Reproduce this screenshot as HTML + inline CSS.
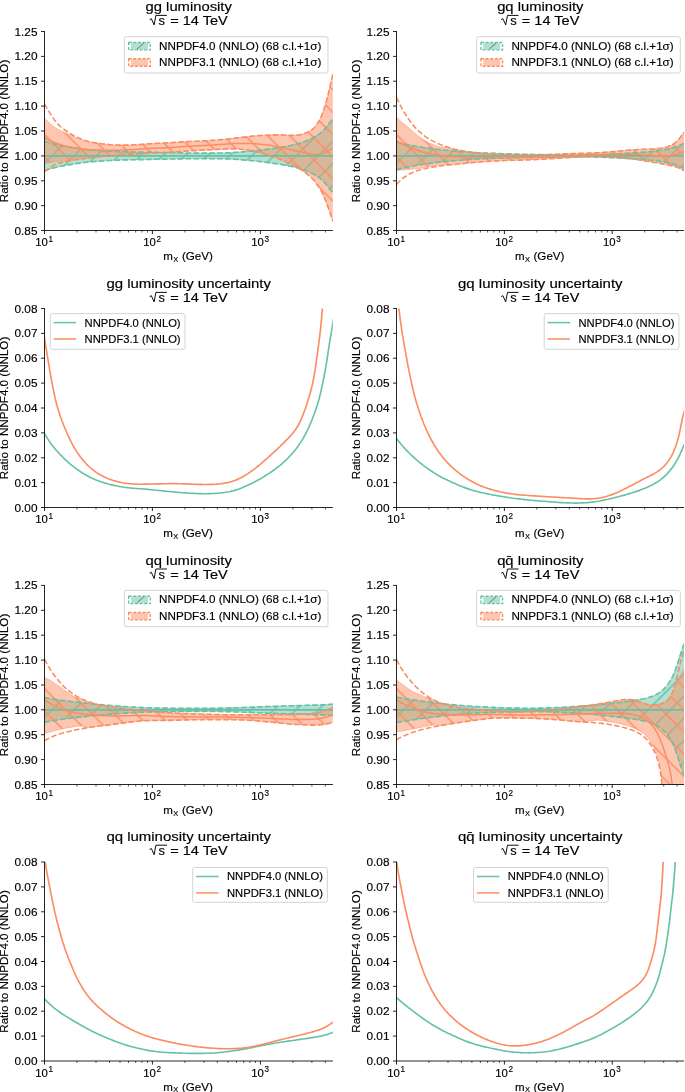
<!DOCTYPE html>
<html lang="en"><head><meta charset="utf-8"><title>PDF luminosities</title>
<style>html,body{margin:0;padding:0;background:#fff}svg{display:block;will-change:transform}</style></head>
<body>
<svg width="685" height="1092" viewBox="0 0 685 1092" font-family='"Liberation Sans", sans-serif' style="display:block;background:#fff">
<style>text{stroke:#000;stroke-width:0.16px;stroke-linejoin:round}</style>
<rect width="685" height="1092" fill="#fff"/>
<defs>
<pattern id="hg00" patternUnits="userSpaceOnUse" x="7.90" y="0" width="22.2" height="22.2"><path d="M-2,2 L2,-2 M-2,24.2 L24.2,-2 M20.2,24.2 L24.2,20.2" stroke="#66c2a5" stroke-width="1.45" fill="none"/></pattern>
<pattern id="ho00" patternUnits="userSpaceOnUse" x="0" y="1.40" width="22.2" height="22.2"><path d="M-2,20.2 L2,24.2 M-2,-2 L24.2,24.2 M20.2,-2 L24.2,2" stroke="#fc8d62" stroke-width="1.45" fill="none"/></pattern>
<pattern id="hg01" patternUnits="userSpaceOnUse" x="4.70" y="0" width="22.2" height="22.2"><path d="M-2,2 L2,-2 M-2,24.2 L24.2,-2 M20.2,24.2 L24.2,20.2" stroke="#66c2a5" stroke-width="1.45" fill="none"/></pattern>
<pattern id="ho01" patternUnits="userSpaceOnUse" x="0" y="4.60" width="22.2" height="22.2"><path d="M-2,20.2 L2,24.2 M-2,-2 L24.2,24.2 M20.2,-2 L24.2,2" stroke="#fc8d62" stroke-width="1.45" fill="none"/></pattern>
<pattern id="hg20" patternUnits="userSpaceOnUse" x="6.90" y="0" width="22.2" height="22.2"><path d="M-2,2 L2,-2 M-2,24.2 L24.2,-2 M20.2,24.2 L24.2,20.2" stroke="#66c2a5" stroke-width="1.45" fill="none"/></pattern>
<pattern id="ho20" patternUnits="userSpaceOnUse" x="0" y="0.40" width="22.2" height="22.2"><path d="M-2,20.2 L2,24.2 M-2,-2 L24.2,24.2 M20.2,-2 L24.2,2" stroke="#fc8d62" stroke-width="1.45" fill="none"/></pattern>
<pattern id="hg21" patternUnits="userSpaceOnUse" x="3.70" y="0" width="22.2" height="22.2"><path d="M-2,2 L2,-2 M-2,24.2 L24.2,-2 M20.2,24.2 L24.2,20.2" stroke="#66c2a5" stroke-width="1.45" fill="none"/></pattern>
<pattern id="ho21" patternUnits="userSpaceOnUse" x="0" y="3.60" width="22.2" height="22.2"><path d="M-2,20.2 L2,24.2 M-2,-2 L24.2,24.2 M20.2,-2 L24.2,2" stroke="#fc8d62" stroke-width="1.45" fill="none"/></pattern>
<clipPath id="cp00"><rect x="44.5" y="31.5" width="288.4" height="199.0"/></clipPath>
<clipPath id="cp01"><rect x="396.5" y="31.5" width="287.6" height="199.0"/></clipPath>
<clipPath id="cp10"><rect x="44.5" y="308.5" width="288.4" height="199.0"/></clipPath>
<clipPath id="cp11"><rect x="396.5" y="308.5" width="287.6" height="199.0"/></clipPath>
<clipPath id="cp20"><rect x="44.5" y="585.4" width="288.4" height="199.1"/></clipPath>
<clipPath id="cp21"><rect x="396.5" y="585.4" width="287.6" height="199.1"/></clipPath>
<clipPath id="cp30"><rect x="44.5" y="862.0" width="288.4" height="199.0"/></clipPath>
<clipPath id="cp31"><rect x="396.5" y="862.0" width="287.6" height="199.0"/></clipPath>
</defs>
<g clip-path="url(#cp10)" fill="none" stroke-width="1.65" stroke-linejoin="round">
<path d="M42.5,430.5 L43.3,431.8 L44.1,433.1 L44.9,434.4 L45.7,435.6 L46.5,436.9 L47.3,438.2 L48.1,439.4 L48.9,440.7 L49.8,441.9 L50.6,443.2 L51.5,444.4 L52.4,445.6 L53.3,446.7 L54.3,447.9 L55.2,449.0 L56.2,450.2 L57.2,451.3 L58.2,452.4 L59.2,453.5 L60.3,454.6 L61.3,455.7 L62.4,456.7 L63.4,457.8 L64.5,458.9 L65.6,459.9 L66.7,460.9 L67.8,461.9 L68.9,462.9 L70.0,463.9 L71.2,464.9 L72.4,465.8 L73.5,466.7 L74.7,467.6 L75.9,468.5 L77.1,469.4 L78.4,470.3 L79.6,471.1 L80.8,472.0 L82.1,472.8 L83.4,473.6 L84.7,474.3 L86.0,475.1 L87.3,475.8 L88.6,476.5 L89.9,477.2 L91.3,477.9 L92.6,478.5 L94.0,479.1 L95.4,479.7 L96.8,480.2 L98.2,480.7 L99.6,481.2 L101.0,481.7 L102.4,482.2 L103.9,482.7 L105.3,483.1 L106.7,483.5 L108.2,484.0 L109.6,484.4 L111.1,484.7 L112.5,485.1 L114.0,485.4 L115.4,485.7 L116.9,486.0 L118.4,486.3 L119.9,486.6 L121.3,486.8 L122.8,487.0 L124.3,487.3 L125.8,487.5 L127.3,487.6 L128.8,487.8 L130.3,488.0 L131.7,488.1 L133.2,488.2 L134.7,488.4 L136.2,488.5 L137.7,488.6 L139.2,488.7 L140.7,488.8 L142.2,488.9 L143.7,489.0 L145.2,489.1 L146.7,489.3 L148.2,489.4 L149.7,489.6 L151.2,489.7 L152.7,489.9 L154.2,490.0 L155.7,490.2 L157.1,490.3 L158.6,490.5 L160.1,490.6 L161.6,490.8 L163.1,490.9 L164.6,491.1 L166.1,491.2 L167.6,491.4 L169.1,491.5 L170.6,491.7 L172.1,491.8 L173.6,492.0 L175.1,492.1 L176.5,492.2 L178.0,492.4 L179.5,492.5 L181.0,492.6 L182.5,492.7 L184.0,492.8 L185.5,492.9 L187.0,493.0 L188.5,493.1 L190.0,493.2 L191.5,493.3 L193.0,493.4 L194.5,493.4 L196.0,493.5 L197.5,493.5 L199.0,493.6 L200.5,493.6 L202.0,493.6 L203.5,493.7 L205.0,493.7 L206.5,493.7 L208.0,493.6 L209.5,493.6 L211.0,493.6 L212.5,493.5 L214.0,493.5 L215.5,493.4 L217.0,493.3 L218.5,493.2 L220.0,493.0 L221.5,492.9 L223.0,492.7 L224.4,492.5 L225.9,492.3 L227.4,492.0 L228.9,491.8 L230.3,491.5 L231.8,491.1 L233.2,490.8 L234.7,490.4 L236.1,489.9 L237.5,489.5 L239.0,489.0 L240.4,488.4 L241.7,487.9 L243.1,487.3 L244.5,486.7 L245.9,486.1 L247.2,485.5 L248.6,484.8 L249.9,484.2 L251.3,483.5 L252.6,482.9 L254.0,482.2 L255.3,481.5 L256.7,480.8 L258.0,480.1 L259.3,479.4 L260.6,478.7 L261.9,477.9 L263.2,477.1 L264.4,476.3 L265.7,475.5 L267.0,474.7 L268.2,473.9 L269.5,473.1 L270.7,472.2 L272.0,471.4 L273.2,470.5 L274.4,469.7 L275.6,468.8 L276.8,467.9 L278.0,467.0 L279.2,466.1 L280.3,465.1 L281.5,464.1 L282.6,463.2 L283.7,462.2 L284.8,461.1 L285.9,460.1 L287.0,459.1 L288.1,458.0 L289.1,456.9 L290.1,455.8 L291.1,454.7 L292.1,453.6 L293.1,452.5 L294.1,451.3 L295.0,450.2 L296.0,449.0 L296.9,447.8 L297.7,446.6 L298.6,445.4 L299.5,444.1 L300.3,442.9 L301.1,441.6 L301.9,440.4 L302.7,439.1 L303.4,437.8 L304.2,436.5 L304.9,435.2 L305.6,433.8 L306.3,432.5 L306.9,431.2 L307.6,429.8 L308.2,428.5 L308.9,427.1 L309.5,425.7 L310.1,424.4 L310.7,423.0 L311.3,421.6 L311.8,420.2 L312.4,418.8 L312.9,417.4 L313.4,416.0 L314.0,414.6 L314.5,413.2 L315.0,411.8 L315.5,410.4 L316.0,408.9 L316.4,407.5 L316.9,406.1 L317.4,404.7 L317.8,403.2 L318.2,401.8 L318.7,400.4 L319.1,398.9 L319.4,397.5 L319.8,396.0 L320.2,394.6 L320.5,393.1 L320.9,391.6 L321.2,390.2 L321.5,388.7 L321.8,387.2 L322.1,385.8 L322.5,384.3 L322.8,382.8 L323.1,381.4 L323.4,379.9 L323.6,378.4 L323.9,377.0 L324.2,375.5 L324.5,374.0 L324.8,372.5 L325.1,371.1 L325.3,369.6 L325.6,368.1 L325.9,366.6 L326.1,365.2 L326.4,363.7 L326.6,362.2 L326.9,360.7 L327.1,359.2 L327.3,357.8 L327.5,356.3 L327.7,354.8 L328.0,353.3 L328.2,351.8 L328.4,350.3 L328.6,348.9 L328.8,347.4 L329.1,345.9 L329.3,344.4 L329.5,342.9 L329.8,341.4 L330.0,340.0 L330.3,338.5 L330.5,337.0 L330.8,335.5 L331.0,334.1 L331.3,332.6 L331.5,331.1 L331.8,329.6 L332.0,328.1 L332.3,326.7 L332.5,325.2 L332.8,323.7 L333.0,322.2 L333.2,320.7 L333.5,319.3 L333.7,317.8 L333.9,316.3 L334.2,314.8 L334.4,313.3 L334.6,311.8 L334.9,310.4" stroke="#66c2a5"/>
<path d="M43.0,327.2 L43.2,328.7 L43.4,330.2 L43.6,331.7 L43.9,333.2 L44.1,334.6 L44.3,336.1 L44.5,337.6 L44.7,339.1 L44.9,340.6 L45.1,342.1 L45.3,343.6 L45.6,345.0 L45.8,346.5 L46.0,348.0 L46.3,349.5 L46.5,351.0 L46.8,352.4 L47.0,353.9 L47.3,355.4 L47.5,356.9 L47.8,358.4 L48.0,359.8 L48.3,361.3 L48.5,362.8 L48.8,364.3 L49.0,365.8 L49.3,367.2 L49.5,368.7 L49.7,370.2 L50.0,371.7 L50.2,373.1 L50.5,374.6 L50.8,376.1 L51.0,377.6 L51.3,379.1 L51.6,380.5 L51.8,382.0 L52.1,383.5 L52.4,384.9 L52.7,386.4 L53.0,387.9 L53.3,389.4 L53.6,390.8 L53.9,392.3 L54.2,393.8 L54.5,395.2 L54.8,396.7 L55.1,398.2 L55.5,399.6 L55.8,401.1 L56.2,402.5 L56.6,404.0 L56.9,405.4 L57.4,406.9 L57.8,408.3 L58.2,409.8 L58.7,411.2 L59.1,412.6 L59.6,414.0 L60.0,415.5 L60.5,416.9 L61.0,418.3 L61.6,419.7 L62.1,421.1 L62.6,422.5 L63.2,423.9 L63.7,425.3 L64.3,426.7 L64.9,428.1 L65.5,429.4 L66.1,430.8 L66.6,432.2 L67.2,433.6 L67.8,435.0 L68.5,436.3 L69.1,437.7 L69.7,439.0 L70.4,440.4 L71.0,441.7 L71.7,443.1 L72.4,444.4 L73.1,445.7 L73.9,447.0 L74.6,448.3 L75.4,449.6 L76.2,450.9 L77.0,452.1 L77.8,453.4 L78.7,454.6 L79.6,455.8 L80.5,457.0 L81.4,458.2 L82.3,459.4 L83.3,460.5 L84.3,461.6 L85.3,462.8 L86.3,463.9 L87.3,464.9 L88.4,466.0 L89.5,467.0 L90.6,468.0 L91.7,469.0 L92.9,469.9 L94.1,470.8 L95.3,471.7 L96.5,472.6 L97.8,473.4 L99.1,474.2 L100.3,474.9 L101.7,475.6 L103.0,476.3 L104.3,477.0 L105.7,477.6 L107.0,478.2 L108.4,478.8 L109.8,479.3 L111.2,479.8 L112.7,480.3 L114.1,480.7 L115.5,481.1 L117.0,481.5 L118.4,481.9 L119.9,482.2 L121.4,482.5 L122.8,482.8 L124.3,483.1 L125.8,483.3 L127.3,483.5 L128.8,483.7 L130.2,483.8 L131.7,483.9 L133.2,484.0 L134.7,484.1 L136.2,484.1 L137.7,484.2 L139.2,484.2 L140.7,484.2 L142.2,484.2 L143.7,484.1 L145.2,484.1 L146.7,484.1 L148.2,484.1 L149.7,484.0 L151.2,484.0 L152.7,484.0 L154.2,483.9 L155.7,483.9 L157.2,483.9 L158.7,483.8 L160.2,483.8 L161.7,483.8 L163.2,483.7 L164.7,483.7 L166.2,483.7 L167.7,483.7 L169.2,483.6 L170.7,483.6 L172.2,483.6 L173.7,483.6 L175.2,483.6 L176.7,483.6 L178.2,483.7 L179.7,483.7 L181.2,483.7 L182.7,483.8 L184.2,483.8 L185.7,483.9 L187.2,483.9 L188.7,484.0 L190.2,484.1 L191.7,484.1 L193.2,484.2 L194.7,484.2 L196.2,484.3 L197.7,484.3 L199.2,484.4 L200.7,484.4 L202.2,484.4 L203.7,484.5 L205.2,484.5 L206.7,484.5 L208.2,484.4 L209.7,484.4 L211.2,484.4 L212.7,484.3 L214.2,484.3 L215.7,484.2 L217.2,484.1 L218.7,484.0 L220.2,483.8 L221.7,483.6 L223.1,483.4 L224.6,483.2 L226.1,482.9 L227.6,482.6 L229.0,482.3 L230.5,481.9 L231.9,481.5 L233.3,481.0 L234.7,480.5 L236.1,479.9 L237.5,479.4 L238.8,478.7 L240.2,478.1 L241.5,477.4 L242.8,476.7 L244.1,475.9 L245.4,475.2 L246.7,474.4 L247.9,473.6 L249.2,472.7 L250.4,471.9 L251.6,471.0 L252.9,470.1 L254.1,469.2 L255.3,468.3 L256.5,467.4 L257.6,466.5 L258.8,465.6 L260.0,464.6 L261.1,463.6 L262.2,462.7 L263.4,461.7 L264.5,460.7 L265.6,459.7 L266.8,458.7 L267.9,457.7 L269.0,456.7 L270.1,455.7 L271.2,454.7 L272.3,453.7 L273.4,452.7 L274.5,451.7 L275.6,450.6 L276.7,449.6 L277.8,448.6 L278.9,447.5 L280.0,446.5 L281.0,445.4 L282.1,444.4 L283.2,443.3 L284.2,442.3 L285.3,441.2 L286.3,440.1 L287.4,439.1 L288.4,438.0 L289.5,436.9 L290.5,435.8 L291.5,434.7 L292.4,433.5 L293.4,432.4 L294.3,431.2 L295.2,430.0 L296.1,428.8 L296.9,427.5 L297.7,426.3 L298.4,425.0 L299.1,423.7 L299.8,422.3 L300.5,421.0 L301.1,419.6 L301.6,418.2 L302.2,416.8 L302.8,415.4 L303.3,414.0 L303.8,412.6 L304.3,411.2 L304.9,409.8 L305.4,408.4 L305.9,407.0 L306.3,405.6 L306.8,404.2 L307.3,402.7 L307.7,401.3 L308.2,399.9 L308.6,398.4 L309.1,397.0 L309.5,395.6 L309.9,394.1 L310.3,392.7 L310.7,391.2 L311.1,389.8 L311.5,388.3 L311.8,386.9 L312.2,385.4 L312.5,384.0 L312.8,382.5 L313.1,381.0 L313.4,379.6 L313.7,378.1 L314.0,376.6 L314.2,375.1 L314.5,373.6 L314.7,372.2 L314.9,370.7 L315.2,369.2 L315.4,367.7 L315.6,366.2 L315.8,364.8 L316.0,363.3 L316.2,361.8 L316.4,360.3 L316.7,358.8 L316.9,357.3 L317.1,355.8 L317.3,354.4 L317.5,352.9 L317.7,351.4 L317.9,349.9 L318.1,348.4 L318.3,346.9 L318.5,345.4 L318.7,344.0 L318.9,342.5 L319.1,341.0 L319.3,339.5 L319.5,338.0 L319.7,336.5 L319.9,335.0 L320.0,333.5 L320.2,332.0 L320.4,330.6 L320.5,329.1 L320.7,327.6 L320.8,326.1 L321.0,324.6 L321.1,323.1 L321.2,321.6 L321.4,320.1 L321.5,318.6 L321.7,317.1 L321.8,315.6 L321.9,314.1 L322.0,312.6 L322.2,311.1 L322.3,309.6 L322.4,308.1 L322.5,306.7 L322.6,305.2 L322.8,303.7 L322.9,302.2 L323.0,300.7 L323.1,299.2 L323.3,297.7 L323.4,296.2 L323.5,294.7 L323.6,293.2 L323.7,291.7 L323.9,290.2 L324.0,288.7 L324.1,287.2 L324.2,285.7 L324.3,284.2 L324.4,282.7 L324.5,281.2 L324.7,279.7 L324.8,278.2 L324.9,276.7 L325.0,275.2 L325.1,273.8 L325.2,272.3 L325.3,270.8 L325.4,269.3 L325.5,267.8 L325.6,266.3 L325.7,264.8 L325.8,263.3 L325.9,261.8 L326.0,260.3 L326.1,258.8 L326.2,257.3 L326.3,255.8 L326.4,254.3 L326.5,252.8 L326.6,251.3 L326.7,249.8 L326.8,248.3 L326.8,246.8 L326.9,245.3 L327.0,243.8 L327.1,242.3 L327.2,240.8 L327.3,239.3 L327.4,237.8 L327.5,236.3 L327.6,234.8 L327.7,233.3 L327.7,231.8 L327.8,230.3 L327.9,228.8 L328.0,227.3 L328.1,225.8 L328.2,224.3 L328.3,222.9 L328.4,221.4 L328.4,219.9 L328.5,218.4 L328.6,216.9 L328.7,215.4 L328.8,213.9 L328.9,212.4 L329.0,210.9 L329.0,209.4 L329.1,207.9 L329.2,206.4 L329.3,204.9 L329.4,203.4 L329.5,201.9 L329.6,200.4 L329.6,198.9 L329.7,197.4 L329.8,195.9 L329.9,194.4 L330.0,192.9 L330.1,191.4 L330.1,189.9 L330.2,188.4 L330.3,186.9 L330.4,185.4 L330.5,183.9 L330.6,182.4 L330.6,180.9 L330.7,179.4 L330.8,177.9 L330.9,176.4 L331.0,174.9 L331.0,173.4 L331.1,171.9 L331.2,170.4 L331.3,168.9 L331.4,167.4 L331.4,165.9 L331.5,164.4 L331.6,162.9 L331.7,161.4 L331.8,159.9 L331.8,158.5 L331.9,157.0 L332.0,155.5 L332.1,154.0 L332.2,152.5 L332.2,151.0 L332.3,149.5 L332.4,148.0 L332.5,146.5 L332.5,145.0 L332.6,143.5 L332.7,142.0 L332.8,140.5 L332.9,139.0 L332.9,137.5 L333.0,136.0 L333.1,134.5 L333.2,133.0 L333.3,131.5 L333.3,130.0 L333.4,128.5 L333.5,127.0 L333.6,125.5 L333.7,124.0 L333.7,122.5 L333.8,121.0 L333.9,119.5 L334.0,118.0 L334.1,116.5" stroke="#fc8d62"/>
</g>
<g clip-path="url(#cp00)" stroke-linejoin="round">
<path d="M44.5,141.1 L46.0,141.6 L47.5,142.1 L49.0,142.5 L50.5,143.0 L52.0,143.4 L53.5,143.8 L55.0,144.1 L56.5,144.5 L58.0,144.8 L59.5,145.1 L61.0,145.4 L62.5,145.8 L64.0,146.0 L65.5,146.3 L67.0,146.6 L68.5,146.9 L70.0,147.1 L71.5,147.4 L73.0,147.6 L74.5,147.9 L76.0,148.1 L77.5,148.3 L79.0,148.5 L80.5,148.7 L82.0,148.9 L83.5,149.1 L85.0,149.3 L86.5,149.5 L88.0,149.6 L89.5,149.8 L91.0,149.9 L92.5,150.1 L94.0,150.2 L95.5,150.3 L97.0,150.4 L98.5,150.5 L100.0,150.7 L101.5,150.8 L103.0,150.9 L104.5,150.9 L106.0,151.0 L107.5,151.1 L109.0,151.2 L110.5,151.3 L112.0,151.4 L113.5,151.4 L115.0,151.5 L116.5,151.6 L118.0,151.6 L119.5,151.7 L121.0,151.7 L122.5,151.8 L124.0,151.8 L125.5,151.9 L127.0,151.9 L128.5,151.9 L130.0,152.0 L131.5,152.0 L133.0,152.0 L134.5,152.0 L136.0,152.1 L137.5,152.1 L139.0,152.1 L140.5,152.1 L142.0,152.1 L143.5,152.2 L145.0,152.2 L146.5,152.2 L148.0,152.3 L149.5,152.3 L151.0,152.3 L152.5,152.3 L154.0,152.4 L155.5,152.4 L157.0,152.4 L158.5,152.5 L160.0,152.5 L161.5,152.5 L163.0,152.6 L164.5,152.6 L166.0,152.6 L167.5,152.6 L169.0,152.7 L170.5,152.7 L172.0,152.7 L173.5,152.8 L175.0,152.8 L176.5,152.8 L178.0,152.8 L179.5,152.9 L181.0,152.9 L182.5,152.9 L184.0,152.9 L185.5,153.0 L187.0,153.0 L188.5,153.0 L190.0,153.0 L191.5,153.0 L193.0,153.0 L194.5,153.1 L196.0,153.1 L197.5,153.1 L199.0,153.1 L200.5,153.1 L202.0,153.1 L203.5,153.1 L205.0,153.1 L206.5,153.1 L208.0,153.1 L209.5,153.1 L211.0,153.1 L212.5,153.1 L214.0,153.1 L215.5,153.1 L217.0,153.0 L218.5,153.0 L220.0,153.0 L221.5,153.0 L223.0,152.9 L224.5,152.9 L226.0,152.8 L227.5,152.8 L229.0,152.7 L230.5,152.7 L232.0,152.6 L233.5,152.5 L235.0,152.4 L236.5,152.3 L238.0,152.2 L239.5,152.1 L241.0,152.0 L242.5,151.9 L244.0,151.8 L245.5,151.6 L247.0,151.5 L248.5,151.4 L250.0,151.2 L251.5,151.1 L253.0,150.9 L254.5,150.8 L256.0,150.6 L257.5,150.5 L259.0,150.3 L260.5,150.1 L262.0,149.9 L263.5,149.8 L265.0,149.6 L266.5,149.4 L268.0,149.2 L269.5,149.0 L271.0,148.8 L272.5,148.6 L274.0,148.4 L275.5,148.2 L277.0,147.9 L278.5,147.7 L280.0,147.5 L281.5,147.2 L283.0,146.9 L284.5,146.7 L286.0,146.4 L287.5,146.1 L289.0,145.8 L290.5,145.5 L292.0,145.1 L293.5,144.8 L295.0,144.4 L296.5,144.0 L298.0,143.6 L299.5,143.2 L301.0,142.7 L302.5,142.3 L304.0,141.7 L305.5,141.2 L307.0,140.6 L308.5,140.0 L310.0,139.3 L311.5,138.6 L313.0,137.8 L314.5,137.0 L316.0,136.1 L317.5,135.2 L319.0,134.2 L320.5,133.0 L322.0,131.7 L323.5,130.2 L325.0,128.7 L326.5,127.0 L328.0,125.0 L329.5,123.0 L331.0,121.2 L332.9,118.9 L332.9,192.8 L331.0,190.5 L329.5,188.8 L328.0,186.8 L326.5,184.8 L325.0,183.1 L323.5,181.5 L322.0,180.1 L320.5,178.7 L319.0,177.5 L317.5,176.5 L316.0,175.6 L314.5,174.7 L313.0,173.9 L311.5,173.2 L310.0,172.5 L308.5,171.8 L307.0,171.2 L305.5,170.6 L304.0,170.0 L302.5,169.5 L301.0,169.0 L299.5,168.6 L298.0,168.1 L296.5,167.7 L295.0,167.3 L293.5,167.0 L292.0,166.6 L290.5,166.3 L289.0,166.0 L287.5,165.7 L286.0,165.4 L284.5,165.1 L283.0,164.8 L281.5,164.5 L280.0,164.3 L278.5,164.1 L277.0,163.8 L275.5,163.6 L274.0,163.4 L272.5,163.2 L271.0,163.0 L269.5,162.8 L268.0,162.6 L266.5,162.4 L265.0,162.2 L263.5,162.0 L262.0,161.8 L260.5,161.6 L259.0,161.5 L257.5,161.3 L256.0,161.1 L254.5,161.0 L253.0,160.8 L251.5,160.7 L250.0,160.5 L248.5,160.4 L247.0,160.3 L245.5,160.1 L244.0,160.0 L242.5,159.9 L241.0,159.7 L239.5,159.6 L238.0,159.5 L236.5,159.4 L235.0,159.3 L233.5,159.2 L232.0,159.2 L230.5,159.1 L229.0,159.0 L227.5,159.0 L226.0,158.9 L224.5,158.9 L223.0,158.8 L221.5,158.8 L220.0,158.8 L218.5,158.7 L217.0,158.7 L215.5,158.7 L214.0,158.7 L212.5,158.7 L211.0,158.7 L209.5,158.7 L208.0,158.6 L206.5,158.6 L205.0,158.6 L203.5,158.6 L202.0,158.6 L200.5,158.7 L199.0,158.7 L197.5,158.7 L196.0,158.7 L194.5,158.7 L193.0,158.7 L191.5,158.7 L190.0,158.7 L188.5,158.8 L187.0,158.8 L185.5,158.8 L184.0,158.8 L182.5,158.8 L181.0,158.9 L179.5,158.9 L178.0,158.9 L176.5,158.9 L175.0,159.0 L173.5,159.0 L172.0,159.0 L170.5,159.0 L169.0,159.1 L167.5,159.1 L166.0,159.1 L164.5,159.2 L163.0,159.2 L161.5,159.2 L160.0,159.3 L158.5,159.3 L157.0,159.3 L155.5,159.3 L154.0,159.4 L152.5,159.4 L151.0,159.4 L149.5,159.5 L148.0,159.5 L146.5,159.5 L145.0,159.6 L143.5,159.6 L142.0,159.6 L140.5,159.6 L139.0,159.6 L137.5,159.7 L136.0,159.7 L134.5,159.7 L133.0,159.7 L131.5,159.8 L130.0,159.8 L128.5,159.8 L127.0,159.9 L125.5,159.9 L124.0,159.9 L122.5,160.0 L121.0,160.0 L119.5,160.1 L118.0,160.1 L116.5,160.2 L115.0,160.2 L113.5,160.3 L112.0,160.4 L110.5,160.5 L109.0,160.5 L107.5,160.6 L106.0,160.7 L104.5,160.8 L103.0,160.9 L101.5,161.0 L100.0,161.1 L98.5,161.2 L97.0,161.3 L95.5,161.4 L94.0,161.6 L92.5,161.7 L91.0,161.8 L89.5,162.0 L88.0,162.1 L86.5,162.3 L85.0,162.5 L83.5,162.6 L82.0,162.8 L80.5,163.0 L79.0,163.2 L77.5,163.4 L76.0,163.7 L74.5,163.9 L73.0,164.1 L71.5,164.4 L70.0,164.6 L68.5,164.9 L67.0,165.1 L65.5,165.4 L64.0,165.7 L62.5,166.0 L61.0,166.3 L59.5,166.6 L58.0,166.9 L56.5,167.3 L55.0,167.6 L53.5,168.0 L52.0,168.4 L50.5,168.8 L49.0,169.2 L47.5,169.7 L46.0,170.2 L44.5,170.6Z" fill="#66c2a5" fill-opacity="0.5" stroke="none"/>
<path d="M44.5,141.1 L46.0,141.6 L47.5,142.1 L49.0,142.5 L50.5,143.0 L52.0,143.4 L53.5,143.8 L55.0,144.1 L56.5,144.5 L58.0,144.8 L59.5,145.1 L61.0,145.4 L62.5,145.8 L64.0,146.0 L65.5,146.3 L67.0,146.6 L68.5,146.9 L70.0,147.1 L71.5,147.4 L73.0,147.6 L74.5,147.9 L76.0,148.1 L77.5,148.3 L79.0,148.5 L80.5,148.7 L82.0,148.9 L83.5,149.1 L85.0,149.3 L86.5,149.5 L88.0,149.6 L89.5,149.8 L91.0,149.9 L92.5,150.1 L94.0,150.2 L95.5,150.3 L97.0,150.4 L98.5,150.5 L100.0,150.7 L101.5,150.8 L103.0,150.9 L104.5,150.9 L106.0,151.0 L107.5,151.1 L109.0,151.2 L110.5,151.3 L112.0,151.4 L113.5,151.4 L115.0,151.5 L116.5,151.6 L118.0,151.6 L119.5,151.7 L121.0,151.7 L122.5,151.8 L124.0,151.8 L125.5,151.9 L127.0,151.9 L128.5,151.9 L130.0,152.0 L131.5,152.0 L133.0,152.0 L134.5,152.0 L136.0,152.1 L137.5,152.1 L139.0,152.1 L140.5,152.1 L142.0,152.1 L143.5,152.2 L145.0,152.2 L146.5,152.2 L148.0,152.3 L149.5,152.3 L151.0,152.3 L152.5,152.3 L154.0,152.4 L155.5,152.4 L157.0,152.4 L158.5,152.5 L160.0,152.5 L161.5,152.5 L163.0,152.6 L164.5,152.6 L166.0,152.6 L167.5,152.6 L169.0,152.7 L170.5,152.7 L172.0,152.7 L173.5,152.8 L175.0,152.8 L176.5,152.8 L178.0,152.8 L179.5,152.9 L181.0,152.9 L182.5,152.9 L184.0,152.9 L185.5,153.0 L187.0,153.0 L188.5,153.0 L190.0,153.0 L191.5,153.0 L193.0,153.0 L194.5,153.1 L196.0,153.1 L197.5,153.1 L199.0,153.1 L200.5,153.1 L202.0,153.1 L203.5,153.1 L205.0,153.1 L206.5,153.1 L208.0,153.1 L209.5,153.1 L211.0,153.1 L212.5,153.1 L214.0,153.1 L215.5,153.1 L217.0,153.0 L218.5,153.0 L220.0,153.0 L221.5,153.0 L223.0,152.9 L224.5,152.9 L226.0,152.8 L227.5,152.8 L229.0,152.7 L230.5,152.7 L232.0,152.6 L233.5,152.5 L235.0,152.4 L236.5,152.3 L238.0,152.2 L239.5,152.1 L241.0,152.0 L242.5,151.9 L244.0,151.8 L245.5,151.6 L247.0,151.5 L248.5,151.4 L250.0,151.2 L251.5,151.1 L253.0,150.9 L254.5,150.8 L256.0,150.6 L257.5,150.5 L259.0,150.3 L260.5,150.1 L262.0,149.9 L263.5,149.8 L265.0,149.6 L266.5,149.4 L268.0,149.2 L269.5,149.0 L271.0,148.8 L272.5,148.6 L274.0,148.4 L275.5,148.2 L277.0,147.9 L278.5,147.7 L280.0,147.5 L281.5,147.2 L283.0,146.9 L284.5,146.7 L286.0,146.4 L287.5,146.1 L289.0,145.8 L290.5,145.5 L292.0,145.1 L293.5,144.8 L295.0,144.4 L296.5,144.0 L298.0,143.6 L299.5,143.2 L301.0,142.7 L302.5,142.3 L304.0,141.7 L305.5,141.2 L307.0,140.6 L308.5,140.0 L310.0,139.3 L311.5,138.6 L313.0,137.8 L314.5,137.0 L316.0,136.1 L317.5,135.2 L319.0,134.2 L320.5,133.0 L322.0,131.7 L323.5,130.2 L325.0,128.7 L326.5,127.0 L328.0,125.0 L329.5,123.0 L331.0,121.2 L332.9,118.9 L332.9,192.8 L331.0,190.5 L329.5,188.8 L328.0,186.8 L326.5,184.8 L325.0,183.1 L323.5,181.5 L322.0,180.1 L320.5,178.7 L319.0,177.5 L317.5,176.5 L316.0,175.6 L314.5,174.7 L313.0,173.9 L311.5,173.2 L310.0,172.5 L308.5,171.8 L307.0,171.2 L305.5,170.6 L304.0,170.0 L302.5,169.5 L301.0,169.0 L299.5,168.6 L298.0,168.1 L296.5,167.7 L295.0,167.3 L293.5,167.0 L292.0,166.6 L290.5,166.3 L289.0,166.0 L287.5,165.7 L286.0,165.4 L284.5,165.1 L283.0,164.8 L281.5,164.5 L280.0,164.3 L278.5,164.1 L277.0,163.8 L275.5,163.6 L274.0,163.4 L272.5,163.2 L271.0,163.0 L269.5,162.8 L268.0,162.6 L266.5,162.4 L265.0,162.2 L263.5,162.0 L262.0,161.8 L260.5,161.6 L259.0,161.5 L257.5,161.3 L256.0,161.1 L254.5,161.0 L253.0,160.8 L251.5,160.7 L250.0,160.5 L248.5,160.4 L247.0,160.3 L245.5,160.1 L244.0,160.0 L242.5,159.9 L241.0,159.7 L239.5,159.6 L238.0,159.5 L236.5,159.4 L235.0,159.3 L233.5,159.2 L232.0,159.2 L230.5,159.1 L229.0,159.0 L227.5,159.0 L226.0,158.9 L224.5,158.9 L223.0,158.8 L221.5,158.8 L220.0,158.8 L218.5,158.7 L217.0,158.7 L215.5,158.7 L214.0,158.7 L212.5,158.7 L211.0,158.7 L209.5,158.7 L208.0,158.6 L206.5,158.6 L205.0,158.6 L203.5,158.6 L202.0,158.6 L200.5,158.7 L199.0,158.7 L197.5,158.7 L196.0,158.7 L194.5,158.7 L193.0,158.7 L191.5,158.7 L190.0,158.7 L188.5,158.8 L187.0,158.8 L185.5,158.8 L184.0,158.8 L182.5,158.8 L181.0,158.9 L179.5,158.9 L178.0,158.9 L176.5,158.9 L175.0,159.0 L173.5,159.0 L172.0,159.0 L170.5,159.0 L169.0,159.1 L167.5,159.1 L166.0,159.1 L164.5,159.2 L163.0,159.2 L161.5,159.2 L160.0,159.3 L158.5,159.3 L157.0,159.3 L155.5,159.3 L154.0,159.4 L152.5,159.4 L151.0,159.4 L149.5,159.5 L148.0,159.5 L146.5,159.5 L145.0,159.6 L143.5,159.6 L142.0,159.6 L140.5,159.6 L139.0,159.6 L137.5,159.7 L136.0,159.7 L134.5,159.7 L133.0,159.7 L131.5,159.8 L130.0,159.8 L128.5,159.8 L127.0,159.9 L125.5,159.9 L124.0,159.9 L122.5,160.0 L121.0,160.0 L119.5,160.1 L118.0,160.1 L116.5,160.2 L115.0,160.2 L113.5,160.3 L112.0,160.4 L110.5,160.5 L109.0,160.5 L107.5,160.6 L106.0,160.7 L104.5,160.8 L103.0,160.9 L101.5,161.0 L100.0,161.1 L98.5,161.2 L97.0,161.3 L95.5,161.4 L94.0,161.6 L92.5,161.7 L91.0,161.8 L89.5,162.0 L88.0,162.1 L86.5,162.3 L85.0,162.5 L83.5,162.6 L82.0,162.8 L80.5,163.0 L79.0,163.2 L77.5,163.4 L76.0,163.7 L74.5,163.9 L73.0,164.1 L71.5,164.4 L70.0,164.6 L68.5,164.9 L67.0,165.1 L65.5,165.4 L64.0,165.7 L62.5,166.0 L61.0,166.3 L59.5,166.6 L58.0,166.9 L56.5,167.3 L55.0,167.6 L53.5,168.0 L52.0,168.4 L50.5,168.8 L49.0,169.2 L47.5,169.7 L46.0,170.2 L44.5,170.6Z" fill="url(#hg00)" stroke="none"/>
<path d="M44.5,141.1 L46.0,141.6 L47.5,142.1 L49.0,142.5 L50.5,143.0 L52.0,143.4 L53.5,143.8 L55.0,144.1 L56.5,144.5 L58.0,144.8 L59.5,145.1 L61.0,145.4 L62.5,145.8 L64.0,146.0 L65.5,146.3 L67.0,146.6 L68.5,146.9 L70.0,147.1 L71.5,147.4 L73.0,147.6 L74.5,147.9 L76.0,148.1 L77.5,148.3 L79.0,148.5 L80.5,148.7 L82.0,148.9 L83.5,149.1 L85.0,149.3 L86.5,149.5 L88.0,149.6 L89.5,149.8 L91.0,149.9 L92.5,150.1 L94.0,150.2 L95.5,150.3 L97.0,150.4 L98.5,150.5 L100.0,150.7 L101.5,150.8 L103.0,150.9 L104.5,150.9 L106.0,151.0 L107.5,151.1 L109.0,151.2 L110.5,151.3 L112.0,151.4 L113.5,151.4 L115.0,151.5 L116.5,151.6 L118.0,151.6 L119.5,151.7 L121.0,151.7 L122.5,151.8 L124.0,151.8 L125.5,151.9 L127.0,151.9 L128.5,151.9 L130.0,152.0 L131.5,152.0 L133.0,152.0 L134.5,152.0 L136.0,152.1 L137.5,152.1 L139.0,152.1 L140.5,152.1 L142.0,152.1 L143.5,152.2 L145.0,152.2 L146.5,152.2 L148.0,152.3 L149.5,152.3 L151.0,152.3 L152.5,152.3 L154.0,152.4 L155.5,152.4 L157.0,152.4 L158.5,152.5 L160.0,152.5 L161.5,152.5 L163.0,152.6 L164.5,152.6 L166.0,152.6 L167.5,152.6 L169.0,152.7 L170.5,152.7 L172.0,152.7 L173.5,152.8 L175.0,152.8 L176.5,152.8 L178.0,152.8 L179.5,152.9 L181.0,152.9 L182.5,152.9 L184.0,152.9 L185.5,153.0 L187.0,153.0 L188.5,153.0 L190.0,153.0 L191.5,153.0 L193.0,153.0 L194.5,153.1 L196.0,153.1 L197.5,153.1 L199.0,153.1 L200.5,153.1 L202.0,153.1 L203.5,153.1 L205.0,153.1 L206.5,153.1 L208.0,153.1 L209.5,153.1 L211.0,153.1 L212.5,153.1 L214.0,153.1 L215.5,153.1 L217.0,153.0 L218.5,153.0 L220.0,153.0 L221.5,153.0 L223.0,152.9 L224.5,152.9 L226.0,152.8 L227.5,152.8 L229.0,152.7 L230.5,152.7 L232.0,152.6 L233.5,152.5 L235.0,152.4 L236.5,152.3 L238.0,152.2 L239.5,152.1 L241.0,152.0 L242.5,151.9 L244.0,151.8 L245.5,151.6 L247.0,151.5 L248.5,151.4 L250.0,151.2 L251.5,151.1 L253.0,150.9 L254.5,150.8 L256.0,150.6 L257.5,150.5 L259.0,150.3 L260.5,150.1 L262.0,149.9 L263.5,149.8 L265.0,149.6 L266.5,149.4 L268.0,149.2 L269.5,149.0 L271.0,148.8 L272.5,148.6 L274.0,148.4 L275.5,148.2 L277.0,147.9 L278.5,147.7 L280.0,147.5 L281.5,147.2 L283.0,146.9 L284.5,146.7 L286.0,146.4 L287.5,146.1 L289.0,145.8 L290.5,145.5 L292.0,145.1 L293.5,144.8 L295.0,144.4 L296.5,144.0 L298.0,143.6 L299.5,143.2 L301.0,142.7 L302.5,142.3 L304.0,141.7 L305.5,141.2 L307.0,140.6 L308.5,140.0 L310.0,139.3 L311.5,138.6 L313.0,137.8 L314.5,137.0 L316.0,136.1 L317.5,135.2 L319.0,134.2 L320.5,133.0 L322.0,131.7 L323.5,130.2 L325.0,128.7 L326.5,127.0 L328.0,125.0 L329.5,123.0 L331.0,121.2 L332.9,118.9 M44.5,170.6 L46.0,170.2 L47.5,169.7 L49.0,169.2 L50.5,168.8 L52.0,168.4 L53.5,168.0 L55.0,167.6 L56.5,167.3 L58.0,166.9 L59.5,166.6 L61.0,166.3 L62.5,166.0 L64.0,165.7 L65.5,165.4 L67.0,165.1 L68.5,164.9 L70.0,164.6 L71.5,164.4 L73.0,164.1 L74.5,163.9 L76.0,163.7 L77.5,163.4 L79.0,163.2 L80.5,163.0 L82.0,162.8 L83.5,162.6 L85.0,162.5 L86.5,162.3 L88.0,162.1 L89.5,162.0 L91.0,161.8 L92.5,161.7 L94.0,161.6 L95.5,161.4 L97.0,161.3 L98.5,161.2 L100.0,161.1 L101.5,161.0 L103.0,160.9 L104.5,160.8 L106.0,160.7 L107.5,160.6 L109.0,160.5 L110.5,160.5 L112.0,160.4 L113.5,160.3 L115.0,160.2 L116.5,160.2 L118.0,160.1 L119.5,160.1 L121.0,160.0 L122.5,160.0 L124.0,159.9 L125.5,159.9 L127.0,159.9 L128.5,159.8 L130.0,159.8 L131.5,159.8 L133.0,159.7 L134.5,159.7 L136.0,159.7 L137.5,159.7 L139.0,159.6 L140.5,159.6 L142.0,159.6 L143.5,159.6 L145.0,159.6 L146.5,159.5 L148.0,159.5 L149.5,159.5 L151.0,159.4 L152.5,159.4 L154.0,159.4 L155.5,159.3 L157.0,159.3 L158.5,159.3 L160.0,159.3 L161.5,159.2 L163.0,159.2 L164.5,159.2 L166.0,159.1 L167.5,159.1 L169.0,159.1 L170.5,159.0 L172.0,159.0 L173.5,159.0 L175.0,159.0 L176.5,158.9 L178.0,158.9 L179.5,158.9 L181.0,158.9 L182.5,158.8 L184.0,158.8 L185.5,158.8 L187.0,158.8 L188.5,158.8 L190.0,158.7 L191.5,158.7 L193.0,158.7 L194.5,158.7 L196.0,158.7 L197.5,158.7 L199.0,158.7 L200.5,158.7 L202.0,158.6 L203.5,158.6 L205.0,158.6 L206.5,158.6 L208.0,158.6 L209.5,158.7 L211.0,158.7 L212.5,158.7 L214.0,158.7 L215.5,158.7 L217.0,158.7 L218.5,158.7 L220.0,158.8 L221.5,158.8 L223.0,158.8 L224.5,158.9 L226.0,158.9 L227.5,159.0 L229.0,159.0 L230.5,159.1 L232.0,159.2 L233.5,159.2 L235.0,159.3 L236.5,159.4 L238.0,159.5 L239.5,159.6 L241.0,159.7 L242.5,159.9 L244.0,160.0 L245.5,160.1 L247.0,160.3 L248.5,160.4 L250.0,160.5 L251.5,160.7 L253.0,160.8 L254.5,161.0 L256.0,161.1 L257.5,161.3 L259.0,161.5 L260.5,161.6 L262.0,161.8 L263.5,162.0 L265.0,162.2 L266.5,162.4 L268.0,162.6 L269.5,162.8 L271.0,163.0 L272.5,163.2 L274.0,163.4 L275.5,163.6 L277.0,163.8 L278.5,164.1 L280.0,164.3 L281.5,164.5 L283.0,164.8 L284.5,165.1 L286.0,165.4 L287.5,165.7 L289.0,166.0 L290.5,166.3 L292.0,166.6 L293.5,167.0 L295.0,167.3 L296.5,167.7 L298.0,168.1 L299.5,168.6 L301.0,169.0 L302.5,169.5 L304.0,170.0 L305.5,170.6 L307.0,171.2 L308.5,171.8 L310.0,172.5 L311.5,173.2 L313.0,173.9 L314.5,174.7 L316.0,175.6 L317.5,176.5 L319.0,177.5 L320.5,178.7 L322.0,180.1 L323.5,181.5 L325.0,183.1 L326.5,184.8 L328.0,186.8 L329.5,188.8 L331.0,190.5 L332.9,192.8" fill="none" stroke="#66c2a5" stroke-opacity="0.6" stroke-width="0.8"/>
<path d="M44.5,118.2 L46.0,119.7 L47.5,121.2 L49.0,122.6 L50.5,124.0 L52.0,125.2 L53.5,126.3 L55.0,127.4 L56.5,128.3 L58.0,129.2 L59.5,130.0 L61.0,130.8 L62.5,131.5 L64.0,132.2 L65.5,132.9 L67.0,133.5 L68.5,134.2 L70.0,134.9 L71.5,135.5 L73.0,136.2 L74.5,136.9 L76.0,137.5 L77.5,138.1 L79.0,138.7 L80.5,139.3 L82.0,139.8 L83.5,140.2 L85.0,140.6 L86.5,141.0 L88.0,141.4 L89.5,141.7 L91.0,142.1 L92.5,142.4 L94.0,142.7 L95.5,142.9 L97.0,143.1 L98.5,143.4 L100.0,143.6 L101.5,143.8 L103.0,144.0 L104.5,144.1 L106.0,144.3 L107.5,144.4 L109.0,144.6 L110.5,144.7 L112.0,144.8 L113.5,144.9 L115.0,145.0 L116.5,145.0 L118.0,145.1 L119.5,145.1 L121.0,145.1 L122.5,145.1 L124.0,145.1 L125.5,145.1 L127.0,145.1 L128.5,145.1 L130.0,145.0 L131.5,145.0 L133.0,144.9 L134.5,144.8 L136.0,144.7 L137.5,144.6 L139.0,144.5 L140.5,144.4 L142.0,144.3 L143.5,144.2 L145.0,144.1 L146.5,144.0 L148.0,143.9 L149.5,143.8 L151.0,143.7 L152.5,143.6 L154.0,143.5 L155.5,143.4 L157.0,143.4 L158.5,143.3 L160.0,143.2 L161.5,143.2 L163.0,143.1 L164.5,143.0 L166.0,143.0 L167.5,142.9 L169.0,142.8 L170.5,142.7 L172.0,142.6 L173.5,142.5 L175.0,142.4 L176.5,142.3 L178.0,142.2 L179.5,142.1 L181.0,141.9 L182.5,141.9 L184.0,141.8 L185.5,141.7 L187.0,141.6 L188.5,141.6 L190.0,141.5 L191.5,141.4 L193.0,141.4 L194.5,141.3 L196.0,141.3 L197.5,141.2 L199.0,141.1 L200.5,141.1 L202.0,141.0 L203.5,140.9 L205.0,140.8 L206.5,140.8 L208.0,140.7 L209.5,140.6 L211.0,140.5 L212.5,140.4 L214.0,140.3 L215.5,140.2 L217.0,140.1 L218.5,139.9 L220.0,139.8 L221.5,139.6 L223.0,139.5 L224.5,139.3 L226.0,139.2 L227.5,139.0 L229.0,138.9 L230.5,138.7 L232.0,138.5 L233.5,138.3 L235.0,138.1 L236.5,137.9 L238.0,137.8 L239.5,137.6 L241.0,137.4 L242.5,137.3 L244.0,137.1 L245.5,136.9 L247.0,136.7 L248.5,136.5 L250.0,136.4 L251.5,136.2 L253.0,136.0 L254.5,135.9 L256.0,135.8 L257.5,135.7 L259.0,135.6 L260.5,135.5 L262.0,135.4 L263.5,135.3 L265.0,135.3 L266.5,135.2 L268.0,135.1 L269.5,135.0 L271.0,135.0 L272.5,134.9 L274.0,134.9 L275.5,134.9 L277.0,134.9 L278.5,134.9 L280.0,134.9 L281.5,134.9 L283.0,135.0 L284.5,135.0 L286.0,135.1 L287.5,135.2 L289.0,135.3 L290.5,135.3 L292.0,135.4 L293.5,135.4 L295.0,135.3 L296.5,135.2 L298.0,135.1 L299.5,134.9 L301.0,134.5 L302.5,134.1 L304.0,133.6 L305.5,133.1 L307.0,132.4 L308.5,131.8 L310.0,131.0 L311.5,130.1 L313.0,129.0 L314.5,127.5 L316.0,125.5 L317.5,123.4 L319.0,121.0 L320.5,118.2 L322.0,114.6 L323.5,110.5 L325.0,106.0 L326.5,100.8 L328.0,95.0 L329.5,88.9 L331.0,82.3 L332.9,73.7 L332.9,221.4 L331.0,215.7 L329.5,211.3 L328.0,207.0 L326.5,202.8 L325.0,199.0 L323.5,195.6 L322.0,192.4 L320.5,189.6 L319.0,187.3 L317.5,185.2 L316.0,183.1 L314.5,181.1 L313.0,179.3 L311.5,177.8 L310.0,176.4 L308.5,175.2 L307.0,174.0 L305.5,172.9 L304.0,171.7 L302.5,170.7 L301.0,169.6 L299.5,168.7 L298.0,167.8 L296.5,167.0 L295.0,166.2 L293.5,165.5 L292.0,164.7 L290.5,164.0 L289.0,163.3 L287.5,162.6 L286.0,161.9 L284.5,161.2 L283.0,160.6 L281.5,159.9 L280.0,159.3 L278.5,158.7 L277.0,158.1 L275.5,157.6 L274.0,157.0 L272.5,156.5 L271.0,156.0 L269.5,155.5 L268.0,155.0 L266.5,154.6 L265.0,154.1 L263.5,153.7 L262.0,153.3 L260.5,152.9 L259.0,152.5 L257.5,152.1 L256.0,151.7 L254.5,151.3 L253.0,151.0 L251.5,150.8 L250.0,150.5 L248.5,150.3 L247.0,150.1 L245.5,149.9 L244.0,149.7 L242.5,149.5 L241.0,149.4 L239.5,149.2 L238.0,149.1 L236.5,149.0 L235.0,148.9 L233.5,148.9 L232.0,148.9 L230.5,148.9 L229.0,148.9 L227.5,149.0 L226.0,149.0 L224.5,149.1 L223.0,149.1 L221.5,149.2 L220.0,149.3 L218.5,149.3 L217.0,149.4 L215.5,149.5 L214.0,149.6 L212.5,149.7 L211.0,149.7 L209.5,149.8 L208.0,149.9 L206.5,150.0 L205.0,150.1 L203.5,150.1 L202.0,150.2 L200.5,150.3 L199.0,150.4 L197.5,150.5 L196.0,150.6 L194.5,150.6 L193.0,150.7 L191.5,150.8 L190.0,150.9 L188.5,151.0 L187.0,151.0 L185.5,151.1 L184.0,151.2 L182.5,151.3 L181.0,151.5 L179.5,151.6 L178.0,151.7 L176.5,151.8 L175.0,152.0 L173.5,152.1 L172.0,152.2 L170.5,152.3 L169.0,152.4 L167.5,152.4 L166.0,152.5 L164.5,152.6 L163.0,152.6 L161.5,152.7 L160.0,152.7 L158.5,152.8 L157.0,152.8 L155.5,152.9 L154.0,153.0 L152.5,153.0 L151.0,153.1 L149.5,153.2 L148.0,153.3 L146.5,153.4 L145.0,153.5 L143.5,153.5 L142.0,153.6 L140.5,153.7 L139.0,153.8 L137.5,153.9 L136.0,154.1 L134.5,154.2 L133.0,154.3 L131.5,154.4 L130.0,154.5 L128.5,154.6 L127.0,154.7 L125.5,154.8 L124.0,154.9 L122.5,155.0 L121.0,155.2 L119.5,155.3 L118.0,155.4 L116.5,155.5 L115.0,155.6 L113.5,155.7 L112.0,155.8 L110.5,155.9 L109.0,156.0 L107.5,156.1 L106.0,156.2 L104.5,156.3 L103.0,156.4 L101.5,156.5 L100.0,156.7 L98.5,156.8 L97.0,157.0 L95.5,157.2 L94.0,157.4 L92.5,157.5 L91.0,157.7 L89.5,157.9 L88.0,158.1 L86.5,158.3 L85.0,158.5 L83.5,158.6 L82.0,158.8 L80.5,159.0 L79.0,159.2 L77.5,159.4 L76.0,159.6 L74.5,159.8 L73.0,160.1 L71.5,160.5 L70.0,160.8 L68.5,161.1 L67.0,161.1 L65.5,161.1 L64.0,161.1 L62.5,161.1 L61.0,161.1 L59.5,161.2 L58.0,161.4 L56.5,161.5 L55.0,161.8 L53.5,162.0 L52.0,162.2 L50.5,162.5 L49.0,162.7 L47.5,163.0 L46.0,163.3 L44.5,163.6Z" fill="#fc8d62" fill-opacity="0.5" stroke="none"/>
<path d="M44.5,118.2 L46.0,119.7 L47.5,121.2 L49.0,122.6 L50.5,124.0 L52.0,125.2 L53.5,126.3 L55.0,127.4 L56.5,128.3 L58.0,129.2 L59.5,130.0 L61.0,130.8 L62.5,131.5 L64.0,132.2 L65.5,132.9 L67.0,133.5 L68.5,134.2 L70.0,134.9 L71.5,135.5 L73.0,136.2 L74.5,136.9 L76.0,137.5 L77.5,138.1 L79.0,138.7 L80.5,139.3 L82.0,139.8 L83.5,140.2 L85.0,140.6 L86.5,141.0 L88.0,141.4 L89.5,141.7 L91.0,142.1 L92.5,142.4 L94.0,142.7 L95.5,142.9 L97.0,143.1 L98.5,143.4 L100.0,143.6 L101.5,143.8 L103.0,144.0 L104.5,144.1 L106.0,144.3 L107.5,144.4 L109.0,144.6 L110.5,144.7 L112.0,144.8 L113.5,144.9 L115.0,145.0 L116.5,145.0 L118.0,145.1 L119.5,145.1 L121.0,145.1 L122.5,145.1 L124.0,145.1 L125.5,145.1 L127.0,145.1 L128.5,145.1 L130.0,145.0 L131.5,145.0 L133.0,144.9 L134.5,144.8 L136.0,144.7 L137.5,144.6 L139.0,144.5 L140.5,144.4 L142.0,144.3 L143.5,144.2 L145.0,144.1 L146.5,144.0 L148.0,143.9 L149.5,143.8 L151.0,143.7 L152.5,143.6 L154.0,143.5 L155.5,143.4 L157.0,143.4 L158.5,143.3 L160.0,143.2 L161.5,143.2 L163.0,143.1 L164.5,143.0 L166.0,143.0 L167.5,142.9 L169.0,142.8 L170.5,142.7 L172.0,142.6 L173.5,142.5 L175.0,142.4 L176.5,142.3 L178.0,142.2 L179.5,142.1 L181.0,141.9 L182.5,141.9 L184.0,141.8 L185.5,141.7 L187.0,141.6 L188.5,141.6 L190.0,141.5 L191.5,141.4 L193.0,141.4 L194.5,141.3 L196.0,141.3 L197.5,141.2 L199.0,141.1 L200.5,141.1 L202.0,141.0 L203.5,140.9 L205.0,140.8 L206.5,140.8 L208.0,140.7 L209.5,140.6 L211.0,140.5 L212.5,140.4 L214.0,140.3 L215.5,140.2 L217.0,140.1 L218.5,139.9 L220.0,139.8 L221.5,139.6 L223.0,139.5 L224.5,139.3 L226.0,139.2 L227.5,139.0 L229.0,138.9 L230.5,138.7 L232.0,138.5 L233.5,138.3 L235.0,138.1 L236.5,137.9 L238.0,137.8 L239.5,137.6 L241.0,137.4 L242.5,137.3 L244.0,137.1 L245.5,136.9 L247.0,136.7 L248.5,136.5 L250.0,136.4 L251.5,136.2 L253.0,136.0 L254.5,135.9 L256.0,135.8 L257.5,135.7 L259.0,135.6 L260.5,135.5 L262.0,135.4 L263.5,135.3 L265.0,135.3 L266.5,135.2 L268.0,135.1 L269.5,135.0 L271.0,135.0 L272.5,134.9 L274.0,134.9 L275.5,134.9 L277.0,134.9 L278.5,134.9 L280.0,134.9 L281.5,134.9 L283.0,135.0 L284.5,135.0 L286.0,135.1 L287.5,135.2 L289.0,135.3 L290.5,135.3 L292.0,135.4 L293.5,135.4 L295.0,135.3 L296.5,135.2 L298.0,135.1 L299.5,134.9 L301.0,134.5 L302.5,134.1 L304.0,133.6 L305.5,133.1 L307.0,132.4 L308.5,131.8 L310.0,131.0 L311.5,130.1 L313.0,129.0 L314.5,127.5 L316.0,125.5 L317.5,123.4 L319.0,121.0 L320.5,118.2 L322.0,114.6 L323.5,110.5 L325.0,106.0 L326.5,100.8 L328.0,95.0 L329.5,88.9 L331.0,82.3 L332.9,73.7 L332.9,221.4 L331.0,215.7 L329.5,211.3 L328.0,207.0 L326.5,202.8 L325.0,199.0 L323.5,195.6 L322.0,192.4 L320.5,189.6 L319.0,187.3 L317.5,185.2 L316.0,183.1 L314.5,181.1 L313.0,179.3 L311.5,177.8 L310.0,176.4 L308.5,175.2 L307.0,174.0 L305.5,172.9 L304.0,171.7 L302.5,170.7 L301.0,169.6 L299.5,168.7 L298.0,167.8 L296.5,167.0 L295.0,166.2 L293.5,165.5 L292.0,164.7 L290.5,164.0 L289.0,163.3 L287.5,162.6 L286.0,161.9 L284.5,161.2 L283.0,160.6 L281.5,159.9 L280.0,159.3 L278.5,158.7 L277.0,158.1 L275.5,157.6 L274.0,157.0 L272.5,156.5 L271.0,156.0 L269.5,155.5 L268.0,155.0 L266.5,154.6 L265.0,154.1 L263.5,153.7 L262.0,153.3 L260.5,152.9 L259.0,152.5 L257.5,152.1 L256.0,151.7 L254.5,151.3 L253.0,151.0 L251.5,150.8 L250.0,150.5 L248.5,150.3 L247.0,150.1 L245.5,149.9 L244.0,149.7 L242.5,149.5 L241.0,149.4 L239.5,149.2 L238.0,149.1 L236.5,149.0 L235.0,148.9 L233.5,148.9 L232.0,148.9 L230.5,148.9 L229.0,148.9 L227.5,149.0 L226.0,149.0 L224.5,149.1 L223.0,149.1 L221.5,149.2 L220.0,149.3 L218.5,149.3 L217.0,149.4 L215.5,149.5 L214.0,149.6 L212.5,149.7 L211.0,149.7 L209.5,149.8 L208.0,149.9 L206.5,150.0 L205.0,150.1 L203.5,150.1 L202.0,150.2 L200.5,150.3 L199.0,150.4 L197.5,150.5 L196.0,150.6 L194.5,150.6 L193.0,150.7 L191.5,150.8 L190.0,150.9 L188.5,151.0 L187.0,151.0 L185.5,151.1 L184.0,151.2 L182.5,151.3 L181.0,151.5 L179.5,151.6 L178.0,151.7 L176.5,151.8 L175.0,152.0 L173.5,152.1 L172.0,152.2 L170.5,152.3 L169.0,152.4 L167.5,152.4 L166.0,152.5 L164.5,152.6 L163.0,152.6 L161.5,152.7 L160.0,152.7 L158.5,152.8 L157.0,152.8 L155.5,152.9 L154.0,153.0 L152.5,153.0 L151.0,153.1 L149.5,153.2 L148.0,153.3 L146.5,153.4 L145.0,153.5 L143.5,153.5 L142.0,153.6 L140.5,153.7 L139.0,153.8 L137.5,153.9 L136.0,154.1 L134.5,154.2 L133.0,154.3 L131.5,154.4 L130.0,154.5 L128.5,154.6 L127.0,154.7 L125.5,154.8 L124.0,154.9 L122.5,155.0 L121.0,155.2 L119.5,155.3 L118.0,155.4 L116.5,155.5 L115.0,155.6 L113.5,155.7 L112.0,155.8 L110.5,155.9 L109.0,156.0 L107.5,156.1 L106.0,156.2 L104.5,156.3 L103.0,156.4 L101.5,156.5 L100.0,156.7 L98.5,156.8 L97.0,157.0 L95.5,157.2 L94.0,157.4 L92.5,157.5 L91.0,157.7 L89.5,157.9 L88.0,158.1 L86.5,158.3 L85.0,158.5 L83.5,158.6 L82.0,158.8 L80.5,159.0 L79.0,159.2 L77.5,159.4 L76.0,159.6 L74.5,159.8 L73.0,160.1 L71.5,160.5 L70.0,160.8 L68.5,161.1 L67.0,161.1 L65.5,161.1 L64.0,161.1 L62.5,161.1 L61.0,161.1 L59.5,161.2 L58.0,161.4 L56.5,161.5 L55.0,161.8 L53.5,162.0 L52.0,162.2 L50.5,162.5 L49.0,162.7 L47.5,163.0 L46.0,163.3 L44.5,163.6Z" fill="url(#ho00)" stroke="none"/>
<path d="M44.5,118.2 L46.0,119.7 L47.5,121.2 L49.0,122.6 L50.5,124.0 L52.0,125.2 L53.5,126.3 L55.0,127.4 L56.5,128.3 L58.0,129.2 L59.5,130.0 L61.0,130.8 L62.5,131.5 L64.0,132.2 L65.5,132.9 L67.0,133.5 L68.5,134.2 L70.0,134.9 L71.5,135.5 L73.0,136.2 L74.5,136.9 L76.0,137.5 L77.5,138.1 L79.0,138.7 L80.5,139.3 L82.0,139.8 L83.5,140.2 L85.0,140.6 L86.5,141.0 L88.0,141.4 L89.5,141.7 L91.0,142.1 L92.5,142.4 L94.0,142.7 L95.5,142.9 L97.0,143.1 L98.5,143.4 L100.0,143.6 L101.5,143.8 L103.0,144.0 L104.5,144.1 L106.0,144.3 L107.5,144.4 L109.0,144.6 L110.5,144.7 L112.0,144.8 L113.5,144.9 L115.0,145.0 L116.5,145.0 L118.0,145.1 L119.5,145.1 L121.0,145.1 L122.5,145.1 L124.0,145.1 L125.5,145.1 L127.0,145.1 L128.5,145.1 L130.0,145.0 L131.5,145.0 L133.0,144.9 L134.5,144.8 L136.0,144.7 L137.5,144.6 L139.0,144.5 L140.5,144.4 L142.0,144.3 L143.5,144.2 L145.0,144.1 L146.5,144.0 L148.0,143.9 L149.5,143.8 L151.0,143.7 L152.5,143.6 L154.0,143.5 L155.5,143.4 L157.0,143.4 L158.5,143.3 L160.0,143.2 L161.5,143.2 L163.0,143.1 L164.5,143.0 L166.0,143.0 L167.5,142.9 L169.0,142.8 L170.5,142.7 L172.0,142.6 L173.5,142.5 L175.0,142.4 L176.5,142.3 L178.0,142.2 L179.5,142.1 L181.0,141.9 L182.5,141.9 L184.0,141.8 L185.5,141.7 L187.0,141.6 L188.5,141.6 L190.0,141.5 L191.5,141.4 L193.0,141.4 L194.5,141.3 L196.0,141.3 L197.5,141.2 L199.0,141.1 L200.5,141.1 L202.0,141.0 L203.5,140.9 L205.0,140.8 L206.5,140.8 L208.0,140.7 L209.5,140.6 L211.0,140.5 L212.5,140.4 L214.0,140.3 L215.5,140.2 L217.0,140.1 L218.5,139.9 L220.0,139.8 L221.5,139.6 L223.0,139.5 L224.5,139.3 L226.0,139.2 L227.5,139.0 L229.0,138.9 L230.5,138.7 L232.0,138.5 L233.5,138.3 L235.0,138.1 L236.5,137.9 L238.0,137.8 L239.5,137.6 L241.0,137.4 L242.5,137.3 L244.0,137.1 L245.5,136.9 L247.0,136.7 L248.5,136.5 L250.0,136.4 L251.5,136.2 L253.0,136.0 L254.5,135.9 L256.0,135.8 L257.5,135.7 L259.0,135.6 L260.5,135.5 L262.0,135.4 L263.5,135.3 L265.0,135.3 L266.5,135.2 L268.0,135.1 L269.5,135.0 L271.0,135.0 L272.5,134.9 L274.0,134.9 L275.5,134.9 L277.0,134.9 L278.5,134.9 L280.0,134.9 L281.5,134.9 L283.0,135.0 L284.5,135.0 L286.0,135.1 L287.5,135.2 L289.0,135.3 L290.5,135.3 L292.0,135.4 L293.5,135.4 L295.0,135.3 L296.5,135.2 L298.0,135.1 L299.5,134.9 L301.0,134.5 L302.5,134.1 L304.0,133.6 L305.5,133.1 L307.0,132.4 L308.5,131.8 L310.0,131.0 L311.5,130.1 L313.0,129.0 L314.5,127.5 L316.0,125.5 L317.5,123.4 L319.0,121.0 L320.5,118.2 L322.0,114.6 L323.5,110.5 L325.0,106.0 L326.5,100.8 L328.0,95.0 L329.5,88.9 L331.0,82.3 L332.9,73.7 M44.5,163.6 L46.0,163.3 L47.5,163.0 L49.0,162.7 L50.5,162.5 L52.0,162.2 L53.5,162.0 L55.0,161.8 L56.5,161.5 L58.0,161.4 L59.5,161.2 L61.0,161.1 L62.5,161.1 L64.0,161.1 L65.5,161.1 L67.0,161.1 L68.5,161.1 L70.0,160.8 L71.5,160.5 L73.0,160.1 L74.5,159.8 L76.0,159.6 L77.5,159.4 L79.0,159.2 L80.5,159.0 L82.0,158.8 L83.5,158.6 L85.0,158.5 L86.5,158.3 L88.0,158.1 L89.5,157.9 L91.0,157.7 L92.5,157.5 L94.0,157.4 L95.5,157.2 L97.0,157.0 L98.5,156.8 L100.0,156.7 L101.5,156.5 L103.0,156.4 L104.5,156.3 L106.0,156.2 L107.5,156.1 L109.0,156.0 L110.5,155.9 L112.0,155.8 L113.5,155.7 L115.0,155.6 L116.5,155.5 L118.0,155.4 L119.5,155.3 L121.0,155.2 L122.5,155.0 L124.0,154.9 L125.5,154.8 L127.0,154.7 L128.5,154.6 L130.0,154.5 L131.5,154.4 L133.0,154.3 L134.5,154.2 L136.0,154.1 L137.5,153.9 L139.0,153.8 L140.5,153.7 L142.0,153.6 L143.5,153.5 L145.0,153.5 L146.5,153.4 L148.0,153.3 L149.5,153.2 L151.0,153.1 L152.5,153.0 L154.0,153.0 L155.5,152.9 L157.0,152.8 L158.5,152.8 L160.0,152.7 L161.5,152.7 L163.0,152.6 L164.5,152.6 L166.0,152.5 L167.5,152.4 L169.0,152.4 L170.5,152.3 L172.0,152.2 L173.5,152.1 L175.0,152.0 L176.5,151.8 L178.0,151.7 L179.5,151.6 L181.0,151.5 L182.5,151.3 L184.0,151.2 L185.5,151.1 L187.0,151.0 L188.5,151.0 L190.0,150.9 L191.5,150.8 L193.0,150.7 L194.5,150.6 L196.0,150.6 L197.5,150.5 L199.0,150.4 L200.5,150.3 L202.0,150.2 L203.5,150.1 L205.0,150.1 L206.5,150.0 L208.0,149.9 L209.5,149.8 L211.0,149.7 L212.5,149.7 L214.0,149.6 L215.5,149.5 L217.0,149.4 L218.5,149.3 L220.0,149.3 L221.5,149.2 L223.0,149.1 L224.5,149.1 L226.0,149.0 L227.5,149.0 L229.0,148.9 L230.5,148.9 L232.0,148.9 L233.5,148.9 L235.0,148.9 L236.5,149.0 L238.0,149.1 L239.5,149.2 L241.0,149.4 L242.5,149.5 L244.0,149.7 L245.5,149.9 L247.0,150.1 L248.5,150.3 L250.0,150.5 L251.5,150.8 L253.0,151.0 L254.5,151.3 L256.0,151.7 L257.5,152.1 L259.0,152.5 L260.5,152.9 L262.0,153.3 L263.5,153.7 L265.0,154.1 L266.5,154.6 L268.0,155.0 L269.5,155.5 L271.0,156.0 L272.5,156.5 L274.0,157.0 L275.5,157.6 L277.0,158.1 L278.5,158.7 L280.0,159.3 L281.5,159.9 L283.0,160.6 L284.5,161.2 L286.0,161.9 L287.5,162.6 L289.0,163.3 L290.5,164.0 L292.0,164.7 L293.5,165.5 L295.0,166.2 L296.5,167.0 L298.0,167.8 L299.5,168.7 L301.0,169.6 L302.5,170.7 L304.0,171.7 L305.5,172.9 L307.0,174.0 L308.5,175.2 L310.0,176.4 L311.5,177.8 L313.0,179.3 L314.5,181.1 L316.0,183.1 L317.5,185.2 L319.0,187.3 L320.5,189.6 L322.0,192.4 L323.5,195.6 L325.0,199.0 L326.5,202.8 L328.0,207.0 L329.5,211.3 L331.0,215.7 L332.9,221.4" fill="none" stroke="#fc8d62" stroke-opacity="0.6" stroke-width="0.8"/>
<path d="M44.5,155.9 L332.9,155.9" stroke="#66c2a5" stroke-width="1.8" fill="none"/>
<path d="M44.5,141.1 L46.0,141.6 L47.5,142.1 L49.0,142.5 L50.5,143.0 L52.0,143.4 L53.5,143.8 L55.0,144.1 L56.5,144.5 L58.0,144.8 L59.5,145.1 L61.0,145.4 L62.5,145.8 L64.0,146.0 L65.5,146.3 L67.0,146.6 L68.5,146.9 L70.0,147.1 L71.5,147.4 L73.0,147.6 L74.5,147.9 L76.0,148.1 L77.5,148.3 L79.0,148.5 L80.5,148.7 L82.0,148.9 L83.5,149.1 L85.0,149.3 L86.5,149.5 L88.0,149.6 L89.5,149.8 L91.0,149.9 L92.5,150.1 L94.0,150.2 L95.5,150.3 L97.0,150.4 L98.5,150.5 L100.0,150.7 L101.5,150.8 L103.0,150.9 L104.5,150.9 L106.0,151.0 L107.5,151.1 L109.0,151.2 L110.5,151.3 L112.0,151.4 L113.5,151.4 L115.0,151.5 L116.5,151.6 L118.0,151.6 L119.5,151.7 L121.0,151.7 L122.5,151.8 L124.0,151.8 L125.5,151.9 L127.0,151.9 L128.5,151.9 L130.0,152.0 L131.5,152.0 L133.0,152.0 L134.5,152.0 L136.0,152.1 L137.5,152.1 L139.0,152.1 L140.5,152.1 L142.0,152.1 L143.5,152.2 L145.0,152.2 L146.5,152.2 L148.0,152.3 L149.5,152.3 L151.0,152.3 L152.5,152.3 L154.0,152.4 L155.5,152.4 L157.0,152.4 L158.5,152.5 L160.0,152.5 L161.5,152.5 L163.0,152.6 L164.5,152.6 L166.0,152.6 L167.5,152.6 L169.0,152.7 L170.5,152.7 L172.0,152.7 L173.5,152.8 L175.0,152.8 L176.5,152.8 L178.0,152.8 L179.5,152.9 L181.0,152.9 L182.5,152.9 L184.0,152.9 L185.5,153.0 L187.0,153.0 L188.5,153.0 L190.0,153.0 L191.5,153.0 L193.0,153.0 L194.5,153.1 L196.0,153.1 L197.5,153.1 L199.0,153.1 L200.5,153.1 L202.0,153.1 L203.5,153.1 L205.0,153.1 L206.5,153.1 L208.0,153.1 L209.5,153.1 L211.0,153.1 L212.5,153.1 L214.0,153.1 L215.5,153.1 L217.0,153.0 L218.5,153.0 L220.0,153.0 L221.5,153.0 L223.0,152.9 L224.5,152.9 L226.0,152.8 L227.5,152.8 L229.0,152.7 L230.5,152.7 L232.0,152.6 L233.5,152.5 L235.0,152.4 L236.5,152.3 L238.0,152.2 L239.5,152.1 L241.0,152.0 L242.5,151.9 L244.0,151.8 L245.5,151.6 L247.0,151.5 L248.5,151.4 L250.0,151.2 L251.5,151.1 L253.0,150.9 L254.5,150.8 L256.0,150.6 L257.5,150.5 L259.0,150.3 L260.5,150.1 L262.0,149.9 L263.5,149.8 L265.0,149.6 L266.5,149.4 L268.0,149.2 L269.5,149.0 L271.0,148.8 L272.5,148.6 L274.0,148.4 L275.5,148.2 L277.0,147.9 L278.5,147.7 L280.0,147.5 L281.5,147.2 L283.0,146.9 L284.5,146.7 L286.0,146.4 L287.5,146.1 L289.0,145.8 L290.5,145.5 L292.0,145.1 L293.5,144.8 L295.0,144.4 L296.5,144.0 L298.0,143.6 L299.5,143.2 L301.0,142.7 L302.5,142.3 L304.0,141.7 L305.5,141.2 L307.0,140.6 L308.5,140.0 L310.0,139.3 L311.5,138.6 L313.0,137.8 L314.5,137.0 L316.0,136.1 L317.5,135.2 L319.0,134.2 L320.5,133.0 L322.0,131.7 L323.5,130.2 L325.0,128.7 L326.5,127.0 L328.0,125.0 L329.5,123.0 L331.0,121.2 L332.9,118.9 M44.5,170.6 L46.0,170.2 L47.5,169.7 L49.0,169.2 L50.5,168.8 L52.0,168.4 L53.5,168.0 L55.0,167.6 L56.5,167.3 L58.0,166.9 L59.5,166.6 L61.0,166.3 L62.5,166.0 L64.0,165.7 L65.5,165.4 L67.0,165.1 L68.5,164.9 L70.0,164.6 L71.5,164.4 L73.0,164.1 L74.5,163.9 L76.0,163.7 L77.5,163.4 L79.0,163.2 L80.5,163.0 L82.0,162.8 L83.5,162.6 L85.0,162.5 L86.5,162.3 L88.0,162.1 L89.5,162.0 L91.0,161.8 L92.5,161.7 L94.0,161.6 L95.5,161.4 L97.0,161.3 L98.5,161.2 L100.0,161.1 L101.5,161.0 L103.0,160.9 L104.5,160.8 L106.0,160.7 L107.5,160.6 L109.0,160.5 L110.5,160.5 L112.0,160.4 L113.5,160.3 L115.0,160.2 L116.5,160.2 L118.0,160.1 L119.5,160.1 L121.0,160.0 L122.5,160.0 L124.0,159.9 L125.5,159.9 L127.0,159.9 L128.5,159.8 L130.0,159.8 L131.5,159.8 L133.0,159.7 L134.5,159.7 L136.0,159.7 L137.5,159.7 L139.0,159.6 L140.5,159.6 L142.0,159.6 L143.5,159.6 L145.0,159.6 L146.5,159.5 L148.0,159.5 L149.5,159.5 L151.0,159.4 L152.5,159.4 L154.0,159.4 L155.5,159.3 L157.0,159.3 L158.5,159.3 L160.0,159.3 L161.5,159.2 L163.0,159.2 L164.5,159.2 L166.0,159.1 L167.5,159.1 L169.0,159.1 L170.5,159.0 L172.0,159.0 L173.5,159.0 L175.0,159.0 L176.5,158.9 L178.0,158.9 L179.5,158.9 L181.0,158.9 L182.5,158.8 L184.0,158.8 L185.5,158.8 L187.0,158.8 L188.5,158.8 L190.0,158.7 L191.5,158.7 L193.0,158.7 L194.5,158.7 L196.0,158.7 L197.5,158.7 L199.0,158.7 L200.5,158.7 L202.0,158.6 L203.5,158.6 L205.0,158.6 L206.5,158.6 L208.0,158.6 L209.5,158.7 L211.0,158.7 L212.5,158.7 L214.0,158.7 L215.5,158.7 L217.0,158.7 L218.5,158.7 L220.0,158.8 L221.5,158.8 L223.0,158.8 L224.5,158.9 L226.0,158.9 L227.5,159.0 L229.0,159.0 L230.5,159.1 L232.0,159.2 L233.5,159.2 L235.0,159.3 L236.5,159.4 L238.0,159.5 L239.5,159.6 L241.0,159.7 L242.5,159.9 L244.0,160.0 L245.5,160.1 L247.0,160.3 L248.5,160.4 L250.0,160.5 L251.5,160.7 L253.0,160.8 L254.5,161.0 L256.0,161.1 L257.5,161.3 L259.0,161.5 L260.5,161.6 L262.0,161.8 L263.5,162.0 L265.0,162.2 L266.5,162.4 L268.0,162.6 L269.5,162.8 L271.0,163.0 L272.5,163.2 L274.0,163.4 L275.5,163.6 L277.0,163.8 L278.5,164.1 L280.0,164.3 L281.5,164.5 L283.0,164.8 L284.5,165.1 L286.0,165.4 L287.5,165.7 L289.0,166.0 L290.5,166.3 L292.0,166.6 L293.5,167.0 L295.0,167.3 L296.5,167.7 L298.0,168.1 L299.5,168.6 L301.0,169.0 L302.5,169.5 L304.0,170.0 L305.5,170.6 L307.0,171.2 L308.5,171.8 L310.0,172.5 L311.5,173.2 L313.0,173.9 L314.5,174.7 L316.0,175.6 L317.5,176.5 L319.0,177.5 L320.5,178.7 L322.0,180.1 L323.5,181.5 L325.0,183.1 L326.5,184.8 L328.0,186.8 L329.5,188.8 L331.0,190.5 L332.9,192.8" fill="none" stroke="#66c2a5" stroke-width="1.6" stroke-dasharray="5.5 2.4"/>
<path d="M44.5,137.8 L46.0,138.6 L47.5,139.3 L49.0,140.0 L50.5,140.7 L52.0,141.4 L53.5,142.0 L55.0,142.6 L56.5,143.2 L58.0,143.8 L59.5,144.3 L61.0,144.8 L62.5,145.3 L64.0,145.7 L65.5,146.1 L67.0,146.4 L68.5,146.7 L70.0,147.1 L71.5,147.4 L73.0,147.6 L74.5,147.9 L76.0,148.2 L77.5,148.5 L79.0,148.7 L80.5,148.9 L82.0,149.1 L83.5,149.3 L85.0,149.5 L86.5,149.6 L88.0,149.7 L89.5,149.8 L91.0,149.9 L92.5,150.0 L94.0,150.0 L95.5,150.0 L97.0,150.1 L98.5,150.1 L100.0,150.1 L101.5,150.2 L103.0,150.2 L104.5,150.2 L106.0,150.2 L107.5,150.3 L109.0,150.3 L110.5,150.3 L112.0,150.3 L113.5,150.3 L115.0,150.3 L116.5,150.3 L118.0,150.2 L119.5,150.2 L121.0,150.1 L122.5,150.1 L124.0,150.0 L125.5,150.0 L127.0,149.9 L128.5,149.8 L130.0,149.8 L131.5,149.7 L133.0,149.6 L134.5,149.5 L136.0,149.4 L137.5,149.3 L139.0,149.2 L140.5,149.1 L142.0,149.0 L143.5,148.9 L145.0,148.8 L146.5,148.7 L148.0,148.6 L149.5,148.5 L151.0,148.4 L152.5,148.3 L154.0,148.2 L155.5,148.2 L157.0,148.1 L158.5,148.0 L160.0,148.0 L161.5,147.9 L163.0,147.9 L164.5,147.8 L166.0,147.7 L167.5,147.7 L169.0,147.6 L170.5,147.5 L172.0,147.4 L173.5,147.3 L175.0,147.2 L176.5,147.1 L178.0,146.9 L179.5,146.8 L181.0,146.7 L182.5,146.6 L184.0,146.5 L185.5,146.4 L187.0,146.3 L188.5,146.3 L190.0,146.2 L191.5,146.1 L193.0,146.1 L194.5,146.0 L196.0,145.9 L197.5,145.8 L199.0,145.8 L200.5,145.7 L202.0,145.6 L203.5,145.5 L205.0,145.5 L206.5,145.4 L208.0,145.3 L209.5,145.2 L211.0,145.1 L212.5,145.0 L214.0,144.9 L215.5,144.8 L217.0,144.7 L218.5,144.6 L220.0,144.5 L221.5,144.4 L223.0,144.3 L224.5,144.2 L226.0,144.1 L227.5,144.0 L229.0,143.9 L230.5,143.8 L232.0,143.7 L233.5,143.6 L235.0,143.5 L236.5,143.5 L238.0,143.4 L239.5,143.4 L241.0,143.4 L242.5,143.4 L244.0,143.4 L245.5,143.4 L247.0,143.4 L248.5,143.4 L250.0,143.4 L251.5,143.5 L253.0,143.5 L254.5,143.6 L256.0,143.7 L257.5,143.9 L259.0,144.0 L260.5,144.2 L262.0,144.4 L263.5,144.5 L265.0,144.7 L266.5,144.9 L268.0,145.1 L269.5,145.3 L271.0,145.5 L272.5,145.7 L274.0,146.0 L275.5,146.2 L277.0,146.5 L278.5,146.8 L280.0,147.1 L281.5,147.4 L283.0,147.8 L284.5,148.1 L286.0,148.5 L287.5,148.9 L289.0,149.3 L290.5,149.7 L292.0,150.1 L293.5,150.4 L295.0,150.8 L296.5,151.1 L298.0,151.4 L299.5,151.8 L301.0,152.1 L302.5,152.4 L304.0,152.7 L305.5,153.0 L307.0,153.2 L308.5,153.5 L310.0,153.7 L311.5,153.9 L313.0,154.1 L314.5,154.3 L316.0,154.3 L317.5,154.3 L319.0,154.2 L320.5,153.9 L322.0,153.5 L323.5,153.1 L325.0,152.5 L326.5,151.8 L328.0,151.0 L329.5,150.1 L331.0,149.0 L332.9,147.5" stroke="#fc8d62" stroke-width="1.5" fill="none"/>
<path d="M44.5,103.9 L46.0,106.7 L47.5,109.2 L49.0,111.7 L50.5,114.1 L52.0,116.4 L53.5,118.6 L55.0,120.7 L56.5,122.5 L58.0,124.1 L59.5,125.6 L61.0,127.0 L62.5,128.2 L64.0,129.4 L65.5,130.5 L67.0,131.5 L68.5,132.5 L70.0,133.5 L71.5,134.4 L73.0,135.3 L74.5,136.1 L76.0,136.8 L77.5,137.5 L79.0,138.2 L80.5,138.8 L82.0,139.4 L83.5,140.0 L85.0,140.5 L86.5,140.9 L88.0,141.4 L89.5,141.7 L91.0,142.1 L92.5,142.4 L94.0,142.7 L95.5,142.9 L97.0,143.1 L98.5,143.4 L100.0,143.6 L101.5,143.8 L103.0,144.0 L104.5,144.1 L106.0,144.3 L107.5,144.4 L109.0,144.6 L110.5,144.7 L112.0,144.8 L113.5,144.9 L115.0,145.0 L116.5,145.0 L118.0,145.1 L119.5,145.1 L121.0,145.1 L122.5,145.1 L124.0,145.1 L125.5,145.1 L127.0,145.1 L128.5,145.1 L130.0,145.0 L131.5,145.0 L133.0,144.9 L134.5,144.8 L136.0,144.7 L137.5,144.6 L139.0,144.5 L140.5,144.4 L142.0,144.3 L143.5,144.2 L145.0,144.1 L146.5,144.0 L148.0,143.9 L149.5,143.8 L151.0,143.7 L152.5,143.6 L154.0,143.5 L155.5,143.4 L157.0,143.4 L158.5,143.3 L160.0,143.2 L161.5,143.2 L163.0,143.1 L164.5,143.0 L166.0,143.0 L167.5,142.9 L169.0,142.8 L170.5,142.7 L172.0,142.6 L173.5,142.5 L175.0,142.4 L176.5,142.3 L178.0,142.2 L179.5,142.1 L181.0,141.9 L182.5,141.9 L184.0,141.8 L185.5,141.7 L187.0,141.6 L188.5,141.6 L190.0,141.5 L191.5,141.4 L193.0,141.4 L194.5,141.3 L196.0,141.3 L197.5,141.2 L199.0,141.1 L200.5,141.1 L202.0,141.0 L203.5,140.9 L205.0,140.8 L206.5,140.8 L208.0,140.7 L209.5,140.6 L211.0,140.5 L212.5,140.4 L214.0,140.3 L215.5,140.2 L217.0,140.1 L218.5,139.9 L220.0,139.8 L221.5,139.6 L223.0,139.5 L224.5,139.3 L226.0,139.2 L227.5,139.0 L229.0,138.9 L230.5,138.7 L232.0,138.5 L233.5,138.3 L235.0,138.1 L236.5,137.9 L238.0,137.8 L239.5,137.6 L241.0,137.4 L242.5,137.3 L244.0,137.1 L245.5,136.9 L247.0,136.7 L248.5,136.5 L250.0,136.4 L251.5,136.2 L253.0,136.0 L254.5,135.9 L256.0,135.8 L257.5,135.7 L259.0,135.6 L260.5,135.5 L262.0,135.4 L263.5,135.3 L265.0,135.3 L266.5,135.2 L268.0,135.1 L269.5,135.0 L271.0,135.0 L272.5,134.9 L274.0,134.9 L275.5,134.9 L277.0,134.9 L278.5,134.9 L280.0,134.9 L281.5,134.9 L283.0,135.0 L284.5,135.0 L286.0,135.1 L287.5,135.2 L289.0,135.3 L290.5,135.3 L292.0,135.4 L293.5,135.4 L295.0,135.3 L296.5,135.2 L298.0,135.1 L299.5,134.9 L301.0,134.5 L302.5,134.1 L304.0,133.6 L305.5,133.1 L307.0,132.4 L308.5,131.8 L310.0,131.0 L311.5,130.1 L313.0,129.0 L314.5,127.5 L316.0,125.5 L317.5,123.4 L319.0,121.0 L320.5,118.2 L322.0,114.6 L323.5,110.5 L325.0,106.0 L326.5,100.8 L328.0,95.0 L329.5,88.9 L331.0,82.3 L332.9,73.7 M44.5,171.8 L46.0,170.5 L47.5,169.5 L49.0,168.4 L50.5,167.3 L52.0,166.3 L53.5,165.4 L55.0,164.6 L56.5,164.0 L58.0,163.5 L59.5,163.1 L61.0,162.7 L62.5,162.4 L64.0,162.0 L65.5,161.7 L67.0,161.3 L68.5,161.0 L70.0,160.6 L71.5,160.3 L73.0,160.0 L74.5,159.8 L76.0,159.6 L77.5,159.4 L79.0,159.2 L80.5,159.0 L82.0,158.8 L83.5,158.6 L85.0,158.5 L86.5,158.3 L88.0,158.1 L89.5,157.9 L91.0,157.7 L92.5,157.5 L94.0,157.4 L95.5,157.2 L97.0,157.0 L98.5,156.8 L100.0,156.7 L101.5,156.5 L103.0,156.4 L104.5,156.3 L106.0,156.2 L107.5,156.1 L109.0,156.0 L110.5,155.9 L112.0,155.8 L113.5,155.7 L115.0,155.6 L116.5,155.5 L118.0,155.4 L119.5,155.3 L121.0,155.2 L122.5,155.0 L124.0,154.9 L125.5,154.8 L127.0,154.7 L128.5,154.6 L130.0,154.5 L131.5,154.4 L133.0,154.3 L134.5,154.2 L136.0,154.1 L137.5,153.9 L139.0,153.8 L140.5,153.7 L142.0,153.6 L143.5,153.5 L145.0,153.5 L146.5,153.4 L148.0,153.3 L149.5,153.2 L151.0,153.1 L152.5,153.0 L154.0,153.0 L155.5,152.9 L157.0,152.8 L158.5,152.8 L160.0,152.7 L161.5,152.7 L163.0,152.6 L164.5,152.6 L166.0,152.5 L167.5,152.4 L169.0,152.4 L170.5,152.3 L172.0,152.2 L173.5,152.1 L175.0,152.0 L176.5,151.8 L178.0,151.7 L179.5,151.6 L181.0,151.5 L182.5,151.3 L184.0,151.2 L185.5,151.1 L187.0,151.0 L188.5,151.0 L190.0,150.9 L191.5,150.8 L193.0,150.7 L194.5,150.6 L196.0,150.6 L197.5,150.5 L199.0,150.4 L200.5,150.3 L202.0,150.2 L203.5,150.1 L205.0,150.1 L206.5,150.0 L208.0,149.9 L209.5,149.8 L211.0,149.7 L212.5,149.7 L214.0,149.6 L215.5,149.5 L217.0,149.4 L218.5,149.3 L220.0,149.3 L221.5,149.2 L223.0,149.1 L224.5,149.1 L226.0,149.0 L227.5,149.0 L229.0,148.9 L230.5,148.9 L232.0,148.9 L233.5,148.9 L235.0,148.9 L236.5,149.0 L238.0,149.1 L239.5,149.2 L241.0,149.4 L242.5,149.5 L244.0,149.7 L245.5,149.9 L247.0,150.1 L248.5,150.3 L250.0,150.5 L251.5,150.8 L253.0,151.0 L254.5,151.3 L256.0,151.7 L257.5,152.1 L259.0,152.5 L260.5,152.9 L262.0,153.3 L263.5,153.7 L265.0,154.1 L266.5,154.6 L268.0,155.0 L269.5,155.5 L271.0,156.0 L272.5,156.5 L274.0,157.0 L275.5,157.6 L277.0,158.1 L278.5,158.7 L280.0,159.3 L281.5,159.9 L283.0,160.6 L284.5,161.2 L286.0,161.9 L287.5,162.6 L289.0,163.3 L290.5,164.0 L292.0,164.7 L293.5,165.5 L295.0,166.2 L296.5,167.0 L298.0,167.8 L299.5,168.7 L301.0,169.6 L302.5,170.7 L304.0,171.7 L305.5,172.9 L307.0,174.0 L308.5,175.2 L310.0,176.4 L311.5,177.8 L313.0,179.3 L314.5,181.1 L316.0,183.1 L317.5,185.2 L319.0,187.3 L320.5,189.6 L322.0,192.4 L323.5,195.6 L325.0,199.0 L326.5,202.8 L328.0,207.0 L329.5,211.3 L331.0,215.7 L332.9,221.4" fill="none" stroke="#fc8d62" stroke-width="1.6" stroke-dasharray="5.5 2.4"/>
</g>
<path d="M44.5,31.1 L44.5,230.5 M44.1,230.5 L332.9,230.5" stroke="#000" stroke-width="0.85" fill="none"/>
<text x="37.5" y="234.6" font-size="11.5" text-anchor="end" textLength="23.0" lengthAdjust="spacingAndGlyphs" fill="#000">0.85</text>
<text x="37.5" y="209.7" font-size="11.5" text-anchor="end" textLength="23.0" lengthAdjust="spacingAndGlyphs" fill="#000">0.90</text>
<text x="37.5" y="184.8" font-size="11.5" text-anchor="end" textLength="23.0" lengthAdjust="spacingAndGlyphs" fill="#000">0.95</text>
<text x="37.5" y="159.9" font-size="11.5" text-anchor="end" textLength="23.0" lengthAdjust="spacingAndGlyphs" fill="#000">1.00</text>
<text x="37.5" y="135.1" font-size="11.5" text-anchor="end" textLength="23.0" lengthAdjust="spacingAndGlyphs" fill="#000">1.05</text>
<text x="37.5" y="110.2" font-size="11.5" text-anchor="end" textLength="23.0" lengthAdjust="spacingAndGlyphs" fill="#000">1.10</text>
<text x="37.5" y="85.3" font-size="11.5" text-anchor="end" textLength="23.0" lengthAdjust="spacingAndGlyphs" fill="#000">1.15</text>
<text x="37.5" y="60.4" font-size="11.5" text-anchor="end" textLength="23.0" lengthAdjust="spacingAndGlyphs" fill="#000">1.20</text>
<text x="37.5" y="35.5" font-size="11.5" text-anchor="end" textLength="23.0" lengthAdjust="spacingAndGlyphs" fill="#000">1.25</text>
<path d="M41.0,230.5 L44.5,230.5 M41.0,205.6 L44.5,205.6 M41.0,180.8 L44.5,180.8 M41.0,155.9 L44.5,155.9 M41.0,131.0 L44.5,131.0 M41.0,106.1 L44.5,106.1 M41.0,81.2 L44.5,81.2 M41.0,56.4 L44.5,56.4 M41.0,31.5 L44.5,31.5" stroke="#000" stroke-width="0.85" fill="none"/>
<text x="35.3" y="246.3" font-size="11.5" fill="#000" textLength="12.6" lengthAdjust="spacingAndGlyphs">10</text>
<text x="48.6" y="241.5" font-size="8.6" fill="#000" textLength="4.5" lengthAdjust="spacingAndGlyphs">1</text>
<text x="143.2" y="246.3" font-size="11.5" fill="#000" textLength="12.6" lengthAdjust="spacingAndGlyphs">10</text>
<text x="156.5" y="241.5" font-size="8.6" fill="#000" textLength="4.5" lengthAdjust="spacingAndGlyphs">2</text>
<text x="251.2" y="246.3" font-size="11.5" fill="#000" textLength="12.6" lengthAdjust="spacingAndGlyphs">10</text>
<text x="264.5" y="241.5" font-size="8.6" fill="#000" textLength="4.5" lengthAdjust="spacingAndGlyphs">3</text>
<path d="M44.5,230.5 L44.5,234.0 M152.4,230.5 L152.4,234.0 M260.4,230.5 L260.4,234.0" stroke="#000" stroke-width="0.85" fill="none"/>
<path d="M77.0,230.5 L77.0,232.5 M96.0,230.5 L96.0,232.5 M109.5,230.5 L109.5,232.5 M120.0,230.5 L120.0,232.5 M128.5,230.5 L128.5,232.5 M135.7,230.5 L135.7,232.5 M142.0,230.5 L142.0,232.5 M147.5,230.5 L147.5,232.5 M184.9,230.5 L184.9,232.5 M204.0,230.5 L204.0,232.5 M217.4,230.5 L217.4,232.5 M227.9,230.5 L227.9,232.5 M236.5,230.5 L236.5,232.5 M243.7,230.5 L243.7,232.5 M249.9,230.5 L249.9,232.5 M255.5,230.5 L255.5,232.5 M292.9,230.5 L292.9,232.5 M311.9,230.5 L311.9,232.5 M325.4,230.5 L325.4,232.5" stroke="#000" stroke-width="0.65" fill="none"/>
<text x="163.3" y="260.0" font-size="11.0" fill="#000" textLength="9.6" lengthAdjust="spacingAndGlyphs">m</text>
<text x="173.3" y="261.8" font-size="7.7" fill="#000" textLength="5.0" lengthAdjust="spacingAndGlyphs">X</text>
<text x="181.9" y="260.0" font-size="11.0" fill="#000" textLength="31.0" lengthAdjust="spacingAndGlyphs">(GeV)</text>
<text transform="translate(7.5,131.0) rotate(-90)" font-size="11.0" text-anchor="middle" fill="#000" textLength="142.5" lengthAdjust="spacingAndGlyphs">Ratio to NNPDF4.0 (NNLO)</text>
<path d="M44.5,308.1 L44.5,507.5 M44.1,507.5 L332.9,507.5" stroke="#000" stroke-width="0.85" fill="none"/>
<text x="37.5" y="511.6" font-size="11.5" text-anchor="end" textLength="23.0" lengthAdjust="spacingAndGlyphs" fill="#000">0.00</text>
<text x="37.5" y="486.7" font-size="11.5" text-anchor="end" textLength="23.0" lengthAdjust="spacingAndGlyphs" fill="#000">0.01</text>
<text x="37.5" y="461.8" font-size="11.5" text-anchor="end" textLength="23.0" lengthAdjust="spacingAndGlyphs" fill="#000">0.02</text>
<text x="37.5" y="436.9" font-size="11.5" text-anchor="end" textLength="23.0" lengthAdjust="spacingAndGlyphs" fill="#000">0.03</text>
<text x="37.5" y="412.1" font-size="11.5" text-anchor="end" textLength="23.0" lengthAdjust="spacingAndGlyphs" fill="#000">0.04</text>
<text x="37.5" y="387.2" font-size="11.5" text-anchor="end" textLength="23.0" lengthAdjust="spacingAndGlyphs" fill="#000">0.05</text>
<text x="37.5" y="362.3" font-size="11.5" text-anchor="end" textLength="23.0" lengthAdjust="spacingAndGlyphs" fill="#000">0.06</text>
<text x="37.5" y="337.4" font-size="11.5" text-anchor="end" textLength="23.0" lengthAdjust="spacingAndGlyphs" fill="#000">0.07</text>
<text x="37.5" y="312.6" font-size="11.5" text-anchor="end" textLength="23.0" lengthAdjust="spacingAndGlyphs" fill="#000">0.08</text>
<path d="M41.0,507.5 L44.5,507.5 M41.0,482.6 L44.5,482.6 M41.0,457.8 L44.5,457.8 M41.0,432.9 L44.5,432.9 M41.0,408.0 L44.5,408.0 M41.0,383.1 L44.5,383.1 M41.0,358.2 L44.5,358.2 M41.0,333.4 L44.5,333.4 M41.0,308.5 L44.5,308.5" stroke="#000" stroke-width="0.85" fill="none"/>
<text x="35.3" y="523.3" font-size="11.5" fill="#000" textLength="12.6" lengthAdjust="spacingAndGlyphs">10</text>
<text x="48.6" y="518.5" font-size="8.6" fill="#000" textLength="4.5" lengthAdjust="spacingAndGlyphs">1</text>
<text x="143.2" y="523.3" font-size="11.5" fill="#000" textLength="12.6" lengthAdjust="spacingAndGlyphs">10</text>
<text x="156.5" y="518.5" font-size="8.6" fill="#000" textLength="4.5" lengthAdjust="spacingAndGlyphs">2</text>
<text x="251.2" y="523.3" font-size="11.5" fill="#000" textLength="12.6" lengthAdjust="spacingAndGlyphs">10</text>
<text x="264.5" y="518.5" font-size="8.6" fill="#000" textLength="4.5" lengthAdjust="spacingAndGlyphs">3</text>
<path d="M44.5,507.5 L44.5,511.0 M152.4,507.5 L152.4,511.0 M260.4,507.5 L260.4,511.0" stroke="#000" stroke-width="0.85" fill="none"/>
<path d="M77.0,507.5 L77.0,509.5 M96.0,507.5 L96.0,509.5 M109.5,507.5 L109.5,509.5 M120.0,507.5 L120.0,509.5 M128.5,507.5 L128.5,509.5 M135.7,507.5 L135.7,509.5 M142.0,507.5 L142.0,509.5 M147.5,507.5 L147.5,509.5 M184.9,507.5 L184.9,509.5 M204.0,507.5 L204.0,509.5 M217.4,507.5 L217.4,509.5 M227.9,507.5 L227.9,509.5 M236.5,507.5 L236.5,509.5 M243.7,507.5 L243.7,509.5 M249.9,507.5 L249.9,509.5 M255.5,507.5 L255.5,509.5 M292.9,507.5 L292.9,509.5 M311.9,507.5 L311.9,509.5 M325.4,507.5 L325.4,509.5" stroke="#000" stroke-width="0.65" fill="none"/>
<text x="163.3" y="537.0" font-size="11.0" fill="#000" textLength="9.6" lengthAdjust="spacingAndGlyphs">m</text>
<text x="173.3" y="538.8" font-size="7.7" fill="#000" textLength="5.0" lengthAdjust="spacingAndGlyphs">X</text>
<text x="181.9" y="537.0" font-size="11.0" fill="#000" textLength="31.0" lengthAdjust="spacingAndGlyphs">(GeV)</text>
<text transform="translate(7.5,408.0) rotate(-90)" font-size="11.0" text-anchor="middle" fill="#000" textLength="142.5" lengthAdjust="spacingAndGlyphs">Ratio to NNPDF4.0 (NNLO)</text>
<text x="188.7" y="10.9" font-size="13.2" text-anchor="middle" fill="#000" textLength="86.3" lengthAdjust="spacingAndGlyphs">gg luminosity</text>
<path d="M149.6,19.6 l1.7,-0.9 l2.8,6.2 l1.8,-9.5 h11.0" stroke="#000" stroke-width="0.95" fill="none" stroke-linejoin="miter"/>
<text x="158.6" y="25.0" font-size="13.2" fill="#000" textLength="6.4" lengthAdjust="spacingAndGlyphs">s</text>
<text x="170.2" y="25.0" font-size="13.2" fill="#000" textLength="57.6" lengthAdjust="spacingAndGlyphs">= 14 TeV</text>
<text x="188.7" y="287.9" font-size="13.2" text-anchor="middle" fill="#000" textLength="164.5" lengthAdjust="spacingAndGlyphs">gg luminosity uncertainty</text>
<path d="M149.6,296.6 l1.7,-0.9 l2.8,6.2 l1.8,-9.5 h11.0" stroke="#000" stroke-width="0.95" fill="none" stroke-linejoin="miter"/>
<text x="158.6" y="302.0" font-size="13.2" fill="#000" textLength="6.4" lengthAdjust="spacingAndGlyphs">s</text>
<text x="170.2" y="302.0" font-size="13.2" fill="#000" textLength="57.6" lengthAdjust="spacingAndGlyphs">= 14 TeV</text>
<rect x="124.3" y="36.7" width="203.7" height="36.3" rx="2" ry="2" fill="#fff" fill-opacity="0.8" stroke="#ccc" stroke-width="0.85"/>
<rect x="131.0" y="42.7" width="17.0" height="7.0" fill="#66c2a5" fill-opacity="0.5"/>
<rect x="128.7" y="42.5" width="21.6" height="7.4" fill="none" stroke="#66c2a5" stroke-width="1.4" stroke-dasharray="3.0 1.6"/>
<path d="M137.0,49.0 l6.6,-5.7" stroke="#666" stroke-width="0.9"/>
<text x="159.1" y="49.7" font-size="11.0" text-anchor="start" textLength="162.3" lengthAdjust="spacingAndGlyphs" fill="#000">NNPDF4.0 (NNLO) (68 c.l.+1σ)</text>
<rect x="131.0" y="59.0" width="17.0" height="7.0" fill="#fc8d62" fill-opacity="0.5"/>
<rect x="128.7" y="58.8" width="21.6" height="7.4" fill="none" stroke="#fc8d62" stroke-width="1.4" stroke-dasharray="3.0 1.6"/>
<text x="159.1" y="66.0" font-size="11.0" text-anchor="start" textLength="162.3" lengthAdjust="spacingAndGlyphs" fill="#000">NNPDF3.1 (NNLO) (68 c.l.+1σ)</text>
<rect x="50.3" y="313.6" width="134.7" height="35.7" rx="2" ry="2" fill="#fff" fill-opacity="0.8" stroke="#ccc" stroke-width="0.85"/>
<path d="M53.7,322.6 h22.5" stroke="#66c2a5" stroke-width="1.5" fill="none"/>
<text x="84.6" y="326.5" font-size="11.0" text-anchor="start" textLength="96.0" lengthAdjust="spacingAndGlyphs" fill="#000">NNPDF4.0 (NNLO)</text>
<path d="M53.7,339.0 h22.5" stroke="#fc8d62" stroke-width="1.5" fill="none"/>
<text x="84.6" y="342.9" font-size="11.0" text-anchor="start" textLength="96.0" lengthAdjust="spacingAndGlyphs" fill="#000">NNPDF3.1 (NNLO)</text>
<g clip-path="url(#cp11)" fill="none" stroke-width="1.65" stroke-linejoin="round">
<path d="M394.5,436.0 L395.4,437.2 L396.4,438.3 L397.3,439.5 L398.2,440.7 L399.2,441.9 L400.1,443.0 L401.0,444.2 L402.0,445.3 L403.0,446.5 L404.0,447.6 L405.0,448.7 L406.0,449.8 L407.1,450.9 L408.1,451.9 L409.2,453.0 L410.2,454.0 L411.3,455.1 L412.4,456.1 L413.5,457.1 L414.6,458.1 L415.7,459.1 L416.9,460.1 L418.0,461.1 L419.2,462.1 L420.3,463.0 L421.5,463.9 L422.7,464.9 L423.9,465.8 L425.1,466.7 L426.3,467.6 L427.5,468.4 L428.7,469.3 L430.0,470.1 L431.2,471.0 L432.5,471.8 L433.7,472.6 L435.0,473.4 L436.3,474.2 L437.5,475.0 L438.8,475.7 L440.2,476.5 L441.5,477.2 L442.8,477.9 L444.1,478.5 L445.5,479.2 L446.8,479.8 L448.2,480.5 L449.6,481.1 L450.9,481.7 L452.3,482.4 L453.6,483.0 L455.0,483.6 L456.4,484.2 L457.8,484.8 L459.1,485.4 L460.5,486.0 L461.9,486.5 L463.3,487.1 L464.7,487.6 L466.1,488.1 L467.5,488.6 L468.9,489.1 L470.4,489.6 L471.8,490.0 L473.2,490.5 L474.7,490.9 L476.1,491.3 L477.6,491.6 L479.0,492.0 L480.5,492.4 L481.9,492.7 L483.4,493.0 L484.9,493.3 L486.3,493.7 L487.8,493.9 L489.3,494.2 L490.8,494.5 L492.2,494.8 L493.7,495.1 L495.2,495.3 L496.7,495.6 L498.1,495.8 L499.6,496.1 L501.1,496.3 L502.6,496.6 L504.1,496.8 L505.5,497.1 L507.0,497.3 L508.5,497.5 L510.0,497.7 L511.5,498.0 L513.0,498.2 L514.4,498.4 L515.9,498.5 L517.4,498.7 L518.9,498.9 L520.4,499.1 L521.9,499.2 L523.4,499.4 L524.9,499.6 L526.4,499.7 L527.9,499.9 L529.3,500.0 L530.8,500.2 L532.3,500.3 L533.8,500.5 L535.3,500.6 L536.8,500.7 L538.3,500.9 L539.8,501.0 L541.3,501.1 L542.8,501.2 L544.3,501.3 L545.8,501.4 L547.3,501.5 L548.8,501.7 L550.3,501.8 L551.8,501.9 L553.3,502.0 L554.8,502.1 L556.3,502.3 L557.7,502.4 L559.2,502.5 L560.7,502.6 L562.2,502.6 L563.7,502.7 L565.2,502.8 L566.7,502.9 L568.2,502.9 L569.7,503.0 L571.2,503.0 L572.7,503.0 L574.2,503.1 L575.7,503.1 L577.2,503.1 L578.7,503.0 L580.2,503.0 L581.7,502.9 L583.2,502.9 L584.7,502.8 L586.2,502.7 L587.7,502.6 L589.2,502.4 L590.7,502.3 L592.2,502.1 L593.7,501.9 L595.1,501.7 L596.6,501.5 L598.1,501.2 L599.6,501.0 L601.1,500.7 L602.5,500.4 L604.0,500.1 L605.5,499.8 L606.9,499.5 L608.4,499.2 L609.9,498.8 L611.3,498.5 L612.8,498.1 L614.2,497.8 L615.7,497.4 L617.1,497.0 L618.6,496.7 L620.0,496.3 L621.5,495.9 L622.9,495.5 L624.4,495.1 L625.8,494.7 L627.3,494.3 L628.7,493.9 L630.1,493.4 L631.6,493.0 L633.0,492.5 L634.4,492.0 L635.8,491.6 L637.3,491.1 L638.7,490.6 L640.1,490.1 L641.5,489.5 L642.9,489.0 L644.3,488.5 L645.7,487.9 L647.1,487.3 L648.4,486.7 L649.8,486.1 L651.1,485.4 L652.5,484.8 L653.8,484.1 L655.1,483.3 L656.4,482.6 L657.7,481.8 L658.9,480.9 L660.1,480.1 L661.3,479.2 L662.5,478.2 L663.6,477.2 L664.7,476.2 L665.8,475.2 L666.8,474.1 L667.8,473.0 L668.8,471.9 L669.8,470.8 L670.7,469.6 L671.7,468.4 L672.6,467.2 L673.4,466.0 L674.3,464.8 L675.1,463.5 L675.9,462.2 L676.6,460.9 L677.3,459.6 L678.0,458.3 L678.7,457.0 L679.3,455.6 L680.0,454.3 L680.6,452.9 L681.2,451.5 L681.8,450.1 L682.4,448.8 L683.0,447.4 L683.6,446.0 L684.3,444.7 L684.9,443.4 L685.6,442.0" stroke="#66c2a5"/>
<path d="M395.0,278.4 L395.2,279.9 L395.3,281.4 L395.5,282.9 L395.7,284.3 L395.9,285.8 L396.1,287.3 L396.3,288.8 L396.5,290.3 L396.7,291.8 L396.9,293.3 L397.1,294.8 L397.3,296.3 L397.5,297.7 L397.7,299.2 L397.8,300.7 L398.0,302.2 L398.2,303.7 L398.4,305.2 L398.6,306.7 L398.8,308.2 L399.0,309.6 L399.2,311.1 L399.4,312.6 L399.6,314.1 L399.8,315.6 L399.9,317.1 L400.1,318.6 L400.3,320.1 L400.5,321.5 L400.8,323.0 L401.0,324.5 L401.2,326.0 L401.4,327.5 L401.6,329.0 L401.8,330.4 L402.1,331.9 L402.3,333.4 L402.5,334.9 L402.8,336.4 L403.0,337.9 L403.3,339.3 L403.5,340.8 L403.8,342.3 L404.0,343.8 L404.3,345.2 L404.5,346.7 L404.8,348.2 L405.1,349.7 L405.3,351.2 L405.6,352.6 L405.9,354.1 L406.1,355.6 L406.4,357.1 L406.7,358.5 L406.9,360.0 L407.2,361.5 L407.5,363.0 L407.7,364.4 L408.0,365.9 L408.3,367.4 L408.6,368.9 L408.9,370.3 L409.2,371.8 L409.5,373.3 L409.8,374.7 L410.1,376.2 L410.4,377.7 L410.7,379.1 L411.0,380.6 L411.3,382.1 L411.7,383.5 L412.0,385.0 L412.3,386.5 L412.6,387.9 L413.0,389.4 L413.3,390.8 L413.7,392.3 L414.0,393.8 L414.4,395.2 L414.8,396.7 L415.2,398.1 L415.6,399.5 L416.0,401.0 L416.4,402.4 L416.9,403.9 L417.3,405.3 L417.8,406.7 L418.2,408.2 L418.7,409.6 L419.2,411.0 L419.6,412.4 L420.1,413.8 L420.6,415.3 L421.1,416.7 L421.7,418.1 L422.2,419.5 L422.7,420.9 L423.3,422.3 L423.8,423.7 L424.4,425.1 L425.0,426.4 L425.6,427.8 L426.2,429.2 L426.8,430.6 L427.4,431.9 L428.0,433.3 L428.7,434.6 L429.3,436.0 L430.0,437.3 L430.7,438.7 L431.4,440.0 L432.1,441.3 L432.9,442.6 L433.6,443.9 L434.4,445.2 L435.2,446.5 L435.9,447.7 L436.8,449.0 L437.6,450.3 L438.4,451.5 L439.3,452.7 L440.2,453.9 L441.1,455.1 L442.0,456.3 L442.9,457.5 L443.9,458.6 L444.9,459.8 L445.9,460.9 L446.9,462.0 L447.9,463.1 L448.9,464.2 L450.0,465.2 L451.1,466.3 L452.2,467.3 L453.3,468.3 L454.4,469.3 L455.5,470.3 L456.7,471.2 L457.9,472.2 L459.0,473.1 L460.2,474.0 L461.4,474.9 L462.7,475.8 L463.9,476.6 L465.1,477.4 L466.4,478.3 L467.7,479.1 L468.9,479.8 L470.2,480.6 L471.5,481.3 L472.9,482.0 L474.2,482.7 L475.5,483.4 L476.9,484.0 L478.2,484.7 L479.6,485.3 L481.0,485.9 L482.4,486.4 L483.8,487.0 L485.2,487.5 L486.6,488.0 L488.0,488.5 L489.4,488.9 L490.9,489.4 L492.3,489.8 L493.7,490.2 L495.2,490.6 L496.7,490.9 L498.1,491.3 L499.6,491.6 L501.0,492.0 L502.5,492.3 L504.0,492.6 L505.4,492.9 L506.9,493.1 L508.4,493.4 L509.9,493.6 L511.4,493.8 L512.8,494.0 L514.3,494.2 L515.8,494.4 L517.3,494.6 L518.8,494.7 L520.3,494.9 L521.8,495.0 L523.3,495.1 L524.8,495.2 L526.3,495.3 L527.8,495.5 L529.3,495.6 L530.8,495.7 L532.3,495.8 L533.8,495.9 L535.2,495.9 L536.7,496.0 L538.2,496.1 L539.7,496.2 L541.2,496.3 L542.7,496.4 L544.2,496.5 L545.7,496.6 L547.2,496.7 L548.7,496.8 L550.2,496.9 L551.7,497.0 L553.2,497.0 L554.7,497.1 L556.2,497.2 L557.7,497.3 L559.2,497.4 L560.7,497.5 L562.2,497.6 L563.7,497.6 L565.2,497.7 L566.7,497.8 L568.2,497.9 L569.7,498.0 L571.2,498.1 L572.7,498.2 L574.2,498.3 L575.7,498.4 L577.2,498.5 L578.7,498.5 L580.2,498.6 L581.7,498.7 L583.2,498.7 L584.7,498.8 L586.2,498.8 L587.7,498.9 L589.2,498.9 L590.7,498.8 L592.2,498.8 L593.6,498.7 L595.1,498.6 L596.6,498.4 L598.1,498.2 L599.6,498.0 L601.0,497.7 L602.5,497.4 L604.0,497.0 L605.4,496.7 L606.9,496.3 L608.3,495.8 L609.7,495.4 L611.1,494.9 L612.5,494.4 L613.9,493.9 L615.3,493.3 L616.7,492.7 L618.1,492.1 L619.4,491.5 L620.8,490.8 L622.1,490.2 L623.5,489.5 L624.8,488.8 L626.2,488.2 L627.5,487.5 L628.8,486.8 L630.2,486.1 L631.5,485.4 L632.8,484.7 L634.1,484.0 L635.5,483.3 L636.8,482.6 L638.1,481.9 L639.4,481.2 L640.8,480.5 L642.1,479.8 L643.4,479.1 L644.8,478.5 L646.1,477.8 L647.5,477.1 L648.8,476.5 L650.2,475.8 L651.5,475.1 L652.8,474.4 L654.1,473.7 L655.4,472.9 L656.7,472.1 L657.9,471.3 L659.2,470.5 L660.4,469.6 L661.5,468.6 L662.6,467.6 L663.7,466.6 L664.7,465.5 L665.7,464.4 L666.7,463.3 L667.6,462.1 L668.4,460.9 L669.3,459.6 L670.1,458.4 L670.9,457.1 L671.6,455.8 L672.3,454.5 L673.0,453.2 L673.6,451.8 L674.1,450.4 L674.7,449.0 L675.2,447.6 L675.7,446.2 L676.2,444.8 L676.6,443.4 L677.1,441.9 L677.5,440.5 L678.0,439.1 L678.4,437.6 L678.7,436.2 L679.1,434.7 L679.4,433.3 L679.7,431.8 L680.0,430.3 L680.3,428.8 L680.6,427.4 L680.9,425.9 L681.2,424.4 L681.5,423.0 L681.8,421.5 L682.1,420.0 L682.4,418.6 L682.7,417.1 L683.1,415.6 L683.4,414.2 L683.9,412.8 L684.3,411.3 L684.8,409.9 L685.3,408.5 L685.8,407.1" stroke="#fc8d62"/>
</g>
<g clip-path="url(#cp01)" stroke-linejoin="round">
<path d="M396.5,142.1 L398.0,142.5 L399.5,142.8 L401.0,143.2 L402.5,143.6 L404.0,143.9 L405.5,144.2 L407.0,144.5 L408.5,144.8 L410.0,145.1 L411.5,145.4 L413.0,145.7 L414.5,146.0 L416.0,146.2 L417.5,146.5 L419.0,146.8 L420.5,147.0 L422.0,147.2 L423.5,147.5 L425.0,147.7 L426.5,147.9 L428.0,148.1 L429.5,148.3 L431.0,148.5 L432.5,148.7 L434.0,148.9 L435.5,149.1 L437.0,149.3 L438.5,149.5 L440.0,149.6 L441.5,149.8 L443.0,150.0 L444.5,150.1 L446.0,150.3 L447.5,150.4 L449.0,150.5 L450.5,150.7 L452.0,150.8 L453.5,151.0 L455.0,151.1 L456.5,151.2 L458.0,151.4 L459.5,151.5 L461.0,151.6 L462.5,151.7 L464.0,151.8 L465.5,152.0 L467.0,152.1 L468.5,152.2 L470.0,152.3 L471.5,152.4 L473.0,152.5 L474.5,152.5 L476.0,152.6 L477.5,152.7 L479.0,152.8 L480.5,152.8 L482.0,152.9 L483.5,153.0 L485.0,153.0 L486.5,153.1 L488.0,153.2 L489.5,153.2 L491.0,153.3 L492.5,153.3 L494.0,153.4 L495.5,153.4 L497.0,153.5 L498.5,153.6 L500.0,153.6 L501.5,153.7 L503.0,153.7 L504.5,153.8 L506.0,153.8 L507.5,153.9 L509.0,153.9 L510.5,153.9 L512.0,154.0 L513.5,154.0 L515.0,154.1 L516.5,154.1 L518.0,154.1 L519.5,154.2 L521.0,154.2 L522.5,154.2 L524.0,154.3 L525.5,154.3 L527.0,154.3 L528.5,154.4 L530.0,154.4 L531.5,154.4 L533.0,154.5 L534.5,154.5 L536.0,154.5 L537.5,154.5 L539.0,154.6 L540.5,154.6 L542.0,154.6 L543.5,154.6 L545.0,154.6 L546.5,154.7 L548.0,154.7 L549.5,154.7 L551.0,154.7 L552.5,154.8 L554.0,154.8 L555.5,154.8 L557.0,154.8 L558.5,154.9 L560.0,154.9 L561.5,154.9 L563.0,154.9 L564.5,154.9 L566.0,154.9 L567.5,155.0 L569.0,155.0 L570.5,155.0 L572.0,155.0 L573.5,155.0 L575.0,155.0 L576.5,155.0 L578.0,155.0 L579.5,155.0 L581.0,155.0 L582.5,155.0 L584.0,154.9 L585.5,154.9 L587.0,154.9 L588.5,154.9 L590.0,154.8 L591.5,154.8 L593.0,154.8 L594.5,154.7 L596.0,154.7 L597.5,154.6 L599.0,154.6 L600.5,154.5 L602.0,154.5 L603.5,154.4 L605.0,154.4 L606.5,154.3 L608.0,154.2 L609.5,154.2 L611.0,154.1 L612.5,154.0 L614.0,153.9 L615.5,153.9 L617.0,153.8 L618.5,153.7 L620.0,153.6 L621.5,153.6 L623.0,153.5 L624.5,153.4 L626.0,153.3 L627.5,153.2 L629.0,153.1 L630.5,153.0 L632.0,152.9 L633.5,152.8 L635.0,152.7 L636.5,152.6 L638.0,152.5 L639.5,152.4 L641.0,152.3 L642.5,152.2 L644.0,152.1 L645.5,152.0 L647.0,151.8 L648.5,151.7 L650.0,151.6 L651.5,151.4 L653.0,151.3 L654.5,151.1 L656.0,150.9 L657.5,150.7 L659.0,150.5 L660.5,150.3 L662.0,150.1 L663.5,149.8 L665.0,149.6 L666.5,149.3 L668.0,148.9 L669.5,148.6 L671.0,148.2 L672.5,147.8 L674.0,147.4 L675.5,146.9 L677.0,146.4 L678.5,145.9 L680.0,145.2 L681.5,144.5 L684.1,143.4 L684.1,168.4 L681.5,167.2 L680.0,166.5 L678.5,165.9 L677.0,165.3 L675.5,164.8 L674.0,164.3 L672.5,163.9 L671.0,163.5 L669.5,163.1 L668.0,162.8 L666.5,162.5 L665.0,162.2 L663.5,161.9 L662.0,161.7 L660.5,161.4 L659.0,161.2 L657.5,161.0 L656.0,160.8 L654.5,160.6 L653.0,160.5 L651.5,160.3 L650.0,160.2 L648.5,160.0 L647.0,159.9 L645.5,159.8 L644.0,159.7 L642.5,159.5 L641.0,159.4 L639.5,159.3 L638.0,159.2 L636.5,159.1 L635.0,159.0 L633.5,158.9 L632.0,158.8 L630.5,158.7 L629.0,158.6 L627.5,158.5 L626.0,158.4 L624.5,158.4 L623.0,158.3 L621.5,158.2 L620.0,158.1 L618.5,158.0 L617.0,158.0 L615.5,157.9 L614.0,157.8 L612.5,157.7 L611.0,157.7 L609.5,157.6 L608.0,157.5 L606.5,157.5 L605.0,157.4 L603.5,157.3 L602.0,157.3 L600.5,157.2 L599.0,157.2 L597.5,157.1 L596.0,157.1 L594.5,157.0 L593.0,157.0 L591.5,156.9 L590.0,156.9 L588.5,156.9 L587.0,156.8 L585.5,156.8 L584.0,156.8 L582.5,156.8 L581.0,156.8 L579.5,156.8 L578.0,156.8 L576.5,156.8 L575.0,156.8 L573.5,156.8 L572.0,156.8 L570.5,156.8 L569.0,156.8 L567.5,156.8 L566.0,156.8 L564.5,156.8 L563.0,156.8 L561.5,156.9 L560.0,156.9 L558.5,156.9 L557.0,156.9 L555.5,156.9 L554.0,157.0 L552.5,157.0 L551.0,157.0 L549.5,157.0 L548.0,157.1 L546.5,157.1 L545.0,157.1 L543.5,157.1 L542.0,157.1 L540.5,157.2 L539.0,157.2 L537.5,157.2 L536.0,157.2 L534.5,157.3 L533.0,157.3 L531.5,157.3 L530.0,157.4 L528.5,157.4 L527.0,157.4 L525.5,157.5 L524.0,157.5 L522.5,157.5 L521.0,157.5 L519.5,157.6 L518.0,157.6 L516.5,157.7 L515.0,157.7 L513.5,157.7 L512.0,157.8 L510.5,157.8 L509.0,157.9 L507.5,157.9 L506.0,157.9 L504.5,158.0 L503.0,158.0 L501.5,158.1 L500.0,158.1 L498.5,158.2 L497.0,158.2 L495.5,158.3 L494.0,158.4 L492.5,158.4 L491.0,158.5 L489.5,158.5 L488.0,158.6 L486.5,158.6 L485.0,158.7 L483.5,158.8 L482.0,158.8 L480.5,158.9 L479.0,159.0 L477.5,159.0 L476.0,159.1 L474.5,159.2 L473.0,159.3 L471.5,159.4 L470.0,159.5 L468.5,159.6 L467.0,159.7 L465.5,159.8 L464.0,159.9 L462.5,160.0 L461.0,160.1 L459.5,160.3 L458.0,160.4 L456.5,160.5 L455.0,160.7 L453.5,160.8 L452.0,160.9 L450.5,161.1 L449.0,161.2 L447.5,161.3 L446.0,161.5 L444.5,161.6 L443.0,161.8 L441.5,161.9 L440.0,162.1 L438.5,162.3 L437.0,162.4 L435.5,162.6 L434.0,162.8 L432.5,163.0 L431.0,163.2 L429.5,163.4 L428.0,163.6 L426.5,163.8 L425.0,164.1 L423.5,164.3 L422.0,164.5 L420.5,164.7 L419.0,165.0 L417.5,165.2 L416.0,165.5 L414.5,165.8 L413.0,166.0 L411.5,166.3 L410.0,166.6 L408.5,166.9 L407.0,167.2 L405.5,167.5 L404.0,167.9 L402.5,168.2 L401.0,168.5 L399.5,168.9 L398.0,169.3 L396.5,169.7Z" fill="#66c2a5" fill-opacity="0.5" stroke="none"/>
<path d="M396.5,142.1 L398.0,142.5 L399.5,142.8 L401.0,143.2 L402.5,143.6 L404.0,143.9 L405.5,144.2 L407.0,144.5 L408.5,144.8 L410.0,145.1 L411.5,145.4 L413.0,145.7 L414.5,146.0 L416.0,146.2 L417.5,146.5 L419.0,146.8 L420.5,147.0 L422.0,147.2 L423.5,147.5 L425.0,147.7 L426.5,147.9 L428.0,148.1 L429.5,148.3 L431.0,148.5 L432.5,148.7 L434.0,148.9 L435.5,149.1 L437.0,149.3 L438.5,149.5 L440.0,149.6 L441.5,149.8 L443.0,150.0 L444.5,150.1 L446.0,150.3 L447.5,150.4 L449.0,150.5 L450.5,150.7 L452.0,150.8 L453.5,151.0 L455.0,151.1 L456.5,151.2 L458.0,151.4 L459.5,151.5 L461.0,151.6 L462.5,151.7 L464.0,151.8 L465.5,152.0 L467.0,152.1 L468.5,152.2 L470.0,152.3 L471.5,152.4 L473.0,152.5 L474.5,152.5 L476.0,152.6 L477.5,152.7 L479.0,152.8 L480.5,152.8 L482.0,152.9 L483.5,153.0 L485.0,153.0 L486.5,153.1 L488.0,153.2 L489.5,153.2 L491.0,153.3 L492.5,153.3 L494.0,153.4 L495.5,153.4 L497.0,153.5 L498.5,153.6 L500.0,153.6 L501.5,153.7 L503.0,153.7 L504.5,153.8 L506.0,153.8 L507.5,153.9 L509.0,153.9 L510.5,153.9 L512.0,154.0 L513.5,154.0 L515.0,154.1 L516.5,154.1 L518.0,154.1 L519.5,154.2 L521.0,154.2 L522.5,154.2 L524.0,154.3 L525.5,154.3 L527.0,154.3 L528.5,154.4 L530.0,154.4 L531.5,154.4 L533.0,154.5 L534.5,154.5 L536.0,154.5 L537.5,154.5 L539.0,154.6 L540.5,154.6 L542.0,154.6 L543.5,154.6 L545.0,154.6 L546.5,154.7 L548.0,154.7 L549.5,154.7 L551.0,154.7 L552.5,154.8 L554.0,154.8 L555.5,154.8 L557.0,154.8 L558.5,154.9 L560.0,154.9 L561.5,154.9 L563.0,154.9 L564.5,154.9 L566.0,154.9 L567.5,155.0 L569.0,155.0 L570.5,155.0 L572.0,155.0 L573.5,155.0 L575.0,155.0 L576.5,155.0 L578.0,155.0 L579.5,155.0 L581.0,155.0 L582.5,155.0 L584.0,154.9 L585.5,154.9 L587.0,154.9 L588.5,154.9 L590.0,154.8 L591.5,154.8 L593.0,154.8 L594.5,154.7 L596.0,154.7 L597.5,154.6 L599.0,154.6 L600.5,154.5 L602.0,154.5 L603.5,154.4 L605.0,154.4 L606.5,154.3 L608.0,154.2 L609.5,154.2 L611.0,154.1 L612.5,154.0 L614.0,153.9 L615.5,153.9 L617.0,153.8 L618.5,153.7 L620.0,153.6 L621.5,153.6 L623.0,153.5 L624.5,153.4 L626.0,153.3 L627.5,153.2 L629.0,153.1 L630.5,153.0 L632.0,152.9 L633.5,152.8 L635.0,152.7 L636.5,152.6 L638.0,152.5 L639.5,152.4 L641.0,152.3 L642.5,152.2 L644.0,152.1 L645.5,152.0 L647.0,151.8 L648.5,151.7 L650.0,151.6 L651.5,151.4 L653.0,151.3 L654.5,151.1 L656.0,150.9 L657.5,150.7 L659.0,150.5 L660.5,150.3 L662.0,150.1 L663.5,149.8 L665.0,149.6 L666.5,149.3 L668.0,148.9 L669.5,148.6 L671.0,148.2 L672.5,147.8 L674.0,147.4 L675.5,146.9 L677.0,146.4 L678.5,145.9 L680.0,145.2 L681.5,144.5 L684.1,143.4 L684.1,168.4 L681.5,167.2 L680.0,166.5 L678.5,165.9 L677.0,165.3 L675.5,164.8 L674.0,164.3 L672.5,163.9 L671.0,163.5 L669.5,163.1 L668.0,162.8 L666.5,162.5 L665.0,162.2 L663.5,161.9 L662.0,161.7 L660.5,161.4 L659.0,161.2 L657.5,161.0 L656.0,160.8 L654.5,160.6 L653.0,160.5 L651.5,160.3 L650.0,160.2 L648.5,160.0 L647.0,159.9 L645.5,159.8 L644.0,159.7 L642.5,159.5 L641.0,159.4 L639.5,159.3 L638.0,159.2 L636.5,159.1 L635.0,159.0 L633.5,158.9 L632.0,158.8 L630.5,158.7 L629.0,158.6 L627.5,158.5 L626.0,158.4 L624.5,158.4 L623.0,158.3 L621.5,158.2 L620.0,158.1 L618.5,158.0 L617.0,158.0 L615.5,157.9 L614.0,157.8 L612.5,157.7 L611.0,157.7 L609.5,157.6 L608.0,157.5 L606.5,157.5 L605.0,157.4 L603.5,157.3 L602.0,157.3 L600.5,157.2 L599.0,157.2 L597.5,157.1 L596.0,157.1 L594.5,157.0 L593.0,157.0 L591.5,156.9 L590.0,156.9 L588.5,156.9 L587.0,156.8 L585.5,156.8 L584.0,156.8 L582.5,156.8 L581.0,156.8 L579.5,156.8 L578.0,156.8 L576.5,156.8 L575.0,156.8 L573.5,156.8 L572.0,156.8 L570.5,156.8 L569.0,156.8 L567.5,156.8 L566.0,156.8 L564.5,156.8 L563.0,156.8 L561.5,156.9 L560.0,156.9 L558.5,156.9 L557.0,156.9 L555.5,156.9 L554.0,157.0 L552.5,157.0 L551.0,157.0 L549.5,157.0 L548.0,157.1 L546.5,157.1 L545.0,157.1 L543.5,157.1 L542.0,157.1 L540.5,157.2 L539.0,157.2 L537.5,157.2 L536.0,157.2 L534.5,157.3 L533.0,157.3 L531.5,157.3 L530.0,157.4 L528.5,157.4 L527.0,157.4 L525.5,157.5 L524.0,157.5 L522.5,157.5 L521.0,157.5 L519.5,157.6 L518.0,157.6 L516.5,157.7 L515.0,157.7 L513.5,157.7 L512.0,157.8 L510.5,157.8 L509.0,157.9 L507.5,157.9 L506.0,157.9 L504.5,158.0 L503.0,158.0 L501.5,158.1 L500.0,158.1 L498.5,158.2 L497.0,158.2 L495.5,158.3 L494.0,158.4 L492.5,158.4 L491.0,158.5 L489.5,158.5 L488.0,158.6 L486.5,158.6 L485.0,158.7 L483.5,158.8 L482.0,158.8 L480.5,158.9 L479.0,159.0 L477.5,159.0 L476.0,159.1 L474.5,159.2 L473.0,159.3 L471.5,159.4 L470.0,159.5 L468.5,159.6 L467.0,159.7 L465.5,159.8 L464.0,159.9 L462.5,160.0 L461.0,160.1 L459.5,160.3 L458.0,160.4 L456.5,160.5 L455.0,160.7 L453.5,160.8 L452.0,160.9 L450.5,161.1 L449.0,161.2 L447.5,161.3 L446.0,161.5 L444.5,161.6 L443.0,161.8 L441.5,161.9 L440.0,162.1 L438.5,162.3 L437.0,162.4 L435.5,162.6 L434.0,162.8 L432.5,163.0 L431.0,163.2 L429.5,163.4 L428.0,163.6 L426.5,163.8 L425.0,164.1 L423.5,164.3 L422.0,164.5 L420.5,164.7 L419.0,165.0 L417.5,165.2 L416.0,165.5 L414.5,165.8 L413.0,166.0 L411.5,166.3 L410.0,166.6 L408.5,166.9 L407.0,167.2 L405.5,167.5 L404.0,167.9 L402.5,168.2 L401.0,168.5 L399.5,168.9 L398.0,169.3 L396.5,169.7Z" fill="url(#hg01)" stroke="none"/>
<path d="M396.5,142.1 L398.0,142.5 L399.5,142.8 L401.0,143.2 L402.5,143.6 L404.0,143.9 L405.5,144.2 L407.0,144.5 L408.5,144.8 L410.0,145.1 L411.5,145.4 L413.0,145.7 L414.5,146.0 L416.0,146.2 L417.5,146.5 L419.0,146.8 L420.5,147.0 L422.0,147.2 L423.5,147.5 L425.0,147.7 L426.5,147.9 L428.0,148.1 L429.5,148.3 L431.0,148.5 L432.5,148.7 L434.0,148.9 L435.5,149.1 L437.0,149.3 L438.5,149.5 L440.0,149.6 L441.5,149.8 L443.0,150.0 L444.5,150.1 L446.0,150.3 L447.5,150.4 L449.0,150.5 L450.5,150.7 L452.0,150.8 L453.5,151.0 L455.0,151.1 L456.5,151.2 L458.0,151.4 L459.5,151.5 L461.0,151.6 L462.5,151.7 L464.0,151.8 L465.5,152.0 L467.0,152.1 L468.5,152.2 L470.0,152.3 L471.5,152.4 L473.0,152.5 L474.5,152.5 L476.0,152.6 L477.5,152.7 L479.0,152.8 L480.5,152.8 L482.0,152.9 L483.5,153.0 L485.0,153.0 L486.5,153.1 L488.0,153.2 L489.5,153.2 L491.0,153.3 L492.5,153.3 L494.0,153.4 L495.5,153.4 L497.0,153.5 L498.5,153.6 L500.0,153.6 L501.5,153.7 L503.0,153.7 L504.5,153.8 L506.0,153.8 L507.5,153.9 L509.0,153.9 L510.5,153.9 L512.0,154.0 L513.5,154.0 L515.0,154.1 L516.5,154.1 L518.0,154.1 L519.5,154.2 L521.0,154.2 L522.5,154.2 L524.0,154.3 L525.5,154.3 L527.0,154.3 L528.5,154.4 L530.0,154.4 L531.5,154.4 L533.0,154.5 L534.5,154.5 L536.0,154.5 L537.5,154.5 L539.0,154.6 L540.5,154.6 L542.0,154.6 L543.5,154.6 L545.0,154.6 L546.5,154.7 L548.0,154.7 L549.5,154.7 L551.0,154.7 L552.5,154.8 L554.0,154.8 L555.5,154.8 L557.0,154.8 L558.5,154.9 L560.0,154.9 L561.5,154.9 L563.0,154.9 L564.5,154.9 L566.0,154.9 L567.5,155.0 L569.0,155.0 L570.5,155.0 L572.0,155.0 L573.5,155.0 L575.0,155.0 L576.5,155.0 L578.0,155.0 L579.5,155.0 L581.0,155.0 L582.5,155.0 L584.0,154.9 L585.5,154.9 L587.0,154.9 L588.5,154.9 L590.0,154.8 L591.5,154.8 L593.0,154.8 L594.5,154.7 L596.0,154.7 L597.5,154.6 L599.0,154.6 L600.5,154.5 L602.0,154.5 L603.5,154.4 L605.0,154.4 L606.5,154.3 L608.0,154.2 L609.5,154.2 L611.0,154.1 L612.5,154.0 L614.0,153.9 L615.5,153.9 L617.0,153.8 L618.5,153.7 L620.0,153.6 L621.5,153.6 L623.0,153.5 L624.5,153.4 L626.0,153.3 L627.5,153.2 L629.0,153.1 L630.5,153.0 L632.0,152.9 L633.5,152.8 L635.0,152.7 L636.5,152.6 L638.0,152.5 L639.5,152.4 L641.0,152.3 L642.5,152.2 L644.0,152.1 L645.5,152.0 L647.0,151.8 L648.5,151.7 L650.0,151.6 L651.5,151.4 L653.0,151.3 L654.5,151.1 L656.0,150.9 L657.5,150.7 L659.0,150.5 L660.5,150.3 L662.0,150.1 L663.5,149.8 L665.0,149.6 L666.5,149.3 L668.0,148.9 L669.5,148.6 L671.0,148.2 L672.5,147.8 L674.0,147.4 L675.5,146.9 L677.0,146.4 L678.5,145.9 L680.0,145.2 L681.5,144.5 L684.1,143.4 M396.5,169.7 L398.0,169.3 L399.5,168.9 L401.0,168.5 L402.5,168.2 L404.0,167.9 L405.5,167.5 L407.0,167.2 L408.5,166.9 L410.0,166.6 L411.5,166.3 L413.0,166.0 L414.5,165.8 L416.0,165.5 L417.5,165.2 L419.0,165.0 L420.5,164.7 L422.0,164.5 L423.5,164.3 L425.0,164.1 L426.5,163.8 L428.0,163.6 L429.5,163.4 L431.0,163.2 L432.5,163.0 L434.0,162.8 L435.5,162.6 L437.0,162.4 L438.5,162.3 L440.0,162.1 L441.5,161.9 L443.0,161.8 L444.5,161.6 L446.0,161.5 L447.5,161.3 L449.0,161.2 L450.5,161.1 L452.0,160.9 L453.5,160.8 L455.0,160.7 L456.5,160.5 L458.0,160.4 L459.5,160.3 L461.0,160.1 L462.5,160.0 L464.0,159.9 L465.5,159.8 L467.0,159.7 L468.5,159.6 L470.0,159.5 L471.5,159.4 L473.0,159.3 L474.5,159.2 L476.0,159.1 L477.5,159.0 L479.0,159.0 L480.5,158.9 L482.0,158.8 L483.5,158.8 L485.0,158.7 L486.5,158.6 L488.0,158.6 L489.5,158.5 L491.0,158.5 L492.5,158.4 L494.0,158.4 L495.5,158.3 L497.0,158.2 L498.5,158.2 L500.0,158.1 L501.5,158.1 L503.0,158.0 L504.5,158.0 L506.0,157.9 L507.5,157.9 L509.0,157.9 L510.5,157.8 L512.0,157.8 L513.5,157.7 L515.0,157.7 L516.5,157.7 L518.0,157.6 L519.5,157.6 L521.0,157.5 L522.5,157.5 L524.0,157.5 L525.5,157.5 L527.0,157.4 L528.5,157.4 L530.0,157.4 L531.5,157.3 L533.0,157.3 L534.5,157.3 L536.0,157.2 L537.5,157.2 L539.0,157.2 L540.5,157.2 L542.0,157.1 L543.5,157.1 L545.0,157.1 L546.5,157.1 L548.0,157.1 L549.5,157.0 L551.0,157.0 L552.5,157.0 L554.0,157.0 L555.5,156.9 L557.0,156.9 L558.5,156.9 L560.0,156.9 L561.5,156.9 L563.0,156.8 L564.5,156.8 L566.0,156.8 L567.5,156.8 L569.0,156.8 L570.5,156.8 L572.0,156.8 L573.5,156.8 L575.0,156.8 L576.5,156.8 L578.0,156.8 L579.5,156.8 L581.0,156.8 L582.5,156.8 L584.0,156.8 L585.5,156.8 L587.0,156.8 L588.5,156.9 L590.0,156.9 L591.5,156.9 L593.0,157.0 L594.5,157.0 L596.0,157.1 L597.5,157.1 L599.0,157.2 L600.5,157.2 L602.0,157.3 L603.5,157.3 L605.0,157.4 L606.5,157.5 L608.0,157.5 L609.5,157.6 L611.0,157.7 L612.5,157.7 L614.0,157.8 L615.5,157.9 L617.0,158.0 L618.5,158.0 L620.0,158.1 L621.5,158.2 L623.0,158.3 L624.5,158.4 L626.0,158.4 L627.5,158.5 L629.0,158.6 L630.5,158.7 L632.0,158.8 L633.5,158.9 L635.0,159.0 L636.5,159.1 L638.0,159.2 L639.5,159.3 L641.0,159.4 L642.5,159.5 L644.0,159.7 L645.5,159.8 L647.0,159.9 L648.5,160.0 L650.0,160.2 L651.5,160.3 L653.0,160.5 L654.5,160.6 L656.0,160.8 L657.5,161.0 L659.0,161.2 L660.5,161.4 L662.0,161.7 L663.5,161.9 L665.0,162.2 L666.5,162.5 L668.0,162.8 L669.5,163.1 L671.0,163.5 L672.5,163.9 L674.0,164.3 L675.5,164.8 L677.0,165.3 L678.5,165.9 L680.0,166.5 L681.5,167.2 L684.1,168.4" fill="none" stroke="#66c2a5" stroke-opacity="0.6" stroke-width="0.8"/>
<path d="M396.5,117.0 L398.0,118.6 L399.5,120.2 L401.0,121.6 L402.5,122.8 L404.0,124.0 L405.5,125.1 L407.0,126.3 L408.5,127.6 L410.0,128.9 L411.5,130.3 L413.0,131.6 L414.5,132.9 L416.0,134.2 L417.5,135.4 L419.0,136.6 L420.5,137.7 L422.0,138.8 L423.5,139.8 L425.0,140.7 L426.5,141.5 L428.0,142.3 L429.5,143.1 L431.0,143.7 L432.5,144.3 L434.0,144.9 L435.5,145.5 L437.0,146.0 L438.5,146.6 L440.0,147.0 L441.5,147.2 L443.0,147.1 L444.5,147.0 L446.0,147.1 L447.5,147.3 L449.0,147.6 L450.5,148.1 L452.0,148.5 L453.5,148.9 L455.0,149.3 L456.5,149.6 L458.0,150.0 L459.5,150.3 L461.0,150.5 L462.5,150.8 L464.0,151.1 L465.5,151.3 L467.0,151.5 L468.5,151.8 L470.0,152.0 L471.5,152.2 L473.0,152.4 L474.5,152.6 L476.0,152.7 L477.5,152.9 L479.0,153.0 L480.5,153.2 L482.0,153.3 L483.5,153.4 L485.0,153.5 L486.5,153.6 L488.0,153.7 L489.5,153.8 L491.0,153.9 L492.5,154.0 L494.0,154.1 L495.5,154.2 L497.0,154.3 L498.5,154.3 L500.0,154.4 L501.5,154.5 L503.0,154.5 L504.5,154.6 L506.0,154.7 L507.5,154.7 L509.0,154.8 L510.5,154.8 L512.0,154.9 L513.5,154.9 L515.0,155.0 L516.5,155.0 L518.0,155.0 L519.5,155.1 L521.0,155.1 L522.5,155.1 L524.0,155.1 L525.5,155.1 L527.0,155.1 L528.5,155.1 L530.0,155.0 L531.5,155.0 L533.0,155.0 L534.5,154.9 L536.0,154.9 L537.5,154.9 L539.0,154.8 L540.5,154.8 L542.0,154.7 L543.5,154.7 L545.0,154.6 L546.5,154.6 L548.0,154.5 L549.5,154.5 L551.0,154.4 L552.5,154.4 L554.0,154.3 L555.5,154.3 L557.0,154.2 L558.5,154.2 L560.0,154.1 L561.5,154.0 L563.0,154.0 L564.5,153.9 L566.0,153.9 L567.5,153.8 L569.0,153.7 L570.5,153.7 L572.0,153.6 L573.5,153.6 L575.0,153.5 L576.5,153.5 L578.0,153.4 L579.5,153.4 L581.0,153.3 L582.5,153.3 L584.0,153.3 L585.5,153.2 L587.0,153.2 L588.5,153.1 L590.0,153.1 L591.5,153.0 L593.0,153.0 L594.5,152.9 L596.0,152.8 L597.5,152.7 L599.0,152.7 L600.5,152.6 L602.0,152.5 L603.5,152.4 L605.0,152.2 L606.5,152.1 L608.0,152.0 L609.5,151.9 L611.0,151.8 L612.5,151.6 L614.0,151.5 L615.5,151.4 L617.0,151.2 L618.5,151.1 L620.0,151.0 L621.5,150.8 L623.0,150.7 L624.5,150.5 L626.0,150.4 L627.5,150.2 L629.0,150.1 L630.5,150.0 L632.0,149.8 L633.5,149.7 L635.0,149.7 L636.5,149.6 L638.0,149.5 L639.5,149.4 L641.0,149.4 L642.5,149.3 L644.0,149.3 L645.5,149.2 L647.0,149.2 L648.5,149.1 L650.0,149.1 L651.5,149.0 L653.0,149.0 L654.5,148.9 L656.0,148.8 L657.5,148.6 L659.0,148.5 L660.5,148.3 L662.0,148.1 L663.5,147.8 L665.0,147.5 L666.5,147.1 L668.0,146.6 L669.5,146.0 L671.0,145.4 L672.5,144.5 L674.0,143.6 L675.5,142.4 L677.0,141.1 L678.5,139.6 L680.0,137.7 L681.5,135.6 L684.1,132.3 L684.1,170.5 L681.5,169.5 L680.0,168.6 L678.5,167.8 L677.0,167.2 L675.5,166.7 L674.0,166.3 L672.5,165.9 L671.0,165.6 L669.5,165.3 L668.0,165.0 L666.5,164.7 L665.0,164.4 L663.5,164.1 L662.0,163.8 L660.5,163.5 L659.0,163.2 L657.5,163.0 L656.0,162.7 L654.5,162.5 L653.0,162.2 L651.5,162.0 L650.0,161.7 L648.5,161.5 L647.0,161.2 L645.5,161.0 L644.0,160.7 L642.5,160.5 L641.0,160.2 L639.5,160.0 L638.0,159.7 L636.5,159.5 L635.0,159.2 L633.5,159.0 L632.0,158.8 L630.5,158.6 L629.0,158.4 L627.5,158.2 L626.0,158.1 L624.5,157.9 L623.0,157.8 L621.5,157.6 L620.0,157.5 L618.5,157.4 L617.0,157.2 L615.5,157.1 L614.0,157.0 L612.5,156.9 L611.0,156.8 L609.5,156.7 L608.0,156.6 L606.5,156.6 L605.0,156.5 L603.5,156.5 L602.0,156.5 L600.5,156.4 L599.0,156.4 L597.5,156.4 L596.0,156.4 L594.5,156.4 L593.0,156.5 L591.5,156.5 L590.0,156.5 L588.5,156.6 L587.0,156.6 L585.5,156.7 L584.0,156.7 L582.5,156.8 L581.0,156.9 L579.5,157.0 L578.0,157.0 L576.5,157.1 L575.0,157.2 L573.5,157.3 L572.0,157.4 L570.5,157.5 L569.0,157.6 L567.5,157.6 L566.0,157.7 L564.5,157.8 L563.0,157.9 L561.5,158.0 L560.0,158.1 L558.5,158.2 L557.0,158.3 L555.5,158.4 L554.0,158.5 L552.5,158.6 L551.0,158.7 L549.5,158.8 L548.0,158.8 L546.5,158.9 L545.0,159.0 L543.5,159.1 L542.0,159.2 L540.5,159.3 L539.0,159.3 L537.5,159.4 L536.0,159.5 L534.5,159.6 L533.0,159.7 L531.5,159.7 L530.0,159.8 L528.5,159.9 L527.0,159.9 L525.5,160.0 L524.0,160.0 L522.5,160.1 L521.0,160.1 L519.5,160.1 L518.0,160.2 L516.5,160.2 L515.0,160.2 L513.5,160.3 L512.0,160.3 L510.5,160.3 L509.0,160.4 L507.5,160.4 L506.0,160.5 L504.5,160.5 L503.0,160.6 L501.5,160.7 L500.0,160.7 L498.5,160.8 L497.0,160.9 L495.5,160.9 L494.0,161.0 L492.5,161.1 L491.0,161.2 L489.5,161.3 L488.0,161.4 L486.5,161.5 L485.0,161.6 L483.5,161.7 L482.0,161.8 L480.5,161.9 L479.0,162.0 L477.5,162.2 L476.0,162.3 L474.5,162.4 L473.0,162.5 L471.5,162.7 L470.0,162.8 L468.5,162.9 L467.0,163.1 L465.5,163.2 L464.0,163.4 L462.5,163.6 L461.0,163.7 L459.5,163.9 L458.0,164.0 L456.5,164.2 L455.0,164.4 L453.5,164.5 L452.0,164.7 L450.5,164.8 L449.0,164.9 L447.5,165.0 L446.0,165.0 L444.5,165.0 L443.0,164.9 L441.5,164.8 L440.0,165.0 L438.5,165.2 L437.0,165.5 L435.5,165.7 L434.0,166.0 L432.5,166.2 L431.0,166.4 L429.5,166.6 L428.0,166.9 L426.5,167.2 L425.0,167.5 L423.5,167.8 L422.0,168.0 L420.5,168.2 L419.0,168.4 L417.5,168.6 L416.0,168.7 L414.5,168.9 L413.0,169.0 L411.5,169.2 L410.0,169.3 L408.5,169.5 L407.0,169.6 L405.5,169.7 L404.0,169.9 L402.5,170.0 L401.0,170.1 L399.5,170.2 L398.0,170.3 L396.5,170.4Z" fill="#fc8d62" fill-opacity="0.5" stroke="none"/>
<path d="M396.5,117.0 L398.0,118.6 L399.5,120.2 L401.0,121.6 L402.5,122.8 L404.0,124.0 L405.5,125.1 L407.0,126.3 L408.5,127.6 L410.0,128.9 L411.5,130.3 L413.0,131.6 L414.5,132.9 L416.0,134.2 L417.5,135.4 L419.0,136.6 L420.5,137.7 L422.0,138.8 L423.5,139.8 L425.0,140.7 L426.5,141.5 L428.0,142.3 L429.5,143.1 L431.0,143.7 L432.5,144.3 L434.0,144.9 L435.5,145.5 L437.0,146.0 L438.5,146.6 L440.0,147.0 L441.5,147.2 L443.0,147.1 L444.5,147.0 L446.0,147.1 L447.5,147.3 L449.0,147.6 L450.5,148.1 L452.0,148.5 L453.5,148.9 L455.0,149.3 L456.5,149.6 L458.0,150.0 L459.5,150.3 L461.0,150.5 L462.5,150.8 L464.0,151.1 L465.5,151.3 L467.0,151.5 L468.5,151.8 L470.0,152.0 L471.5,152.2 L473.0,152.4 L474.5,152.6 L476.0,152.7 L477.5,152.9 L479.0,153.0 L480.5,153.2 L482.0,153.3 L483.5,153.4 L485.0,153.5 L486.5,153.6 L488.0,153.7 L489.5,153.8 L491.0,153.9 L492.5,154.0 L494.0,154.1 L495.5,154.2 L497.0,154.3 L498.5,154.3 L500.0,154.4 L501.5,154.5 L503.0,154.5 L504.5,154.6 L506.0,154.7 L507.5,154.7 L509.0,154.8 L510.5,154.8 L512.0,154.9 L513.5,154.9 L515.0,155.0 L516.5,155.0 L518.0,155.0 L519.5,155.1 L521.0,155.1 L522.5,155.1 L524.0,155.1 L525.5,155.1 L527.0,155.1 L528.5,155.1 L530.0,155.0 L531.5,155.0 L533.0,155.0 L534.5,154.9 L536.0,154.9 L537.5,154.9 L539.0,154.8 L540.5,154.8 L542.0,154.7 L543.5,154.7 L545.0,154.6 L546.5,154.6 L548.0,154.5 L549.5,154.5 L551.0,154.4 L552.5,154.4 L554.0,154.3 L555.5,154.3 L557.0,154.2 L558.5,154.2 L560.0,154.1 L561.5,154.0 L563.0,154.0 L564.5,153.9 L566.0,153.9 L567.5,153.8 L569.0,153.7 L570.5,153.7 L572.0,153.6 L573.5,153.6 L575.0,153.5 L576.5,153.5 L578.0,153.4 L579.5,153.4 L581.0,153.3 L582.5,153.3 L584.0,153.3 L585.5,153.2 L587.0,153.2 L588.5,153.1 L590.0,153.1 L591.5,153.0 L593.0,153.0 L594.5,152.9 L596.0,152.8 L597.5,152.7 L599.0,152.7 L600.5,152.6 L602.0,152.5 L603.5,152.4 L605.0,152.2 L606.5,152.1 L608.0,152.0 L609.5,151.9 L611.0,151.8 L612.5,151.6 L614.0,151.5 L615.5,151.4 L617.0,151.2 L618.5,151.1 L620.0,151.0 L621.5,150.8 L623.0,150.7 L624.5,150.5 L626.0,150.4 L627.5,150.2 L629.0,150.1 L630.5,150.0 L632.0,149.8 L633.5,149.7 L635.0,149.7 L636.5,149.6 L638.0,149.5 L639.5,149.4 L641.0,149.4 L642.5,149.3 L644.0,149.3 L645.5,149.2 L647.0,149.2 L648.5,149.1 L650.0,149.1 L651.5,149.0 L653.0,149.0 L654.5,148.9 L656.0,148.8 L657.5,148.6 L659.0,148.5 L660.5,148.3 L662.0,148.1 L663.5,147.8 L665.0,147.5 L666.5,147.1 L668.0,146.6 L669.5,146.0 L671.0,145.4 L672.5,144.5 L674.0,143.6 L675.5,142.4 L677.0,141.1 L678.5,139.6 L680.0,137.7 L681.5,135.6 L684.1,132.3 L684.1,170.5 L681.5,169.5 L680.0,168.6 L678.5,167.8 L677.0,167.2 L675.5,166.7 L674.0,166.3 L672.5,165.9 L671.0,165.6 L669.5,165.3 L668.0,165.0 L666.5,164.7 L665.0,164.4 L663.5,164.1 L662.0,163.8 L660.5,163.5 L659.0,163.2 L657.5,163.0 L656.0,162.7 L654.5,162.5 L653.0,162.2 L651.5,162.0 L650.0,161.7 L648.5,161.5 L647.0,161.2 L645.5,161.0 L644.0,160.7 L642.5,160.5 L641.0,160.2 L639.5,160.0 L638.0,159.7 L636.5,159.5 L635.0,159.2 L633.5,159.0 L632.0,158.8 L630.5,158.6 L629.0,158.4 L627.5,158.2 L626.0,158.1 L624.5,157.9 L623.0,157.8 L621.5,157.6 L620.0,157.5 L618.5,157.4 L617.0,157.2 L615.5,157.1 L614.0,157.0 L612.5,156.9 L611.0,156.8 L609.5,156.7 L608.0,156.6 L606.5,156.6 L605.0,156.5 L603.5,156.5 L602.0,156.5 L600.5,156.4 L599.0,156.4 L597.5,156.4 L596.0,156.4 L594.5,156.4 L593.0,156.5 L591.5,156.5 L590.0,156.5 L588.5,156.6 L587.0,156.6 L585.5,156.7 L584.0,156.7 L582.5,156.8 L581.0,156.9 L579.5,157.0 L578.0,157.0 L576.5,157.1 L575.0,157.2 L573.5,157.3 L572.0,157.4 L570.5,157.5 L569.0,157.6 L567.5,157.6 L566.0,157.7 L564.5,157.8 L563.0,157.9 L561.5,158.0 L560.0,158.1 L558.5,158.2 L557.0,158.3 L555.5,158.4 L554.0,158.5 L552.5,158.6 L551.0,158.7 L549.5,158.8 L548.0,158.8 L546.5,158.9 L545.0,159.0 L543.5,159.1 L542.0,159.2 L540.5,159.3 L539.0,159.3 L537.5,159.4 L536.0,159.5 L534.5,159.6 L533.0,159.7 L531.5,159.7 L530.0,159.8 L528.5,159.9 L527.0,159.9 L525.5,160.0 L524.0,160.0 L522.5,160.1 L521.0,160.1 L519.5,160.1 L518.0,160.2 L516.5,160.2 L515.0,160.2 L513.5,160.3 L512.0,160.3 L510.5,160.3 L509.0,160.4 L507.5,160.4 L506.0,160.5 L504.5,160.5 L503.0,160.6 L501.5,160.7 L500.0,160.7 L498.5,160.8 L497.0,160.9 L495.5,160.9 L494.0,161.0 L492.5,161.1 L491.0,161.2 L489.5,161.3 L488.0,161.4 L486.5,161.5 L485.0,161.6 L483.5,161.7 L482.0,161.8 L480.5,161.9 L479.0,162.0 L477.5,162.2 L476.0,162.3 L474.5,162.4 L473.0,162.5 L471.5,162.7 L470.0,162.8 L468.5,162.9 L467.0,163.1 L465.5,163.2 L464.0,163.4 L462.5,163.6 L461.0,163.7 L459.5,163.9 L458.0,164.0 L456.5,164.2 L455.0,164.4 L453.5,164.5 L452.0,164.7 L450.5,164.8 L449.0,164.9 L447.5,165.0 L446.0,165.0 L444.5,165.0 L443.0,164.9 L441.5,164.8 L440.0,165.0 L438.5,165.2 L437.0,165.5 L435.5,165.7 L434.0,166.0 L432.5,166.2 L431.0,166.4 L429.5,166.6 L428.0,166.9 L426.5,167.2 L425.0,167.5 L423.5,167.8 L422.0,168.0 L420.5,168.2 L419.0,168.4 L417.5,168.6 L416.0,168.7 L414.5,168.9 L413.0,169.0 L411.5,169.2 L410.0,169.3 L408.5,169.5 L407.0,169.6 L405.5,169.7 L404.0,169.9 L402.5,170.0 L401.0,170.1 L399.5,170.2 L398.0,170.3 L396.5,170.4Z" fill="url(#ho01)" stroke="none"/>
<path d="M396.5,117.0 L398.0,118.6 L399.5,120.2 L401.0,121.6 L402.5,122.8 L404.0,124.0 L405.5,125.1 L407.0,126.3 L408.5,127.6 L410.0,128.9 L411.5,130.3 L413.0,131.6 L414.5,132.9 L416.0,134.2 L417.5,135.4 L419.0,136.6 L420.5,137.7 L422.0,138.8 L423.5,139.8 L425.0,140.7 L426.5,141.5 L428.0,142.3 L429.5,143.1 L431.0,143.7 L432.5,144.3 L434.0,144.9 L435.5,145.5 L437.0,146.0 L438.5,146.6 L440.0,147.0 L441.5,147.2 L443.0,147.1 L444.5,147.0 L446.0,147.1 L447.5,147.3 L449.0,147.6 L450.5,148.1 L452.0,148.5 L453.5,148.9 L455.0,149.3 L456.5,149.6 L458.0,150.0 L459.5,150.3 L461.0,150.5 L462.5,150.8 L464.0,151.1 L465.5,151.3 L467.0,151.5 L468.5,151.8 L470.0,152.0 L471.5,152.2 L473.0,152.4 L474.5,152.6 L476.0,152.7 L477.5,152.9 L479.0,153.0 L480.5,153.2 L482.0,153.3 L483.5,153.4 L485.0,153.5 L486.5,153.6 L488.0,153.7 L489.5,153.8 L491.0,153.9 L492.5,154.0 L494.0,154.1 L495.5,154.2 L497.0,154.3 L498.5,154.3 L500.0,154.4 L501.5,154.5 L503.0,154.5 L504.5,154.6 L506.0,154.7 L507.5,154.7 L509.0,154.8 L510.5,154.8 L512.0,154.9 L513.5,154.9 L515.0,155.0 L516.5,155.0 L518.0,155.0 L519.5,155.1 L521.0,155.1 L522.5,155.1 L524.0,155.1 L525.5,155.1 L527.0,155.1 L528.5,155.1 L530.0,155.0 L531.5,155.0 L533.0,155.0 L534.5,154.9 L536.0,154.9 L537.5,154.9 L539.0,154.8 L540.5,154.8 L542.0,154.7 L543.5,154.7 L545.0,154.6 L546.5,154.6 L548.0,154.5 L549.5,154.5 L551.0,154.4 L552.5,154.4 L554.0,154.3 L555.5,154.3 L557.0,154.2 L558.5,154.2 L560.0,154.1 L561.5,154.0 L563.0,154.0 L564.5,153.9 L566.0,153.9 L567.5,153.8 L569.0,153.7 L570.5,153.7 L572.0,153.6 L573.5,153.6 L575.0,153.5 L576.5,153.5 L578.0,153.4 L579.5,153.4 L581.0,153.3 L582.5,153.3 L584.0,153.3 L585.5,153.2 L587.0,153.2 L588.5,153.1 L590.0,153.1 L591.5,153.0 L593.0,153.0 L594.5,152.9 L596.0,152.8 L597.5,152.7 L599.0,152.7 L600.5,152.6 L602.0,152.5 L603.5,152.4 L605.0,152.2 L606.5,152.1 L608.0,152.0 L609.5,151.9 L611.0,151.8 L612.5,151.6 L614.0,151.5 L615.5,151.4 L617.0,151.2 L618.5,151.1 L620.0,151.0 L621.5,150.8 L623.0,150.7 L624.5,150.5 L626.0,150.4 L627.5,150.2 L629.0,150.1 L630.5,150.0 L632.0,149.8 L633.5,149.7 L635.0,149.7 L636.5,149.6 L638.0,149.5 L639.5,149.4 L641.0,149.4 L642.5,149.3 L644.0,149.3 L645.5,149.2 L647.0,149.2 L648.5,149.1 L650.0,149.1 L651.5,149.0 L653.0,149.0 L654.5,148.9 L656.0,148.8 L657.5,148.6 L659.0,148.5 L660.5,148.3 L662.0,148.1 L663.5,147.8 L665.0,147.5 L666.5,147.1 L668.0,146.6 L669.5,146.0 L671.0,145.4 L672.5,144.5 L674.0,143.6 L675.5,142.4 L677.0,141.1 L678.5,139.6 L680.0,137.7 L681.5,135.6 L684.1,132.3 M396.5,170.4 L398.0,170.3 L399.5,170.2 L401.0,170.1 L402.5,170.0 L404.0,169.9 L405.5,169.7 L407.0,169.6 L408.5,169.5 L410.0,169.3 L411.5,169.2 L413.0,169.0 L414.5,168.9 L416.0,168.7 L417.5,168.6 L419.0,168.4 L420.5,168.2 L422.0,168.0 L423.5,167.8 L425.0,167.5 L426.5,167.2 L428.0,166.9 L429.5,166.6 L431.0,166.4 L432.5,166.2 L434.0,166.0 L435.5,165.7 L437.0,165.5 L438.5,165.2 L440.0,165.0 L441.5,164.8 L443.0,164.9 L444.5,165.0 L446.0,165.0 L447.5,165.0 L449.0,164.9 L450.5,164.8 L452.0,164.7 L453.5,164.5 L455.0,164.4 L456.5,164.2 L458.0,164.0 L459.5,163.9 L461.0,163.7 L462.5,163.6 L464.0,163.4 L465.5,163.2 L467.0,163.1 L468.5,162.9 L470.0,162.8 L471.5,162.7 L473.0,162.5 L474.5,162.4 L476.0,162.3 L477.5,162.2 L479.0,162.0 L480.5,161.9 L482.0,161.8 L483.5,161.7 L485.0,161.6 L486.5,161.5 L488.0,161.4 L489.5,161.3 L491.0,161.2 L492.5,161.1 L494.0,161.0 L495.5,160.9 L497.0,160.9 L498.5,160.8 L500.0,160.7 L501.5,160.7 L503.0,160.6 L504.5,160.5 L506.0,160.5 L507.5,160.4 L509.0,160.4 L510.5,160.3 L512.0,160.3 L513.5,160.3 L515.0,160.2 L516.5,160.2 L518.0,160.2 L519.5,160.1 L521.0,160.1 L522.5,160.1 L524.0,160.0 L525.5,160.0 L527.0,159.9 L528.5,159.9 L530.0,159.8 L531.5,159.7 L533.0,159.7 L534.5,159.6 L536.0,159.5 L537.5,159.4 L539.0,159.3 L540.5,159.3 L542.0,159.2 L543.5,159.1 L545.0,159.0 L546.5,158.9 L548.0,158.8 L549.5,158.8 L551.0,158.7 L552.5,158.6 L554.0,158.5 L555.5,158.4 L557.0,158.3 L558.5,158.2 L560.0,158.1 L561.5,158.0 L563.0,157.9 L564.5,157.8 L566.0,157.7 L567.5,157.6 L569.0,157.6 L570.5,157.5 L572.0,157.4 L573.5,157.3 L575.0,157.2 L576.5,157.1 L578.0,157.0 L579.5,157.0 L581.0,156.9 L582.5,156.8 L584.0,156.7 L585.5,156.7 L587.0,156.6 L588.5,156.6 L590.0,156.5 L591.5,156.5 L593.0,156.5 L594.5,156.4 L596.0,156.4 L597.5,156.4 L599.0,156.4 L600.5,156.4 L602.0,156.5 L603.5,156.5 L605.0,156.5 L606.5,156.6 L608.0,156.6 L609.5,156.7 L611.0,156.8 L612.5,156.9 L614.0,157.0 L615.5,157.1 L617.0,157.2 L618.5,157.4 L620.0,157.5 L621.5,157.6 L623.0,157.8 L624.5,157.9 L626.0,158.1 L627.5,158.2 L629.0,158.4 L630.5,158.6 L632.0,158.8 L633.5,159.0 L635.0,159.2 L636.5,159.5 L638.0,159.7 L639.5,160.0 L641.0,160.2 L642.5,160.5 L644.0,160.7 L645.5,161.0 L647.0,161.2 L648.5,161.5 L650.0,161.7 L651.5,162.0 L653.0,162.2 L654.5,162.5 L656.0,162.7 L657.5,163.0 L659.0,163.2 L660.5,163.5 L662.0,163.8 L663.5,164.1 L665.0,164.4 L666.5,164.7 L668.0,165.0 L669.5,165.3 L671.0,165.6 L672.5,165.9 L674.0,166.3 L675.5,166.7 L677.0,167.2 L678.5,167.8 L680.0,168.6 L681.5,169.5 L684.1,170.5" fill="none" stroke="#fc8d62" stroke-opacity="0.6" stroke-width="0.8"/>
<path d="M396.5,155.9 L684.1,155.9" stroke="#66c2a5" stroke-width="1.8" fill="none"/>
<path d="M396.5,142.1 L398.0,142.5 L399.5,142.8 L401.0,143.2 L402.5,143.6 L404.0,143.9 L405.5,144.2 L407.0,144.5 L408.5,144.8 L410.0,145.1 L411.5,145.4 L413.0,145.7 L414.5,146.0 L416.0,146.2 L417.5,146.5 L419.0,146.8 L420.5,147.0 L422.0,147.2 L423.5,147.5 L425.0,147.7 L426.5,147.9 L428.0,148.1 L429.5,148.3 L431.0,148.5 L432.5,148.7 L434.0,148.9 L435.5,149.1 L437.0,149.3 L438.5,149.5 L440.0,149.6 L441.5,149.8 L443.0,150.0 L444.5,150.1 L446.0,150.3 L447.5,150.4 L449.0,150.5 L450.5,150.7 L452.0,150.8 L453.5,151.0 L455.0,151.1 L456.5,151.2 L458.0,151.4 L459.5,151.5 L461.0,151.6 L462.5,151.7 L464.0,151.8 L465.5,152.0 L467.0,152.1 L468.5,152.2 L470.0,152.3 L471.5,152.4 L473.0,152.5 L474.5,152.5 L476.0,152.6 L477.5,152.7 L479.0,152.8 L480.5,152.8 L482.0,152.9 L483.5,153.0 L485.0,153.0 L486.5,153.1 L488.0,153.2 L489.5,153.2 L491.0,153.3 L492.5,153.3 L494.0,153.4 L495.5,153.4 L497.0,153.5 L498.5,153.6 L500.0,153.6 L501.5,153.7 L503.0,153.7 L504.5,153.8 L506.0,153.8 L507.5,153.9 L509.0,153.9 L510.5,153.9 L512.0,154.0 L513.5,154.0 L515.0,154.1 L516.5,154.1 L518.0,154.1 L519.5,154.2 L521.0,154.2 L522.5,154.2 L524.0,154.3 L525.5,154.3 L527.0,154.3 L528.5,154.4 L530.0,154.4 L531.5,154.4 L533.0,154.5 L534.5,154.5 L536.0,154.5 L537.5,154.5 L539.0,154.6 L540.5,154.6 L542.0,154.6 L543.5,154.6 L545.0,154.6 L546.5,154.7 L548.0,154.7 L549.5,154.7 L551.0,154.7 L552.5,154.8 L554.0,154.8 L555.5,154.8 L557.0,154.8 L558.5,154.9 L560.0,154.9 L561.5,154.9 L563.0,154.9 L564.5,154.9 L566.0,154.9 L567.5,155.0 L569.0,155.0 L570.5,155.0 L572.0,155.0 L573.5,155.0 L575.0,155.0 L576.5,155.0 L578.0,155.0 L579.5,155.0 L581.0,155.0 L582.5,155.0 L584.0,154.9 L585.5,154.9 L587.0,154.9 L588.5,154.9 L590.0,154.8 L591.5,154.8 L593.0,154.8 L594.5,154.7 L596.0,154.7 L597.5,154.6 L599.0,154.6 L600.5,154.5 L602.0,154.5 L603.5,154.4 L605.0,154.4 L606.5,154.3 L608.0,154.2 L609.5,154.2 L611.0,154.1 L612.5,154.0 L614.0,153.9 L615.5,153.9 L617.0,153.8 L618.5,153.7 L620.0,153.6 L621.5,153.6 L623.0,153.5 L624.5,153.4 L626.0,153.3 L627.5,153.2 L629.0,153.1 L630.5,153.0 L632.0,152.9 L633.5,152.8 L635.0,152.7 L636.5,152.6 L638.0,152.5 L639.5,152.4 L641.0,152.3 L642.5,152.2 L644.0,152.1 L645.5,152.0 L647.0,151.8 L648.5,151.7 L650.0,151.6 L651.5,151.4 L653.0,151.3 L654.5,151.1 L656.0,150.9 L657.5,150.7 L659.0,150.5 L660.5,150.3 L662.0,150.1 L663.5,149.8 L665.0,149.6 L666.5,149.3 L668.0,148.9 L669.5,148.6 L671.0,148.2 L672.5,147.8 L674.0,147.4 L675.5,146.9 L677.0,146.4 L678.5,145.9 L680.0,145.2 L681.5,144.5 L684.1,143.4 M396.5,169.7 L398.0,169.3 L399.5,168.9 L401.0,168.5 L402.5,168.2 L404.0,167.9 L405.5,167.5 L407.0,167.2 L408.5,166.9 L410.0,166.6 L411.5,166.3 L413.0,166.0 L414.5,165.8 L416.0,165.5 L417.5,165.2 L419.0,165.0 L420.5,164.7 L422.0,164.5 L423.5,164.3 L425.0,164.1 L426.5,163.8 L428.0,163.6 L429.5,163.4 L431.0,163.2 L432.5,163.0 L434.0,162.8 L435.5,162.6 L437.0,162.4 L438.5,162.3 L440.0,162.1 L441.5,161.9 L443.0,161.8 L444.5,161.6 L446.0,161.5 L447.5,161.3 L449.0,161.2 L450.5,161.1 L452.0,160.9 L453.5,160.8 L455.0,160.7 L456.5,160.5 L458.0,160.4 L459.5,160.3 L461.0,160.1 L462.5,160.0 L464.0,159.9 L465.5,159.8 L467.0,159.7 L468.5,159.6 L470.0,159.5 L471.5,159.4 L473.0,159.3 L474.5,159.2 L476.0,159.1 L477.5,159.0 L479.0,159.0 L480.5,158.9 L482.0,158.8 L483.5,158.8 L485.0,158.7 L486.5,158.6 L488.0,158.6 L489.5,158.5 L491.0,158.5 L492.5,158.4 L494.0,158.4 L495.5,158.3 L497.0,158.2 L498.5,158.2 L500.0,158.1 L501.5,158.1 L503.0,158.0 L504.5,158.0 L506.0,157.9 L507.5,157.9 L509.0,157.9 L510.5,157.8 L512.0,157.8 L513.5,157.7 L515.0,157.7 L516.5,157.7 L518.0,157.6 L519.5,157.6 L521.0,157.5 L522.5,157.5 L524.0,157.5 L525.5,157.5 L527.0,157.4 L528.5,157.4 L530.0,157.4 L531.5,157.3 L533.0,157.3 L534.5,157.3 L536.0,157.2 L537.5,157.2 L539.0,157.2 L540.5,157.2 L542.0,157.1 L543.5,157.1 L545.0,157.1 L546.5,157.1 L548.0,157.1 L549.5,157.0 L551.0,157.0 L552.5,157.0 L554.0,157.0 L555.5,156.9 L557.0,156.9 L558.5,156.9 L560.0,156.9 L561.5,156.9 L563.0,156.8 L564.5,156.8 L566.0,156.8 L567.5,156.8 L569.0,156.8 L570.5,156.8 L572.0,156.8 L573.5,156.8 L575.0,156.8 L576.5,156.8 L578.0,156.8 L579.5,156.8 L581.0,156.8 L582.5,156.8 L584.0,156.8 L585.5,156.8 L587.0,156.8 L588.5,156.9 L590.0,156.9 L591.5,156.9 L593.0,157.0 L594.5,157.0 L596.0,157.1 L597.5,157.1 L599.0,157.2 L600.5,157.2 L602.0,157.3 L603.5,157.3 L605.0,157.4 L606.5,157.5 L608.0,157.5 L609.5,157.6 L611.0,157.7 L612.5,157.7 L614.0,157.8 L615.5,157.9 L617.0,158.0 L618.5,158.0 L620.0,158.1 L621.5,158.2 L623.0,158.3 L624.5,158.4 L626.0,158.4 L627.5,158.5 L629.0,158.6 L630.5,158.7 L632.0,158.8 L633.5,158.9 L635.0,159.0 L636.5,159.1 L638.0,159.2 L639.5,159.3 L641.0,159.4 L642.5,159.5 L644.0,159.7 L645.5,159.8 L647.0,159.9 L648.5,160.0 L650.0,160.2 L651.5,160.3 L653.0,160.5 L654.5,160.6 L656.0,160.8 L657.5,161.0 L659.0,161.2 L660.5,161.4 L662.0,161.7 L663.5,161.9 L665.0,162.2 L666.5,162.5 L668.0,162.8 L669.5,163.1 L671.0,163.5 L672.5,163.9 L674.0,164.3 L675.5,164.8 L677.0,165.3 L678.5,165.9 L680.0,166.5 L681.5,167.2 L684.1,168.4" fill="none" stroke="#66c2a5" stroke-width="1.6" stroke-dasharray="5.5 2.4"/>
<path d="M396.5,140.9 L398.0,141.7 L399.5,142.5 L401.0,143.3 L402.5,144.0 L404.0,144.8 L405.5,145.5 L407.0,146.2 L408.5,146.8 L410.0,147.5 L411.5,148.1 L413.0,148.7 L414.5,149.2 L416.0,149.8 L417.5,150.3 L419.0,150.8 L420.5,151.2 L422.0,151.7 L423.5,152.1 L425.0,152.5 L426.5,152.8 L428.0,153.2 L429.5,153.5 L431.0,153.7 L432.5,154.0 L434.0,154.2 L435.5,154.5 L437.0,154.7 L438.5,154.9 L440.0,155.1 L441.5,155.3 L443.0,155.5 L444.5,155.7 L446.0,155.9 L447.5,156.1 L449.0,156.3 L450.5,156.5 L452.0,156.6 L453.5,156.7 L455.0,156.8 L456.5,156.9 L458.0,157.0 L459.5,157.1 L461.0,157.1 L462.5,157.2 L464.0,157.2 L465.5,157.3 L467.0,157.3 L468.5,157.4 L470.0,157.4 L471.5,157.4 L473.0,157.5 L474.5,157.5 L476.0,157.5 L477.5,157.5 L479.0,157.5 L480.5,157.6 L482.0,157.6 L483.5,157.6 L485.0,157.6 L486.5,157.6 L488.0,157.6 L489.5,157.6 L491.0,157.6 L492.5,157.6 L494.0,157.6 L495.5,157.6 L497.0,157.6 L498.5,157.6 L500.0,157.6 L501.5,157.6 L503.0,157.6 L504.5,157.6 L506.0,157.6 L507.5,157.6 L509.0,157.6 L510.5,157.6 L512.0,157.6 L513.5,157.6 L515.0,157.6 L516.5,157.6 L518.0,157.6 L519.5,157.6 L521.0,157.6 L522.5,157.6 L524.0,157.6 L525.5,157.5 L527.0,157.5 L528.5,157.5 L530.0,157.4 L531.5,157.4 L533.0,157.3 L534.5,157.3 L536.0,157.2 L537.5,157.1 L539.0,157.1 L540.5,157.0 L542.0,156.9 L543.5,156.9 L545.0,156.8 L546.5,156.8 L548.0,156.7 L549.5,156.6 L551.0,156.6 L552.5,156.5 L554.0,156.4 L555.5,156.3 L557.0,156.3 L558.5,156.2 L560.0,156.1 L561.5,156.0 L563.0,156.0 L564.5,155.9 L566.0,155.8 L567.5,155.7 L569.0,155.6 L570.5,155.6 L572.0,155.5 L573.5,155.4 L575.0,155.4 L576.5,155.3 L578.0,155.2 L579.5,155.2 L581.0,155.1 L582.5,155.1 L584.0,155.0 L585.5,154.9 L587.0,154.9 L588.5,154.8 L590.0,154.8 L591.5,154.8 L593.0,154.7 L594.5,154.7 L596.0,154.6 L597.5,154.6 L599.0,154.5 L600.5,154.5 L602.0,154.5 L603.5,154.4 L605.0,154.4 L606.5,154.4 L608.0,154.3 L609.5,154.3 L611.0,154.3 L612.5,154.3 L614.0,154.2 L615.5,154.2 L617.0,154.2 L618.5,154.2 L620.0,154.2 L621.5,154.2 L623.0,154.2 L624.5,154.2 L626.0,154.2 L627.5,154.2 L629.0,154.3 L630.5,154.3 L632.0,154.3 L633.5,154.4 L635.0,154.5 L636.5,154.5 L638.0,154.6 L639.5,154.7 L641.0,154.8 L642.5,154.9 L644.0,155.0 L645.5,155.1 L647.0,155.2 L648.5,155.3 L650.0,155.4 L651.5,155.5 L653.0,155.6 L654.5,155.7 L656.0,155.7 L657.5,155.8 L659.0,155.9 L660.5,155.9 L662.0,155.9 L663.5,155.9 L665.0,155.9 L666.5,155.9 L668.0,155.8 L669.5,155.7 L671.0,155.5 L672.5,155.2 L674.0,154.9 L675.5,154.6 L677.0,154.2 L678.5,153.7 L680.0,153.1 L681.5,152.5 L684.1,151.4" stroke="#fc8d62" stroke-width="1.5" fill="none"/>
<path d="M396.5,97.5 L398.0,100.6 L399.5,103.7 L401.0,106.7 L402.5,109.5 L404.0,112.0 L405.5,114.4 L407.0,116.7 L408.5,119.0 L410.0,121.1 L411.5,123.1 L413.0,125.1 L414.5,126.8 L416.0,128.4 L417.5,130.0 L419.0,131.4 L420.5,132.7 L422.0,134.0 L423.5,135.1 L425.0,136.3 L426.5,137.3 L428.0,138.3 L429.5,139.2 L431.0,140.1 L432.5,140.9 L434.0,141.6 L435.5,142.4 L437.0,143.1 L438.5,143.7 L440.0,144.4 L441.5,145.0 L443.0,145.5 L444.5,146.1 L446.0,146.6 L447.5,147.1 L449.0,147.6 L450.5,148.1 L452.0,148.5 L453.5,148.9 L455.0,149.3 L456.5,149.6 L458.0,150.0 L459.5,150.3 L461.0,150.5 L462.5,150.8 L464.0,151.1 L465.5,151.3 L467.0,151.5 L468.5,151.8 L470.0,152.0 L471.5,152.2 L473.0,152.4 L474.5,152.6 L476.0,152.7 L477.5,152.9 L479.0,153.0 L480.5,153.2 L482.0,153.3 L483.5,153.4 L485.0,153.5 L486.5,153.6 L488.0,153.7 L489.5,153.8 L491.0,153.9 L492.5,154.0 L494.0,154.1 L495.5,154.2 L497.0,154.3 L498.5,154.3 L500.0,154.4 L501.5,154.5 L503.0,154.5 L504.5,154.6 L506.0,154.7 L507.5,154.7 L509.0,154.8 L510.5,154.8 L512.0,154.9 L513.5,154.9 L515.0,155.0 L516.5,155.0 L518.0,155.0 L519.5,155.1 L521.0,155.1 L522.5,155.1 L524.0,155.1 L525.5,155.1 L527.0,155.1 L528.5,155.1 L530.0,155.0 L531.5,155.0 L533.0,155.0 L534.5,154.9 L536.0,154.9 L537.5,154.9 L539.0,154.8 L540.5,154.8 L542.0,154.7 L543.5,154.7 L545.0,154.6 L546.5,154.6 L548.0,154.5 L549.5,154.5 L551.0,154.4 L552.5,154.4 L554.0,154.3 L555.5,154.3 L557.0,154.2 L558.5,154.2 L560.0,154.1 L561.5,154.0 L563.0,154.0 L564.5,153.9 L566.0,153.9 L567.5,153.8 L569.0,153.7 L570.5,153.7 L572.0,153.6 L573.5,153.6 L575.0,153.5 L576.5,153.5 L578.0,153.4 L579.5,153.4 L581.0,153.3 L582.5,153.3 L584.0,153.3 L585.5,153.2 L587.0,153.2 L588.5,153.1 L590.0,153.1 L591.5,153.0 L593.0,153.0 L594.5,152.9 L596.0,152.8 L597.5,152.7 L599.0,152.7 L600.5,152.6 L602.0,152.5 L603.5,152.4 L605.0,152.2 L606.5,152.1 L608.0,152.0 L609.5,151.9 L611.0,151.8 L612.5,151.6 L614.0,151.5 L615.5,151.4 L617.0,151.2 L618.5,151.1 L620.0,151.0 L621.5,150.8 L623.0,150.7 L624.5,150.5 L626.0,150.4 L627.5,150.2 L629.0,150.1 L630.5,150.0 L632.0,149.8 L633.5,149.7 L635.0,149.7 L636.5,149.6 L638.0,149.5 L639.5,149.4 L641.0,149.4 L642.5,149.3 L644.0,149.3 L645.5,149.2 L647.0,149.2 L648.5,149.1 L650.0,149.1 L651.5,149.0 L653.0,149.0 L654.5,148.9 L656.0,148.8 L657.5,148.6 L659.0,148.5 L660.5,148.3 L662.0,148.1 L663.5,147.8 L665.0,147.5 L666.5,147.1 L668.0,146.6 L669.5,146.0 L671.0,145.4 L672.5,144.5 L674.0,143.6 L675.5,142.4 L677.0,141.1 L678.5,139.6 L680.0,137.7 L681.5,135.6 L684.1,132.3 M396.5,184.4 L398.0,182.8 L399.5,181.3 L401.0,179.8 L402.5,178.6 L404.0,177.5 L405.5,176.5 L407.0,175.6 L408.5,174.6 L410.0,173.8 L411.5,173.0 L413.0,172.3 L414.5,171.6 L416.0,171.1 L417.5,170.6 L419.0,170.2 L420.5,169.7 L422.0,169.4 L423.5,169.0 L425.0,168.7 L426.5,168.3 L428.0,168.0 L429.5,167.7 L431.0,167.4 L432.5,167.1 L434.0,166.8 L435.5,166.6 L437.0,166.3 L438.5,166.1 L440.0,165.9 L441.5,165.7 L443.0,165.5 L444.5,165.4 L446.0,165.2 L447.5,165.1 L449.0,164.9 L450.5,164.8 L452.0,164.7 L453.5,164.5 L455.0,164.4 L456.5,164.2 L458.0,164.0 L459.5,163.9 L461.0,163.7 L462.5,163.6 L464.0,163.4 L465.5,163.2 L467.0,163.1 L468.5,162.9 L470.0,162.8 L471.5,162.7 L473.0,162.5 L474.5,162.4 L476.0,162.3 L477.5,162.2 L479.0,162.0 L480.5,161.9 L482.0,161.8 L483.5,161.7 L485.0,161.6 L486.5,161.5 L488.0,161.4 L489.5,161.3 L491.0,161.2 L492.5,161.1 L494.0,161.0 L495.5,160.9 L497.0,160.9 L498.5,160.8 L500.0,160.7 L501.5,160.7 L503.0,160.6 L504.5,160.5 L506.0,160.5 L507.5,160.4 L509.0,160.4 L510.5,160.3 L512.0,160.3 L513.5,160.3 L515.0,160.2 L516.5,160.2 L518.0,160.2 L519.5,160.1 L521.0,160.1 L522.5,160.1 L524.0,160.0 L525.5,160.0 L527.0,159.9 L528.5,159.9 L530.0,159.8 L531.5,159.7 L533.0,159.7 L534.5,159.6 L536.0,159.5 L537.5,159.4 L539.0,159.3 L540.5,159.3 L542.0,159.2 L543.5,159.1 L545.0,159.0 L546.5,158.9 L548.0,158.8 L549.5,158.8 L551.0,158.7 L552.5,158.6 L554.0,158.5 L555.5,158.4 L557.0,158.3 L558.5,158.2 L560.0,158.1 L561.5,158.0 L563.0,157.9 L564.5,157.8 L566.0,157.7 L567.5,157.6 L569.0,157.6 L570.5,157.5 L572.0,157.4 L573.5,157.3 L575.0,157.2 L576.5,157.1 L578.0,157.0 L579.5,157.0 L581.0,156.9 L582.5,156.8 L584.0,156.7 L585.5,156.7 L587.0,156.6 L588.5,156.6 L590.0,156.5 L591.5,156.5 L593.0,156.5 L594.5,156.4 L596.0,156.4 L597.5,156.4 L599.0,156.4 L600.5,156.4 L602.0,156.5 L603.5,156.5 L605.0,156.5 L606.5,156.6 L608.0,156.6 L609.5,156.7 L611.0,156.8 L612.5,156.9 L614.0,157.0 L615.5,157.1 L617.0,157.2 L618.5,157.4 L620.0,157.5 L621.5,157.6 L623.0,157.8 L624.5,157.9 L626.0,158.1 L627.5,158.2 L629.0,158.4 L630.5,158.6 L632.0,158.8 L633.5,159.0 L635.0,159.2 L636.5,159.5 L638.0,159.7 L639.5,160.0 L641.0,160.2 L642.5,160.5 L644.0,160.7 L645.5,161.0 L647.0,161.2 L648.5,161.5 L650.0,161.7 L651.5,162.0 L653.0,162.2 L654.5,162.5 L656.0,162.7 L657.5,163.0 L659.0,163.2 L660.5,163.5 L662.0,163.8 L663.5,164.1 L665.0,164.4 L666.5,164.7 L668.0,165.0 L669.5,165.3 L671.0,165.6 L672.5,165.9 L674.0,166.3 L675.5,166.7 L677.0,167.2 L678.5,167.8 L680.0,168.6 L681.5,169.5 L684.1,170.5" fill="none" stroke="#fc8d62" stroke-width="1.6" stroke-dasharray="5.5 2.4"/>
</g>
<path d="M396.5,31.1 L396.5,230.5 M396.1,230.5 L684.1,230.5" stroke="#000" stroke-width="0.85" fill="none"/>
<text x="389.5" y="234.6" font-size="11.5" text-anchor="end" textLength="23.0" lengthAdjust="spacingAndGlyphs" fill="#000">0.85</text>
<text x="389.5" y="209.7" font-size="11.5" text-anchor="end" textLength="23.0" lengthAdjust="spacingAndGlyphs" fill="#000">0.90</text>
<text x="389.5" y="184.8" font-size="11.5" text-anchor="end" textLength="23.0" lengthAdjust="spacingAndGlyphs" fill="#000">0.95</text>
<text x="389.5" y="159.9" font-size="11.5" text-anchor="end" textLength="23.0" lengthAdjust="spacingAndGlyphs" fill="#000">1.00</text>
<text x="389.5" y="135.1" font-size="11.5" text-anchor="end" textLength="23.0" lengthAdjust="spacingAndGlyphs" fill="#000">1.05</text>
<text x="389.5" y="110.2" font-size="11.5" text-anchor="end" textLength="23.0" lengthAdjust="spacingAndGlyphs" fill="#000">1.10</text>
<text x="389.5" y="85.3" font-size="11.5" text-anchor="end" textLength="23.0" lengthAdjust="spacingAndGlyphs" fill="#000">1.15</text>
<text x="389.5" y="60.4" font-size="11.5" text-anchor="end" textLength="23.0" lengthAdjust="spacingAndGlyphs" fill="#000">1.20</text>
<text x="389.5" y="35.5" font-size="11.5" text-anchor="end" textLength="23.0" lengthAdjust="spacingAndGlyphs" fill="#000">1.25</text>
<path d="M393.0,230.5 L396.5,230.5 M393.0,205.6 L396.5,205.6 M393.0,180.8 L396.5,180.8 M393.0,155.9 L396.5,155.9 M393.0,131.0 L396.5,131.0 M393.0,106.1 L396.5,106.1 M393.0,81.2 L396.5,81.2 M393.0,56.4 L396.5,56.4 M393.0,31.5 L396.5,31.5" stroke="#000" stroke-width="0.85" fill="none"/>
<text x="387.3" y="246.3" font-size="11.5" fill="#000" textLength="12.6" lengthAdjust="spacingAndGlyphs">10</text>
<text x="400.6" y="241.5" font-size="8.6" fill="#000" textLength="4.5" lengthAdjust="spacingAndGlyphs">1</text>
<text x="495.2" y="246.3" font-size="11.5" fill="#000" textLength="12.6" lengthAdjust="spacingAndGlyphs">10</text>
<text x="508.5" y="241.5" font-size="8.6" fill="#000" textLength="4.5" lengthAdjust="spacingAndGlyphs">2</text>
<text x="603.0" y="246.3" font-size="11.5" fill="#000" textLength="12.6" lengthAdjust="spacingAndGlyphs">10</text>
<text x="616.3" y="241.5" font-size="8.6" fill="#000" textLength="4.5" lengthAdjust="spacingAndGlyphs">3</text>
<path d="M396.5,230.5 L396.5,234.0 M504.4,230.5 L504.4,234.0 M612.2,230.5 L612.2,234.0" stroke="#000" stroke-width="0.85" fill="none"/>
<path d="M429.0,230.5 L429.0,232.5 M448.0,230.5 L448.0,232.5 M461.4,230.5 L461.4,232.5 M471.9,230.5 L471.9,232.5 M480.4,230.5 L480.4,232.5 M487.6,230.5 L487.6,232.5 M493.9,230.5 L493.9,232.5 M499.4,230.5 L499.4,232.5 M536.8,230.5 L536.8,232.5 M555.8,230.5 L555.8,232.5 M569.3,230.5 L569.3,232.5 M579.7,230.5 L579.7,232.5 M588.3,230.5 L588.3,232.5 M595.5,230.5 L595.5,232.5 M601.7,230.5 L601.7,232.5 M607.3,230.5 L607.3,232.5 M644.7,230.5 L644.7,232.5 M663.7,230.5 L663.7,232.5 M677.1,230.5 L677.1,232.5" stroke="#000" stroke-width="0.65" fill="none"/>
<text x="514.9" y="260.0" font-size="11.0" fill="#000" textLength="9.6" lengthAdjust="spacingAndGlyphs">m</text>
<text x="524.9" y="261.8" font-size="7.7" fill="#000" textLength="5.0" lengthAdjust="spacingAndGlyphs">X</text>
<text x="533.5" y="260.0" font-size="11.0" fill="#000" textLength="31.0" lengthAdjust="spacingAndGlyphs">(GeV)</text>
<text transform="translate(359.5,131.0) rotate(-90)" font-size="11.0" text-anchor="middle" fill="#000" textLength="142.5" lengthAdjust="spacingAndGlyphs">Ratio to NNPDF4.0 (NNLO)</text>
<path d="M396.5,308.1 L396.5,507.5 M396.1,507.5 L684.1,507.5" stroke="#000" stroke-width="0.85" fill="none"/>
<text x="389.5" y="511.6" font-size="11.5" text-anchor="end" textLength="23.0" lengthAdjust="spacingAndGlyphs" fill="#000">0.00</text>
<text x="389.5" y="486.7" font-size="11.5" text-anchor="end" textLength="23.0" lengthAdjust="spacingAndGlyphs" fill="#000">0.01</text>
<text x="389.5" y="461.8" font-size="11.5" text-anchor="end" textLength="23.0" lengthAdjust="spacingAndGlyphs" fill="#000">0.02</text>
<text x="389.5" y="436.9" font-size="11.5" text-anchor="end" textLength="23.0" lengthAdjust="spacingAndGlyphs" fill="#000">0.03</text>
<text x="389.5" y="412.1" font-size="11.5" text-anchor="end" textLength="23.0" lengthAdjust="spacingAndGlyphs" fill="#000">0.04</text>
<text x="389.5" y="387.2" font-size="11.5" text-anchor="end" textLength="23.0" lengthAdjust="spacingAndGlyphs" fill="#000">0.05</text>
<text x="389.5" y="362.3" font-size="11.5" text-anchor="end" textLength="23.0" lengthAdjust="spacingAndGlyphs" fill="#000">0.06</text>
<text x="389.5" y="337.4" font-size="11.5" text-anchor="end" textLength="23.0" lengthAdjust="spacingAndGlyphs" fill="#000">0.07</text>
<text x="389.5" y="312.6" font-size="11.5" text-anchor="end" textLength="23.0" lengthAdjust="spacingAndGlyphs" fill="#000">0.08</text>
<path d="M393.0,507.5 L396.5,507.5 M393.0,482.6 L396.5,482.6 M393.0,457.8 L396.5,457.8 M393.0,432.9 L396.5,432.9 M393.0,408.0 L396.5,408.0 M393.0,383.1 L396.5,383.1 M393.0,358.2 L396.5,358.2 M393.0,333.4 L396.5,333.4 M393.0,308.5 L396.5,308.5" stroke="#000" stroke-width="0.85" fill="none"/>
<text x="387.3" y="523.3" font-size="11.5" fill="#000" textLength="12.6" lengthAdjust="spacingAndGlyphs">10</text>
<text x="400.6" y="518.5" font-size="8.6" fill="#000" textLength="4.5" lengthAdjust="spacingAndGlyphs">1</text>
<text x="495.2" y="523.3" font-size="11.5" fill="#000" textLength="12.6" lengthAdjust="spacingAndGlyphs">10</text>
<text x="508.5" y="518.5" font-size="8.6" fill="#000" textLength="4.5" lengthAdjust="spacingAndGlyphs">2</text>
<text x="603.0" y="523.3" font-size="11.5" fill="#000" textLength="12.6" lengthAdjust="spacingAndGlyphs">10</text>
<text x="616.3" y="518.5" font-size="8.6" fill="#000" textLength="4.5" lengthAdjust="spacingAndGlyphs">3</text>
<path d="M396.5,507.5 L396.5,511.0 M504.4,507.5 L504.4,511.0 M612.2,507.5 L612.2,511.0" stroke="#000" stroke-width="0.85" fill="none"/>
<path d="M429.0,507.5 L429.0,509.5 M448.0,507.5 L448.0,509.5 M461.4,507.5 L461.4,509.5 M471.9,507.5 L471.9,509.5 M480.4,507.5 L480.4,509.5 M487.6,507.5 L487.6,509.5 M493.9,507.5 L493.9,509.5 M499.4,507.5 L499.4,509.5 M536.8,507.5 L536.8,509.5 M555.8,507.5 L555.8,509.5 M569.3,507.5 L569.3,509.5 M579.7,507.5 L579.7,509.5 M588.3,507.5 L588.3,509.5 M595.5,507.5 L595.5,509.5 M601.7,507.5 L601.7,509.5 M607.3,507.5 L607.3,509.5 M644.7,507.5 L644.7,509.5 M663.7,507.5 L663.7,509.5 M677.1,507.5 L677.1,509.5" stroke="#000" stroke-width="0.65" fill="none"/>
<text x="514.9" y="537.0" font-size="11.0" fill="#000" textLength="9.6" lengthAdjust="spacingAndGlyphs">m</text>
<text x="524.9" y="538.8" font-size="7.7" fill="#000" textLength="5.0" lengthAdjust="spacingAndGlyphs">X</text>
<text x="533.5" y="537.0" font-size="11.0" fill="#000" textLength="31.0" lengthAdjust="spacingAndGlyphs">(GeV)</text>
<text transform="translate(359.5,408.0) rotate(-90)" font-size="11.0" text-anchor="middle" fill="#000" textLength="142.5" lengthAdjust="spacingAndGlyphs">Ratio to NNPDF4.0 (NNLO)</text>
<text x="540.3" y="10.9" font-size="13.2" text-anchor="middle" fill="#000" textLength="86.3" lengthAdjust="spacingAndGlyphs">gq luminosity</text>
<path d="M501.2,19.6 l1.7,-0.9 l2.8,6.2 l1.8,-9.5 h11.0" stroke="#000" stroke-width="0.95" fill="none" stroke-linejoin="miter"/>
<text x="510.2" y="25.0" font-size="13.2" fill="#000" textLength="6.4" lengthAdjust="spacingAndGlyphs">s</text>
<text x="521.8" y="25.0" font-size="13.2" fill="#000" textLength="57.6" lengthAdjust="spacingAndGlyphs">= 14 TeV</text>
<text x="540.3" y="287.9" font-size="13.2" text-anchor="middle" fill="#000" textLength="164.5" lengthAdjust="spacingAndGlyphs">gq luminosity uncertainty</text>
<path d="M501.2,296.6 l1.7,-0.9 l2.8,6.2 l1.8,-9.5 h11.0" stroke="#000" stroke-width="0.95" fill="none" stroke-linejoin="miter"/>
<text x="510.2" y="302.0" font-size="13.2" fill="#000" textLength="6.4" lengthAdjust="spacingAndGlyphs">s</text>
<text x="521.8" y="302.0" font-size="13.2" fill="#000" textLength="57.6" lengthAdjust="spacingAndGlyphs">= 14 TeV</text>
<rect x="476.6" y="36.7" width="203.7" height="36.3" rx="2" ry="2" fill="#fff" fill-opacity="0.8" stroke="#ccc" stroke-width="0.85"/>
<rect x="483.3" y="42.7" width="17.0" height="7.0" fill="#66c2a5" fill-opacity="0.5"/>
<rect x="481.0" y="42.5" width="21.6" height="7.4" fill="none" stroke="#66c2a5" stroke-width="1.4" stroke-dasharray="3.0 1.6"/>
<path d="M489.3,49.0 l6.6,-5.7" stroke="#666" stroke-width="0.9"/>
<text x="511.4" y="49.7" font-size="11.0" text-anchor="start" textLength="162.3" lengthAdjust="spacingAndGlyphs" fill="#000">NNPDF4.0 (NNLO) (68 c.l.+1σ)</text>
<rect x="483.3" y="59.0" width="17.0" height="7.0" fill="#fc8d62" fill-opacity="0.5"/>
<rect x="481.0" y="58.8" width="21.6" height="7.4" fill="none" stroke="#fc8d62" stroke-width="1.4" stroke-dasharray="3.0 1.6"/>
<text x="511.4" y="66.0" font-size="11.0" text-anchor="start" textLength="162.3" lengthAdjust="spacingAndGlyphs" fill="#000">NNPDF3.1 (NNLO) (68 c.l.+1σ)</text>
<rect x="544.2" y="313.6" width="134.7" height="35.7" rx="2" ry="2" fill="#fff" fill-opacity="0.8" stroke="#ccc" stroke-width="0.85"/>
<path d="M547.6,322.6 h22.5" stroke="#66c2a5" stroke-width="1.5" fill="none"/>
<text x="578.5" y="326.5" font-size="11.0" text-anchor="start" textLength="96.0" lengthAdjust="spacingAndGlyphs" fill="#000">NNPDF4.0 (NNLO)</text>
<path d="M547.6,339.0 h22.5" stroke="#fc8d62" stroke-width="1.5" fill="none"/>
<text x="578.5" y="342.9" font-size="11.0" text-anchor="start" textLength="96.0" lengthAdjust="spacingAndGlyphs" fill="#000">NNPDF3.1 (NNLO)</text>
<g clip-path="url(#cp30)" fill="none" stroke-width="1.65" stroke-linejoin="round">
<path d="M42.5,997.1 L43.6,998.2 L44.7,999.2 L45.8,1000.3 L46.9,1001.3 L47.9,1002.3 L49.0,1003.3 L50.1,1004.4 L51.2,1005.4 L52.4,1006.4 L53.5,1007.4 L54.6,1008.3 L55.8,1009.3 L57.0,1010.2 L58.2,1011.1 L59.4,1012.0 L60.6,1012.8 L61.9,1013.7 L63.1,1014.5 L64.4,1015.3 L65.6,1016.1 L66.9,1016.9 L68.2,1017.6 L69.5,1018.4 L70.8,1019.2 L72.1,1020.0 L73.3,1020.7 L74.6,1021.5 L75.9,1022.3 L77.2,1023.0 L78.5,1023.8 L79.8,1024.5 L81.1,1025.3 L82.4,1026.0 L83.7,1026.7 L85.1,1027.5 L86.4,1028.2 L87.7,1028.9 L89.0,1029.6 L90.3,1030.3 L91.7,1031.0 L93.0,1031.7 L94.4,1032.3 L95.7,1033.0 L97.1,1033.6 L98.4,1034.3 L99.8,1034.9 L101.2,1035.5 L102.5,1036.1 L103.9,1036.7 L105.3,1037.3 L106.7,1037.8 L108.1,1038.4 L109.4,1039.0 L110.8,1039.5 L112.2,1040.1 L113.6,1040.6 L115.0,1041.2 L116.4,1041.7 L117.8,1042.2 L119.3,1042.7 L120.7,1043.2 L122.1,1043.7 L123.5,1044.2 L124.9,1044.7 L126.4,1045.1 L127.8,1045.6 L129.2,1046.0 L130.7,1046.4 L132.1,1046.8 L133.6,1047.1 L135.0,1047.5 L136.5,1047.9 L137.9,1048.2 L139.4,1048.5 L140.9,1048.9 L142.3,1049.2 L143.8,1049.5 L145.3,1049.8 L146.7,1050.1 L148.2,1050.4 L149.7,1050.7 L151.2,1050.9 L152.6,1051.1 L154.1,1051.3 L155.6,1051.5 L157.1,1051.7 L158.6,1051.9 L160.1,1052.0 L161.6,1052.2 L163.1,1052.3 L164.6,1052.4 L166.1,1052.5 L167.6,1052.5 L169.1,1052.6 L170.6,1052.7 L172.1,1052.8 L173.6,1052.8 L175.0,1052.9 L176.5,1053.0 L178.0,1053.0 L179.5,1053.1 L181.0,1053.1 L182.5,1053.2 L184.0,1053.2 L185.5,1053.2 L187.0,1053.2 L188.5,1053.3 L190.0,1053.3 L191.5,1053.3 L193.0,1053.3 L194.5,1053.3 L196.0,1053.3 L197.5,1053.3 L199.0,1053.3 L200.5,1053.3 L202.0,1053.3 L203.5,1053.3 L205.0,1053.2 L206.5,1053.2 L208.0,1053.2 L209.5,1053.2 L211.0,1053.1 L212.5,1053.0 L214.0,1053.0 L215.5,1052.9 L217.0,1052.7 L218.5,1052.6 L220.0,1052.5 L221.5,1052.3 L223.0,1052.2 L224.5,1052.0 L226.0,1051.8 L227.5,1051.6 L228.9,1051.4 L230.4,1051.2 L231.9,1051.0 L233.4,1050.8 L234.9,1050.6 L236.4,1050.4 L237.9,1050.2 L239.3,1049.9 L240.8,1049.7 L242.3,1049.4 L243.8,1049.2 L245.2,1048.9 L246.7,1048.6 L248.2,1048.3 L249.7,1048.0 L251.1,1047.7 L252.6,1047.4 L254.1,1047.1 L255.5,1046.8 L257.0,1046.5 L258.5,1046.2 L259.9,1045.9 L261.4,1045.6 L262.9,1045.3 L264.4,1045.1 L265.8,1044.8 L267.3,1044.5 L268.8,1044.2 L270.3,1044.0 L271.7,1043.7 L273.2,1043.4 L274.7,1043.2 L276.2,1043.0 L277.7,1042.7 L279.1,1042.5 L280.6,1042.2 L282.1,1042.0 L283.6,1041.8 L285.1,1041.6 L286.5,1041.3 L288.0,1041.1 L289.5,1040.9 L291.0,1040.7 L292.5,1040.5 L294.0,1040.3 L295.5,1040.1 L296.9,1039.8 L298.4,1039.6 L299.9,1039.4 L301.4,1039.2 L302.9,1039.0 L304.4,1038.8 L305.9,1038.6 L307.3,1038.4 L308.8,1038.1 L310.3,1037.9 L311.8,1037.7 L313.3,1037.4 L314.7,1037.2 L316.2,1036.9 L317.7,1036.7 L319.2,1036.4 L320.6,1036.1 L322.1,1035.7 L323.6,1035.4 L325.0,1035.0 L326.4,1034.6 L327.9,1034.2 L329.3,1033.7 L330.7,1033.2 L332.1,1032.7 L333.5,1032.2" stroke="#66c2a5"/>
<path d="M43.0,844.6 L43.2,846.1 L43.4,847.6 L43.6,849.1 L43.7,850.5 L43.9,852.0 L44.1,853.5 L44.3,855.0 L44.5,856.5 L44.7,858.0 L44.9,859.5 L45.1,861.0 L45.3,862.4 L45.5,863.9 L45.8,865.4 L46.0,866.9 L46.2,868.4 L46.5,869.8 L46.7,871.3 L47.0,872.8 L47.3,874.3 L47.5,875.8 L47.8,877.2 L48.1,878.7 L48.4,880.2 L48.6,881.7 L48.9,883.1 L49.2,884.6 L49.5,886.1 L49.8,887.5 L50.1,889.0 L50.3,890.5 L50.6,892.0 L50.9,893.4 L51.2,894.9 L51.5,896.4 L51.8,897.8 L52.1,899.3 L52.4,900.8 L52.7,902.3 L53.0,903.7 L53.3,905.2 L53.6,906.7 L53.9,908.1 L54.3,909.6 L54.6,911.1 L54.9,912.5 L55.3,914.0 L55.6,915.4 L56.0,916.9 L56.3,918.4 L56.7,919.8 L57.0,921.3 L57.4,922.7 L57.8,924.2 L58.2,925.6 L58.5,927.1 L58.9,928.5 L59.3,930.0 L59.7,931.4 L60.1,932.9 L60.5,934.3 L60.9,935.8 L61.3,937.2 L61.8,938.6 L62.2,940.1 L62.6,941.5 L63.1,942.9 L63.5,944.4 L64.0,945.8 L64.4,947.2 L64.9,948.6 L65.4,950.1 L65.9,951.5 L66.4,952.9 L66.9,954.3 L67.5,955.7 L68.0,957.1 L68.5,958.5 L69.1,959.9 L69.7,961.3 L70.2,962.7 L70.8,964.0 L71.4,965.4 L72.0,966.8 L72.5,968.2 L73.1,969.6 L73.7,971.0 L74.3,972.3 L74.9,973.7 L75.5,975.1 L76.2,976.4 L76.8,977.8 L77.5,979.1 L78.2,980.5 L78.9,981.8 L79.6,983.1 L80.4,984.4 L81.1,985.7 L81.9,987.0 L82.7,988.2 L83.5,989.5 L84.3,990.8 L85.1,992.0 L86.0,993.2 L86.9,994.5 L87.8,995.7 L88.7,996.8 L89.6,998.0 L90.6,999.2 L91.6,1000.3 L92.6,1001.4 L93.6,1002.5 L94.7,1003.5 L95.7,1004.6 L96.8,1005.6 L97.9,1006.6 L99.0,1007.6 L100.2,1008.6 L101.3,1009.6 L102.4,1010.6 L103.6,1011.6 L104.7,1012.5 L105.9,1013.5 L107.1,1014.4 L108.2,1015.3 L109.4,1016.2 L110.6,1017.1 L111.8,1018.0 L113.0,1018.9 L114.3,1019.7 L115.5,1020.6 L116.8,1021.4 L118.0,1022.2 L119.3,1023.0 L120.6,1023.8 L121.9,1024.5 L123.2,1025.2 L124.5,1026.0 L125.8,1026.7 L127.2,1027.4 L128.5,1028.1 L129.8,1028.8 L131.2,1029.5 L132.5,1030.1 L133.9,1030.8 L135.2,1031.4 L136.6,1032.0 L138.0,1032.6 L139.3,1033.2 L140.7,1033.7 L142.1,1034.3 L143.5,1034.8 L144.9,1035.4 L146.3,1035.9 L147.8,1036.3 L149.2,1036.8 L150.6,1037.3 L152.1,1037.7 L153.5,1038.1 L154.9,1038.5 L156.4,1038.9 L157.8,1039.2 L159.3,1039.6 L160.8,1039.9 L162.2,1040.3 L163.7,1040.6 L165.2,1040.9 L166.6,1041.2 L168.1,1041.6 L169.5,1041.9 L171.0,1042.2 L172.5,1042.6 L173.9,1042.9 L175.4,1043.2 L176.9,1043.5 L178.3,1043.8 L179.8,1044.1 L181.3,1044.4 L182.7,1044.6 L184.2,1044.8 L185.7,1045.1 L187.2,1045.3 L188.7,1045.5 L190.2,1045.8 L191.6,1046.0 L193.1,1046.2 L194.6,1046.4 L196.1,1046.6 L197.6,1046.8 L199.1,1047.0 L200.6,1047.1 L202.1,1047.3 L203.5,1047.5 L205.0,1047.6 L206.5,1047.8 L208.0,1047.9 L209.5,1048.0 L211.0,1048.1 L212.5,1048.2 L214.0,1048.3 L215.5,1048.4 L217.0,1048.5 L218.5,1048.6 L220.0,1048.6 L221.5,1048.7 L223.0,1048.7 L224.5,1048.7 L226.0,1048.7 L227.5,1048.7 L229.0,1048.7 L230.5,1048.7 L232.0,1048.7 L233.5,1048.6 L235.0,1048.6 L236.5,1048.5 L238.0,1048.4 L239.5,1048.3 L241.0,1048.2 L242.5,1048.1 L244.0,1047.9 L245.4,1047.7 L246.9,1047.5 L248.4,1047.3 L249.9,1047.0 L251.4,1046.8 L252.8,1046.5 L254.3,1046.2 L255.8,1045.9 L257.2,1045.5 L258.7,1045.2 L260.2,1044.9 L261.6,1044.5 L263.1,1044.2 L264.5,1043.8 L266.0,1043.5 L267.4,1043.1 L268.9,1042.7 L270.3,1042.4 L271.8,1042.0 L273.3,1041.6 L274.7,1041.2 L276.2,1040.9 L277.6,1040.5 L279.1,1040.1 L280.5,1039.7 L282.0,1039.4 L283.4,1039.0 L284.9,1038.7 L286.3,1038.3 L287.8,1038.0 L289.3,1037.6 L290.7,1037.3 L292.2,1036.9 L293.6,1036.6 L295.1,1036.2 L296.6,1035.9 L298.0,1035.5 L299.5,1035.2 L300.9,1034.8 L302.4,1034.5 L303.8,1034.1 L305.3,1033.8 L306.8,1033.4 L308.2,1033.0 L309.7,1032.7 L311.1,1032.3 L312.6,1031.9 L314.0,1031.4 L315.4,1031.0 L316.9,1030.5 L318.3,1030.1 L319.7,1029.6 L321.1,1029.0 L322.5,1028.4 L323.8,1027.8 L325.2,1027.2 L326.5,1026.5 L327.8,1025.7 L329.0,1024.9 L330.3,1024.1 L331.5,1023.3 L332.8,1022.4 L334.0,1021.6" stroke="#fc8d62"/>
</g>
<g clip-path="url(#cp20)" stroke-linejoin="round">
<path d="M44.5,697.4 L46.0,697.7 L47.5,698.0 L49.0,698.3 L50.5,698.6 L52.0,698.8 L53.5,699.1 L55.0,699.4 L56.5,699.6 L58.0,699.8 L59.5,700.1 L61.0,700.3 L62.5,700.5 L64.0,700.6 L65.5,700.8 L67.0,701.0 L68.5,701.2 L70.0,701.4 L71.5,701.6 L73.0,701.7 L74.5,701.9 L76.0,702.1 L77.5,702.3 L79.0,702.4 L80.5,702.6 L82.0,702.8 L83.5,703.0 L85.0,703.1 L86.5,703.3 L88.0,703.4 L89.5,703.6 L91.0,703.8 L92.5,703.9 L94.0,704.1 L95.5,704.2 L97.0,704.4 L98.5,704.5 L100.0,704.6 L101.5,704.8 L103.0,704.9 L104.5,705.0 L106.0,705.1 L107.5,705.3 L109.0,705.4 L110.5,705.5 L112.0,705.6 L113.5,705.8 L115.0,705.9 L116.5,706.0 L118.0,706.1 L119.5,706.2 L121.0,706.3 L122.5,706.4 L124.0,706.5 L125.5,706.6 L127.0,706.7 L128.5,706.8 L130.0,706.9 L131.5,707.0 L133.0,707.0 L134.5,707.1 L136.0,707.2 L137.5,707.3 L139.0,707.3 L140.5,707.4 L142.0,707.5 L143.5,707.5 L145.0,707.6 L146.5,707.7 L148.0,707.7 L149.5,707.8 L151.0,707.8 L152.5,707.9 L154.0,707.9 L155.5,707.9 L157.0,708.0 L158.5,708.0 L160.0,708.0 L161.5,708.1 L163.0,708.1 L164.5,708.1 L166.0,708.1 L167.5,708.1 L169.0,708.2 L170.5,708.2 L172.0,708.2 L173.5,708.2 L175.0,708.2 L176.5,708.2 L178.0,708.2 L179.5,708.3 L181.0,708.3 L182.5,708.3 L184.0,708.3 L185.5,708.3 L187.0,708.3 L188.5,708.3 L190.0,708.3 L191.5,708.3 L193.0,708.3 L194.5,708.3 L196.0,708.3 L197.5,708.3 L199.0,708.3 L200.5,708.3 L202.0,708.3 L203.5,708.3 L205.0,708.3 L206.5,708.3 L208.0,708.3 L209.5,708.3 L211.0,708.3 L212.5,708.2 L214.0,708.2 L215.5,708.2 L217.0,708.2 L218.5,708.2 L220.0,708.1 L221.5,708.1 L223.0,708.1 L224.5,708.0 L226.0,708.0 L227.5,708.0 L229.0,707.9 L230.5,707.9 L232.0,707.8 L233.5,707.8 L235.0,707.8 L236.5,707.7 L238.0,707.7 L239.5,707.6 L241.0,707.6 L242.5,707.5 L244.0,707.5 L245.5,707.4 L247.0,707.3 L248.5,707.3 L250.0,707.2 L251.5,707.2 L253.0,707.1 L254.5,707.0 L256.0,707.0 L257.5,706.9 L259.0,706.9 L260.5,706.8 L262.0,706.7 L263.5,706.7 L265.0,706.6 L266.5,706.6 L268.0,706.5 L269.5,706.5 L271.0,706.4 L272.5,706.3 L274.0,706.3 L275.5,706.2 L277.0,706.2 L278.5,706.2 L280.0,706.1 L281.5,706.1 L283.0,706.0 L284.5,706.0 L286.0,705.9 L287.5,705.9 L289.0,705.8 L290.5,705.8 L292.0,705.7 L293.5,705.7 L295.0,705.7 L296.5,705.6 L298.0,705.6 L299.5,705.5 L301.0,705.5 L302.5,705.5 L304.0,705.4 L305.5,705.4 L307.0,705.3 L308.5,705.3 L310.0,705.2 L311.5,705.2 L313.0,705.1 L314.5,705.1 L316.0,705.0 L317.5,705.0 L319.0,704.9 L320.5,704.9 L322.0,704.8 L323.5,704.7 L325.0,704.6 L326.5,704.6 L328.0,704.5 L329.5,704.4 L331.0,704.3 L332.9,704.1 L332.9,715.5 L331.0,715.4 L329.5,715.3 L328.0,715.2 L326.5,715.1 L325.0,715.0 L323.5,715.0 L322.0,714.9 L320.5,714.8 L319.0,714.8 L317.5,714.7 L316.0,714.6 L314.5,714.6 L313.0,714.5 L311.5,714.5 L310.0,714.4 L308.5,714.4 L307.0,714.4 L305.5,714.3 L304.0,714.3 L302.5,714.2 L301.0,714.2 L299.5,714.1 L298.0,714.1 L296.5,714.1 L295.0,714.0 L293.5,714.0 L292.0,713.9 L290.5,713.9 L289.0,713.8 L287.5,713.8 L286.0,713.8 L284.5,713.7 L283.0,713.7 L281.5,713.6 L280.0,713.6 L278.5,713.5 L277.0,713.5 L275.5,713.4 L274.0,713.4 L272.5,713.3 L271.0,713.3 L269.5,713.2 L268.0,713.2 L266.5,713.1 L265.0,713.1 L263.5,713.0 L262.0,712.9 L260.5,712.9 L259.0,712.8 L257.5,712.8 L256.0,712.7 L254.5,712.6 L253.0,712.6 L251.5,712.5 L250.0,712.5 L248.5,712.4 L247.0,712.3 L245.5,712.3 L244.0,712.2 L242.5,712.2 L241.0,712.1 L239.5,712.1 L238.0,712.0 L236.5,712.0 L235.0,711.9 L233.5,711.9 L232.0,711.8 L230.5,711.8 L229.0,711.8 L227.5,711.7 L226.0,711.7 L224.5,711.6 L223.0,711.6 L221.5,711.6 L220.0,711.5 L218.5,711.5 L217.0,711.5 L215.5,711.5 L214.0,711.4 L212.5,711.4 L211.0,711.4 L209.5,711.4 L208.0,711.4 L206.5,711.4 L205.0,711.4 L203.5,711.4 L202.0,711.4 L200.5,711.4 L199.0,711.4 L197.5,711.4 L196.0,711.4 L194.5,711.4 L193.0,711.4 L191.5,711.4 L190.0,711.4 L188.5,711.4 L187.0,711.4 L185.5,711.4 L184.0,711.4 L182.5,711.4 L181.0,711.4 L179.5,711.4 L178.0,711.4 L176.5,711.4 L175.0,711.5 L173.5,711.5 L172.0,711.5 L170.5,711.5 L169.0,711.5 L167.5,711.5 L166.0,711.5 L164.5,711.6 L163.0,711.6 L161.5,711.6 L160.0,711.6 L158.5,711.7 L157.0,711.7 L155.5,711.7 L154.0,711.8 L152.5,711.8 L151.0,711.9 L149.5,711.9 L148.0,712.0 L146.5,712.0 L145.0,712.1 L143.5,712.1 L142.0,712.2 L140.5,712.3 L139.0,712.3 L137.5,712.4 L136.0,712.5 L134.5,712.6 L133.0,712.6 L131.5,712.7 L130.0,712.8 L128.5,712.9 L127.0,713.0 L125.5,713.1 L124.0,713.2 L122.5,713.3 L121.0,713.4 L119.5,713.5 L118.0,713.6 L116.5,713.7 L115.0,713.8 L113.5,713.9 L112.0,714.0 L110.5,714.2 L109.0,714.3 L107.5,714.4 L106.0,714.5 L104.5,714.7 L103.0,714.8 L101.5,714.9 L100.0,715.0 L98.5,715.2 L97.0,715.3 L95.5,715.5 L94.0,715.6 L92.5,715.8 L91.0,715.9 L89.5,716.1 L88.0,716.2 L86.5,716.4 L85.0,716.6 L83.5,716.7 L82.0,716.9 L80.5,717.1 L79.0,717.2 L77.5,717.4 L76.0,717.6 L74.5,717.8 L73.0,717.9 L71.5,718.1 L70.0,718.3 L68.5,718.5 L67.0,718.7 L65.5,718.8 L64.0,719.0 L62.5,719.2 L61.0,719.4 L59.5,719.6 L58.0,719.8 L56.5,720.1 L55.0,720.3 L53.5,720.6 L52.0,720.8 L50.5,721.1 L49.0,721.4 L47.5,721.7 L46.0,721.9 L44.5,722.2Z" fill="#66c2a5" fill-opacity="0.5" stroke="none"/>
<path d="M44.5,697.4 L46.0,697.7 L47.5,698.0 L49.0,698.3 L50.5,698.6 L52.0,698.8 L53.5,699.1 L55.0,699.4 L56.5,699.6 L58.0,699.8 L59.5,700.1 L61.0,700.3 L62.5,700.5 L64.0,700.6 L65.5,700.8 L67.0,701.0 L68.5,701.2 L70.0,701.4 L71.5,701.6 L73.0,701.7 L74.5,701.9 L76.0,702.1 L77.5,702.3 L79.0,702.4 L80.5,702.6 L82.0,702.8 L83.5,703.0 L85.0,703.1 L86.5,703.3 L88.0,703.4 L89.5,703.6 L91.0,703.8 L92.5,703.9 L94.0,704.1 L95.5,704.2 L97.0,704.4 L98.5,704.5 L100.0,704.6 L101.5,704.8 L103.0,704.9 L104.5,705.0 L106.0,705.1 L107.5,705.3 L109.0,705.4 L110.5,705.5 L112.0,705.6 L113.5,705.8 L115.0,705.9 L116.5,706.0 L118.0,706.1 L119.5,706.2 L121.0,706.3 L122.5,706.4 L124.0,706.5 L125.5,706.6 L127.0,706.7 L128.5,706.8 L130.0,706.9 L131.5,707.0 L133.0,707.0 L134.5,707.1 L136.0,707.2 L137.5,707.3 L139.0,707.3 L140.5,707.4 L142.0,707.5 L143.5,707.5 L145.0,707.6 L146.5,707.7 L148.0,707.7 L149.5,707.8 L151.0,707.8 L152.5,707.9 L154.0,707.9 L155.5,707.9 L157.0,708.0 L158.5,708.0 L160.0,708.0 L161.5,708.1 L163.0,708.1 L164.5,708.1 L166.0,708.1 L167.5,708.1 L169.0,708.2 L170.5,708.2 L172.0,708.2 L173.5,708.2 L175.0,708.2 L176.5,708.2 L178.0,708.2 L179.5,708.3 L181.0,708.3 L182.5,708.3 L184.0,708.3 L185.5,708.3 L187.0,708.3 L188.5,708.3 L190.0,708.3 L191.5,708.3 L193.0,708.3 L194.5,708.3 L196.0,708.3 L197.5,708.3 L199.0,708.3 L200.5,708.3 L202.0,708.3 L203.5,708.3 L205.0,708.3 L206.5,708.3 L208.0,708.3 L209.5,708.3 L211.0,708.3 L212.5,708.2 L214.0,708.2 L215.5,708.2 L217.0,708.2 L218.5,708.2 L220.0,708.1 L221.5,708.1 L223.0,708.1 L224.5,708.0 L226.0,708.0 L227.5,708.0 L229.0,707.9 L230.5,707.9 L232.0,707.8 L233.5,707.8 L235.0,707.8 L236.5,707.7 L238.0,707.7 L239.5,707.6 L241.0,707.6 L242.5,707.5 L244.0,707.5 L245.5,707.4 L247.0,707.3 L248.5,707.3 L250.0,707.2 L251.5,707.2 L253.0,707.1 L254.5,707.0 L256.0,707.0 L257.5,706.9 L259.0,706.9 L260.5,706.8 L262.0,706.7 L263.5,706.7 L265.0,706.6 L266.5,706.6 L268.0,706.5 L269.5,706.5 L271.0,706.4 L272.5,706.3 L274.0,706.3 L275.5,706.2 L277.0,706.2 L278.5,706.2 L280.0,706.1 L281.5,706.1 L283.0,706.0 L284.5,706.0 L286.0,705.9 L287.5,705.9 L289.0,705.8 L290.5,705.8 L292.0,705.7 L293.5,705.7 L295.0,705.7 L296.5,705.6 L298.0,705.6 L299.5,705.5 L301.0,705.5 L302.5,705.5 L304.0,705.4 L305.5,705.4 L307.0,705.3 L308.5,705.3 L310.0,705.2 L311.5,705.2 L313.0,705.1 L314.5,705.1 L316.0,705.0 L317.5,705.0 L319.0,704.9 L320.5,704.9 L322.0,704.8 L323.5,704.7 L325.0,704.6 L326.5,704.6 L328.0,704.5 L329.5,704.4 L331.0,704.3 L332.9,704.1 L332.9,715.5 L331.0,715.4 L329.5,715.3 L328.0,715.2 L326.5,715.1 L325.0,715.0 L323.5,715.0 L322.0,714.9 L320.5,714.8 L319.0,714.8 L317.5,714.7 L316.0,714.6 L314.5,714.6 L313.0,714.5 L311.5,714.5 L310.0,714.4 L308.5,714.4 L307.0,714.4 L305.5,714.3 L304.0,714.3 L302.5,714.2 L301.0,714.2 L299.5,714.1 L298.0,714.1 L296.5,714.1 L295.0,714.0 L293.5,714.0 L292.0,713.9 L290.5,713.9 L289.0,713.8 L287.5,713.8 L286.0,713.8 L284.5,713.7 L283.0,713.7 L281.5,713.6 L280.0,713.6 L278.5,713.5 L277.0,713.5 L275.5,713.4 L274.0,713.4 L272.5,713.3 L271.0,713.3 L269.5,713.2 L268.0,713.2 L266.5,713.1 L265.0,713.1 L263.5,713.0 L262.0,712.9 L260.5,712.9 L259.0,712.8 L257.5,712.8 L256.0,712.7 L254.5,712.6 L253.0,712.6 L251.5,712.5 L250.0,712.5 L248.5,712.4 L247.0,712.3 L245.5,712.3 L244.0,712.2 L242.5,712.2 L241.0,712.1 L239.5,712.1 L238.0,712.0 L236.5,712.0 L235.0,711.9 L233.5,711.9 L232.0,711.8 L230.5,711.8 L229.0,711.8 L227.5,711.7 L226.0,711.7 L224.5,711.6 L223.0,711.6 L221.5,711.6 L220.0,711.5 L218.5,711.5 L217.0,711.5 L215.5,711.5 L214.0,711.4 L212.5,711.4 L211.0,711.4 L209.5,711.4 L208.0,711.4 L206.5,711.4 L205.0,711.4 L203.5,711.4 L202.0,711.4 L200.5,711.4 L199.0,711.4 L197.5,711.4 L196.0,711.4 L194.5,711.4 L193.0,711.4 L191.5,711.4 L190.0,711.4 L188.5,711.4 L187.0,711.4 L185.5,711.4 L184.0,711.4 L182.5,711.4 L181.0,711.4 L179.5,711.4 L178.0,711.4 L176.5,711.4 L175.0,711.5 L173.5,711.5 L172.0,711.5 L170.5,711.5 L169.0,711.5 L167.5,711.5 L166.0,711.5 L164.5,711.6 L163.0,711.6 L161.5,711.6 L160.0,711.6 L158.5,711.7 L157.0,711.7 L155.5,711.7 L154.0,711.8 L152.5,711.8 L151.0,711.9 L149.5,711.9 L148.0,712.0 L146.5,712.0 L145.0,712.1 L143.5,712.1 L142.0,712.2 L140.5,712.3 L139.0,712.3 L137.5,712.4 L136.0,712.5 L134.5,712.6 L133.0,712.6 L131.5,712.7 L130.0,712.8 L128.5,712.9 L127.0,713.0 L125.5,713.1 L124.0,713.2 L122.5,713.3 L121.0,713.4 L119.5,713.5 L118.0,713.6 L116.5,713.7 L115.0,713.8 L113.5,713.9 L112.0,714.0 L110.5,714.2 L109.0,714.3 L107.5,714.4 L106.0,714.5 L104.5,714.7 L103.0,714.8 L101.5,714.9 L100.0,715.0 L98.5,715.2 L97.0,715.3 L95.5,715.5 L94.0,715.6 L92.5,715.8 L91.0,715.9 L89.5,716.1 L88.0,716.2 L86.5,716.4 L85.0,716.6 L83.5,716.7 L82.0,716.9 L80.5,717.1 L79.0,717.2 L77.5,717.4 L76.0,717.6 L74.5,717.8 L73.0,717.9 L71.5,718.1 L70.0,718.3 L68.5,718.5 L67.0,718.7 L65.5,718.8 L64.0,719.0 L62.5,719.2 L61.0,719.4 L59.5,719.6 L58.0,719.8 L56.5,720.1 L55.0,720.3 L53.5,720.6 L52.0,720.8 L50.5,721.1 L49.0,721.4 L47.5,721.7 L46.0,721.9 L44.5,722.2Z" fill="url(#hg20)" stroke="none"/>
<path d="M44.5,697.4 L46.0,697.7 L47.5,698.0 L49.0,698.3 L50.5,698.6 L52.0,698.8 L53.5,699.1 L55.0,699.4 L56.5,699.6 L58.0,699.8 L59.5,700.1 L61.0,700.3 L62.5,700.5 L64.0,700.6 L65.5,700.8 L67.0,701.0 L68.5,701.2 L70.0,701.4 L71.5,701.6 L73.0,701.7 L74.5,701.9 L76.0,702.1 L77.5,702.3 L79.0,702.4 L80.5,702.6 L82.0,702.8 L83.5,703.0 L85.0,703.1 L86.5,703.3 L88.0,703.4 L89.5,703.6 L91.0,703.8 L92.5,703.9 L94.0,704.1 L95.5,704.2 L97.0,704.4 L98.5,704.5 L100.0,704.6 L101.5,704.8 L103.0,704.9 L104.5,705.0 L106.0,705.1 L107.5,705.3 L109.0,705.4 L110.5,705.5 L112.0,705.6 L113.5,705.8 L115.0,705.9 L116.5,706.0 L118.0,706.1 L119.5,706.2 L121.0,706.3 L122.5,706.4 L124.0,706.5 L125.5,706.6 L127.0,706.7 L128.5,706.8 L130.0,706.9 L131.5,707.0 L133.0,707.0 L134.5,707.1 L136.0,707.2 L137.5,707.3 L139.0,707.3 L140.5,707.4 L142.0,707.5 L143.5,707.5 L145.0,707.6 L146.5,707.7 L148.0,707.7 L149.5,707.8 L151.0,707.8 L152.5,707.9 L154.0,707.9 L155.5,707.9 L157.0,708.0 L158.5,708.0 L160.0,708.0 L161.5,708.1 L163.0,708.1 L164.5,708.1 L166.0,708.1 L167.5,708.1 L169.0,708.2 L170.5,708.2 L172.0,708.2 L173.5,708.2 L175.0,708.2 L176.5,708.2 L178.0,708.2 L179.5,708.3 L181.0,708.3 L182.5,708.3 L184.0,708.3 L185.5,708.3 L187.0,708.3 L188.5,708.3 L190.0,708.3 L191.5,708.3 L193.0,708.3 L194.5,708.3 L196.0,708.3 L197.5,708.3 L199.0,708.3 L200.5,708.3 L202.0,708.3 L203.5,708.3 L205.0,708.3 L206.5,708.3 L208.0,708.3 L209.5,708.3 L211.0,708.3 L212.5,708.2 L214.0,708.2 L215.5,708.2 L217.0,708.2 L218.5,708.2 L220.0,708.1 L221.5,708.1 L223.0,708.1 L224.5,708.0 L226.0,708.0 L227.5,708.0 L229.0,707.9 L230.5,707.9 L232.0,707.8 L233.5,707.8 L235.0,707.8 L236.5,707.7 L238.0,707.7 L239.5,707.6 L241.0,707.6 L242.5,707.5 L244.0,707.5 L245.5,707.4 L247.0,707.3 L248.5,707.3 L250.0,707.2 L251.5,707.2 L253.0,707.1 L254.5,707.0 L256.0,707.0 L257.5,706.9 L259.0,706.9 L260.5,706.8 L262.0,706.7 L263.5,706.7 L265.0,706.6 L266.5,706.6 L268.0,706.5 L269.5,706.5 L271.0,706.4 L272.5,706.3 L274.0,706.3 L275.5,706.2 L277.0,706.2 L278.5,706.2 L280.0,706.1 L281.5,706.1 L283.0,706.0 L284.5,706.0 L286.0,705.9 L287.5,705.9 L289.0,705.8 L290.5,705.8 L292.0,705.7 L293.5,705.7 L295.0,705.7 L296.5,705.6 L298.0,705.6 L299.5,705.5 L301.0,705.5 L302.5,705.5 L304.0,705.4 L305.5,705.4 L307.0,705.3 L308.5,705.3 L310.0,705.2 L311.5,705.2 L313.0,705.1 L314.5,705.1 L316.0,705.0 L317.5,705.0 L319.0,704.9 L320.5,704.9 L322.0,704.8 L323.5,704.7 L325.0,704.6 L326.5,704.6 L328.0,704.5 L329.5,704.4 L331.0,704.3 L332.9,704.1 M44.5,722.2 L46.0,721.9 L47.5,721.7 L49.0,721.4 L50.5,721.1 L52.0,720.8 L53.5,720.6 L55.0,720.3 L56.5,720.1 L58.0,719.8 L59.5,719.6 L61.0,719.4 L62.5,719.2 L64.0,719.0 L65.5,718.8 L67.0,718.7 L68.5,718.5 L70.0,718.3 L71.5,718.1 L73.0,717.9 L74.5,717.8 L76.0,717.6 L77.5,717.4 L79.0,717.2 L80.5,717.1 L82.0,716.9 L83.5,716.7 L85.0,716.6 L86.5,716.4 L88.0,716.2 L89.5,716.1 L91.0,715.9 L92.5,715.8 L94.0,715.6 L95.5,715.5 L97.0,715.3 L98.5,715.2 L100.0,715.0 L101.5,714.9 L103.0,714.8 L104.5,714.7 L106.0,714.5 L107.5,714.4 L109.0,714.3 L110.5,714.2 L112.0,714.0 L113.5,713.9 L115.0,713.8 L116.5,713.7 L118.0,713.6 L119.5,713.5 L121.0,713.4 L122.5,713.3 L124.0,713.2 L125.5,713.1 L127.0,713.0 L128.5,712.9 L130.0,712.8 L131.5,712.7 L133.0,712.6 L134.5,712.6 L136.0,712.5 L137.5,712.4 L139.0,712.3 L140.5,712.3 L142.0,712.2 L143.5,712.1 L145.0,712.1 L146.5,712.0 L148.0,712.0 L149.5,711.9 L151.0,711.9 L152.5,711.8 L154.0,711.8 L155.5,711.7 L157.0,711.7 L158.5,711.7 L160.0,711.6 L161.5,711.6 L163.0,711.6 L164.5,711.6 L166.0,711.5 L167.5,711.5 L169.0,711.5 L170.5,711.5 L172.0,711.5 L173.5,711.5 L175.0,711.5 L176.5,711.4 L178.0,711.4 L179.5,711.4 L181.0,711.4 L182.5,711.4 L184.0,711.4 L185.5,711.4 L187.0,711.4 L188.5,711.4 L190.0,711.4 L191.5,711.4 L193.0,711.4 L194.5,711.4 L196.0,711.4 L197.5,711.4 L199.0,711.4 L200.5,711.4 L202.0,711.4 L203.5,711.4 L205.0,711.4 L206.5,711.4 L208.0,711.4 L209.5,711.4 L211.0,711.4 L212.5,711.4 L214.0,711.4 L215.5,711.5 L217.0,711.5 L218.5,711.5 L220.0,711.5 L221.5,711.6 L223.0,711.6 L224.5,711.6 L226.0,711.7 L227.5,711.7 L229.0,711.8 L230.5,711.8 L232.0,711.8 L233.5,711.9 L235.0,711.9 L236.5,712.0 L238.0,712.0 L239.5,712.1 L241.0,712.1 L242.5,712.2 L244.0,712.2 L245.5,712.3 L247.0,712.3 L248.5,712.4 L250.0,712.5 L251.5,712.5 L253.0,712.6 L254.5,712.6 L256.0,712.7 L257.5,712.8 L259.0,712.8 L260.5,712.9 L262.0,712.9 L263.5,713.0 L265.0,713.1 L266.5,713.1 L268.0,713.2 L269.5,713.2 L271.0,713.3 L272.5,713.3 L274.0,713.4 L275.5,713.4 L277.0,713.5 L278.5,713.5 L280.0,713.6 L281.5,713.6 L283.0,713.7 L284.5,713.7 L286.0,713.8 L287.5,713.8 L289.0,713.8 L290.5,713.9 L292.0,713.9 L293.5,714.0 L295.0,714.0 L296.5,714.1 L298.0,714.1 L299.5,714.1 L301.0,714.2 L302.5,714.2 L304.0,714.3 L305.5,714.3 L307.0,714.4 L308.5,714.4 L310.0,714.4 L311.5,714.5 L313.0,714.5 L314.5,714.6 L316.0,714.6 L317.5,714.7 L319.0,714.8 L320.5,714.8 L322.0,714.9 L323.5,715.0 L325.0,715.0 L326.5,715.1 L328.0,715.2 L329.5,715.3 L331.0,715.4 L332.9,715.5" fill="none" stroke="#66c2a5" stroke-opacity="0.6" stroke-width="0.8"/>
<path d="M44.5,677.6 L46.0,678.2 L47.5,678.9 L49.0,679.6 L50.5,680.5 L52.0,681.4 L53.5,682.4 L55.0,683.4 L56.5,684.4 L58.0,685.4 L59.5,686.5 L61.0,687.5 L62.5,688.6 L64.0,689.7 L65.5,690.7 L67.0,691.8 L68.5,692.8 L70.0,693.9 L71.5,695.0 L73.0,696.0 L74.5,696.9 L76.0,697.3 L77.5,697.7 L79.0,698.1 L80.5,698.6 L82.0,699.1 L83.5,699.8 L85.0,700.4 L86.5,701.0 L88.0,701.6 L89.5,702.1 L91.0,702.6 L92.5,703.1 L94.0,703.5 L95.5,703.9 L97.0,704.3 L98.5,704.7 L100.0,705.0 L101.5,705.4 L103.0,705.7 L104.5,706.0 L106.0,706.3 L107.5,706.6 L109.0,706.8 L110.5,707.1 L112.0,707.3 L113.5,707.5 L115.0,707.7 L116.5,707.9 L118.0,708.1 L119.5,708.3 L121.0,708.5 L122.5,708.6 L124.0,708.8 L125.5,708.9 L127.0,709.0 L128.5,709.2 L130.0,709.3 L131.5,709.4 L133.0,709.5 L134.5,709.6 L136.0,709.7 L137.5,709.8 L139.0,709.9 L140.5,710.0 L142.0,710.2 L143.5,710.3 L145.0,710.4 L146.5,710.6 L148.0,710.7 L149.5,710.9 L151.0,711.1 L152.5,711.2 L154.0,711.4 L155.5,711.5 L157.0,711.7 L158.5,711.8 L160.0,712.0 L161.5,712.1 L163.0,712.3 L164.5,712.4 L166.0,712.5 L167.5,712.6 L169.0,712.7 L170.5,712.8 L172.0,712.9 L173.5,713.0 L175.0,713.1 L176.5,713.2 L178.0,713.3 L179.5,713.3 L181.0,713.4 L182.5,713.5 L184.0,713.5 L185.5,713.6 L187.0,713.6 L188.5,713.7 L190.0,713.8 L191.5,713.8 L193.0,713.9 L194.5,713.9 L196.0,714.0 L197.5,714.0 L199.0,714.1 L200.5,714.1 L202.0,714.2 L203.5,714.2 L205.0,714.3 L206.5,714.3 L208.0,714.4 L209.5,714.4 L211.0,714.4 L212.5,714.5 L214.0,714.5 L215.5,714.5 L217.0,714.6 L218.5,714.6 L220.0,714.6 L221.5,714.6 L223.0,714.7 L224.5,714.7 L226.0,714.7 L227.5,714.7 L229.0,714.7 L230.5,714.7 L232.0,714.7 L233.5,714.8 L235.0,714.8 L236.5,714.8 L238.0,714.8 L239.5,714.8 L241.0,714.8 L242.5,714.8 L244.0,714.8 L245.5,714.8 L247.0,714.8 L248.5,714.8 L250.0,714.8 L251.5,714.8 L253.0,714.8 L254.5,714.7 L256.0,714.7 L257.5,714.7 L259.0,714.7 L260.5,714.7 L262.0,714.7 L263.5,714.7 L265.0,714.7 L266.5,714.7 L268.0,714.7 L269.5,714.7 L271.0,714.6 L272.5,714.6 L274.0,714.6 L275.5,714.6 L277.0,714.6 L278.5,714.6 L280.0,714.6 L281.5,714.6 L283.0,714.6 L284.5,714.6 L286.0,714.6 L287.5,714.6 L289.0,714.6 L290.5,714.6 L292.0,714.6 L293.5,714.5 L295.0,714.5 L296.5,714.4 L298.0,714.3 L299.5,714.3 L301.0,714.2 L302.5,714.1 L304.0,714.1 L305.5,714.0 L307.0,713.9 L308.5,713.8 L310.0,713.7 L311.5,713.6 L313.0,713.4 L314.5,713.2 L316.0,713.0 L317.5,712.7 L319.0,712.4 L320.5,712.0 L322.0,711.6 L323.5,711.2 L325.0,710.7 L326.5,710.1 L328.0,709.5 L329.5,708.8 L331.0,708.0 L332.9,706.9 L332.9,722.4 L331.0,722.9 L329.5,723.3 L328.0,723.6 L326.5,723.9 L325.0,724.2 L323.5,724.4 L322.0,724.6 L320.5,724.7 L319.0,724.9 L317.5,725.0 L316.0,725.1 L314.5,725.1 L313.0,725.1 L311.5,725.1 L310.0,725.1 L308.5,725.0 L307.0,725.0 L305.5,724.9 L304.0,724.8 L302.5,724.8 L301.0,724.7 L299.5,724.6 L298.0,724.5 L296.5,724.5 L295.0,724.4 L293.5,724.3 L292.0,724.2 L290.5,724.1 L289.0,724.0 L287.5,723.8 L286.0,723.7 L284.5,723.5 L283.0,723.3 L281.5,723.2 L280.0,723.0 L278.5,722.9 L277.0,722.7 L275.5,722.6 L274.0,722.4 L272.5,722.3 L271.0,722.2 L269.5,722.0 L268.0,721.9 L266.5,721.8 L265.0,721.6 L263.5,721.5 L262.0,721.3 L260.5,721.2 L259.0,721.1 L257.5,720.9 L256.0,720.8 L254.5,720.7 L253.0,720.6 L251.5,720.5 L250.0,720.4 L248.5,720.3 L247.0,720.2 L245.5,720.1 L244.0,720.0 L242.5,720.0 L241.0,719.9 L239.5,719.9 L238.0,719.8 L236.5,719.8 L235.0,719.7 L233.5,719.7 L232.0,719.7 L230.5,719.7 L229.0,719.6 L227.5,719.6 L226.0,719.6 L224.5,719.6 L223.0,719.6 L221.5,719.6 L220.0,719.6 L218.5,719.6 L217.0,719.6 L215.5,719.6 L214.0,719.6 L212.5,719.6 L211.0,719.6 L209.5,719.6 L208.0,719.6 L206.5,719.6 L205.0,719.6 L203.5,719.6 L202.0,719.7 L200.5,719.7 L199.0,719.7 L197.5,719.7 L196.0,719.7 L194.5,719.8 L193.0,719.8 L191.5,719.8 L190.0,719.9 L188.5,719.9 L187.0,719.9 L185.5,720.0 L184.0,720.0 L182.5,720.0 L181.0,720.1 L179.5,720.1 L178.0,720.1 L176.5,720.2 L175.0,720.2 L173.5,720.3 L172.0,720.3 L170.5,720.4 L169.0,720.4 L167.5,720.4 L166.0,720.5 L164.5,720.5 L163.0,720.5 L161.5,720.5 L160.0,720.5 L158.5,720.5 L157.0,720.5 L155.5,720.5 L154.0,720.5 L152.5,720.5 L151.0,720.5 L149.5,720.5 L148.0,720.6 L146.5,720.6 L145.0,720.7 L143.5,720.8 L142.0,720.9 L140.5,721.0 L139.0,721.1 L137.5,721.2 L136.0,721.4 L134.5,721.6 L133.0,721.8 L131.5,721.9 L130.0,722.1 L128.5,722.3 L127.0,722.5 L125.5,722.7 L124.0,722.9 L122.5,723.1 L121.0,723.3 L119.5,723.5 L118.0,723.6 L116.5,723.9 L115.0,724.1 L113.5,724.3 L112.0,724.5 L110.5,724.7 L109.0,724.9 L107.5,725.1 L106.0,725.3 L104.5,725.5 L103.0,725.7 L101.5,725.8 L100.0,726.0 L98.5,726.2 L97.0,726.4 L95.5,726.6 L94.0,726.8 L92.5,727.0 L91.0,727.2 L89.5,727.4 L88.0,727.4 L86.5,727.2 L85.0,726.9 L83.5,726.4 L82.0,726.0 L80.5,726.0 L79.0,726.1 L77.5,726.3 L76.0,726.5 L74.5,726.7 L73.0,727.0 L71.5,727.2 L70.0,727.5 L68.5,727.7 L67.0,728.0 L65.5,728.3 L64.0,728.6 L62.5,728.9 L61.0,729.3 L59.5,729.6 L58.0,730.0 L56.5,730.3 L55.0,730.7 L53.5,731.1 L52.0,731.4 L50.5,731.8 L49.0,732.2 L47.5,732.6 L46.0,733.0 L44.5,733.5Z" fill="#fc8d62" fill-opacity="0.5" stroke="none"/>
<path d="M44.5,677.6 L46.0,678.2 L47.5,678.9 L49.0,679.6 L50.5,680.5 L52.0,681.4 L53.5,682.4 L55.0,683.4 L56.5,684.4 L58.0,685.4 L59.5,686.5 L61.0,687.5 L62.5,688.6 L64.0,689.7 L65.5,690.7 L67.0,691.8 L68.5,692.8 L70.0,693.9 L71.5,695.0 L73.0,696.0 L74.5,696.9 L76.0,697.3 L77.5,697.7 L79.0,698.1 L80.5,698.6 L82.0,699.1 L83.5,699.8 L85.0,700.4 L86.5,701.0 L88.0,701.6 L89.5,702.1 L91.0,702.6 L92.5,703.1 L94.0,703.5 L95.5,703.9 L97.0,704.3 L98.5,704.7 L100.0,705.0 L101.5,705.4 L103.0,705.7 L104.5,706.0 L106.0,706.3 L107.5,706.6 L109.0,706.8 L110.5,707.1 L112.0,707.3 L113.5,707.5 L115.0,707.7 L116.5,707.9 L118.0,708.1 L119.5,708.3 L121.0,708.5 L122.5,708.6 L124.0,708.8 L125.5,708.9 L127.0,709.0 L128.5,709.2 L130.0,709.3 L131.5,709.4 L133.0,709.5 L134.5,709.6 L136.0,709.7 L137.5,709.8 L139.0,709.9 L140.5,710.0 L142.0,710.2 L143.5,710.3 L145.0,710.4 L146.5,710.6 L148.0,710.7 L149.5,710.9 L151.0,711.1 L152.5,711.2 L154.0,711.4 L155.5,711.5 L157.0,711.7 L158.5,711.8 L160.0,712.0 L161.5,712.1 L163.0,712.3 L164.5,712.4 L166.0,712.5 L167.5,712.6 L169.0,712.7 L170.5,712.8 L172.0,712.9 L173.5,713.0 L175.0,713.1 L176.5,713.2 L178.0,713.3 L179.5,713.3 L181.0,713.4 L182.5,713.5 L184.0,713.5 L185.5,713.6 L187.0,713.6 L188.5,713.7 L190.0,713.8 L191.5,713.8 L193.0,713.9 L194.5,713.9 L196.0,714.0 L197.5,714.0 L199.0,714.1 L200.5,714.1 L202.0,714.2 L203.5,714.2 L205.0,714.3 L206.5,714.3 L208.0,714.4 L209.5,714.4 L211.0,714.4 L212.5,714.5 L214.0,714.5 L215.5,714.5 L217.0,714.6 L218.5,714.6 L220.0,714.6 L221.5,714.6 L223.0,714.7 L224.5,714.7 L226.0,714.7 L227.5,714.7 L229.0,714.7 L230.5,714.7 L232.0,714.7 L233.5,714.8 L235.0,714.8 L236.5,714.8 L238.0,714.8 L239.5,714.8 L241.0,714.8 L242.5,714.8 L244.0,714.8 L245.5,714.8 L247.0,714.8 L248.5,714.8 L250.0,714.8 L251.5,714.8 L253.0,714.8 L254.5,714.7 L256.0,714.7 L257.5,714.7 L259.0,714.7 L260.5,714.7 L262.0,714.7 L263.5,714.7 L265.0,714.7 L266.5,714.7 L268.0,714.7 L269.5,714.7 L271.0,714.6 L272.5,714.6 L274.0,714.6 L275.5,714.6 L277.0,714.6 L278.5,714.6 L280.0,714.6 L281.5,714.6 L283.0,714.6 L284.5,714.6 L286.0,714.6 L287.5,714.6 L289.0,714.6 L290.5,714.6 L292.0,714.6 L293.5,714.5 L295.0,714.5 L296.5,714.4 L298.0,714.3 L299.5,714.3 L301.0,714.2 L302.5,714.1 L304.0,714.1 L305.5,714.0 L307.0,713.9 L308.5,713.8 L310.0,713.7 L311.5,713.6 L313.0,713.4 L314.5,713.2 L316.0,713.0 L317.5,712.7 L319.0,712.4 L320.5,712.0 L322.0,711.6 L323.5,711.2 L325.0,710.7 L326.5,710.1 L328.0,709.5 L329.5,708.8 L331.0,708.0 L332.9,706.9 L332.9,722.4 L331.0,722.9 L329.5,723.3 L328.0,723.6 L326.5,723.9 L325.0,724.2 L323.5,724.4 L322.0,724.6 L320.5,724.7 L319.0,724.9 L317.5,725.0 L316.0,725.1 L314.5,725.1 L313.0,725.1 L311.5,725.1 L310.0,725.1 L308.5,725.0 L307.0,725.0 L305.5,724.9 L304.0,724.8 L302.5,724.8 L301.0,724.7 L299.5,724.6 L298.0,724.5 L296.5,724.5 L295.0,724.4 L293.5,724.3 L292.0,724.2 L290.5,724.1 L289.0,724.0 L287.5,723.8 L286.0,723.7 L284.5,723.5 L283.0,723.3 L281.5,723.2 L280.0,723.0 L278.5,722.9 L277.0,722.7 L275.5,722.6 L274.0,722.4 L272.5,722.3 L271.0,722.2 L269.5,722.0 L268.0,721.9 L266.5,721.8 L265.0,721.6 L263.5,721.5 L262.0,721.3 L260.5,721.2 L259.0,721.1 L257.5,720.9 L256.0,720.8 L254.5,720.7 L253.0,720.6 L251.5,720.5 L250.0,720.4 L248.5,720.3 L247.0,720.2 L245.5,720.1 L244.0,720.0 L242.5,720.0 L241.0,719.9 L239.5,719.9 L238.0,719.8 L236.5,719.8 L235.0,719.7 L233.5,719.7 L232.0,719.7 L230.5,719.7 L229.0,719.6 L227.5,719.6 L226.0,719.6 L224.5,719.6 L223.0,719.6 L221.5,719.6 L220.0,719.6 L218.5,719.6 L217.0,719.6 L215.5,719.6 L214.0,719.6 L212.5,719.6 L211.0,719.6 L209.5,719.6 L208.0,719.6 L206.5,719.6 L205.0,719.6 L203.5,719.6 L202.0,719.7 L200.5,719.7 L199.0,719.7 L197.5,719.7 L196.0,719.7 L194.5,719.8 L193.0,719.8 L191.5,719.8 L190.0,719.9 L188.5,719.9 L187.0,719.9 L185.5,720.0 L184.0,720.0 L182.5,720.0 L181.0,720.1 L179.5,720.1 L178.0,720.1 L176.5,720.2 L175.0,720.2 L173.5,720.3 L172.0,720.3 L170.5,720.4 L169.0,720.4 L167.5,720.4 L166.0,720.5 L164.5,720.5 L163.0,720.5 L161.5,720.5 L160.0,720.5 L158.5,720.5 L157.0,720.5 L155.5,720.5 L154.0,720.5 L152.5,720.5 L151.0,720.5 L149.5,720.5 L148.0,720.6 L146.5,720.6 L145.0,720.7 L143.5,720.8 L142.0,720.9 L140.5,721.0 L139.0,721.1 L137.5,721.2 L136.0,721.4 L134.5,721.6 L133.0,721.8 L131.5,721.9 L130.0,722.1 L128.5,722.3 L127.0,722.5 L125.5,722.7 L124.0,722.9 L122.5,723.1 L121.0,723.3 L119.5,723.5 L118.0,723.6 L116.5,723.9 L115.0,724.1 L113.5,724.3 L112.0,724.5 L110.5,724.7 L109.0,724.9 L107.5,725.1 L106.0,725.3 L104.5,725.5 L103.0,725.7 L101.5,725.8 L100.0,726.0 L98.5,726.2 L97.0,726.4 L95.5,726.6 L94.0,726.8 L92.5,727.0 L91.0,727.2 L89.5,727.4 L88.0,727.4 L86.5,727.2 L85.0,726.9 L83.5,726.4 L82.0,726.0 L80.5,726.0 L79.0,726.1 L77.5,726.3 L76.0,726.5 L74.5,726.7 L73.0,727.0 L71.5,727.2 L70.0,727.5 L68.5,727.7 L67.0,728.0 L65.5,728.3 L64.0,728.6 L62.5,728.9 L61.0,729.3 L59.5,729.6 L58.0,730.0 L56.5,730.3 L55.0,730.7 L53.5,731.1 L52.0,731.4 L50.5,731.8 L49.0,732.2 L47.5,732.6 L46.0,733.0 L44.5,733.5Z" fill="url(#ho20)" stroke="none"/>
<path d="M44.5,677.6 L46.0,678.2 L47.5,678.9 L49.0,679.6 L50.5,680.5 L52.0,681.4 L53.5,682.4 L55.0,683.4 L56.5,684.4 L58.0,685.4 L59.5,686.5 L61.0,687.5 L62.5,688.6 L64.0,689.7 L65.5,690.7 L67.0,691.8 L68.5,692.8 L70.0,693.9 L71.5,695.0 L73.0,696.0 L74.5,696.9 L76.0,697.3 L77.5,697.7 L79.0,698.1 L80.5,698.6 L82.0,699.1 L83.5,699.8 L85.0,700.4 L86.5,701.0 L88.0,701.6 L89.5,702.1 L91.0,702.6 L92.5,703.1 L94.0,703.5 L95.5,703.9 L97.0,704.3 L98.5,704.7 L100.0,705.0 L101.5,705.4 L103.0,705.7 L104.5,706.0 L106.0,706.3 L107.5,706.6 L109.0,706.8 L110.5,707.1 L112.0,707.3 L113.5,707.5 L115.0,707.7 L116.5,707.9 L118.0,708.1 L119.5,708.3 L121.0,708.5 L122.5,708.6 L124.0,708.8 L125.5,708.9 L127.0,709.0 L128.5,709.2 L130.0,709.3 L131.5,709.4 L133.0,709.5 L134.5,709.6 L136.0,709.7 L137.5,709.8 L139.0,709.9 L140.5,710.0 L142.0,710.2 L143.5,710.3 L145.0,710.4 L146.5,710.6 L148.0,710.7 L149.5,710.9 L151.0,711.1 L152.5,711.2 L154.0,711.4 L155.5,711.5 L157.0,711.7 L158.5,711.8 L160.0,712.0 L161.5,712.1 L163.0,712.3 L164.5,712.4 L166.0,712.5 L167.5,712.6 L169.0,712.7 L170.5,712.8 L172.0,712.9 L173.5,713.0 L175.0,713.1 L176.5,713.2 L178.0,713.3 L179.5,713.3 L181.0,713.4 L182.5,713.5 L184.0,713.5 L185.5,713.6 L187.0,713.6 L188.5,713.7 L190.0,713.8 L191.5,713.8 L193.0,713.9 L194.5,713.9 L196.0,714.0 L197.5,714.0 L199.0,714.1 L200.5,714.1 L202.0,714.2 L203.5,714.2 L205.0,714.3 L206.5,714.3 L208.0,714.4 L209.5,714.4 L211.0,714.4 L212.5,714.5 L214.0,714.5 L215.5,714.5 L217.0,714.6 L218.5,714.6 L220.0,714.6 L221.5,714.6 L223.0,714.7 L224.5,714.7 L226.0,714.7 L227.5,714.7 L229.0,714.7 L230.5,714.7 L232.0,714.7 L233.5,714.8 L235.0,714.8 L236.5,714.8 L238.0,714.8 L239.5,714.8 L241.0,714.8 L242.5,714.8 L244.0,714.8 L245.5,714.8 L247.0,714.8 L248.5,714.8 L250.0,714.8 L251.5,714.8 L253.0,714.8 L254.5,714.7 L256.0,714.7 L257.5,714.7 L259.0,714.7 L260.5,714.7 L262.0,714.7 L263.5,714.7 L265.0,714.7 L266.5,714.7 L268.0,714.7 L269.5,714.7 L271.0,714.6 L272.5,714.6 L274.0,714.6 L275.5,714.6 L277.0,714.6 L278.5,714.6 L280.0,714.6 L281.5,714.6 L283.0,714.6 L284.5,714.6 L286.0,714.6 L287.5,714.6 L289.0,714.6 L290.5,714.6 L292.0,714.6 L293.5,714.5 L295.0,714.5 L296.5,714.4 L298.0,714.3 L299.5,714.3 L301.0,714.2 L302.5,714.1 L304.0,714.1 L305.5,714.0 L307.0,713.9 L308.5,713.8 L310.0,713.7 L311.5,713.6 L313.0,713.4 L314.5,713.2 L316.0,713.0 L317.5,712.7 L319.0,712.4 L320.5,712.0 L322.0,711.6 L323.5,711.2 L325.0,710.7 L326.5,710.1 L328.0,709.5 L329.5,708.8 L331.0,708.0 L332.9,706.9 M44.5,733.5 L46.0,733.0 L47.5,732.6 L49.0,732.2 L50.5,731.8 L52.0,731.4 L53.5,731.1 L55.0,730.7 L56.5,730.3 L58.0,730.0 L59.5,729.6 L61.0,729.3 L62.5,728.9 L64.0,728.6 L65.5,728.3 L67.0,728.0 L68.5,727.7 L70.0,727.5 L71.5,727.2 L73.0,727.0 L74.5,726.7 L76.0,726.5 L77.5,726.3 L79.0,726.1 L80.5,726.0 L82.0,726.0 L83.5,726.4 L85.0,726.9 L86.5,727.2 L88.0,727.4 L89.5,727.4 L91.0,727.2 L92.5,727.0 L94.0,726.8 L95.5,726.6 L97.0,726.4 L98.5,726.2 L100.0,726.0 L101.5,725.8 L103.0,725.7 L104.5,725.5 L106.0,725.3 L107.5,725.1 L109.0,724.9 L110.5,724.7 L112.0,724.5 L113.5,724.3 L115.0,724.1 L116.5,723.9 L118.0,723.6 L119.5,723.5 L121.0,723.3 L122.5,723.1 L124.0,722.9 L125.5,722.7 L127.0,722.5 L128.5,722.3 L130.0,722.1 L131.5,721.9 L133.0,721.8 L134.5,721.6 L136.0,721.4 L137.5,721.2 L139.0,721.1 L140.5,721.0 L142.0,720.9 L143.5,720.8 L145.0,720.7 L146.5,720.6 L148.0,720.6 L149.5,720.5 L151.0,720.5 L152.5,720.5 L154.0,720.5 L155.5,720.5 L157.0,720.5 L158.5,720.5 L160.0,720.5 L161.5,720.5 L163.0,720.5 L164.5,720.5 L166.0,720.5 L167.5,720.4 L169.0,720.4 L170.5,720.4 L172.0,720.3 L173.5,720.3 L175.0,720.2 L176.5,720.2 L178.0,720.1 L179.5,720.1 L181.0,720.1 L182.5,720.0 L184.0,720.0 L185.5,720.0 L187.0,719.9 L188.5,719.9 L190.0,719.9 L191.5,719.8 L193.0,719.8 L194.5,719.8 L196.0,719.7 L197.5,719.7 L199.0,719.7 L200.5,719.7 L202.0,719.7 L203.5,719.6 L205.0,719.6 L206.5,719.6 L208.0,719.6 L209.5,719.6 L211.0,719.6 L212.5,719.6 L214.0,719.6 L215.5,719.6 L217.0,719.6 L218.5,719.6 L220.0,719.6 L221.5,719.6 L223.0,719.6 L224.5,719.6 L226.0,719.6 L227.5,719.6 L229.0,719.6 L230.5,719.7 L232.0,719.7 L233.5,719.7 L235.0,719.7 L236.5,719.8 L238.0,719.8 L239.5,719.9 L241.0,719.9 L242.5,720.0 L244.0,720.0 L245.5,720.1 L247.0,720.2 L248.5,720.3 L250.0,720.4 L251.5,720.5 L253.0,720.6 L254.5,720.7 L256.0,720.8 L257.5,720.9 L259.0,721.1 L260.5,721.2 L262.0,721.3 L263.5,721.5 L265.0,721.6 L266.5,721.8 L268.0,721.9 L269.5,722.0 L271.0,722.2 L272.5,722.3 L274.0,722.4 L275.5,722.6 L277.0,722.7 L278.5,722.9 L280.0,723.0 L281.5,723.2 L283.0,723.3 L284.5,723.5 L286.0,723.7 L287.5,723.8 L289.0,724.0 L290.5,724.1 L292.0,724.2 L293.5,724.3 L295.0,724.4 L296.5,724.5 L298.0,724.5 L299.5,724.6 L301.0,724.7 L302.5,724.8 L304.0,724.8 L305.5,724.9 L307.0,725.0 L308.5,725.0 L310.0,725.1 L311.5,725.1 L313.0,725.1 L314.5,725.1 L316.0,725.1 L317.5,725.0 L319.0,724.9 L320.5,724.7 L322.0,724.6 L323.5,724.4 L325.0,724.2 L326.5,723.9 L328.0,723.6 L329.5,723.3 L331.0,722.9 L332.9,722.4" fill="none" stroke="#fc8d62" stroke-opacity="0.6" stroke-width="0.8"/>
<path d="M44.5,709.8 L332.9,709.8" stroke="#66c2a5" stroke-width="1.8" fill="none"/>
<path d="M44.5,697.4 L46.0,697.7 L47.5,698.0 L49.0,698.3 L50.5,698.6 L52.0,698.8 L53.5,699.1 L55.0,699.4 L56.5,699.6 L58.0,699.8 L59.5,700.1 L61.0,700.3 L62.5,700.5 L64.0,700.6 L65.5,700.8 L67.0,701.0 L68.5,701.2 L70.0,701.4 L71.5,701.6 L73.0,701.7 L74.5,701.9 L76.0,702.1 L77.5,702.3 L79.0,702.4 L80.5,702.6 L82.0,702.8 L83.5,703.0 L85.0,703.1 L86.5,703.3 L88.0,703.4 L89.5,703.6 L91.0,703.8 L92.5,703.9 L94.0,704.1 L95.5,704.2 L97.0,704.4 L98.5,704.5 L100.0,704.6 L101.5,704.8 L103.0,704.9 L104.5,705.0 L106.0,705.1 L107.5,705.3 L109.0,705.4 L110.5,705.5 L112.0,705.6 L113.5,705.8 L115.0,705.9 L116.5,706.0 L118.0,706.1 L119.5,706.2 L121.0,706.3 L122.5,706.4 L124.0,706.5 L125.5,706.6 L127.0,706.7 L128.5,706.8 L130.0,706.9 L131.5,707.0 L133.0,707.0 L134.5,707.1 L136.0,707.2 L137.5,707.3 L139.0,707.3 L140.5,707.4 L142.0,707.5 L143.5,707.5 L145.0,707.6 L146.5,707.7 L148.0,707.7 L149.5,707.8 L151.0,707.8 L152.5,707.9 L154.0,707.9 L155.5,707.9 L157.0,708.0 L158.5,708.0 L160.0,708.0 L161.5,708.1 L163.0,708.1 L164.5,708.1 L166.0,708.1 L167.5,708.1 L169.0,708.2 L170.5,708.2 L172.0,708.2 L173.5,708.2 L175.0,708.2 L176.5,708.2 L178.0,708.2 L179.5,708.3 L181.0,708.3 L182.5,708.3 L184.0,708.3 L185.5,708.3 L187.0,708.3 L188.5,708.3 L190.0,708.3 L191.5,708.3 L193.0,708.3 L194.5,708.3 L196.0,708.3 L197.5,708.3 L199.0,708.3 L200.5,708.3 L202.0,708.3 L203.5,708.3 L205.0,708.3 L206.5,708.3 L208.0,708.3 L209.5,708.3 L211.0,708.3 L212.5,708.2 L214.0,708.2 L215.5,708.2 L217.0,708.2 L218.5,708.2 L220.0,708.1 L221.5,708.1 L223.0,708.1 L224.5,708.0 L226.0,708.0 L227.5,708.0 L229.0,707.9 L230.5,707.9 L232.0,707.8 L233.5,707.8 L235.0,707.8 L236.5,707.7 L238.0,707.7 L239.5,707.6 L241.0,707.6 L242.5,707.5 L244.0,707.5 L245.5,707.4 L247.0,707.3 L248.5,707.3 L250.0,707.2 L251.5,707.2 L253.0,707.1 L254.5,707.0 L256.0,707.0 L257.5,706.9 L259.0,706.9 L260.5,706.8 L262.0,706.7 L263.5,706.7 L265.0,706.6 L266.5,706.6 L268.0,706.5 L269.5,706.5 L271.0,706.4 L272.5,706.3 L274.0,706.3 L275.5,706.2 L277.0,706.2 L278.5,706.2 L280.0,706.1 L281.5,706.1 L283.0,706.0 L284.5,706.0 L286.0,705.9 L287.5,705.9 L289.0,705.8 L290.5,705.8 L292.0,705.7 L293.5,705.7 L295.0,705.7 L296.5,705.6 L298.0,705.6 L299.5,705.5 L301.0,705.5 L302.5,705.5 L304.0,705.4 L305.5,705.4 L307.0,705.3 L308.5,705.3 L310.0,705.2 L311.5,705.2 L313.0,705.1 L314.5,705.1 L316.0,705.0 L317.5,705.0 L319.0,704.9 L320.5,704.9 L322.0,704.8 L323.5,704.7 L325.0,704.6 L326.5,704.6 L328.0,704.5 L329.5,704.4 L331.0,704.3 L332.9,704.1 M44.5,722.2 L46.0,721.9 L47.5,721.7 L49.0,721.4 L50.5,721.1 L52.0,720.8 L53.5,720.6 L55.0,720.3 L56.5,720.1 L58.0,719.8 L59.5,719.6 L61.0,719.4 L62.5,719.2 L64.0,719.0 L65.5,718.8 L67.0,718.7 L68.5,718.5 L70.0,718.3 L71.5,718.1 L73.0,717.9 L74.5,717.8 L76.0,717.6 L77.5,717.4 L79.0,717.2 L80.5,717.1 L82.0,716.9 L83.5,716.7 L85.0,716.6 L86.5,716.4 L88.0,716.2 L89.5,716.1 L91.0,715.9 L92.5,715.8 L94.0,715.6 L95.5,715.5 L97.0,715.3 L98.5,715.2 L100.0,715.0 L101.5,714.9 L103.0,714.8 L104.5,714.7 L106.0,714.5 L107.5,714.4 L109.0,714.3 L110.5,714.2 L112.0,714.0 L113.5,713.9 L115.0,713.8 L116.5,713.7 L118.0,713.6 L119.5,713.5 L121.0,713.4 L122.5,713.3 L124.0,713.2 L125.5,713.1 L127.0,713.0 L128.5,712.9 L130.0,712.8 L131.5,712.7 L133.0,712.6 L134.5,712.6 L136.0,712.5 L137.5,712.4 L139.0,712.3 L140.5,712.3 L142.0,712.2 L143.5,712.1 L145.0,712.1 L146.5,712.0 L148.0,712.0 L149.5,711.9 L151.0,711.9 L152.5,711.8 L154.0,711.8 L155.5,711.7 L157.0,711.7 L158.5,711.7 L160.0,711.6 L161.5,711.6 L163.0,711.6 L164.5,711.6 L166.0,711.5 L167.5,711.5 L169.0,711.5 L170.5,711.5 L172.0,711.5 L173.5,711.5 L175.0,711.5 L176.5,711.4 L178.0,711.4 L179.5,711.4 L181.0,711.4 L182.5,711.4 L184.0,711.4 L185.5,711.4 L187.0,711.4 L188.5,711.4 L190.0,711.4 L191.5,711.4 L193.0,711.4 L194.5,711.4 L196.0,711.4 L197.5,711.4 L199.0,711.4 L200.5,711.4 L202.0,711.4 L203.5,711.4 L205.0,711.4 L206.5,711.4 L208.0,711.4 L209.5,711.4 L211.0,711.4 L212.5,711.4 L214.0,711.4 L215.5,711.5 L217.0,711.5 L218.5,711.5 L220.0,711.5 L221.5,711.6 L223.0,711.6 L224.5,711.6 L226.0,711.7 L227.5,711.7 L229.0,711.8 L230.5,711.8 L232.0,711.8 L233.5,711.9 L235.0,711.9 L236.5,712.0 L238.0,712.0 L239.5,712.1 L241.0,712.1 L242.5,712.2 L244.0,712.2 L245.5,712.3 L247.0,712.3 L248.5,712.4 L250.0,712.5 L251.5,712.5 L253.0,712.6 L254.5,712.6 L256.0,712.7 L257.5,712.8 L259.0,712.8 L260.5,712.9 L262.0,712.9 L263.5,713.0 L265.0,713.1 L266.5,713.1 L268.0,713.2 L269.5,713.2 L271.0,713.3 L272.5,713.3 L274.0,713.4 L275.5,713.4 L277.0,713.5 L278.5,713.5 L280.0,713.6 L281.5,713.6 L283.0,713.7 L284.5,713.7 L286.0,713.8 L287.5,713.8 L289.0,713.8 L290.5,713.9 L292.0,713.9 L293.5,714.0 L295.0,714.0 L296.5,714.1 L298.0,714.1 L299.5,714.1 L301.0,714.2 L302.5,714.2 L304.0,714.3 L305.5,714.3 L307.0,714.4 L308.5,714.4 L310.0,714.4 L311.5,714.5 L313.0,714.5 L314.5,714.6 L316.0,714.6 L317.5,714.7 L319.0,714.8 L320.5,714.8 L322.0,714.9 L323.5,715.0 L325.0,715.0 L326.5,715.1 L328.0,715.2 L329.5,715.3 L331.0,715.4 L332.9,715.5" fill="none" stroke="#66c2a5" stroke-width="1.6" stroke-dasharray="5.5 2.4"/>
<path d="M44.5,700.1 L46.0,701.0 L47.5,702.0 L49.0,702.8 L50.5,703.7 L52.0,704.4 L53.5,705.2 L55.0,705.9 L56.5,706.6 L58.0,707.2 L59.5,707.9 L61.0,708.5 L62.5,709.1 L64.0,709.6 L65.5,710.1 L67.0,710.6 L68.5,711.0 L70.0,711.4 L71.5,711.8 L73.0,712.2 L74.5,712.5 L76.0,712.9 L77.5,713.2 L79.0,713.4 L80.5,713.7 L82.0,713.9 L83.5,714.1 L85.0,714.3 L86.5,714.4 L88.0,714.6 L89.5,714.7 L91.0,714.9 L92.5,715.0 L94.0,715.1 L95.5,715.3 L97.0,715.4 L98.5,715.5 L100.0,715.5 L101.5,715.6 L103.0,715.7 L104.5,715.7 L106.0,715.8 L107.5,715.8 L109.0,715.8 L110.5,715.9 L112.0,715.9 L113.5,715.9 L115.0,715.9 L116.5,715.9 L118.0,715.9 L119.5,715.9 L121.0,715.9 L122.5,715.8 L124.0,715.8 L125.5,715.8 L127.0,715.8 L128.5,715.7 L130.0,715.7 L131.5,715.7 L133.0,715.6 L134.5,715.6 L136.0,715.5 L137.5,715.5 L139.0,715.5 L140.5,715.5 L142.0,715.5 L143.5,715.5 L145.0,715.6 L146.5,715.6 L148.0,715.7 L149.5,715.7 L151.0,715.8 L152.5,715.9 L154.0,715.9 L155.5,716.0 L157.0,716.1 L158.5,716.2 L160.0,716.2 L161.5,716.3 L163.0,716.4 L164.5,716.4 L166.0,716.5 L167.5,716.5 L169.0,716.6 L170.5,716.6 L172.0,716.6 L173.5,716.6 L175.0,716.7 L176.5,716.7 L178.0,716.7 L179.5,716.7 L181.0,716.7 L182.5,716.7 L184.0,716.8 L185.5,716.8 L187.0,716.8 L188.5,716.8 L190.0,716.8 L191.5,716.8 L193.0,716.8 L194.5,716.9 L196.0,716.9 L197.5,716.9 L199.0,716.9 L200.5,716.9 L202.0,716.9 L203.5,716.9 L205.0,716.9 L206.5,717.0 L208.0,717.0 L209.5,717.0 L211.0,717.0 L212.5,717.0 L214.0,717.0 L215.5,717.0 L217.0,717.1 L218.5,717.1 L220.0,717.1 L221.5,717.1 L223.0,717.1 L224.5,717.1 L226.0,717.1 L227.5,717.2 L229.0,717.2 L230.5,717.2 L232.0,717.2 L233.5,717.2 L235.0,717.3 L236.5,717.3 L238.0,717.3 L239.5,717.3 L241.0,717.4 L242.5,717.4 L244.0,717.4 L245.5,717.4 L247.0,717.5 L248.5,717.5 L250.0,717.6 L251.5,717.6 L253.0,717.7 L254.5,717.7 L256.0,717.8 L257.5,717.8 L259.0,717.9 L260.5,718.0 L262.0,718.0 L263.5,718.1 L265.0,718.2 L266.5,718.2 L268.0,718.3 L269.5,718.3 L271.0,718.4 L272.5,718.5 L274.0,718.5 L275.5,718.6 L277.0,718.6 L278.5,718.7 L280.0,718.8 L281.5,718.9 L283.0,719.0 L284.5,719.1 L286.0,719.1 L287.5,719.2 L289.0,719.3 L290.5,719.4 L292.0,719.4 L293.5,719.4 L295.0,719.4 L296.5,719.4 L298.0,719.4 L299.5,719.4 L301.0,719.4 L302.5,719.4 L304.0,719.4 L305.5,719.4 L307.0,719.4 L308.5,719.4 L310.0,719.4 L311.5,719.3 L313.0,719.3 L314.5,719.1 L316.0,719.0 L317.5,718.9 L319.0,718.6 L320.5,718.4 L322.0,718.1 L323.5,717.8 L325.0,717.4 L326.5,717.0 L328.0,716.6 L329.5,716.0 L331.0,715.4 L332.9,714.6" stroke="#fc8d62" stroke-width="1.5" fill="none"/>
<path d="M44.5,659.2 L46.0,662.2 L47.5,664.9 L49.0,667.4 L50.5,669.7 L52.0,672.0 L53.5,674.2 L55.0,676.2 L56.5,678.2 L58.0,680.0 L59.5,681.8 L61.0,683.5 L62.5,685.1 L64.0,686.6 L65.5,688.0 L67.0,689.3 L68.5,690.5 L70.0,691.6 L71.5,692.8 L73.0,693.9 L74.5,694.9 L76.0,695.9 L77.5,696.8 L79.0,697.6 L80.5,698.4 L82.0,699.1 L83.5,699.8 L85.0,700.4 L86.5,701.0 L88.0,701.6 L89.5,702.1 L91.0,702.6 L92.5,703.1 L94.0,703.5 L95.5,703.9 L97.0,704.3 L98.5,704.7 L100.0,705.0 L101.5,705.4 L103.0,705.7 L104.5,706.0 L106.0,706.3 L107.5,706.6 L109.0,706.8 L110.5,707.1 L112.0,707.3 L113.5,707.5 L115.0,707.7 L116.5,707.9 L118.0,708.1 L119.5,708.3 L121.0,708.5 L122.5,708.6 L124.0,708.8 L125.5,708.9 L127.0,709.0 L128.5,709.2 L130.0,709.3 L131.5,709.4 L133.0,709.5 L134.5,709.6 L136.0,709.7 L137.5,709.8 L139.0,709.9 L140.5,710.0 L142.0,710.2 L143.5,710.3 L145.0,710.4 L146.5,710.6 L148.0,710.7 L149.5,710.9 L151.0,711.1 L152.5,711.2 L154.0,711.4 L155.5,711.5 L157.0,711.7 L158.5,711.8 L160.0,712.0 L161.5,712.1 L163.0,712.3 L164.5,712.4 L166.0,712.5 L167.5,712.6 L169.0,712.7 L170.5,712.8 L172.0,712.9 L173.5,713.0 L175.0,713.1 L176.5,713.2 L178.0,713.3 L179.5,713.3 L181.0,713.4 L182.5,713.5 L184.0,713.5 L185.5,713.6 L187.0,713.6 L188.5,713.7 L190.0,713.8 L191.5,713.8 L193.0,713.9 L194.5,713.9 L196.0,714.0 L197.5,714.0 L199.0,714.1 L200.5,714.1 L202.0,714.2 L203.5,714.2 L205.0,714.3 L206.5,714.3 L208.0,714.4 L209.5,714.4 L211.0,714.4 L212.5,714.5 L214.0,714.5 L215.5,714.5 L217.0,714.6 L218.5,714.6 L220.0,714.6 L221.5,714.6 L223.0,714.7 L224.5,714.7 L226.0,714.7 L227.5,714.7 L229.0,714.7 L230.5,714.7 L232.0,714.7 L233.5,714.8 L235.0,714.8 L236.5,714.8 L238.0,714.8 L239.5,714.8 L241.0,714.8 L242.5,714.8 L244.0,714.8 L245.5,714.8 L247.0,714.8 L248.5,714.8 L250.0,714.8 L251.5,714.8 L253.0,714.8 L254.5,714.7 L256.0,714.7 L257.5,714.7 L259.0,714.7 L260.5,714.7 L262.0,714.7 L263.5,714.7 L265.0,714.7 L266.5,714.7 L268.0,714.7 L269.5,714.7 L271.0,714.6 L272.5,714.6 L274.0,714.6 L275.5,714.6 L277.0,714.6 L278.5,714.6 L280.0,714.6 L281.5,714.6 L283.0,714.6 L284.5,714.6 L286.0,714.6 L287.5,714.6 L289.0,714.6 L290.5,714.6 L292.0,714.6 L293.5,714.5 L295.0,714.5 L296.5,714.4 L298.0,714.3 L299.5,714.3 L301.0,714.2 L302.5,714.1 L304.0,714.1 L305.5,714.0 L307.0,713.9 L308.5,713.8 L310.0,713.7 L311.5,713.6 L313.0,713.4 L314.5,713.2 L316.0,713.0 L317.5,712.7 L319.0,712.4 L320.5,712.0 L322.0,711.6 L323.5,711.2 L325.0,710.7 L326.5,710.1 L328.0,709.5 L329.5,708.8 L331.0,708.0 L332.9,706.9 M44.5,741.0 L46.0,739.8 L47.5,739.0 L49.0,738.3 L50.5,737.6 L52.0,736.9 L53.5,736.1 L55.0,735.5 L56.5,735.0 L58.0,734.4 L59.5,734.0 L61.0,733.5 L62.5,733.1 L64.0,732.6 L65.5,732.2 L67.0,731.9 L68.5,731.5 L70.0,731.2 L71.5,730.9 L73.0,730.5 L74.5,730.2 L76.0,729.8 L77.5,729.5 L79.0,729.2 L80.5,728.9 L82.0,728.7 L83.5,728.4 L85.0,728.1 L86.5,727.9 L88.0,727.6 L89.5,727.4 L91.0,727.2 L92.5,727.0 L94.0,726.8 L95.5,726.6 L97.0,726.4 L98.5,726.2 L100.0,726.0 L101.5,725.8 L103.0,725.7 L104.5,725.5 L106.0,725.3 L107.5,725.1 L109.0,724.9 L110.5,724.7 L112.0,724.5 L113.5,724.3 L115.0,724.1 L116.5,723.9 L118.0,723.6 L119.5,723.5 L121.0,723.3 L122.5,723.1 L124.0,722.9 L125.5,722.7 L127.0,722.5 L128.5,722.3 L130.0,722.1 L131.5,721.9 L133.0,721.8 L134.5,721.6 L136.0,721.4 L137.5,721.2 L139.0,721.1 L140.5,721.0 L142.0,720.9 L143.5,720.8 L145.0,720.7 L146.5,720.6 L148.0,720.6 L149.5,720.5 L151.0,720.5 L152.5,720.5 L154.0,720.5 L155.5,720.5 L157.0,720.5 L158.5,720.5 L160.0,720.5 L161.5,720.5 L163.0,720.5 L164.5,720.5 L166.0,720.5 L167.5,720.4 L169.0,720.4 L170.5,720.4 L172.0,720.3 L173.5,720.3 L175.0,720.2 L176.5,720.2 L178.0,720.1 L179.5,720.1 L181.0,720.1 L182.5,720.0 L184.0,720.0 L185.5,720.0 L187.0,719.9 L188.5,719.9 L190.0,719.9 L191.5,719.8 L193.0,719.8 L194.5,719.8 L196.0,719.7 L197.5,719.7 L199.0,719.7 L200.5,719.7 L202.0,719.7 L203.5,719.6 L205.0,719.6 L206.5,719.6 L208.0,719.6 L209.5,719.6 L211.0,719.6 L212.5,719.6 L214.0,719.6 L215.5,719.6 L217.0,719.6 L218.5,719.6 L220.0,719.6 L221.5,719.6 L223.0,719.6 L224.5,719.6 L226.0,719.6 L227.5,719.6 L229.0,719.6 L230.5,719.7 L232.0,719.7 L233.5,719.7 L235.0,719.7 L236.5,719.8 L238.0,719.8 L239.5,719.9 L241.0,719.9 L242.5,720.0 L244.0,720.0 L245.5,720.1 L247.0,720.2 L248.5,720.3 L250.0,720.4 L251.5,720.5 L253.0,720.6 L254.5,720.7 L256.0,720.8 L257.5,720.9 L259.0,721.1 L260.5,721.2 L262.0,721.3 L263.5,721.5 L265.0,721.6 L266.5,721.8 L268.0,721.9 L269.5,722.0 L271.0,722.2 L272.5,722.3 L274.0,722.4 L275.5,722.6 L277.0,722.7 L278.5,722.9 L280.0,723.0 L281.5,723.2 L283.0,723.3 L284.5,723.5 L286.0,723.7 L287.5,723.8 L289.0,724.0 L290.5,724.1 L292.0,724.2 L293.5,724.3 L295.0,724.4 L296.5,724.5 L298.0,724.5 L299.5,724.6 L301.0,724.7 L302.5,724.8 L304.0,724.8 L305.5,724.9 L307.0,725.0 L308.5,725.0 L310.0,725.1 L311.5,725.1 L313.0,725.1 L314.5,725.1 L316.0,725.1 L317.5,725.0 L319.0,724.9 L320.5,724.7 L322.0,724.6 L323.5,724.4 L325.0,724.2 L326.5,723.9 L328.0,723.6 L329.5,723.3 L331.0,722.9 L332.9,722.4" fill="none" stroke="#fc8d62" stroke-width="1.6" stroke-dasharray="5.5 2.4"/>
</g>
<path d="M44.5,585.0 L44.5,784.5 M44.1,784.5 L332.9,784.5" stroke="#000" stroke-width="0.85" fill="none"/>
<text x="37.5" y="788.5" font-size="11.5" text-anchor="end" textLength="23.0" lengthAdjust="spacingAndGlyphs" fill="#000">0.85</text>
<text x="37.5" y="763.7" font-size="11.5" text-anchor="end" textLength="23.0" lengthAdjust="spacingAndGlyphs" fill="#000">0.90</text>
<text x="37.5" y="738.8" font-size="11.5" text-anchor="end" textLength="23.0" lengthAdjust="spacingAndGlyphs" fill="#000">0.95</text>
<text x="37.5" y="713.9" font-size="11.5" text-anchor="end" textLength="23.0" lengthAdjust="spacingAndGlyphs" fill="#000">1.00</text>
<text x="37.5" y="689.0" font-size="11.5" text-anchor="end" textLength="23.0" lengthAdjust="spacingAndGlyphs" fill="#000">1.05</text>
<text x="37.5" y="664.1" font-size="11.5" text-anchor="end" textLength="23.0" lengthAdjust="spacingAndGlyphs" fill="#000">1.10</text>
<text x="37.5" y="639.2" font-size="11.5" text-anchor="end" textLength="23.0" lengthAdjust="spacingAndGlyphs" fill="#000">1.15</text>
<text x="37.5" y="614.3" font-size="11.5" text-anchor="end" textLength="23.0" lengthAdjust="spacingAndGlyphs" fill="#000">1.20</text>
<text x="37.5" y="589.4" font-size="11.5" text-anchor="end" textLength="23.0" lengthAdjust="spacingAndGlyphs" fill="#000">1.25</text>
<path d="M41.0,784.5 L44.5,784.5 M41.0,759.6 L44.5,759.6 M41.0,734.7 L44.5,734.7 M41.0,709.8 L44.5,709.8 M41.0,685.0 L44.5,685.0 M41.0,660.1 L44.5,660.1 M41.0,635.2 L44.5,635.2 M41.0,610.3 L44.5,610.3 M41.0,585.4 L44.5,585.4" stroke="#000" stroke-width="0.85" fill="none"/>
<text x="35.3" y="800.3" font-size="11.5" fill="#000" textLength="12.6" lengthAdjust="spacingAndGlyphs">10</text>
<text x="48.6" y="795.5" font-size="8.6" fill="#000" textLength="4.5" lengthAdjust="spacingAndGlyphs">1</text>
<text x="143.2" y="800.3" font-size="11.5" fill="#000" textLength="12.6" lengthAdjust="spacingAndGlyphs">10</text>
<text x="156.5" y="795.5" font-size="8.6" fill="#000" textLength="4.5" lengthAdjust="spacingAndGlyphs">2</text>
<text x="251.2" y="800.3" font-size="11.5" fill="#000" textLength="12.6" lengthAdjust="spacingAndGlyphs">10</text>
<text x="264.5" y="795.5" font-size="8.6" fill="#000" textLength="4.5" lengthAdjust="spacingAndGlyphs">3</text>
<path d="M44.5,784.5 L44.5,788.0 M152.4,784.5 L152.4,788.0 M260.4,784.5 L260.4,788.0" stroke="#000" stroke-width="0.85" fill="none"/>
<path d="M77.0,784.5 L77.0,786.5 M96.0,784.5 L96.0,786.5 M109.5,784.5 L109.5,786.5 M120.0,784.5 L120.0,786.5 M128.5,784.5 L128.5,786.5 M135.7,784.5 L135.7,786.5 M142.0,784.5 L142.0,786.5 M147.5,784.5 L147.5,786.5 M184.9,784.5 L184.9,786.5 M204.0,784.5 L204.0,786.5 M217.4,784.5 L217.4,786.5 M227.9,784.5 L227.9,786.5 M236.5,784.5 L236.5,786.5 M243.7,784.5 L243.7,786.5 M249.9,784.5 L249.9,786.5 M255.5,784.5 L255.5,786.5 M292.9,784.5 L292.9,786.5 M311.9,784.5 L311.9,786.5 M325.4,784.5 L325.4,786.5" stroke="#000" stroke-width="0.65" fill="none"/>
<text x="163.3" y="814.0" font-size="11.0" fill="#000" textLength="9.6" lengthAdjust="spacingAndGlyphs">m</text>
<text x="173.3" y="815.8" font-size="7.7" fill="#000" textLength="5.0" lengthAdjust="spacingAndGlyphs">X</text>
<text x="181.9" y="814.0" font-size="11.0" fill="#000" textLength="31.0" lengthAdjust="spacingAndGlyphs">(GeV)</text>
<text transform="translate(7.5,685.0) rotate(-90)" font-size="11.0" text-anchor="middle" fill="#000" textLength="142.5" lengthAdjust="spacingAndGlyphs">Ratio to NNPDF4.0 (NNLO)</text>
<path d="M44.5,861.6 L44.5,1061.0 M44.1,1061.0 L332.9,1061.0" stroke="#000" stroke-width="0.85" fill="none"/>
<text x="37.5" y="1065.0" font-size="11.5" text-anchor="end" textLength="23.0" lengthAdjust="spacingAndGlyphs" fill="#000">0.00</text>
<text x="37.5" y="1040.2" font-size="11.5" text-anchor="end" textLength="23.0" lengthAdjust="spacingAndGlyphs" fill="#000">0.01</text>
<text x="37.5" y="1015.3" font-size="11.5" text-anchor="end" textLength="23.0" lengthAdjust="spacingAndGlyphs" fill="#000">0.02</text>
<text x="37.5" y="990.4" font-size="11.5" text-anchor="end" textLength="23.0" lengthAdjust="spacingAndGlyphs" fill="#000">0.03</text>
<text x="37.5" y="965.5" font-size="11.5" text-anchor="end" textLength="23.0" lengthAdjust="spacingAndGlyphs" fill="#000">0.04</text>
<text x="37.5" y="940.7" font-size="11.5" text-anchor="end" textLength="23.0" lengthAdjust="spacingAndGlyphs" fill="#000">0.05</text>
<text x="37.5" y="915.8" font-size="11.5" text-anchor="end" textLength="23.0" lengthAdjust="spacingAndGlyphs" fill="#000">0.06</text>
<text x="37.5" y="890.9" font-size="11.5" text-anchor="end" textLength="23.0" lengthAdjust="spacingAndGlyphs" fill="#000">0.07</text>
<text x="37.5" y="866.0" font-size="11.5" text-anchor="end" textLength="23.0" lengthAdjust="spacingAndGlyphs" fill="#000">0.08</text>
<path d="M41.0,1061.0 L44.5,1061.0 M41.0,1036.1 L44.5,1036.1 M41.0,1011.2 L44.5,1011.2 M41.0,986.4 L44.5,986.4 M41.0,961.5 L44.5,961.5 M41.0,936.6 L44.5,936.6 M41.0,911.8 L44.5,911.8 M41.0,886.9 L44.5,886.9 M41.0,862.0 L44.5,862.0" stroke="#000" stroke-width="0.85" fill="none"/>
<text x="35.3" y="1076.8" font-size="11.5" fill="#000" textLength="12.6" lengthAdjust="spacingAndGlyphs">10</text>
<text x="48.6" y="1072.0" font-size="8.6" fill="#000" textLength="4.5" lengthAdjust="spacingAndGlyphs">1</text>
<text x="143.2" y="1076.8" font-size="11.5" fill="#000" textLength="12.6" lengthAdjust="spacingAndGlyphs">10</text>
<text x="156.5" y="1072.0" font-size="8.6" fill="#000" textLength="4.5" lengthAdjust="spacingAndGlyphs">2</text>
<text x="251.2" y="1076.8" font-size="11.5" fill="#000" textLength="12.6" lengthAdjust="spacingAndGlyphs">10</text>
<text x="264.5" y="1072.0" font-size="8.6" fill="#000" textLength="4.5" lengthAdjust="spacingAndGlyphs">3</text>
<path d="M44.5,1061.0 L44.5,1064.5 M152.4,1061.0 L152.4,1064.5 M260.4,1061.0 L260.4,1064.5" stroke="#000" stroke-width="0.85" fill="none"/>
<path d="M77.0,1061.0 L77.0,1063.0 M96.0,1061.0 L96.0,1063.0 M109.5,1061.0 L109.5,1063.0 M120.0,1061.0 L120.0,1063.0 M128.5,1061.0 L128.5,1063.0 M135.7,1061.0 L135.7,1063.0 M142.0,1061.0 L142.0,1063.0 M147.5,1061.0 L147.5,1063.0 M184.9,1061.0 L184.9,1063.0 M204.0,1061.0 L204.0,1063.0 M217.4,1061.0 L217.4,1063.0 M227.9,1061.0 L227.9,1063.0 M236.5,1061.0 L236.5,1063.0 M243.7,1061.0 L243.7,1063.0 M249.9,1061.0 L249.9,1063.0 M255.5,1061.0 L255.5,1063.0 M292.9,1061.0 L292.9,1063.0 M311.9,1061.0 L311.9,1063.0 M325.4,1061.0 L325.4,1063.0" stroke="#000" stroke-width="0.65" fill="none"/>
<text x="163.3" y="1090.5" font-size="11.0" fill="#000" textLength="9.6" lengthAdjust="spacingAndGlyphs">m</text>
<text x="173.3" y="1092.3" font-size="7.7" fill="#000" textLength="5.0" lengthAdjust="spacingAndGlyphs">X</text>
<text x="181.9" y="1090.5" font-size="11.0" fill="#000" textLength="31.0" lengthAdjust="spacingAndGlyphs">(GeV)</text>
<text transform="translate(7.5,961.5) rotate(-90)" font-size="11.0" text-anchor="middle" fill="#000" textLength="142.5" lengthAdjust="spacingAndGlyphs">Ratio to NNPDF4.0 (NNLO)</text>
<text x="188.7" y="564.5" font-size="13.2" text-anchor="middle" fill="#000" textLength="86.3" lengthAdjust="spacingAndGlyphs">qq luminosity</text>
<path d="M149.6,573.2 l1.7,-0.9 l2.8,6.2 l1.8,-9.5 h11.0" stroke="#000" stroke-width="0.95" fill="none" stroke-linejoin="miter"/>
<text x="158.6" y="578.6" font-size="13.2" fill="#000" textLength="6.4" lengthAdjust="spacingAndGlyphs">s</text>
<text x="170.2" y="578.6" font-size="13.2" fill="#000" textLength="57.6" lengthAdjust="spacingAndGlyphs">= 14 TeV</text>
<text x="188.7" y="840.7" font-size="13.2" text-anchor="middle" fill="#000" textLength="164.5" lengthAdjust="spacingAndGlyphs">qq luminosity uncertainty</text>
<path d="M149.6,849.4 l1.7,-0.9 l2.8,6.2 l1.8,-9.5 h11.0" stroke="#000" stroke-width="0.95" fill="none" stroke-linejoin="miter"/>
<text x="158.6" y="854.8" font-size="13.2" fill="#000" textLength="6.4" lengthAdjust="spacingAndGlyphs">s</text>
<text x="170.2" y="854.8" font-size="13.2" fill="#000" textLength="57.6" lengthAdjust="spacingAndGlyphs">= 14 TeV</text>
<rect x="124.3" y="590.4" width="203.7" height="36.3" rx="2" ry="2" fill="#fff" fill-opacity="0.8" stroke="#ccc" stroke-width="0.85"/>
<rect x="131.0" y="596.4" width="17.0" height="7.0" fill="#66c2a5" fill-opacity="0.5"/>
<rect x="128.7" y="596.2" width="21.6" height="7.4" fill="none" stroke="#66c2a5" stroke-width="1.4" stroke-dasharray="3.0 1.6"/>
<path d="M137.0,602.7 l6.6,-5.7" stroke="#666" stroke-width="0.9"/>
<text x="159.1" y="603.4" font-size="11.0" text-anchor="start" textLength="162.3" lengthAdjust="spacingAndGlyphs" fill="#000">NNPDF4.0 (NNLO) (68 c.l.+1σ)</text>
<rect x="131.0" y="612.7" width="17.0" height="7.0" fill="#fc8d62" fill-opacity="0.5"/>
<rect x="128.7" y="612.5" width="21.6" height="7.4" fill="none" stroke="#fc8d62" stroke-width="1.4" stroke-dasharray="3.0 1.6"/>
<text x="159.1" y="619.7" font-size="11.0" text-anchor="start" textLength="162.3" lengthAdjust="spacingAndGlyphs" fill="#000">NNPDF3.1 (NNLO) (68 c.l.+1σ)</text>
<rect x="192.7" y="867.5" width="134.7" height="34.8" rx="2" ry="2" fill="#fff" fill-opacity="0.8" stroke="#ccc" stroke-width="0.85"/>
<path d="M196.1,876.5 h22.5" stroke="#66c2a5" stroke-width="1.5" fill="none"/>
<text x="227.0" y="880.4" font-size="11.0" text-anchor="start" textLength="96.0" lengthAdjust="spacingAndGlyphs" fill="#000">NNPDF4.0 (NNLO)</text>
<path d="M196.1,892.9 h22.5" stroke="#fc8d62" stroke-width="1.5" fill="none"/>
<text x="227.0" y="896.8" font-size="11.0" text-anchor="start" textLength="96.0" lengthAdjust="spacingAndGlyphs" fill="#000">NNPDF3.1 (NNLO)</text>
<g clip-path="url(#cp31)" fill="none" stroke-width="1.65" stroke-linejoin="round">
<path d="M394.6,996.0 L395.8,997.0 L396.9,998.0 L398.0,999.0 L399.1,999.9 L400.3,1000.9 L401.4,1001.9 L402.6,1002.9 L403.7,1003.8 L404.9,1004.8 L406.0,1005.7 L407.2,1006.7 L408.4,1007.6 L409.6,1008.5 L410.8,1009.4 L412.0,1010.3 L413.1,1011.2 L414.3,1012.1 L415.5,1013.0 L416.8,1013.9 L418.0,1014.8 L419.2,1015.7 L420.4,1016.6 L421.6,1017.5 L422.8,1018.4 L424.0,1019.2 L425.3,1020.1 L426.5,1020.9 L427.7,1021.8 L429.0,1022.6 L430.3,1023.4 L431.5,1024.2 L432.8,1025.0 L434.1,1025.8 L435.4,1026.6 L436.7,1027.3 L438.0,1028.1 L439.3,1028.8 L440.6,1029.5 L441.9,1030.2 L443.2,1030.9 L444.6,1031.6 L445.9,1032.2 L447.3,1032.9 L448.6,1033.5 L450.0,1034.1 L451.4,1034.8 L452.7,1035.4 L454.1,1036.0 L455.4,1036.6 L456.8,1037.3 L458.2,1037.9 L459.5,1038.5 L460.9,1039.1 L462.3,1039.7 L463.7,1040.3 L465.1,1040.8 L466.5,1041.4 L467.9,1041.9 L469.3,1042.4 L470.7,1042.9 L472.1,1043.3 L473.5,1043.8 L475.0,1044.3 L476.4,1044.7 L477.8,1045.1 L479.3,1045.5 L480.7,1045.9 L482.2,1046.2 L483.7,1046.6 L485.1,1046.9 L486.6,1047.2 L488.1,1047.5 L489.5,1047.8 L491.0,1048.2 L492.5,1048.5 L493.9,1048.8 L495.4,1049.1 L496.9,1049.4 L498.3,1049.7 L499.8,1050.0 L501.3,1050.3 L502.7,1050.6 L504.2,1050.8 L505.7,1051.1 L507.2,1051.3 L508.7,1051.5 L510.1,1051.7 L511.6,1051.9 L513.1,1052.1 L514.6,1052.2 L516.1,1052.3 L517.6,1052.4 L519.1,1052.5 L520.6,1052.6 L522.1,1052.7 L523.6,1052.7 L525.1,1052.7 L526.6,1052.7 L528.1,1052.8 L529.6,1052.8 L531.1,1052.7 L532.6,1052.7 L534.1,1052.7 L535.6,1052.6 L537.1,1052.5 L538.6,1052.4 L540.1,1052.3 L541.6,1052.2 L543.1,1052.0 L544.6,1051.9 L546.0,1051.7 L547.5,1051.5 L549.0,1051.2 L550.5,1051.0 L552.0,1050.7 L553.4,1050.4 L554.9,1050.1 L556.4,1049.8 L557.8,1049.5 L559.3,1049.2 L560.7,1048.8 L562.2,1048.4 L563.6,1048.0 L565.1,1047.6 L566.5,1047.2 L568.0,1046.8 L569.4,1046.4 L570.8,1045.9 L572.3,1045.5 L573.7,1045.0 L575.1,1044.5 L576.5,1044.1 L578.0,1043.6 L579.4,1043.1 L580.8,1042.6 L582.2,1042.1 L583.6,1041.7 L585.1,1041.2 L586.5,1040.7 L587.9,1040.2 L589.3,1039.7 L590.7,1039.2 L592.1,1038.6 L593.5,1038.1 L594.9,1037.5 L596.2,1036.8 L597.6,1036.2 L598.9,1035.6 L600.3,1034.9 L601.6,1034.2 L602.9,1033.5 L604.3,1032.8 L605.6,1032.1 L606.9,1031.4 L608.2,1030.6 L609.5,1029.9 L610.8,1029.2 L612.1,1028.4 L613.4,1027.7 L614.7,1026.9 L616.0,1026.2 L617.3,1025.4 L618.6,1024.6 L619.9,1023.9 L621.2,1023.1 L622.4,1022.3 L623.7,1021.5 L624.9,1020.6 L626.2,1019.8 L627.4,1019.0 L628.7,1018.1 L629.9,1017.3 L631.1,1016.4 L632.3,1015.5 L633.5,1014.6 L634.7,1013.7 L635.9,1012.7 L637.0,1011.8 L638.2,1010.8 L639.3,1009.8 L640.4,1008.8 L641.5,1007.8 L642.5,1006.7 L643.6,1005.6 L644.6,1004.5 L645.5,1003.4 L646.5,1002.2 L647.4,1001.0 L648.3,999.8 L649.1,998.6 L649.9,997.3 L650.7,996.1 L651.4,994.8 L652.1,993.4 L652.8,992.1 L653.5,990.8 L654.1,989.4 L654.7,988.0 L655.2,986.6 L655.8,985.2 L656.3,983.8 L656.8,982.4 L657.4,981.0 L657.8,979.6 L658.3,978.2 L658.8,976.8 L659.2,975.3 L659.6,973.9 L660.0,972.4 L660.3,971.0 L660.7,969.5 L661.0,968.1 L661.4,966.6 L661.7,965.1 L662.1,963.7 L662.5,962.2 L662.9,960.8 L663.2,959.3 L663.6,957.9 L663.9,956.4 L664.3,955.0 L664.6,953.5 L664.9,952.0 L665.2,950.5 L665.4,949.1 L665.7,947.6 L666.0,946.1 L666.2,944.6 L666.5,943.2 L666.7,941.7 L666.9,940.2 L667.1,938.7 L667.4,937.2 L667.6,935.7 L667.8,934.3 L668.0,932.8 L668.2,931.3 L668.4,929.8 L668.6,928.3 L668.8,926.8 L669.0,925.3 L669.2,923.9 L669.4,922.4 L669.6,920.9 L669.7,919.4 L669.9,917.9 L670.1,916.4 L670.3,914.9 L670.4,913.4 L670.6,911.9 L670.7,910.4 L670.9,909.0 L671.1,907.5 L671.3,906.0 L671.4,904.5 L671.6,903.0 L671.8,901.5 L672.0,900.0 L672.2,898.5 L672.4,897.0 L672.5,895.6 L672.7,894.1 L672.8,892.6 L673.0,891.1 L673.1,889.6 L673.2,888.1 L673.4,886.6 L673.5,885.1 L673.6,883.6 L673.7,882.1 L673.8,880.6 L674.0,879.1 L674.1,877.6 L674.2,876.1 L674.3,874.6 L674.4,873.1 L674.6,871.6 L674.7,870.1 L674.8,868.6 L674.9,867.2 L675.0,865.7 L675.1,864.2 L675.2,862.7 L675.3,861.2 L675.5,859.7 L675.6,858.2 L675.7,856.7 L675.8,855.2 L675.9,853.7 L676.0,852.2 L676.1,850.7 L676.2,849.2 L676.3,847.7 L676.4,846.2 L676.5,844.7 L676.6,843.2 L676.7,841.7 L676.8,840.2 L676.9,838.7 L677.0,837.2 L677.1,835.7 L677.2,834.2 L677.3,832.7 L677.4,831.2 L677.5,829.7 L677.6,828.2 L677.7,826.8 L677.8,825.3 L677.9,823.8 L678.0,822.3 L678.1,820.8 L678.2,819.3 L678.3,817.8 L678.4,816.3 L678.5,814.8 L678.6,813.3 L678.7,811.8 L678.8,810.3 L678.8,808.8 L678.9,807.3 L679.0,805.8 L679.1,804.3 L679.2,802.8 L679.3,801.3 L679.4,799.8 L679.5,798.3 L679.6,796.8 L679.7,795.3 L679.8,793.8 L679.9,792.3 L680.0,790.8 L680.1,789.3 L680.2,787.8 L680.3,786.3 L680.4,784.8 L680.5,783.3 L680.6,781.8 L680.7,780.3 L680.7,778.8 L680.8,777.4 L680.9,775.9 L681.0,774.4 L681.1,772.9 L681.2,771.4 L681.3,769.9 L681.4,768.4 L681.5,766.9 L681.6,765.4 L681.8,763.9 L681.9,762.4 L682.0,760.9 L682.1,759.4 L682.2,757.9 L682.3,756.4 L682.4,754.9 L682.5,753.4 L682.6,751.9 L682.7,750.4 L682.8,748.9 L682.9,747.4 L683.0,745.9 L683.1,744.4 L683.2,742.9 L683.3,741.4 L683.4,739.9 L683.5,738.4 L683.6,736.9 L683.7,735.5 L683.8,734.0 L683.9,732.5 L684.0,731.0 L684.2,729.5 L684.3,728.0 L684.4,726.5 L684.5,725.0 L684.6,723.5 L684.7,722.0 L684.8,720.5 L684.9,719.0 L685.0,717.5 L685.1,716.0 L685.2,714.5 L685.4,713.0 L685.5,711.5 L685.6,710.0 L685.7,708.5 L685.8,707.0 L685.9,705.5" stroke="#66c2a5"/>
<path d="M394.8,848.6 L395.0,850.1 L395.2,851.6 L395.4,853.1 L395.6,854.6 L395.8,856.0 L396.1,857.5 L396.3,859.0 L396.5,860.5 L396.7,862.0 L396.9,863.5 L397.1,865.0 L397.3,866.4 L397.6,867.9 L397.8,869.4 L398.0,870.9 L398.3,872.4 L398.5,873.8 L398.8,875.3 L399.0,876.8 L399.3,878.3 L399.6,879.8 L399.8,881.2 L400.1,882.7 L400.4,884.2 L400.7,885.6 L401.0,887.1 L401.3,888.6 L401.6,890.1 L401.9,891.5 L402.1,893.0 L402.4,894.5 L402.7,895.9 L403.0,897.4 L403.3,898.9 L403.6,900.4 L403.9,901.8 L404.2,903.3 L404.5,904.8 L404.8,906.2 L405.1,907.7 L405.4,909.2 L405.8,910.6 L406.1,912.1 L406.4,913.6 L406.8,915.0 L407.1,916.5 L407.5,917.9 L407.8,919.4 L408.2,920.8 L408.6,922.3 L408.9,923.8 L409.3,925.2 L409.6,926.7 L410.0,928.1 L410.4,929.6 L410.7,931.0 L411.1,932.5 L411.5,933.9 L411.8,935.4 L412.2,936.8 L412.6,938.3 L413.0,939.7 L413.4,941.2 L413.9,942.6 L414.3,944.1 L414.7,945.5 L415.2,946.9 L415.6,948.4 L416.1,949.8 L416.5,951.2 L417.0,952.6 L417.5,954.1 L417.9,955.5 L418.4,956.9 L418.9,958.3 L419.3,959.8 L419.8,961.2 L420.2,962.6 L420.7,964.0 L421.2,965.5 L421.7,966.9 L422.2,968.3 L422.7,969.7 L423.2,971.1 L423.8,972.5 L424.3,973.9 L424.9,975.3 L425.5,976.7 L426.0,978.1 L426.6,979.4 L427.3,980.8 L427.9,982.2 L428.5,983.5 L429.1,984.9 L429.8,986.2 L430.5,987.6 L431.1,988.9 L431.8,990.2 L432.5,991.6 L433.3,992.9 L434.0,994.2 L434.7,995.5 L435.5,996.8 L436.3,998.1 L437.1,999.3 L437.9,1000.6 L438.8,1001.8 L439.6,1003.0 L440.5,1004.3 L441.4,1005.5 L442.3,1006.6 L443.2,1007.8 L444.2,1009.0 L445.1,1010.1 L446.1,1011.3 L447.1,1012.4 L448.1,1013.5 L449.2,1014.6 L450.2,1015.6 L451.3,1016.7 L452.4,1017.7 L453.5,1018.7 L454.6,1019.7 L455.7,1020.7 L456.9,1021.7 L458.0,1022.7 L459.2,1023.6 L460.4,1024.5 L461.6,1025.4 L462.8,1026.3 L464.0,1027.1 L465.3,1028.0 L466.5,1028.8 L467.8,1029.6 L469.0,1030.4 L470.3,1031.2 L471.6,1032.0 L472.9,1032.7 L474.2,1033.5 L475.5,1034.2 L476.8,1034.9 L478.1,1035.6 L479.5,1036.3 L480.8,1036.9 L482.2,1037.6 L483.6,1038.2 L484.9,1038.8 L486.3,1039.4 L487.7,1039.9 L489.1,1040.5 L490.5,1041.0 L491.9,1041.5 L493.3,1042.0 L494.7,1042.5 L496.2,1043.0 L497.6,1043.4 L499.0,1043.8 L500.5,1044.2 L501.9,1044.5 L503.4,1044.8 L504.9,1045.1 L506.4,1045.3 L507.8,1045.5 L509.3,1045.7 L510.8,1045.8 L512.3,1045.9 L513.8,1045.9 L515.3,1045.9 L516.8,1045.9 L518.3,1045.9 L519.8,1045.8 L521.3,1045.6 L522.8,1045.5 L524.3,1045.3 L525.7,1045.1 L527.2,1044.9 L528.7,1044.6 L530.2,1044.4 L531.6,1044.1 L533.1,1043.7 L534.6,1043.4 L536.0,1043.1 L537.5,1042.7 L538.9,1042.3 L540.4,1041.9 L541.8,1041.5 L543.2,1041.0 L544.6,1040.5 L546.1,1040.0 L547.5,1039.5 L548.9,1039.0 L550.3,1038.4 L551.6,1037.8 L553.0,1037.2 L554.4,1036.6 L555.7,1036.0 L557.1,1035.3 L558.4,1034.7 L559.8,1034.0 L561.1,1033.3 L562.5,1032.7 L563.8,1032.0 L565.1,1031.3 L566.4,1030.6 L567.8,1029.8 L569.1,1029.1 L570.4,1028.4 L571.7,1027.6 L573.0,1026.9 L574.3,1026.1 L575.6,1025.4 L576.9,1024.6 L578.2,1023.9 L579.5,1023.2 L580.8,1022.4 L582.1,1021.7 L583.4,1021.0 L584.8,1020.3 L586.1,1019.6 L587.4,1019.0 L588.8,1018.3 L590.1,1017.6 L591.4,1016.9 L592.7,1016.2 L594.0,1015.4 L595.3,1014.6 L596.6,1013.8 L597.8,1013.0 L599.1,1012.2 L600.3,1011.4 L601.6,1010.5 L602.8,1009.7 L604.0,1008.8 L605.3,1007.9 L606.5,1007.1 L607.7,1006.2 L609.0,1005.4 L610.2,1004.5 L611.4,1003.6 L612.6,1002.8 L613.9,1001.9 L615.1,1001.1 L616.3,1000.2 L617.6,999.4 L618.8,998.5 L620.0,997.6 L621.2,996.8 L622.5,995.9 L623.7,995.1 L624.9,994.2 L626.2,993.3 L627.4,992.5 L628.6,991.6 L629.9,990.8 L631.1,989.9 L632.3,989.0 L633.5,988.2 L634.7,987.3 L635.9,986.4 L637.1,985.4 L638.2,984.5 L639.3,983.5 L640.4,982.4 L641.4,981.3 L642.4,980.2 L643.3,979.0 L644.1,977.8 L644.9,976.6 L645.7,975.3 L646.4,974.0 L647.0,972.6 L647.6,971.3 L648.2,969.9 L648.7,968.5 L649.2,967.1 L649.7,965.6 L650.1,964.2 L650.6,962.8 L651.0,961.3 L651.4,959.9 L651.8,958.5 L652.2,957.0 L652.6,955.6 L653.0,954.1 L653.4,952.7 L653.8,951.2 L654.1,949.8 L654.4,948.3 L654.7,946.8 L655.0,945.4 L655.3,943.9 L655.5,942.4 L655.7,940.9 L656.0,939.4 L656.2,937.9 L656.3,936.5 L656.5,935.0 L656.7,933.5 L656.9,932.0 L657.1,930.5 L657.3,929.0 L657.4,927.5 L657.6,926.0 L657.8,924.5 L658.0,923.1 L658.2,921.6 L658.3,920.1 L658.5,918.6 L658.7,917.1 L658.8,915.6 L659.0,914.1 L659.2,912.6 L659.4,911.1 L659.5,909.6 L659.7,908.2 L659.9,906.7 L660.0,905.2 L660.2,903.7 L660.4,902.2 L660.6,900.7 L660.7,899.2 L660.9,897.7 L661.0,896.2 L661.2,894.7 L661.3,893.2 L661.4,891.8 L661.5,890.3 L661.6,888.8 L661.7,887.3 L661.8,885.8 L661.9,884.3 L662.0,882.8 L662.1,881.3 L662.2,879.8 L662.3,878.3 L662.4,876.8 L662.5,875.3 L662.5,873.8 L662.6,872.3 L662.7,870.8 L662.8,869.3 L662.9,867.8 L663.0,866.3 L663.0,864.8 L663.1,863.3 L663.2,861.8 L663.3,860.3 L663.3,858.8 L663.4,857.3 L663.5,855.8 L663.6,854.3 L663.6,852.8 L663.7,851.3 L663.8,849.8 L663.8,848.3 L663.9,846.8 L663.9,845.3 L664.0,843.8 L664.1,842.3 L664.1,840.8 L664.2,839.3 L664.3,837.8 L664.3,836.3 L664.4,834.8 L664.4,833.3 L664.5,831.8 L664.6,830.3 L664.6,828.8 L664.7,827.3 L664.8,825.8 L664.8,824.3 L664.9,822.8 L664.9,821.3 L665.0,819.8 L665.1,818.3 L665.1,816.8 L665.2,815.3 L665.3,813.9 L665.3,812.4 L665.4,810.9 L665.5,809.4 L665.5,807.9 L665.6,806.4 L665.6,804.9 L665.7,803.4 L665.8,801.9 L665.8,800.4 L665.9,798.9 L666.0,797.4 L666.0,795.9 L666.1,794.4 L666.2,792.9 L666.2,791.4 L666.3,789.9 L666.3,788.4 L666.4,786.9 L666.5,785.4 L666.5,783.9 L666.6,782.4 L666.7,780.9 L666.7,779.4 L666.8,777.9 L666.8,776.4 L666.9,774.9 L667.0,773.4 L667.0,771.9 L667.1,770.4 L667.2,768.9 L667.2,767.4 L667.3,765.9 L667.4,764.4 L667.4,762.9 L667.5,761.4 L667.5,759.9 L667.6,758.4 L667.7,756.9 L667.7,755.4 L667.8,753.9 L667.9,752.4 L667.9,750.9 L668.0,749.4 L668.0,747.9 L668.1,746.4 L668.2,744.9 L668.2,743.4 L668.3,741.9 L668.4,740.4 L668.4,738.9 L668.5,737.4 L668.5,735.9 L668.6,734.4 L668.7,732.9 L668.7,731.4 L668.8,729.9 L668.8,728.4 L668.9,726.9 L669.0,725.4 L669.0,723.9 L669.1,722.4 L669.2,720.9 L669.2,719.4 L669.3,717.9 L669.3,716.4 L669.4,714.9 L669.5,713.4 L669.5,711.9 L669.6,710.4 L669.6,708.9 L669.7,707.4 L669.8,705.9 L669.8,704.4 L669.9,702.9 L669.9,701.4 L670.0,699.9 L670.1,698.5 L670.1,697.0 L670.2,695.5 L670.2,694.0 L670.3,692.5 L670.4,691.0 L670.4,689.5 L670.5,688.0 L670.5,686.5 L670.6,685.0 L670.7,683.5 L670.7,682.0 L670.8,680.5 L670.8,679.0 L670.9,677.5 L671.0,676.0 L671.0,674.5 L671.1,673.0 L671.1,671.5 L671.2,670.0 L671.3,668.5 L671.3,667.0 L671.4,665.5 L671.4,664.0 L671.5,662.5 L671.6,661.0 L671.6,659.5 L671.7,658.0 L671.7,656.5 L671.8,655.0 L671.9,653.5 L671.9,652.0 L672.0,650.5 L672.0,649.0 L672.1,647.5 L672.1,646.0 L672.2,644.5 L672.3,643.0 L672.3,641.5 L672.4,640.0 L672.4,638.5 L672.5,637.0 L672.6,635.5 L672.6,634.0 L672.7,632.5 L672.7,631.0 L672.8,629.5 L672.9,628.0 L672.9,626.5 L673.0,625.0 L673.0,623.5 L673.1,622.0 L673.1,620.5 L673.2,619.0 L673.3,617.5 L673.3,616.0 L673.4,614.5 L673.4,613.0 L673.5,611.5 L673.6,610.0 L673.6,608.5 L673.7,607.0 L673.7,605.5 L673.8,604.0 L673.9,602.5 L673.9,601.0 L674.0,599.5 L674.0,598.0 L674.1,596.5 L674.1,595.0 L674.2,593.5 L674.3,592.0 L674.3,590.5 L674.4,589.0 L674.4,587.5 L674.5,586.0 L674.6,584.5 L674.6,583.0 L674.7,581.5 L674.7,580.0 L674.8,578.5 L674.8,577.0 L674.9,575.5 L675.0,574.0 L675.0,572.5 L675.1,571.0 L675.1,569.5 L675.2,568.1 L675.2,566.6 L675.3,565.1 L675.4,563.6 L675.4,562.1 L675.5,560.6 L675.5,559.1 L675.6,557.6 L675.7,556.1 L675.7,554.6 L675.8,553.1 L675.8,551.6 L675.9,550.1 L675.9,548.6 L676.0,547.1 L676.1,545.6 L676.1,544.1 L676.2,542.6 L676.2,541.1 L676.3,539.6 L676.3,538.1 L676.4,536.6 L676.5,535.1 L676.5,533.6 L676.6,532.1 L676.6,530.6 L676.7,529.1 L676.7,527.6 L676.8,526.1 L676.9,524.6 L676.9,523.1 L677.0,521.6 L677.0,520.1 L677.1,518.6 L677.1,517.1 L677.2,515.6 L677.3,514.1 L677.3,512.6 L677.4,511.1 L677.4,509.6 L677.5,508.1 L677.5,506.6 L677.6,505.1 L677.7,503.6 L677.7,502.1 L677.8,500.6 L677.8,499.1 L677.9,497.6 L677.9,496.1 L678.0,494.6 L678.1,493.1 L678.1,491.6 L678.2,490.1 L678.2,488.6 L678.3,487.1 L678.3,485.6 L678.4,484.1 L678.4,482.6 L678.5,481.1 L678.6,479.6 L678.6,478.1 L678.7,476.6 L678.7,475.1 L678.8,473.6 L678.8,472.1 L678.9,470.6 L679.0,469.1 L679.0,467.6 L679.1,466.1 L679.1,464.6 L679.2,463.1 L679.2,461.6 L679.3,460.1 L679.3,458.6 L679.4,457.1 L679.5,455.6 L679.5,454.1 L679.6,452.6 L679.6,451.1 L679.7,449.6 L679.7,448.1 L679.8,446.6 L679.8,445.1 L679.9,443.6 L680.0,442.1 L680.0,440.6 L680.1,439.1 L680.1,437.6 L680.2,436.1 L680.2,434.6 L680.3,433.1 L680.3,431.6 L680.4,430.1 L680.5,428.7 L680.5,427.2 L680.6,425.7 L680.6,424.2 L680.7,422.7 L680.7,421.2 L680.8,419.7 L680.8,418.2 L680.9,416.7 L681.0,415.2 L681.0,413.7 L681.1,412.2 L681.1,410.7 L681.2,409.2 L681.2,407.7 L681.3,406.2 L681.3,404.7 L681.4,403.2 L681.4,401.7 L681.5,400.2 L681.6,398.7 L681.6,397.2 L681.7,395.7 L681.7,394.2 L681.8,392.7 L681.8,391.2 L681.9,389.7 L681.9,388.2 L682.0,386.7 L682.0,385.2 L682.1,383.7 L682.2,382.2 L682.2,380.7 L682.3,379.2 L682.3,377.7 L682.4,376.2 L682.4,374.7 L682.5,373.2 L682.5,371.7 L682.6,370.2 L682.6,368.7 L682.7,367.2 L682.8,365.7 L682.8,364.2 L682.9,362.7 L682.9,361.2 L683.0,359.7 L683.0,358.2 L683.1,356.7 L683.1,355.2 L683.2,353.7 L683.2,352.2 L683.3,350.7 L683.3,349.2 L683.4,347.7 L683.5,346.2 L683.5,344.7 L683.6,343.2 L683.6,341.7 L683.7,340.2 L683.7,338.7 L683.8,337.2 L683.8,335.7 L683.9,334.2 L683.9,332.7 L684.0,331.2 L684.0,329.7 L684.1,328.2 L684.2,326.7 L684.2,325.2 L684.3,323.7 L684.3,322.2 L684.4,320.7 L684.4,319.2 L684.5,317.7 L684.5,316.2 L684.6,314.7 L684.6,313.2 L684.7,311.7 L684.7,310.2 L684.8,308.7 L684.8,307.2 L684.9,305.7 L685.0,304.2 L685.0,302.7 L685.1,301.2 L685.1,299.7 L685.2,298.2 L685.2,296.7 L685.3,295.2 L685.3,293.7 L685.4,292.2 L685.4,290.7 L685.5,289.2" stroke="#fc8d62"/>
</g>
<g clip-path="url(#cp21)" stroke-linejoin="round">
<path d="M396.5,697.2 L398.0,697.4 L399.5,697.7 L401.0,697.9 L402.5,698.2 L404.0,698.4 L405.5,698.7 L407.0,698.9 L408.5,699.2 L410.0,699.4 L411.5,699.6 L413.0,699.9 L414.5,700.1 L416.0,700.3 L417.5,700.5 L419.0,700.8 L420.5,701.0 L422.0,701.2 L423.5,701.4 L425.0,701.6 L426.5,701.8 L428.0,702.0 L429.5,702.2 L431.0,702.4 L432.5,702.6 L434.0,702.8 L435.5,703.0 L437.0,703.1 L438.5,703.3 L440.0,703.5 L441.5,703.6 L443.0,703.8 L444.5,703.9 L446.0,704.1 L447.5,704.2 L449.0,704.4 L450.5,704.5 L452.0,704.6 L453.5,704.8 L455.0,704.9 L456.5,705.1 L458.0,705.2 L459.5,705.3 L461.0,705.5 L462.5,705.6 L464.0,705.7 L465.5,705.8 L467.0,705.9 L468.5,706.1 L470.0,706.2 L471.5,706.3 L473.0,706.4 L474.5,706.5 L476.0,706.6 L477.5,706.6 L479.0,706.7 L480.5,706.8 L482.0,706.9 L483.5,706.9 L485.0,707.0 L486.5,707.1 L488.0,707.1 L489.5,707.2 L491.0,707.3 L492.5,707.3 L494.0,707.4 L495.5,707.5 L497.0,707.5 L498.5,707.6 L500.0,707.7 L501.5,707.7 L503.0,707.8 L504.5,707.8 L506.0,707.9 L507.5,707.9 L509.0,708.0 L510.5,708.0 L512.0,708.0 L513.5,708.1 L515.0,708.1 L516.5,708.1 L518.0,708.1 L519.5,708.1 L521.0,708.2 L522.5,708.2 L524.0,708.2 L525.5,708.2 L527.0,708.2 L528.5,708.2 L530.0,708.2 L531.5,708.2 L533.0,708.2 L534.5,708.2 L536.0,708.2 L537.5,708.1 L539.0,708.1 L540.5,708.1 L542.0,708.1 L543.5,708.0 L545.0,708.0 L546.5,708.0 L548.0,707.9 L549.5,707.9 L551.0,707.8 L552.5,707.8 L554.0,707.7 L555.5,707.6 L557.0,707.6 L558.5,707.5 L560.0,707.4 L561.5,707.4 L563.0,707.3 L564.5,707.2 L566.0,707.1 L567.5,707.0 L569.0,706.9 L570.5,706.8 L572.0,706.7 L573.5,706.6 L575.0,706.6 L576.5,706.5 L578.0,706.3 L579.5,706.2 L581.0,706.1 L582.5,706.0 L584.0,705.9 L585.5,705.8 L587.0,705.7 L588.5,705.6 L590.0,705.5 L591.5,705.4 L593.0,705.3 L594.5,705.2 L596.0,705.0 L597.5,704.9 L599.0,704.7 L600.5,704.6 L602.0,704.4 L603.5,704.3 L605.0,704.1 L606.5,704.0 L608.0,703.8 L609.5,703.6 L611.0,703.5 L612.5,703.3 L614.0,703.1 L615.5,702.9 L617.0,702.8 L618.5,702.6 L620.0,702.4 L621.5,702.2 L623.0,702.0 L624.5,701.8 L626.0,701.6 L627.5,701.4 L629.0,701.2 L630.5,701.0 L632.0,700.8 L633.5,700.6 L635.0,700.3 L636.5,700.1 L638.0,699.8 L639.5,699.6 L641.0,699.3 L642.5,699.0 L644.0,698.7 L645.5,698.3 L647.0,698.0 L648.5,697.5 L650.0,697.1 L651.5,696.6 L653.0,696.0 L654.5,695.3 L656.0,694.6 L657.5,693.8 L659.0,692.8 L660.5,691.7 L662.0,690.5 L663.5,689.3 L665.0,687.9 L666.5,686.2 L668.0,684.2 L669.5,681.9 L671.0,679.3 L672.5,676.8 L674.0,673.4 L675.5,669.4 L677.0,665.1 L678.5,660.5 L680.0,655.7 L681.5,651.2 L684.1,643.7 L684.1,776.0 L681.5,768.5 L680.0,763.9 L678.5,759.2 L677.0,754.6 L675.5,750.2 L674.0,746.3 L672.5,742.9 L671.0,740.4 L669.5,737.8 L668.0,735.5 L666.5,733.5 L665.0,731.8 L663.5,730.4 L662.0,729.2 L660.5,728.0 L659.0,726.9 L657.5,725.9 L656.0,725.1 L654.5,724.4 L653.0,723.7 L651.5,723.1 L650.0,722.6 L648.5,722.1 L647.0,721.7 L645.5,721.3 L644.0,721.0 L642.5,720.7 L641.0,720.4 L639.5,720.1 L638.0,719.8 L636.5,719.6 L635.0,719.3 L633.5,719.1 L632.0,718.9 L630.5,718.7 L629.0,718.5 L627.5,718.3 L626.0,718.1 L624.5,717.9 L623.0,717.7 L621.5,717.5 L620.0,717.3 L618.5,717.1 L617.0,716.9 L615.5,716.7 L614.0,716.6 L612.5,716.4 L611.0,716.2 L609.5,716.1 L608.0,715.9 L606.5,715.7 L605.0,715.6 L603.5,715.4 L602.0,715.2 L600.5,715.1 L599.0,714.9 L597.5,714.8 L596.0,714.6 L594.5,714.5 L593.0,714.4 L591.5,714.3 L590.0,714.1 L588.5,714.0 L587.0,713.9 L585.5,713.8 L584.0,713.7 L582.5,713.6 L581.0,713.5 L579.5,713.4 L578.0,713.3 L576.5,713.2 L575.0,713.1 L573.5,713.0 L572.0,712.9 L570.5,712.8 L569.0,712.7 L567.5,712.7 L566.0,712.6 L564.5,712.5 L563.0,712.4 L561.5,712.3 L560.0,712.2 L558.5,712.2 L557.0,712.1 L555.5,712.0 L554.0,712.0 L552.5,711.9 L551.0,711.9 L549.5,711.8 L548.0,711.8 L546.5,711.7 L545.0,711.7 L543.5,711.6 L542.0,711.6 L540.5,711.6 L539.0,711.6 L537.5,711.5 L536.0,711.5 L534.5,711.5 L533.0,711.5 L531.5,711.5 L530.0,711.5 L528.5,711.5 L527.0,711.5 L525.5,711.5 L524.0,711.5 L522.5,711.5 L521.0,711.5 L519.5,711.5 L518.0,711.5 L516.5,711.6 L515.0,711.6 L513.5,711.6 L512.0,711.7 L510.5,711.7 L509.0,711.7 L507.5,711.8 L506.0,711.8 L504.5,711.9 L503.0,711.9 L501.5,712.0 L500.0,712.0 L498.5,712.1 L497.0,712.1 L495.5,712.2 L494.0,712.3 L492.5,712.3 L491.0,712.4 L489.5,712.5 L488.0,712.5 L486.5,712.6 L485.0,712.7 L483.5,712.7 L482.0,712.8 L480.5,712.9 L479.0,713.0 L477.5,713.0 L476.0,713.1 L474.5,713.2 L473.0,713.3 L471.5,713.4 L470.0,713.5 L468.5,713.6 L467.0,713.7 L465.5,713.8 L464.0,714.0 L462.5,714.1 L461.0,714.2 L459.5,714.3 L458.0,714.5 L456.5,714.6 L455.0,714.8 L453.5,714.9 L452.0,715.0 L450.5,715.2 L449.0,715.3 L447.5,715.4 L446.0,715.6 L444.5,715.7 L443.0,715.9 L441.5,716.0 L440.0,716.2 L438.5,716.4 L437.0,716.5 L435.5,716.7 L434.0,716.9 L432.5,717.1 L431.0,717.3 L429.5,717.5 L428.0,717.7 L426.5,717.9 L425.0,718.1 L423.5,718.3 L422.0,718.5 L420.5,718.7 L419.0,718.9 L417.5,719.1 L416.0,719.4 L414.5,719.6 L413.0,719.8 L411.5,720.0 L410.0,720.3 L408.5,720.5 L407.0,720.7 L405.5,721.0 L404.0,721.2 L402.5,721.5 L401.0,721.7 L399.5,722.0 L398.0,722.2 L396.5,722.5Z" fill="#66c2a5" fill-opacity="0.5" stroke="none"/>
<path d="M396.5,697.2 L398.0,697.4 L399.5,697.7 L401.0,697.9 L402.5,698.2 L404.0,698.4 L405.5,698.7 L407.0,698.9 L408.5,699.2 L410.0,699.4 L411.5,699.6 L413.0,699.9 L414.5,700.1 L416.0,700.3 L417.5,700.5 L419.0,700.8 L420.5,701.0 L422.0,701.2 L423.5,701.4 L425.0,701.6 L426.5,701.8 L428.0,702.0 L429.5,702.2 L431.0,702.4 L432.5,702.6 L434.0,702.8 L435.5,703.0 L437.0,703.1 L438.5,703.3 L440.0,703.5 L441.5,703.6 L443.0,703.8 L444.5,703.9 L446.0,704.1 L447.5,704.2 L449.0,704.4 L450.5,704.5 L452.0,704.6 L453.5,704.8 L455.0,704.9 L456.5,705.1 L458.0,705.2 L459.5,705.3 L461.0,705.5 L462.5,705.6 L464.0,705.7 L465.5,705.8 L467.0,705.9 L468.5,706.1 L470.0,706.2 L471.5,706.3 L473.0,706.4 L474.5,706.5 L476.0,706.6 L477.5,706.6 L479.0,706.7 L480.5,706.8 L482.0,706.9 L483.5,706.9 L485.0,707.0 L486.5,707.1 L488.0,707.1 L489.5,707.2 L491.0,707.3 L492.5,707.3 L494.0,707.4 L495.5,707.5 L497.0,707.5 L498.5,707.6 L500.0,707.7 L501.5,707.7 L503.0,707.8 L504.5,707.8 L506.0,707.9 L507.5,707.9 L509.0,708.0 L510.5,708.0 L512.0,708.0 L513.5,708.1 L515.0,708.1 L516.5,708.1 L518.0,708.1 L519.5,708.1 L521.0,708.2 L522.5,708.2 L524.0,708.2 L525.5,708.2 L527.0,708.2 L528.5,708.2 L530.0,708.2 L531.5,708.2 L533.0,708.2 L534.5,708.2 L536.0,708.2 L537.5,708.1 L539.0,708.1 L540.5,708.1 L542.0,708.1 L543.5,708.0 L545.0,708.0 L546.5,708.0 L548.0,707.9 L549.5,707.9 L551.0,707.8 L552.5,707.8 L554.0,707.7 L555.5,707.6 L557.0,707.6 L558.5,707.5 L560.0,707.4 L561.5,707.4 L563.0,707.3 L564.5,707.2 L566.0,707.1 L567.5,707.0 L569.0,706.9 L570.5,706.8 L572.0,706.7 L573.5,706.6 L575.0,706.6 L576.5,706.5 L578.0,706.3 L579.5,706.2 L581.0,706.1 L582.5,706.0 L584.0,705.9 L585.5,705.8 L587.0,705.7 L588.5,705.6 L590.0,705.5 L591.5,705.4 L593.0,705.3 L594.5,705.2 L596.0,705.0 L597.5,704.9 L599.0,704.7 L600.5,704.6 L602.0,704.4 L603.5,704.3 L605.0,704.1 L606.5,704.0 L608.0,703.8 L609.5,703.6 L611.0,703.5 L612.5,703.3 L614.0,703.1 L615.5,702.9 L617.0,702.8 L618.5,702.6 L620.0,702.4 L621.5,702.2 L623.0,702.0 L624.5,701.8 L626.0,701.6 L627.5,701.4 L629.0,701.2 L630.5,701.0 L632.0,700.8 L633.5,700.6 L635.0,700.3 L636.5,700.1 L638.0,699.8 L639.5,699.6 L641.0,699.3 L642.5,699.0 L644.0,698.7 L645.5,698.3 L647.0,698.0 L648.5,697.5 L650.0,697.1 L651.5,696.6 L653.0,696.0 L654.5,695.3 L656.0,694.6 L657.5,693.8 L659.0,692.8 L660.5,691.7 L662.0,690.5 L663.5,689.3 L665.0,687.9 L666.5,686.2 L668.0,684.2 L669.5,681.9 L671.0,679.3 L672.5,676.8 L674.0,673.4 L675.5,669.4 L677.0,665.1 L678.5,660.5 L680.0,655.7 L681.5,651.2 L684.1,643.7 L684.1,776.0 L681.5,768.5 L680.0,763.9 L678.5,759.2 L677.0,754.6 L675.5,750.2 L674.0,746.3 L672.5,742.9 L671.0,740.4 L669.5,737.8 L668.0,735.5 L666.5,733.5 L665.0,731.8 L663.5,730.4 L662.0,729.2 L660.5,728.0 L659.0,726.9 L657.5,725.9 L656.0,725.1 L654.5,724.4 L653.0,723.7 L651.5,723.1 L650.0,722.6 L648.5,722.1 L647.0,721.7 L645.5,721.3 L644.0,721.0 L642.5,720.7 L641.0,720.4 L639.5,720.1 L638.0,719.8 L636.5,719.6 L635.0,719.3 L633.5,719.1 L632.0,718.9 L630.5,718.7 L629.0,718.5 L627.5,718.3 L626.0,718.1 L624.5,717.9 L623.0,717.7 L621.5,717.5 L620.0,717.3 L618.5,717.1 L617.0,716.9 L615.5,716.7 L614.0,716.6 L612.5,716.4 L611.0,716.2 L609.5,716.1 L608.0,715.9 L606.5,715.7 L605.0,715.6 L603.5,715.4 L602.0,715.2 L600.5,715.1 L599.0,714.9 L597.5,714.8 L596.0,714.6 L594.5,714.5 L593.0,714.4 L591.5,714.3 L590.0,714.1 L588.5,714.0 L587.0,713.9 L585.5,713.8 L584.0,713.7 L582.5,713.6 L581.0,713.5 L579.5,713.4 L578.0,713.3 L576.5,713.2 L575.0,713.1 L573.5,713.0 L572.0,712.9 L570.5,712.8 L569.0,712.7 L567.5,712.7 L566.0,712.6 L564.5,712.5 L563.0,712.4 L561.5,712.3 L560.0,712.2 L558.5,712.2 L557.0,712.1 L555.5,712.0 L554.0,712.0 L552.5,711.9 L551.0,711.9 L549.5,711.8 L548.0,711.8 L546.5,711.7 L545.0,711.7 L543.5,711.6 L542.0,711.6 L540.5,711.6 L539.0,711.6 L537.5,711.5 L536.0,711.5 L534.5,711.5 L533.0,711.5 L531.5,711.5 L530.0,711.5 L528.5,711.5 L527.0,711.5 L525.5,711.5 L524.0,711.5 L522.5,711.5 L521.0,711.5 L519.5,711.5 L518.0,711.5 L516.5,711.6 L515.0,711.6 L513.5,711.6 L512.0,711.7 L510.5,711.7 L509.0,711.7 L507.5,711.8 L506.0,711.8 L504.5,711.9 L503.0,711.9 L501.5,712.0 L500.0,712.0 L498.5,712.1 L497.0,712.1 L495.5,712.2 L494.0,712.3 L492.5,712.3 L491.0,712.4 L489.5,712.5 L488.0,712.5 L486.5,712.6 L485.0,712.7 L483.5,712.7 L482.0,712.8 L480.5,712.9 L479.0,713.0 L477.5,713.0 L476.0,713.1 L474.5,713.2 L473.0,713.3 L471.5,713.4 L470.0,713.5 L468.5,713.6 L467.0,713.7 L465.5,713.8 L464.0,714.0 L462.5,714.1 L461.0,714.2 L459.5,714.3 L458.0,714.5 L456.5,714.6 L455.0,714.8 L453.5,714.9 L452.0,715.0 L450.5,715.2 L449.0,715.3 L447.5,715.4 L446.0,715.6 L444.5,715.7 L443.0,715.9 L441.5,716.0 L440.0,716.2 L438.5,716.4 L437.0,716.5 L435.5,716.7 L434.0,716.9 L432.5,717.1 L431.0,717.3 L429.5,717.5 L428.0,717.7 L426.5,717.9 L425.0,718.1 L423.5,718.3 L422.0,718.5 L420.5,718.7 L419.0,718.9 L417.5,719.1 L416.0,719.4 L414.5,719.6 L413.0,719.8 L411.5,720.0 L410.0,720.3 L408.5,720.5 L407.0,720.7 L405.5,721.0 L404.0,721.2 L402.5,721.5 L401.0,721.7 L399.5,722.0 L398.0,722.2 L396.5,722.5Z" fill="url(#hg21)" stroke="none"/>
<path d="M396.5,697.2 L398.0,697.4 L399.5,697.7 L401.0,697.9 L402.5,698.2 L404.0,698.4 L405.5,698.7 L407.0,698.9 L408.5,699.2 L410.0,699.4 L411.5,699.6 L413.0,699.9 L414.5,700.1 L416.0,700.3 L417.5,700.5 L419.0,700.8 L420.5,701.0 L422.0,701.2 L423.5,701.4 L425.0,701.6 L426.5,701.8 L428.0,702.0 L429.5,702.2 L431.0,702.4 L432.5,702.6 L434.0,702.8 L435.5,703.0 L437.0,703.1 L438.5,703.3 L440.0,703.5 L441.5,703.6 L443.0,703.8 L444.5,703.9 L446.0,704.1 L447.5,704.2 L449.0,704.4 L450.5,704.5 L452.0,704.6 L453.5,704.8 L455.0,704.9 L456.5,705.1 L458.0,705.2 L459.5,705.3 L461.0,705.5 L462.5,705.6 L464.0,705.7 L465.5,705.8 L467.0,705.9 L468.5,706.1 L470.0,706.2 L471.5,706.3 L473.0,706.4 L474.5,706.5 L476.0,706.6 L477.5,706.6 L479.0,706.7 L480.5,706.8 L482.0,706.9 L483.5,706.9 L485.0,707.0 L486.5,707.1 L488.0,707.1 L489.5,707.2 L491.0,707.3 L492.5,707.3 L494.0,707.4 L495.5,707.5 L497.0,707.5 L498.5,707.6 L500.0,707.7 L501.5,707.7 L503.0,707.8 L504.5,707.8 L506.0,707.9 L507.5,707.9 L509.0,708.0 L510.5,708.0 L512.0,708.0 L513.5,708.1 L515.0,708.1 L516.5,708.1 L518.0,708.1 L519.5,708.1 L521.0,708.2 L522.5,708.2 L524.0,708.2 L525.5,708.2 L527.0,708.2 L528.5,708.2 L530.0,708.2 L531.5,708.2 L533.0,708.2 L534.5,708.2 L536.0,708.2 L537.5,708.1 L539.0,708.1 L540.5,708.1 L542.0,708.1 L543.5,708.0 L545.0,708.0 L546.5,708.0 L548.0,707.9 L549.5,707.9 L551.0,707.8 L552.5,707.8 L554.0,707.7 L555.5,707.6 L557.0,707.6 L558.5,707.5 L560.0,707.4 L561.5,707.4 L563.0,707.3 L564.5,707.2 L566.0,707.1 L567.5,707.0 L569.0,706.9 L570.5,706.8 L572.0,706.7 L573.5,706.6 L575.0,706.6 L576.5,706.5 L578.0,706.3 L579.5,706.2 L581.0,706.1 L582.5,706.0 L584.0,705.9 L585.5,705.8 L587.0,705.7 L588.5,705.6 L590.0,705.5 L591.5,705.4 L593.0,705.3 L594.5,705.2 L596.0,705.0 L597.5,704.9 L599.0,704.7 L600.5,704.6 L602.0,704.4 L603.5,704.3 L605.0,704.1 L606.5,704.0 L608.0,703.8 L609.5,703.6 L611.0,703.5 L612.5,703.3 L614.0,703.1 L615.5,702.9 L617.0,702.8 L618.5,702.6 L620.0,702.4 L621.5,702.2 L623.0,702.0 L624.5,701.8 L626.0,701.6 L627.5,701.4 L629.0,701.2 L630.5,701.0 L632.0,700.8 L633.5,700.6 L635.0,700.3 L636.5,700.1 L638.0,699.8 L639.5,699.6 L641.0,699.3 L642.5,699.0 L644.0,698.7 L645.5,698.3 L647.0,698.0 L648.5,697.5 L650.0,697.1 L651.5,696.6 L653.0,696.0 L654.5,695.3 L656.0,694.6 L657.5,693.8 L659.0,692.8 L660.5,691.7 L662.0,690.5 L663.5,689.3 L665.0,687.9 L666.5,686.2 L668.0,684.2 L669.5,681.9 L671.0,679.3 L672.5,676.8 L674.0,673.4 L675.5,669.4 L677.0,665.1 L678.5,660.5 L680.0,655.7 L681.5,651.2 L684.1,643.7 M396.5,722.5 L398.0,722.2 L399.5,722.0 L401.0,721.7 L402.5,721.5 L404.0,721.2 L405.5,721.0 L407.0,720.7 L408.5,720.5 L410.0,720.3 L411.5,720.0 L413.0,719.8 L414.5,719.6 L416.0,719.4 L417.5,719.1 L419.0,718.9 L420.5,718.7 L422.0,718.5 L423.5,718.3 L425.0,718.1 L426.5,717.9 L428.0,717.7 L429.5,717.5 L431.0,717.3 L432.5,717.1 L434.0,716.9 L435.5,716.7 L437.0,716.5 L438.5,716.4 L440.0,716.2 L441.5,716.0 L443.0,715.9 L444.5,715.7 L446.0,715.6 L447.5,715.4 L449.0,715.3 L450.5,715.2 L452.0,715.0 L453.5,714.9 L455.0,714.8 L456.5,714.6 L458.0,714.5 L459.5,714.3 L461.0,714.2 L462.5,714.1 L464.0,714.0 L465.5,713.8 L467.0,713.7 L468.5,713.6 L470.0,713.5 L471.5,713.4 L473.0,713.3 L474.5,713.2 L476.0,713.1 L477.5,713.0 L479.0,713.0 L480.5,712.9 L482.0,712.8 L483.5,712.7 L485.0,712.7 L486.5,712.6 L488.0,712.5 L489.5,712.5 L491.0,712.4 L492.5,712.3 L494.0,712.3 L495.5,712.2 L497.0,712.1 L498.5,712.1 L500.0,712.0 L501.5,712.0 L503.0,711.9 L504.5,711.9 L506.0,711.8 L507.5,711.8 L509.0,711.7 L510.5,711.7 L512.0,711.7 L513.5,711.6 L515.0,711.6 L516.5,711.6 L518.0,711.5 L519.5,711.5 L521.0,711.5 L522.5,711.5 L524.0,711.5 L525.5,711.5 L527.0,711.5 L528.5,711.5 L530.0,711.5 L531.5,711.5 L533.0,711.5 L534.5,711.5 L536.0,711.5 L537.5,711.5 L539.0,711.6 L540.5,711.6 L542.0,711.6 L543.5,711.6 L545.0,711.7 L546.5,711.7 L548.0,711.8 L549.5,711.8 L551.0,711.9 L552.5,711.9 L554.0,712.0 L555.5,712.0 L557.0,712.1 L558.5,712.2 L560.0,712.2 L561.5,712.3 L563.0,712.4 L564.5,712.5 L566.0,712.6 L567.5,712.7 L569.0,712.7 L570.5,712.8 L572.0,712.9 L573.5,713.0 L575.0,713.1 L576.5,713.2 L578.0,713.3 L579.5,713.4 L581.0,713.5 L582.5,713.6 L584.0,713.7 L585.5,713.8 L587.0,713.9 L588.5,714.0 L590.0,714.1 L591.5,714.3 L593.0,714.4 L594.5,714.5 L596.0,714.6 L597.5,714.8 L599.0,714.9 L600.5,715.1 L602.0,715.2 L603.5,715.4 L605.0,715.6 L606.5,715.7 L608.0,715.9 L609.5,716.1 L611.0,716.2 L612.5,716.4 L614.0,716.6 L615.5,716.7 L617.0,716.9 L618.5,717.1 L620.0,717.3 L621.5,717.5 L623.0,717.7 L624.5,717.9 L626.0,718.1 L627.5,718.3 L629.0,718.5 L630.5,718.7 L632.0,718.9 L633.5,719.1 L635.0,719.3 L636.5,719.6 L638.0,719.8 L639.5,720.1 L641.0,720.4 L642.5,720.7 L644.0,721.0 L645.5,721.3 L647.0,721.7 L648.5,722.1 L650.0,722.6 L651.5,723.1 L653.0,723.7 L654.5,724.4 L656.0,725.1 L657.5,725.9 L659.0,726.9 L660.5,728.0 L662.0,729.2 L663.5,730.4 L665.0,731.8 L666.5,733.5 L668.0,735.5 L669.5,737.8 L671.0,740.4 L672.5,742.9 L674.0,746.3 L675.5,750.2 L677.0,754.6 L678.5,759.2 L680.0,763.9 L681.5,768.5 L684.1,776.0" fill="none" stroke="#66c2a5" stroke-opacity="0.6" stroke-width="0.8"/>
<path d="M396.5,680.0 L398.0,681.1 L399.5,682.2 L401.0,683.3 L402.5,684.4 L404.0,685.5 L405.5,686.6 L407.0,687.7 L408.5,688.8 L410.0,689.8 L411.5,690.8 L413.0,691.7 L414.5,692.4 L416.0,693.1 L417.5,693.7 L419.0,694.3 L420.5,694.9 L422.0,695.6 L423.5,696.2 L425.0,696.9 L426.5,697.5 L428.0,697.9 L429.5,698.3 L431.0,698.8 L432.5,699.4 L434.0,700.1 L435.5,700.8 L437.0,701.5 L438.5,702.1 L440.0,702.7 L441.5,703.2 L443.0,703.7 L444.5,704.2 L446.0,704.7 L447.5,705.1 L449.0,705.5 L450.5,705.9 L452.0,706.2 L453.5,706.5 L455.0,706.8 L456.5,707.1 L458.0,707.4 L459.5,707.6 L461.0,707.8 L462.5,708.0 L464.0,708.3 L465.5,708.4 L467.0,708.6 L468.5,708.8 L470.0,708.9 L471.5,709.1 L473.0,709.2 L474.5,709.4 L476.0,709.5 L477.5,709.6 L479.0,709.8 L480.5,709.9 L482.0,709.9 L483.5,710.0 L485.0,710.1 L486.5,710.2 L488.0,710.2 L489.5,710.3 L491.0,710.4 L492.5,710.5 L494.0,710.6 L495.5,710.7 L497.0,710.8 L498.5,711.0 L500.0,711.1 L501.5,711.2 L503.0,711.4 L504.5,711.5 L506.0,711.6 L507.5,711.7 L509.0,711.8 L510.5,711.9 L512.0,711.9 L513.5,712.0 L515.0,712.0 L516.5,712.0 L518.0,712.0 L519.5,712.0 L521.0,712.0 L522.5,711.9 L524.0,711.9 L525.5,711.9 L527.0,711.8 L528.5,711.7 L530.0,711.7 L531.5,711.6 L533.0,711.5 L534.5,711.4 L536.0,711.3 L537.5,711.2 L539.0,711.1 L540.5,711.0 L542.0,710.9 L543.5,710.8 L545.0,710.7 L546.5,710.5 L548.0,710.4 L549.5,710.3 L551.0,710.1 L552.5,710.0 L554.0,709.8 L555.5,709.7 L557.0,709.5 L558.5,709.4 L560.0,709.2 L561.5,709.0 L563.0,708.8 L564.5,708.7 L566.0,708.5 L567.5,708.3 L569.0,708.1 L570.5,707.9 L572.0,707.7 L573.5,707.5 L575.0,707.3 L576.5,707.1 L578.0,706.8 L579.5,706.6 L581.0,706.3 L582.5,706.1 L584.0,705.9 L585.5,705.7 L587.0,705.6 L588.5,705.4 L590.0,705.3 L591.5,705.1 L593.0,704.9 L594.5,704.6 L596.0,704.4 L597.5,704.1 L599.0,703.9 L600.5,703.6 L602.0,703.4 L603.5,703.1 L605.0,702.9 L606.5,702.7 L608.0,702.4 L609.5,702.2 L611.0,702.0 L612.5,701.7 L614.0,701.4 L615.5,701.1 L617.0,700.8 L618.5,700.5 L620.0,700.2 L621.5,699.9 L623.0,699.7 L624.5,699.6 L626.0,699.5 L627.5,699.5 L629.0,699.5 L630.5,699.6 L632.0,699.8 L633.5,700.1 L635.0,700.4 L636.5,700.8 L638.0,701.3 L639.5,701.8 L641.0,702.3 L642.5,702.9 L644.0,703.4 L645.5,703.9 L647.0,704.3 L648.5,704.6 L650.0,704.8 L651.5,704.9 L653.0,704.9 L654.5,704.8 L656.0,704.7 L657.5,704.5 L659.0,704.2 L660.5,703.9 L662.0,703.4 L663.5,702.8 L665.0,702.0 L666.5,701.0 L668.0,699.7 L669.5,697.9 L671.0,695.7 L672.5,692.7 L674.0,688.9 L675.5,684.8 L677.0,681.4 L678.5,678.6 L680.0,676.0 L681.5,673.4 L684.1,669.0 L684.1,1059.4 L681.5,1028.8 L680.0,1010.7 L678.5,992.4 L677.0,973.9 L675.5,955.2 L674.0,936.3 L672.5,917.1 L671.0,896.8 L669.5,875.6 L668.0,854.5 L666.5,833.5 L665.0,814.0 L663.5,796.7 L662.0,781.8 L660.5,769.6 L659.0,762.1 L657.5,756.8 L656.0,752.5 L654.5,748.8 L653.0,745.8 L651.5,743.2 L650.0,740.9 L648.5,738.8 L647.0,737.0 L645.5,735.4 L644.0,734.0 L642.5,732.8 L641.0,731.7 L639.5,730.8 L638.0,730.0 L636.5,729.2 L635.0,728.5 L633.5,727.9 L632.0,727.3 L630.5,726.7 L629.0,726.2 L627.5,725.7 L626.0,725.3 L624.5,724.9 L623.0,724.5 L621.5,724.1 L620.0,723.7 L618.5,723.4 L617.0,723.1 L615.5,722.8 L614.0,722.5 L612.5,722.2 L611.0,721.9 L609.5,721.7 L608.0,721.4 L606.5,721.2 L605.0,721.0 L603.5,720.8 L602.0,720.6 L600.5,720.4 L599.0,720.3 L597.5,720.1 L596.0,720.2 L594.5,720.4 L593.0,720.7 L591.5,720.9 L590.0,721.2 L588.5,721.5 L587.0,721.7 L585.5,722.0 L584.0,722.0 L582.5,721.9 L581.0,721.8 L579.5,721.7 L578.0,721.6 L576.5,721.5 L575.0,721.4 L573.5,721.3 L572.0,721.1 L570.5,721.0 L569.0,720.8 L567.5,720.7 L566.0,720.6 L564.5,720.4 L563.0,720.3 L561.5,720.2 L560.0,720.0 L558.5,719.9 L557.0,719.8 L555.5,719.7 L554.0,719.5 L552.5,719.4 L551.0,719.3 L549.5,719.2 L548.0,719.1 L546.5,719.0 L545.0,718.9 L543.5,718.8 L542.0,718.8 L540.5,718.7 L539.0,718.6 L537.5,718.6 L536.0,718.5 L534.5,718.4 L533.0,718.4 L531.5,718.3 L530.0,718.3 L528.5,718.3 L527.0,718.2 L525.5,718.2 L524.0,718.2 L522.5,718.1 L521.0,718.1 L519.5,718.1 L518.0,718.1 L516.5,718.1 L515.0,718.0 L513.5,718.0 L512.0,718.0 L510.5,718.0 L509.0,717.9 L507.5,717.9 L506.0,717.9 L504.5,717.9 L503.0,717.9 L501.5,717.9 L500.0,717.9 L498.5,717.9 L497.0,718.0 L495.5,718.0 L494.0,718.1 L492.5,718.2 L491.0,718.3 L489.5,718.4 L488.0,718.6 L486.5,718.8 L485.0,719.0 L483.5,719.2 L482.0,719.4 L480.5,719.5 L479.0,719.7 L477.5,719.9 L476.0,720.1 L474.5,720.3 L473.0,720.5 L471.5,720.7 L470.0,720.9 L468.5,721.2 L467.0,721.4 L465.5,721.6 L464.0,721.8 L462.5,722.0 L461.0,722.2 L459.5,722.5 L458.0,722.7 L456.5,722.9 L455.0,723.2 L453.5,723.4 L452.0,723.7 L450.5,723.9 L449.0,724.1 L447.5,724.4 L446.0,724.6 L444.5,724.9 L443.0,725.1 L441.5,725.4 L440.0,725.5 L438.5,725.5 L437.0,725.4 L435.5,725.2 L434.0,725.0 L432.5,725.1 L431.0,725.4 L429.5,725.6 L428.0,725.9 L426.5,726.2 L425.0,726.5 L423.5,726.8 L422.0,727.1 L420.5,727.4 L419.0,727.7 L417.5,728.0 L416.0,728.3 L414.5,728.6 L413.0,728.9 L411.5,729.2 L410.0,729.5 L408.5,729.8 L407.0,730.1 L405.5,730.4 L404.0,730.7 L402.5,730.9 L401.0,731.2 L399.5,731.4 L398.0,731.5 L396.5,731.7Z" fill="#fc8d62" fill-opacity="0.5" stroke="none"/>
<path d="M396.5,680.0 L398.0,681.1 L399.5,682.2 L401.0,683.3 L402.5,684.4 L404.0,685.5 L405.5,686.6 L407.0,687.7 L408.5,688.8 L410.0,689.8 L411.5,690.8 L413.0,691.7 L414.5,692.4 L416.0,693.1 L417.5,693.7 L419.0,694.3 L420.5,694.9 L422.0,695.6 L423.5,696.2 L425.0,696.9 L426.5,697.5 L428.0,697.9 L429.5,698.3 L431.0,698.8 L432.5,699.4 L434.0,700.1 L435.5,700.8 L437.0,701.5 L438.5,702.1 L440.0,702.7 L441.5,703.2 L443.0,703.7 L444.5,704.2 L446.0,704.7 L447.5,705.1 L449.0,705.5 L450.5,705.9 L452.0,706.2 L453.5,706.5 L455.0,706.8 L456.5,707.1 L458.0,707.4 L459.5,707.6 L461.0,707.8 L462.5,708.0 L464.0,708.3 L465.5,708.4 L467.0,708.6 L468.5,708.8 L470.0,708.9 L471.5,709.1 L473.0,709.2 L474.5,709.4 L476.0,709.5 L477.5,709.6 L479.0,709.8 L480.5,709.9 L482.0,709.9 L483.5,710.0 L485.0,710.1 L486.5,710.2 L488.0,710.2 L489.5,710.3 L491.0,710.4 L492.5,710.5 L494.0,710.6 L495.5,710.7 L497.0,710.8 L498.5,711.0 L500.0,711.1 L501.5,711.2 L503.0,711.4 L504.5,711.5 L506.0,711.6 L507.5,711.7 L509.0,711.8 L510.5,711.9 L512.0,711.9 L513.5,712.0 L515.0,712.0 L516.5,712.0 L518.0,712.0 L519.5,712.0 L521.0,712.0 L522.5,711.9 L524.0,711.9 L525.5,711.9 L527.0,711.8 L528.5,711.7 L530.0,711.7 L531.5,711.6 L533.0,711.5 L534.5,711.4 L536.0,711.3 L537.5,711.2 L539.0,711.1 L540.5,711.0 L542.0,710.9 L543.5,710.8 L545.0,710.7 L546.5,710.5 L548.0,710.4 L549.5,710.3 L551.0,710.1 L552.5,710.0 L554.0,709.8 L555.5,709.7 L557.0,709.5 L558.5,709.4 L560.0,709.2 L561.5,709.0 L563.0,708.8 L564.5,708.7 L566.0,708.5 L567.5,708.3 L569.0,708.1 L570.5,707.9 L572.0,707.7 L573.5,707.5 L575.0,707.3 L576.5,707.1 L578.0,706.8 L579.5,706.6 L581.0,706.3 L582.5,706.1 L584.0,705.9 L585.5,705.7 L587.0,705.6 L588.5,705.4 L590.0,705.3 L591.5,705.1 L593.0,704.9 L594.5,704.6 L596.0,704.4 L597.5,704.1 L599.0,703.9 L600.5,703.6 L602.0,703.4 L603.5,703.1 L605.0,702.9 L606.5,702.7 L608.0,702.4 L609.5,702.2 L611.0,702.0 L612.5,701.7 L614.0,701.4 L615.5,701.1 L617.0,700.8 L618.5,700.5 L620.0,700.2 L621.5,699.9 L623.0,699.7 L624.5,699.6 L626.0,699.5 L627.5,699.5 L629.0,699.5 L630.5,699.6 L632.0,699.8 L633.5,700.1 L635.0,700.4 L636.5,700.8 L638.0,701.3 L639.5,701.8 L641.0,702.3 L642.5,702.9 L644.0,703.4 L645.5,703.9 L647.0,704.3 L648.5,704.6 L650.0,704.8 L651.5,704.9 L653.0,704.9 L654.5,704.8 L656.0,704.7 L657.5,704.5 L659.0,704.2 L660.5,703.9 L662.0,703.4 L663.5,702.8 L665.0,702.0 L666.5,701.0 L668.0,699.7 L669.5,697.9 L671.0,695.7 L672.5,692.7 L674.0,688.9 L675.5,684.8 L677.0,681.4 L678.5,678.6 L680.0,676.0 L681.5,673.4 L684.1,669.0 L684.1,1059.4 L681.5,1028.8 L680.0,1010.7 L678.5,992.4 L677.0,973.9 L675.5,955.2 L674.0,936.3 L672.5,917.1 L671.0,896.8 L669.5,875.6 L668.0,854.5 L666.5,833.5 L665.0,814.0 L663.5,796.7 L662.0,781.8 L660.5,769.6 L659.0,762.1 L657.5,756.8 L656.0,752.5 L654.5,748.8 L653.0,745.8 L651.5,743.2 L650.0,740.9 L648.5,738.8 L647.0,737.0 L645.5,735.4 L644.0,734.0 L642.5,732.8 L641.0,731.7 L639.5,730.8 L638.0,730.0 L636.5,729.2 L635.0,728.5 L633.5,727.9 L632.0,727.3 L630.5,726.7 L629.0,726.2 L627.5,725.7 L626.0,725.3 L624.5,724.9 L623.0,724.5 L621.5,724.1 L620.0,723.7 L618.5,723.4 L617.0,723.1 L615.5,722.8 L614.0,722.5 L612.5,722.2 L611.0,721.9 L609.5,721.7 L608.0,721.4 L606.5,721.2 L605.0,721.0 L603.5,720.8 L602.0,720.6 L600.5,720.4 L599.0,720.3 L597.5,720.1 L596.0,720.2 L594.5,720.4 L593.0,720.7 L591.5,720.9 L590.0,721.2 L588.5,721.5 L587.0,721.7 L585.5,722.0 L584.0,722.0 L582.5,721.9 L581.0,721.8 L579.5,721.7 L578.0,721.6 L576.5,721.5 L575.0,721.4 L573.5,721.3 L572.0,721.1 L570.5,721.0 L569.0,720.8 L567.5,720.7 L566.0,720.6 L564.5,720.4 L563.0,720.3 L561.5,720.2 L560.0,720.0 L558.5,719.9 L557.0,719.8 L555.5,719.7 L554.0,719.5 L552.5,719.4 L551.0,719.3 L549.5,719.2 L548.0,719.1 L546.5,719.0 L545.0,718.9 L543.5,718.8 L542.0,718.8 L540.5,718.7 L539.0,718.6 L537.5,718.6 L536.0,718.5 L534.5,718.4 L533.0,718.4 L531.5,718.3 L530.0,718.3 L528.5,718.3 L527.0,718.2 L525.5,718.2 L524.0,718.2 L522.5,718.1 L521.0,718.1 L519.5,718.1 L518.0,718.1 L516.5,718.1 L515.0,718.0 L513.5,718.0 L512.0,718.0 L510.5,718.0 L509.0,717.9 L507.5,717.9 L506.0,717.9 L504.5,717.9 L503.0,717.9 L501.5,717.9 L500.0,717.9 L498.5,717.9 L497.0,718.0 L495.5,718.0 L494.0,718.1 L492.5,718.2 L491.0,718.3 L489.5,718.4 L488.0,718.6 L486.5,718.8 L485.0,719.0 L483.5,719.2 L482.0,719.4 L480.5,719.5 L479.0,719.7 L477.5,719.9 L476.0,720.1 L474.5,720.3 L473.0,720.5 L471.5,720.7 L470.0,720.9 L468.5,721.2 L467.0,721.4 L465.5,721.6 L464.0,721.8 L462.5,722.0 L461.0,722.2 L459.5,722.5 L458.0,722.7 L456.5,722.9 L455.0,723.2 L453.5,723.4 L452.0,723.7 L450.5,723.9 L449.0,724.1 L447.5,724.4 L446.0,724.6 L444.5,724.9 L443.0,725.1 L441.5,725.4 L440.0,725.5 L438.5,725.5 L437.0,725.4 L435.5,725.2 L434.0,725.0 L432.5,725.1 L431.0,725.4 L429.5,725.6 L428.0,725.9 L426.5,726.2 L425.0,726.5 L423.5,726.8 L422.0,727.1 L420.5,727.4 L419.0,727.7 L417.5,728.0 L416.0,728.3 L414.5,728.6 L413.0,728.9 L411.5,729.2 L410.0,729.5 L408.5,729.8 L407.0,730.1 L405.5,730.4 L404.0,730.7 L402.5,730.9 L401.0,731.2 L399.5,731.4 L398.0,731.5 L396.5,731.7Z" fill="url(#ho21)" stroke="none"/>
<path d="M396.5,680.0 L398.0,681.1 L399.5,682.2 L401.0,683.3 L402.5,684.4 L404.0,685.5 L405.5,686.6 L407.0,687.7 L408.5,688.8 L410.0,689.8 L411.5,690.8 L413.0,691.7 L414.5,692.4 L416.0,693.1 L417.5,693.7 L419.0,694.3 L420.5,694.9 L422.0,695.6 L423.5,696.2 L425.0,696.9 L426.5,697.5 L428.0,697.9 L429.5,698.3 L431.0,698.8 L432.5,699.4 L434.0,700.1 L435.5,700.8 L437.0,701.5 L438.5,702.1 L440.0,702.7 L441.5,703.2 L443.0,703.7 L444.5,704.2 L446.0,704.7 L447.5,705.1 L449.0,705.5 L450.5,705.9 L452.0,706.2 L453.5,706.5 L455.0,706.8 L456.5,707.1 L458.0,707.4 L459.5,707.6 L461.0,707.8 L462.5,708.0 L464.0,708.3 L465.5,708.4 L467.0,708.6 L468.5,708.8 L470.0,708.9 L471.5,709.1 L473.0,709.2 L474.5,709.4 L476.0,709.5 L477.5,709.6 L479.0,709.8 L480.5,709.9 L482.0,709.9 L483.5,710.0 L485.0,710.1 L486.5,710.2 L488.0,710.2 L489.5,710.3 L491.0,710.4 L492.5,710.5 L494.0,710.6 L495.5,710.7 L497.0,710.8 L498.5,711.0 L500.0,711.1 L501.5,711.2 L503.0,711.4 L504.5,711.5 L506.0,711.6 L507.5,711.7 L509.0,711.8 L510.5,711.9 L512.0,711.9 L513.5,712.0 L515.0,712.0 L516.5,712.0 L518.0,712.0 L519.5,712.0 L521.0,712.0 L522.5,711.9 L524.0,711.9 L525.5,711.9 L527.0,711.8 L528.5,711.7 L530.0,711.7 L531.5,711.6 L533.0,711.5 L534.5,711.4 L536.0,711.3 L537.5,711.2 L539.0,711.1 L540.5,711.0 L542.0,710.9 L543.5,710.8 L545.0,710.7 L546.5,710.5 L548.0,710.4 L549.5,710.3 L551.0,710.1 L552.5,710.0 L554.0,709.8 L555.5,709.7 L557.0,709.5 L558.5,709.4 L560.0,709.2 L561.5,709.0 L563.0,708.8 L564.5,708.7 L566.0,708.5 L567.5,708.3 L569.0,708.1 L570.5,707.9 L572.0,707.7 L573.5,707.5 L575.0,707.3 L576.5,707.1 L578.0,706.8 L579.5,706.6 L581.0,706.3 L582.5,706.1 L584.0,705.9 L585.5,705.7 L587.0,705.6 L588.5,705.4 L590.0,705.3 L591.5,705.1 L593.0,704.9 L594.5,704.6 L596.0,704.4 L597.5,704.1 L599.0,703.9 L600.5,703.6 L602.0,703.4 L603.5,703.1 L605.0,702.9 L606.5,702.7 L608.0,702.4 L609.5,702.2 L611.0,702.0 L612.5,701.7 L614.0,701.4 L615.5,701.1 L617.0,700.8 L618.5,700.5 L620.0,700.2 L621.5,699.9 L623.0,699.7 L624.5,699.6 L626.0,699.5 L627.5,699.5 L629.0,699.5 L630.5,699.6 L632.0,699.8 L633.5,700.1 L635.0,700.4 L636.5,700.8 L638.0,701.3 L639.5,701.8 L641.0,702.3 L642.5,702.9 L644.0,703.4 L645.5,703.9 L647.0,704.3 L648.5,704.6 L650.0,704.8 L651.5,704.9 L653.0,704.9 L654.5,704.8 L656.0,704.7 L657.5,704.5 L659.0,704.2 L660.5,703.9 L662.0,703.4 L663.5,702.8 L665.0,702.0 L666.5,701.0 L668.0,699.7 L669.5,697.9 L671.0,695.7 L672.5,692.7 L674.0,688.9 L675.5,684.8 L677.0,681.4 L678.5,678.6 L680.0,676.0 L681.5,673.4 L684.1,669.0 M396.5,731.7 L398.0,731.5 L399.5,731.4 L401.0,731.2 L402.5,730.9 L404.0,730.7 L405.5,730.4 L407.0,730.1 L408.5,729.8 L410.0,729.5 L411.5,729.2 L413.0,728.9 L414.5,728.6 L416.0,728.3 L417.5,728.0 L419.0,727.7 L420.5,727.4 L422.0,727.1 L423.5,726.8 L425.0,726.5 L426.5,726.2 L428.0,725.9 L429.5,725.6 L431.0,725.4 L432.5,725.1 L434.0,725.0 L435.5,725.2 L437.0,725.4 L438.5,725.5 L440.0,725.5 L441.5,725.4 L443.0,725.1 L444.5,724.9 L446.0,724.6 L447.5,724.4 L449.0,724.1 L450.5,723.9 L452.0,723.7 L453.5,723.4 L455.0,723.2 L456.5,722.9 L458.0,722.7 L459.5,722.5 L461.0,722.2 L462.5,722.0 L464.0,721.8 L465.5,721.6 L467.0,721.4 L468.5,721.2 L470.0,720.9 L471.5,720.7 L473.0,720.5 L474.5,720.3 L476.0,720.1 L477.5,719.9 L479.0,719.7 L480.5,719.5 L482.0,719.4 L483.5,719.2 L485.0,719.0 L486.5,718.8 L488.0,718.6 L489.5,718.4 L491.0,718.3 L492.5,718.2 L494.0,718.1 L495.5,718.0 L497.0,718.0 L498.5,717.9 L500.0,717.9 L501.5,717.9 L503.0,717.9 L504.5,717.9 L506.0,717.9 L507.5,717.9 L509.0,717.9 L510.5,718.0 L512.0,718.0 L513.5,718.0 L515.0,718.0 L516.5,718.1 L518.0,718.1 L519.5,718.1 L521.0,718.1 L522.5,718.1 L524.0,718.2 L525.5,718.2 L527.0,718.2 L528.5,718.3 L530.0,718.3 L531.5,718.3 L533.0,718.4 L534.5,718.4 L536.0,718.5 L537.5,718.6 L539.0,718.6 L540.5,718.7 L542.0,718.8 L543.5,718.8 L545.0,718.9 L546.5,719.0 L548.0,719.1 L549.5,719.2 L551.0,719.3 L552.5,719.4 L554.0,719.5 L555.5,719.7 L557.0,719.8 L558.5,719.9 L560.0,720.0 L561.5,720.2 L563.0,720.3 L564.5,720.4 L566.0,720.6 L567.5,720.7 L569.0,720.8 L570.5,721.0 L572.0,721.1 L573.5,721.3 L575.0,721.4 L576.5,721.5 L578.0,721.6 L579.5,721.7 L581.0,721.8 L582.5,721.9 L584.0,722.0 L585.5,722.0 L587.0,721.7 L588.5,721.5 L590.0,721.2 L591.5,720.9 L593.0,720.7 L594.5,720.4 L596.0,720.2 L597.5,720.1 L599.0,720.3 L600.5,720.4 L602.0,720.6 L603.5,720.8 L605.0,721.0 L606.5,721.2 L608.0,721.4 L609.5,721.7 L611.0,721.9 L612.5,722.2 L614.0,722.5 L615.5,722.8 L617.0,723.1 L618.5,723.4 L620.0,723.7 L621.5,724.1 L623.0,724.5 L624.5,724.9 L626.0,725.3 L627.5,725.7 L629.0,726.2 L630.5,726.7 L632.0,727.3 L633.5,727.9 L635.0,728.5 L636.5,729.2 L638.0,730.0 L639.5,730.8 L641.0,731.7 L642.5,732.8 L644.0,734.0 L645.5,735.4 L647.0,737.0 L648.5,738.8 L650.0,740.9 L651.5,743.2 L653.0,745.8 L654.5,748.8 L656.0,752.5 L657.5,756.8 L659.0,762.1 L660.5,769.6 L662.0,781.8 L663.5,796.7 L665.0,814.0 L666.5,833.5 L668.0,854.5 L669.5,875.6 L671.0,896.8 L672.5,917.1 L674.0,936.3 L675.5,955.2 L677.0,973.9 L678.5,992.4 L680.0,1010.7 L681.5,1028.8 L684.1,1059.4" fill="none" stroke="#fc8d62" stroke-opacity="0.6" stroke-width="0.8"/>
<path d="M396.5,709.8 L684.1,709.8" stroke="#66c2a5" stroke-width="1.8" fill="none"/>
<path d="M396.5,697.2 L398.0,697.4 L399.5,697.7 L401.0,697.9 L402.5,698.2 L404.0,698.4 L405.5,698.7 L407.0,698.9 L408.5,699.2 L410.0,699.4 L411.5,699.6 L413.0,699.9 L414.5,700.1 L416.0,700.3 L417.5,700.5 L419.0,700.8 L420.5,701.0 L422.0,701.2 L423.5,701.4 L425.0,701.6 L426.5,701.8 L428.0,702.0 L429.5,702.2 L431.0,702.4 L432.5,702.6 L434.0,702.8 L435.5,703.0 L437.0,703.1 L438.5,703.3 L440.0,703.5 L441.5,703.6 L443.0,703.8 L444.5,703.9 L446.0,704.1 L447.5,704.2 L449.0,704.4 L450.5,704.5 L452.0,704.6 L453.5,704.8 L455.0,704.9 L456.5,705.1 L458.0,705.2 L459.5,705.3 L461.0,705.5 L462.5,705.6 L464.0,705.7 L465.5,705.8 L467.0,705.9 L468.5,706.1 L470.0,706.2 L471.5,706.3 L473.0,706.4 L474.5,706.5 L476.0,706.6 L477.5,706.6 L479.0,706.7 L480.5,706.8 L482.0,706.9 L483.5,706.9 L485.0,707.0 L486.5,707.1 L488.0,707.1 L489.5,707.2 L491.0,707.3 L492.5,707.3 L494.0,707.4 L495.5,707.5 L497.0,707.5 L498.5,707.6 L500.0,707.7 L501.5,707.7 L503.0,707.8 L504.5,707.8 L506.0,707.9 L507.5,707.9 L509.0,708.0 L510.5,708.0 L512.0,708.0 L513.5,708.1 L515.0,708.1 L516.5,708.1 L518.0,708.1 L519.5,708.1 L521.0,708.2 L522.5,708.2 L524.0,708.2 L525.5,708.2 L527.0,708.2 L528.5,708.2 L530.0,708.2 L531.5,708.2 L533.0,708.2 L534.5,708.2 L536.0,708.2 L537.5,708.1 L539.0,708.1 L540.5,708.1 L542.0,708.1 L543.5,708.0 L545.0,708.0 L546.5,708.0 L548.0,707.9 L549.5,707.9 L551.0,707.8 L552.5,707.8 L554.0,707.7 L555.5,707.6 L557.0,707.6 L558.5,707.5 L560.0,707.4 L561.5,707.4 L563.0,707.3 L564.5,707.2 L566.0,707.1 L567.5,707.0 L569.0,706.9 L570.5,706.8 L572.0,706.7 L573.5,706.6 L575.0,706.6 L576.5,706.5 L578.0,706.3 L579.5,706.2 L581.0,706.1 L582.5,706.0 L584.0,705.9 L585.5,705.8 L587.0,705.7 L588.5,705.6 L590.0,705.5 L591.5,705.4 L593.0,705.3 L594.5,705.2 L596.0,705.0 L597.5,704.9 L599.0,704.7 L600.5,704.6 L602.0,704.4 L603.5,704.3 L605.0,704.1 L606.5,704.0 L608.0,703.8 L609.5,703.6 L611.0,703.5 L612.5,703.3 L614.0,703.1 L615.5,702.9 L617.0,702.8 L618.5,702.6 L620.0,702.4 L621.5,702.2 L623.0,702.0 L624.5,701.8 L626.0,701.6 L627.5,701.4 L629.0,701.2 L630.5,701.0 L632.0,700.8 L633.5,700.6 L635.0,700.3 L636.5,700.1 L638.0,699.8 L639.5,699.6 L641.0,699.3 L642.5,699.0 L644.0,698.7 L645.5,698.3 L647.0,698.0 L648.5,697.5 L650.0,697.1 L651.5,696.6 L653.0,696.0 L654.5,695.3 L656.0,694.6 L657.5,693.8 L659.0,692.8 L660.5,691.7 L662.0,690.5 L663.5,689.3 L665.0,687.9 L666.5,686.2 L668.0,684.2 L669.5,681.9 L671.0,679.3 L672.5,676.8 L674.0,673.4 L675.5,669.4 L677.0,665.1 L678.5,660.5 L680.0,655.7 L681.5,651.2 L684.1,643.7 M396.5,722.5 L398.0,722.2 L399.5,722.0 L401.0,721.7 L402.5,721.5 L404.0,721.2 L405.5,721.0 L407.0,720.7 L408.5,720.5 L410.0,720.3 L411.5,720.0 L413.0,719.8 L414.5,719.6 L416.0,719.4 L417.5,719.1 L419.0,718.9 L420.5,718.7 L422.0,718.5 L423.5,718.3 L425.0,718.1 L426.5,717.9 L428.0,717.7 L429.5,717.5 L431.0,717.3 L432.5,717.1 L434.0,716.9 L435.5,716.7 L437.0,716.5 L438.5,716.4 L440.0,716.2 L441.5,716.0 L443.0,715.9 L444.5,715.7 L446.0,715.6 L447.5,715.4 L449.0,715.3 L450.5,715.2 L452.0,715.0 L453.5,714.9 L455.0,714.8 L456.5,714.6 L458.0,714.5 L459.5,714.3 L461.0,714.2 L462.5,714.1 L464.0,714.0 L465.5,713.8 L467.0,713.7 L468.5,713.6 L470.0,713.5 L471.5,713.4 L473.0,713.3 L474.5,713.2 L476.0,713.1 L477.5,713.0 L479.0,713.0 L480.5,712.9 L482.0,712.8 L483.5,712.7 L485.0,712.7 L486.5,712.6 L488.0,712.5 L489.5,712.5 L491.0,712.4 L492.5,712.3 L494.0,712.3 L495.5,712.2 L497.0,712.1 L498.5,712.1 L500.0,712.0 L501.5,712.0 L503.0,711.9 L504.5,711.9 L506.0,711.8 L507.5,711.8 L509.0,711.7 L510.5,711.7 L512.0,711.7 L513.5,711.6 L515.0,711.6 L516.5,711.6 L518.0,711.5 L519.5,711.5 L521.0,711.5 L522.5,711.5 L524.0,711.5 L525.5,711.5 L527.0,711.5 L528.5,711.5 L530.0,711.5 L531.5,711.5 L533.0,711.5 L534.5,711.5 L536.0,711.5 L537.5,711.5 L539.0,711.6 L540.5,711.6 L542.0,711.6 L543.5,711.6 L545.0,711.7 L546.5,711.7 L548.0,711.8 L549.5,711.8 L551.0,711.9 L552.5,711.9 L554.0,712.0 L555.5,712.0 L557.0,712.1 L558.5,712.2 L560.0,712.2 L561.5,712.3 L563.0,712.4 L564.5,712.5 L566.0,712.6 L567.5,712.7 L569.0,712.7 L570.5,712.8 L572.0,712.9 L573.5,713.0 L575.0,713.1 L576.5,713.2 L578.0,713.3 L579.5,713.4 L581.0,713.5 L582.5,713.6 L584.0,713.7 L585.5,713.8 L587.0,713.9 L588.5,714.0 L590.0,714.1 L591.5,714.3 L593.0,714.4 L594.5,714.5 L596.0,714.6 L597.5,714.8 L599.0,714.9 L600.5,715.1 L602.0,715.2 L603.5,715.4 L605.0,715.6 L606.5,715.7 L608.0,715.9 L609.5,716.1 L611.0,716.2 L612.5,716.4 L614.0,716.6 L615.5,716.7 L617.0,716.9 L618.5,717.1 L620.0,717.3 L621.5,717.5 L623.0,717.7 L624.5,717.9 L626.0,718.1 L627.5,718.3 L629.0,718.5 L630.5,718.7 L632.0,718.9 L633.5,719.1 L635.0,719.3 L636.5,719.6 L638.0,719.8 L639.5,720.1 L641.0,720.4 L642.5,720.7 L644.0,721.0 L645.5,721.3 L647.0,721.7 L648.5,722.1 L650.0,722.6 L651.5,723.1 L653.0,723.7 L654.5,724.4 L656.0,725.1 L657.5,725.9 L659.0,726.9 L660.5,728.0 L662.0,729.2 L663.5,730.4 L665.0,731.8 L666.5,733.5 L668.0,735.5 L669.5,737.8 L671.0,740.4 L672.5,742.9 L674.0,746.3 L675.5,750.2 L677.0,754.6 L678.5,759.2 L680.0,763.9 L681.5,768.5 L684.1,776.0" fill="none" stroke="#66c2a5" stroke-width="1.6" stroke-dasharray="5.5 2.4"/>
<path d="M396.5,699.8 L398.0,700.7 L399.5,701.7 L401.0,702.5 L402.5,703.4 L404.0,704.1 L405.5,704.9 L407.0,705.5 L408.5,706.2 L410.0,706.8 L411.5,707.4 L413.0,708.0 L414.5,708.5 L416.0,709.1 L417.5,709.6 L419.0,710.1 L420.5,710.6 L422.0,711.0 L423.5,711.4 L425.0,711.8 L426.5,712.1 L428.0,712.4 L429.5,712.7 L431.0,713.0 L432.5,713.2 L434.0,713.5 L435.5,713.7 L437.0,713.8 L438.5,714.0 L440.0,714.2 L441.5,714.3 L443.0,714.4 L444.5,714.5 L446.0,714.6 L447.5,714.7 L449.0,714.8 L450.5,714.9 L452.0,714.9 L453.5,715.0 L455.0,715.0 L456.5,715.0 L458.0,715.0 L459.5,715.0 L461.0,715.0 L462.5,715.0 L464.0,715.0 L465.5,715.0 L467.0,715.0 L468.5,715.0 L470.0,714.9 L471.5,714.9 L473.0,714.9 L474.5,714.9 L476.0,714.8 L477.5,714.8 L479.0,714.7 L480.5,714.7 L482.0,714.6 L483.5,714.6 L485.0,714.5 L486.5,714.5 L488.0,714.4 L489.5,714.4 L491.0,714.3 L492.5,714.3 L494.0,714.3 L495.5,714.4 L497.0,714.4 L498.5,714.4 L500.0,714.5 L501.5,714.6 L503.0,714.6 L504.5,714.7 L506.0,714.7 L507.5,714.8 L509.0,714.9 L510.5,714.9 L512.0,715.0 L513.5,715.0 L515.0,715.0 L516.5,715.0 L518.0,715.1 L519.5,715.1 L521.0,715.1 L522.5,715.0 L524.0,715.0 L525.5,715.0 L527.0,715.0 L528.5,715.0 L530.0,715.0 L531.5,715.0 L533.0,714.9 L534.5,714.9 L536.0,714.9 L537.5,714.9 L539.0,714.9 L540.5,714.8 L542.0,714.8 L543.5,714.8 L545.0,714.8 L546.5,714.8 L548.0,714.8 L549.5,714.7 L551.0,714.7 L552.5,714.7 L554.0,714.7 L555.5,714.7 L557.0,714.7 L558.5,714.6 L560.0,714.6 L561.5,714.6 L563.0,714.6 L564.5,714.6 L566.0,714.5 L567.5,714.5 L569.0,714.5 L570.5,714.4 L572.0,714.4 L573.5,714.4 L575.0,714.3 L576.5,714.3 L578.0,714.2 L579.5,714.1 L581.0,714.1 L582.5,714.0 L584.0,713.9 L585.5,713.9 L587.0,713.8 L588.5,713.8 L590.0,713.8 L591.5,713.7 L593.0,713.7 L594.5,713.7 L596.0,713.6 L597.5,713.6 L599.0,713.6 L600.5,713.5 L602.0,713.5 L603.5,713.4 L605.0,713.4 L606.5,713.3 L608.0,713.3 L609.5,713.2 L611.0,713.2 L612.5,713.2 L614.0,713.2 L615.5,713.2 L617.0,713.2 L618.5,713.2 L620.0,713.3 L621.5,713.4 L623.0,713.4 L624.5,713.5 L626.0,713.6 L627.5,713.8 L629.0,713.9 L630.5,714.1 L632.0,714.4 L633.5,714.7 L635.0,715.0 L636.5,715.4 L638.0,715.9 L639.5,716.4 L641.0,716.9 L642.5,717.6 L644.0,718.3 L645.5,719.2 L647.0,720.3 L648.5,721.6 L650.0,723.0 L651.5,724.6 L653.0,726.4 L654.5,728.5 L656.0,730.9 L657.5,733.6 L659.0,736.8 L660.5,740.3 L662.0,744.1 L663.5,748.3 L665.0,752.7 L666.5,757.4 L668.0,762.6 L669.5,768.4 L671.0,776.2 L672.5,786.2 L674.0,797.4 L675.5,809.7 L677.0,823.1 L678.5,837.3 L680.0,852.2 L681.5,868.1 L684.1,897.7" stroke="#fc8d62" stroke-width="1.5" fill="none"/>
<path d="M396.5,659.7 L398.0,662.7 L399.5,665.4 L401.0,667.8 L402.5,670.1 L404.0,672.4 L405.5,674.5 L407.0,676.5 L408.5,678.4 L410.0,680.2 L411.5,682.0 L413.0,683.7 L414.5,685.3 L416.0,686.8 L417.5,688.2 L419.0,689.6 L420.5,691.0 L422.0,692.3 L423.5,693.6 L425.0,694.7 L426.5,695.7 L428.0,696.7 L429.5,697.6 L431.0,698.5 L432.5,699.3 L434.0,700.1 L435.5,700.8 L437.0,701.5 L438.5,702.1 L440.0,702.7 L441.5,703.2 L443.0,703.7 L444.5,704.2 L446.0,704.7 L447.5,705.1 L449.0,705.5 L450.5,705.9 L452.0,706.2 L453.5,706.5 L455.0,706.8 L456.5,707.1 L458.0,707.4 L459.5,707.6 L461.0,707.8 L462.5,708.0 L464.0,708.3 L465.5,708.4 L467.0,708.6 L468.5,708.8 L470.0,708.9 L471.5,709.1 L473.0,709.2 L474.5,709.4 L476.0,709.5 L477.5,709.6 L479.0,709.8 L480.5,709.9 L482.0,709.9 L483.5,710.0 L485.0,710.1 L486.5,710.2 L488.0,710.2 L489.5,710.3 L491.0,710.4 L492.5,710.5 L494.0,710.6 L495.5,710.7 L497.0,710.8 L498.5,711.0 L500.0,711.1 L501.5,711.2 L503.0,711.4 L504.5,711.5 L506.0,711.6 L507.5,711.7 L509.0,711.8 L510.5,711.9 L512.0,711.9 L513.5,712.0 L515.0,712.0 L516.5,712.0 L518.0,712.0 L519.5,712.0 L521.0,712.0 L522.5,711.9 L524.0,711.9 L525.5,711.9 L527.0,711.8 L528.5,711.7 L530.0,711.7 L531.5,711.6 L533.0,711.5 L534.5,711.4 L536.0,711.3 L537.5,711.2 L539.0,711.1 L540.5,711.0 L542.0,710.9 L543.5,710.8 L545.0,710.7 L546.5,710.5 L548.0,710.4 L549.5,710.3 L551.0,710.1 L552.5,710.0 L554.0,709.8 L555.5,709.7 L557.0,709.5 L558.5,709.4 L560.0,709.2 L561.5,709.0 L563.0,708.8 L564.5,708.7 L566.0,708.5 L567.5,708.3 L569.0,708.1 L570.5,707.9 L572.0,707.7 L573.5,707.5 L575.0,707.3 L576.5,707.1 L578.0,706.8 L579.5,706.6 L581.0,706.3 L582.5,706.1 L584.0,705.9 L585.5,705.7 L587.0,705.6 L588.5,705.4 L590.0,705.3 L591.5,705.1 L593.0,704.9 L594.5,704.6 L596.0,704.4 L597.5,704.1 L599.0,703.9 L600.5,703.6 L602.0,703.4 L603.5,703.1 L605.0,702.9 L606.5,702.7 L608.0,702.4 L609.5,702.2 L611.0,702.0 L612.5,701.7 L614.0,701.4 L615.5,701.1 L617.0,700.8 L618.5,700.5 L620.0,700.2 L621.5,699.9 L623.0,699.7 L624.5,699.6 L626.0,699.5 L627.5,699.5 L629.0,699.5 L630.5,699.6 L632.0,699.8 L633.5,700.1 L635.0,700.4 L636.5,700.8 L638.0,701.3 L639.5,701.8 L641.0,702.3 L642.5,702.9 L644.0,703.4 L645.5,703.9 L647.0,704.3 L648.5,704.6 L650.0,704.8 L651.5,704.9 L653.0,704.9 L654.5,704.8 L656.0,704.7 L657.5,704.5 L659.0,704.2 L660.5,703.9 L662.0,703.4 L663.5,702.8 L665.0,702.0 L666.5,701.0 L668.0,699.7 L669.5,697.9 L671.0,695.6 L672.5,692.5 L674.0,688.3 L675.5,682.9 L677.0,677.0 L678.5,671.0 L680.0,664.6 L681.5,659.0 L684.1,653.2 M396.5,739.8 L398.0,738.8 L399.5,738.0 L401.0,737.3 L402.5,736.6 L404.0,735.9 L405.5,735.2 L407.0,734.6 L408.5,734.0 L410.0,733.4 L411.5,732.8 L413.0,732.2 L414.5,731.8 L416.0,731.4 L417.5,731.0 L419.0,730.5 L420.5,730.1 L422.0,729.6 L423.5,729.2 L425.0,728.8 L426.5,728.5 L428.0,728.1 L429.5,727.8 L431.0,727.5 L432.5,727.1 L434.0,726.8 L435.5,726.5 L437.0,726.2 L438.5,725.9 L440.0,725.7 L441.5,725.4 L443.0,725.1 L444.5,724.9 L446.0,724.6 L447.5,724.4 L449.0,724.1 L450.5,723.9 L452.0,723.7 L453.5,723.4 L455.0,723.2 L456.5,722.9 L458.0,722.7 L459.5,722.5 L461.0,722.2 L462.5,722.0 L464.0,721.8 L465.5,721.6 L467.0,721.4 L468.5,721.2 L470.0,720.9 L471.5,720.7 L473.0,720.5 L474.5,720.3 L476.0,720.1 L477.5,719.9 L479.0,719.7 L480.5,719.5 L482.0,719.4 L483.5,719.2 L485.0,719.0 L486.5,718.8 L488.0,718.6 L489.5,718.4 L491.0,718.3 L492.5,718.2 L494.0,718.1 L495.5,718.0 L497.0,718.0 L498.5,717.9 L500.0,717.9 L501.5,717.9 L503.0,717.9 L504.5,717.9 L506.0,717.9 L507.5,717.9 L509.0,717.9 L510.5,718.0 L512.0,718.0 L513.5,718.0 L515.0,718.0 L516.5,718.1 L518.0,718.1 L519.5,718.1 L521.0,718.1 L522.5,718.1 L524.0,718.2 L525.5,718.2 L527.0,718.2 L528.5,718.3 L530.0,718.3 L531.5,718.3 L533.0,718.4 L534.5,718.4 L536.0,718.5 L537.5,718.6 L539.0,718.6 L540.5,718.7 L542.0,718.8 L543.5,718.8 L545.0,718.9 L546.5,719.0 L548.0,719.1 L549.5,719.2 L551.0,719.3 L552.5,719.4 L554.0,719.5 L555.5,719.7 L557.0,719.8 L558.5,719.9 L560.0,720.0 L561.5,720.2 L563.0,720.3 L564.5,720.4 L566.0,720.6 L567.5,720.7 L569.0,720.8 L570.5,721.0 L572.0,721.1 L573.5,721.3 L575.0,721.4 L576.5,721.5 L578.0,721.6 L579.5,721.7 L581.0,721.8 L582.5,721.9 L584.0,722.0 L585.5,722.1 L587.0,722.2 L588.5,722.3 L590.0,722.4 L591.5,722.5 L593.0,722.5 L594.5,722.7 L596.0,722.8 L597.5,722.9 L599.0,723.1 L600.5,723.2 L602.0,723.4 L603.5,723.6 L605.0,723.8 L606.5,724.0 L608.0,724.2 L609.5,724.5 L611.0,724.7 L612.5,725.0 L614.0,725.3 L615.5,725.6 L617.0,725.9 L618.5,726.2 L620.0,726.5 L621.5,726.9 L623.0,727.3 L624.5,727.7 L626.0,728.1 L627.5,728.5 L629.0,729.0 L630.5,729.5 L632.0,730.1 L633.5,730.7 L635.0,731.3 L636.5,732.0 L638.0,732.8 L639.5,733.6 L641.0,734.5 L642.5,735.6 L644.0,736.8 L645.5,738.2 L647.0,739.8 L648.5,741.6 L650.0,743.7 L651.5,746.0 L653.0,748.6 L654.5,751.6 L656.0,755.3 L657.5,759.6 L659.0,764.9 L660.5,772.4 L662.0,784.6 L663.5,798.8 L665.0,815.4 L666.5,834.2 L668.0,854.5 L669.5,875.6 L671.0,896.8 L672.5,917.1 L674.0,936.3 L675.5,955.2 L677.0,973.9 L678.5,992.4 L680.0,1010.7 L681.5,1028.8 L684.1,1059.4" fill="none" stroke="#fc8d62" stroke-width="1.6" stroke-dasharray="5.5 2.4"/>
</g>
<path d="M396.5,585.0 L396.5,784.5 M396.1,784.5 L684.1,784.5" stroke="#000" stroke-width="0.85" fill="none"/>
<text x="389.5" y="788.5" font-size="11.5" text-anchor="end" textLength="23.0" lengthAdjust="spacingAndGlyphs" fill="#000">0.85</text>
<text x="389.5" y="763.7" font-size="11.5" text-anchor="end" textLength="23.0" lengthAdjust="spacingAndGlyphs" fill="#000">0.90</text>
<text x="389.5" y="738.8" font-size="11.5" text-anchor="end" textLength="23.0" lengthAdjust="spacingAndGlyphs" fill="#000">0.95</text>
<text x="389.5" y="713.9" font-size="11.5" text-anchor="end" textLength="23.0" lengthAdjust="spacingAndGlyphs" fill="#000">1.00</text>
<text x="389.5" y="689.0" font-size="11.5" text-anchor="end" textLength="23.0" lengthAdjust="spacingAndGlyphs" fill="#000">1.05</text>
<text x="389.5" y="664.1" font-size="11.5" text-anchor="end" textLength="23.0" lengthAdjust="spacingAndGlyphs" fill="#000">1.10</text>
<text x="389.5" y="639.2" font-size="11.5" text-anchor="end" textLength="23.0" lengthAdjust="spacingAndGlyphs" fill="#000">1.15</text>
<text x="389.5" y="614.3" font-size="11.5" text-anchor="end" textLength="23.0" lengthAdjust="spacingAndGlyphs" fill="#000">1.20</text>
<text x="389.5" y="589.4" font-size="11.5" text-anchor="end" textLength="23.0" lengthAdjust="spacingAndGlyphs" fill="#000">1.25</text>
<path d="M393.0,784.5 L396.5,784.5 M393.0,759.6 L396.5,759.6 M393.0,734.7 L396.5,734.7 M393.0,709.8 L396.5,709.8 M393.0,685.0 L396.5,685.0 M393.0,660.1 L396.5,660.1 M393.0,635.2 L396.5,635.2 M393.0,610.3 L396.5,610.3 M393.0,585.4 L396.5,585.4" stroke="#000" stroke-width="0.85" fill="none"/>
<text x="387.3" y="800.3" font-size="11.5" fill="#000" textLength="12.6" lengthAdjust="spacingAndGlyphs">10</text>
<text x="400.6" y="795.5" font-size="8.6" fill="#000" textLength="4.5" lengthAdjust="spacingAndGlyphs">1</text>
<text x="495.2" y="800.3" font-size="11.5" fill="#000" textLength="12.6" lengthAdjust="spacingAndGlyphs">10</text>
<text x="508.5" y="795.5" font-size="8.6" fill="#000" textLength="4.5" lengthAdjust="spacingAndGlyphs">2</text>
<text x="603.0" y="800.3" font-size="11.5" fill="#000" textLength="12.6" lengthAdjust="spacingAndGlyphs">10</text>
<text x="616.3" y="795.5" font-size="8.6" fill="#000" textLength="4.5" lengthAdjust="spacingAndGlyphs">3</text>
<path d="M396.5,784.5 L396.5,788.0 M504.4,784.5 L504.4,788.0 M612.2,784.5 L612.2,788.0" stroke="#000" stroke-width="0.85" fill="none"/>
<path d="M429.0,784.5 L429.0,786.5 M448.0,784.5 L448.0,786.5 M461.4,784.5 L461.4,786.5 M471.9,784.5 L471.9,786.5 M480.4,784.5 L480.4,786.5 M487.6,784.5 L487.6,786.5 M493.9,784.5 L493.9,786.5 M499.4,784.5 L499.4,786.5 M536.8,784.5 L536.8,786.5 M555.8,784.5 L555.8,786.5 M569.3,784.5 L569.3,786.5 M579.7,784.5 L579.7,786.5 M588.3,784.5 L588.3,786.5 M595.5,784.5 L595.5,786.5 M601.7,784.5 L601.7,786.5 M607.3,784.5 L607.3,786.5 M644.7,784.5 L644.7,786.5 M663.7,784.5 L663.7,786.5 M677.1,784.5 L677.1,786.5" stroke="#000" stroke-width="0.65" fill="none"/>
<text x="514.9" y="814.0" font-size="11.0" fill="#000" textLength="9.6" lengthAdjust="spacingAndGlyphs">m</text>
<text x="524.9" y="815.8" font-size="7.7" fill="#000" textLength="5.0" lengthAdjust="spacingAndGlyphs">X</text>
<text x="533.5" y="814.0" font-size="11.0" fill="#000" textLength="31.0" lengthAdjust="spacingAndGlyphs">(GeV)</text>
<text transform="translate(359.5,685.0) rotate(-90)" font-size="11.0" text-anchor="middle" fill="#000" textLength="142.5" lengthAdjust="spacingAndGlyphs">Ratio to NNPDF4.0 (NNLO)</text>
<path d="M396.5,861.6 L396.5,1061.0 M396.1,1061.0 L684.1,1061.0" stroke="#000" stroke-width="0.85" fill="none"/>
<text x="389.5" y="1065.0" font-size="11.5" text-anchor="end" textLength="23.0" lengthAdjust="spacingAndGlyphs" fill="#000">0.00</text>
<text x="389.5" y="1040.2" font-size="11.5" text-anchor="end" textLength="23.0" lengthAdjust="spacingAndGlyphs" fill="#000">0.01</text>
<text x="389.5" y="1015.3" font-size="11.5" text-anchor="end" textLength="23.0" lengthAdjust="spacingAndGlyphs" fill="#000">0.02</text>
<text x="389.5" y="990.4" font-size="11.5" text-anchor="end" textLength="23.0" lengthAdjust="spacingAndGlyphs" fill="#000">0.03</text>
<text x="389.5" y="965.5" font-size="11.5" text-anchor="end" textLength="23.0" lengthAdjust="spacingAndGlyphs" fill="#000">0.04</text>
<text x="389.5" y="940.7" font-size="11.5" text-anchor="end" textLength="23.0" lengthAdjust="spacingAndGlyphs" fill="#000">0.05</text>
<text x="389.5" y="915.8" font-size="11.5" text-anchor="end" textLength="23.0" lengthAdjust="spacingAndGlyphs" fill="#000">0.06</text>
<text x="389.5" y="890.9" font-size="11.5" text-anchor="end" textLength="23.0" lengthAdjust="spacingAndGlyphs" fill="#000">0.07</text>
<text x="389.5" y="866.0" font-size="11.5" text-anchor="end" textLength="23.0" lengthAdjust="spacingAndGlyphs" fill="#000">0.08</text>
<path d="M393.0,1061.0 L396.5,1061.0 M393.0,1036.1 L396.5,1036.1 M393.0,1011.2 L396.5,1011.2 M393.0,986.4 L396.5,986.4 M393.0,961.5 L396.5,961.5 M393.0,936.6 L396.5,936.6 M393.0,911.8 L396.5,911.8 M393.0,886.9 L396.5,886.9 M393.0,862.0 L396.5,862.0" stroke="#000" stroke-width="0.85" fill="none"/>
<text x="387.3" y="1076.8" font-size="11.5" fill="#000" textLength="12.6" lengthAdjust="spacingAndGlyphs">10</text>
<text x="400.6" y="1072.0" font-size="8.6" fill="#000" textLength="4.5" lengthAdjust="spacingAndGlyphs">1</text>
<text x="495.2" y="1076.8" font-size="11.5" fill="#000" textLength="12.6" lengthAdjust="spacingAndGlyphs">10</text>
<text x="508.5" y="1072.0" font-size="8.6" fill="#000" textLength="4.5" lengthAdjust="spacingAndGlyphs">2</text>
<text x="603.0" y="1076.8" font-size="11.5" fill="#000" textLength="12.6" lengthAdjust="spacingAndGlyphs">10</text>
<text x="616.3" y="1072.0" font-size="8.6" fill="#000" textLength="4.5" lengthAdjust="spacingAndGlyphs">3</text>
<path d="M396.5,1061.0 L396.5,1064.5 M504.4,1061.0 L504.4,1064.5 M612.2,1061.0 L612.2,1064.5" stroke="#000" stroke-width="0.85" fill="none"/>
<path d="M429.0,1061.0 L429.0,1063.0 M448.0,1061.0 L448.0,1063.0 M461.4,1061.0 L461.4,1063.0 M471.9,1061.0 L471.9,1063.0 M480.4,1061.0 L480.4,1063.0 M487.6,1061.0 L487.6,1063.0 M493.9,1061.0 L493.9,1063.0 M499.4,1061.0 L499.4,1063.0 M536.8,1061.0 L536.8,1063.0 M555.8,1061.0 L555.8,1063.0 M569.3,1061.0 L569.3,1063.0 M579.7,1061.0 L579.7,1063.0 M588.3,1061.0 L588.3,1063.0 M595.5,1061.0 L595.5,1063.0 M601.7,1061.0 L601.7,1063.0 M607.3,1061.0 L607.3,1063.0 M644.7,1061.0 L644.7,1063.0 M663.7,1061.0 L663.7,1063.0 M677.1,1061.0 L677.1,1063.0" stroke="#000" stroke-width="0.65" fill="none"/>
<text x="514.9" y="1090.5" font-size="11.0" fill="#000" textLength="9.6" lengthAdjust="spacingAndGlyphs">m</text>
<text x="524.9" y="1092.3" font-size="7.7" fill="#000" textLength="5.0" lengthAdjust="spacingAndGlyphs">X</text>
<text x="533.5" y="1090.5" font-size="11.0" fill="#000" textLength="31.0" lengthAdjust="spacingAndGlyphs">(GeV)</text>
<text transform="translate(359.5,961.5) rotate(-90)" font-size="11.0" text-anchor="middle" fill="#000" textLength="142.5" lengthAdjust="spacingAndGlyphs">Ratio to NNPDF4.0 (NNLO)</text>
<text x="540.3" y="564.5" font-size="13.2" text-anchor="middle" fill="#000" textLength="86.3" lengthAdjust="spacingAndGlyphs">qq̄ luminosity</text>
<path d="M501.2,573.2 l1.7,-0.9 l2.8,6.2 l1.8,-9.5 h11.0" stroke="#000" stroke-width="0.95" fill="none" stroke-linejoin="miter"/>
<text x="510.2" y="578.6" font-size="13.2" fill="#000" textLength="6.4" lengthAdjust="spacingAndGlyphs">s</text>
<text x="521.8" y="578.6" font-size="13.2" fill="#000" textLength="57.6" lengthAdjust="spacingAndGlyphs">= 14 TeV</text>
<text x="540.3" y="840.7" font-size="13.2" text-anchor="middle" fill="#000" textLength="164.5" lengthAdjust="spacingAndGlyphs">qq̄ luminosity uncertainty</text>
<path d="M501.2,849.4 l1.7,-0.9 l2.8,6.2 l1.8,-9.5 h11.0" stroke="#000" stroke-width="0.95" fill="none" stroke-linejoin="miter"/>
<text x="510.2" y="854.8" font-size="13.2" fill="#000" textLength="6.4" lengthAdjust="spacingAndGlyphs">s</text>
<text x="521.8" y="854.8" font-size="13.2" fill="#000" textLength="57.6" lengthAdjust="spacingAndGlyphs">= 14 TeV</text>
<rect x="476.6" y="590.4" width="203.7" height="36.3" rx="2" ry="2" fill="#fff" fill-opacity="0.8" stroke="#ccc" stroke-width="0.85"/>
<rect x="483.3" y="596.4" width="17.0" height="7.0" fill="#66c2a5" fill-opacity="0.5"/>
<rect x="481.0" y="596.2" width="21.6" height="7.4" fill="none" stroke="#66c2a5" stroke-width="1.4" stroke-dasharray="3.0 1.6"/>
<path d="M489.3,602.7 l6.6,-5.7" stroke="#666" stroke-width="0.9"/>
<text x="511.4" y="603.4" font-size="11.0" text-anchor="start" textLength="162.3" lengthAdjust="spacingAndGlyphs" fill="#000">NNPDF4.0 (NNLO) (68 c.l.+1σ)</text>
<rect x="483.3" y="612.7" width="17.0" height="7.0" fill="#fc8d62" fill-opacity="0.5"/>
<rect x="481.0" y="612.5" width="21.6" height="7.4" fill="none" stroke="#fc8d62" stroke-width="1.4" stroke-dasharray="3.0 1.6"/>
<text x="511.4" y="619.7" font-size="11.0" text-anchor="start" textLength="162.3" lengthAdjust="spacingAndGlyphs" fill="#000">NNPDF3.1 (NNLO) (68 c.l.+1σ)</text>
<rect x="473.5" y="867.5" width="134.7" height="34.8" rx="2" ry="2" fill="#fff" fill-opacity="0.8" stroke="#ccc" stroke-width="0.85"/>
<path d="M476.9,876.5 h22.5" stroke="#66c2a5" stroke-width="1.5" fill="none"/>
<text x="507.8" y="880.4" font-size="11.0" text-anchor="start" textLength="96.0" lengthAdjust="spacingAndGlyphs" fill="#000">NNPDF4.0 (NNLO)</text>
<path d="M476.9,892.9 h22.5" stroke="#fc8d62" stroke-width="1.5" fill="none"/>
<text x="507.8" y="896.8" font-size="11.0" text-anchor="start" textLength="96.0" lengthAdjust="spacingAndGlyphs" fill="#000">NNPDF3.1 (NNLO)</text>
</svg>
</body></html>
